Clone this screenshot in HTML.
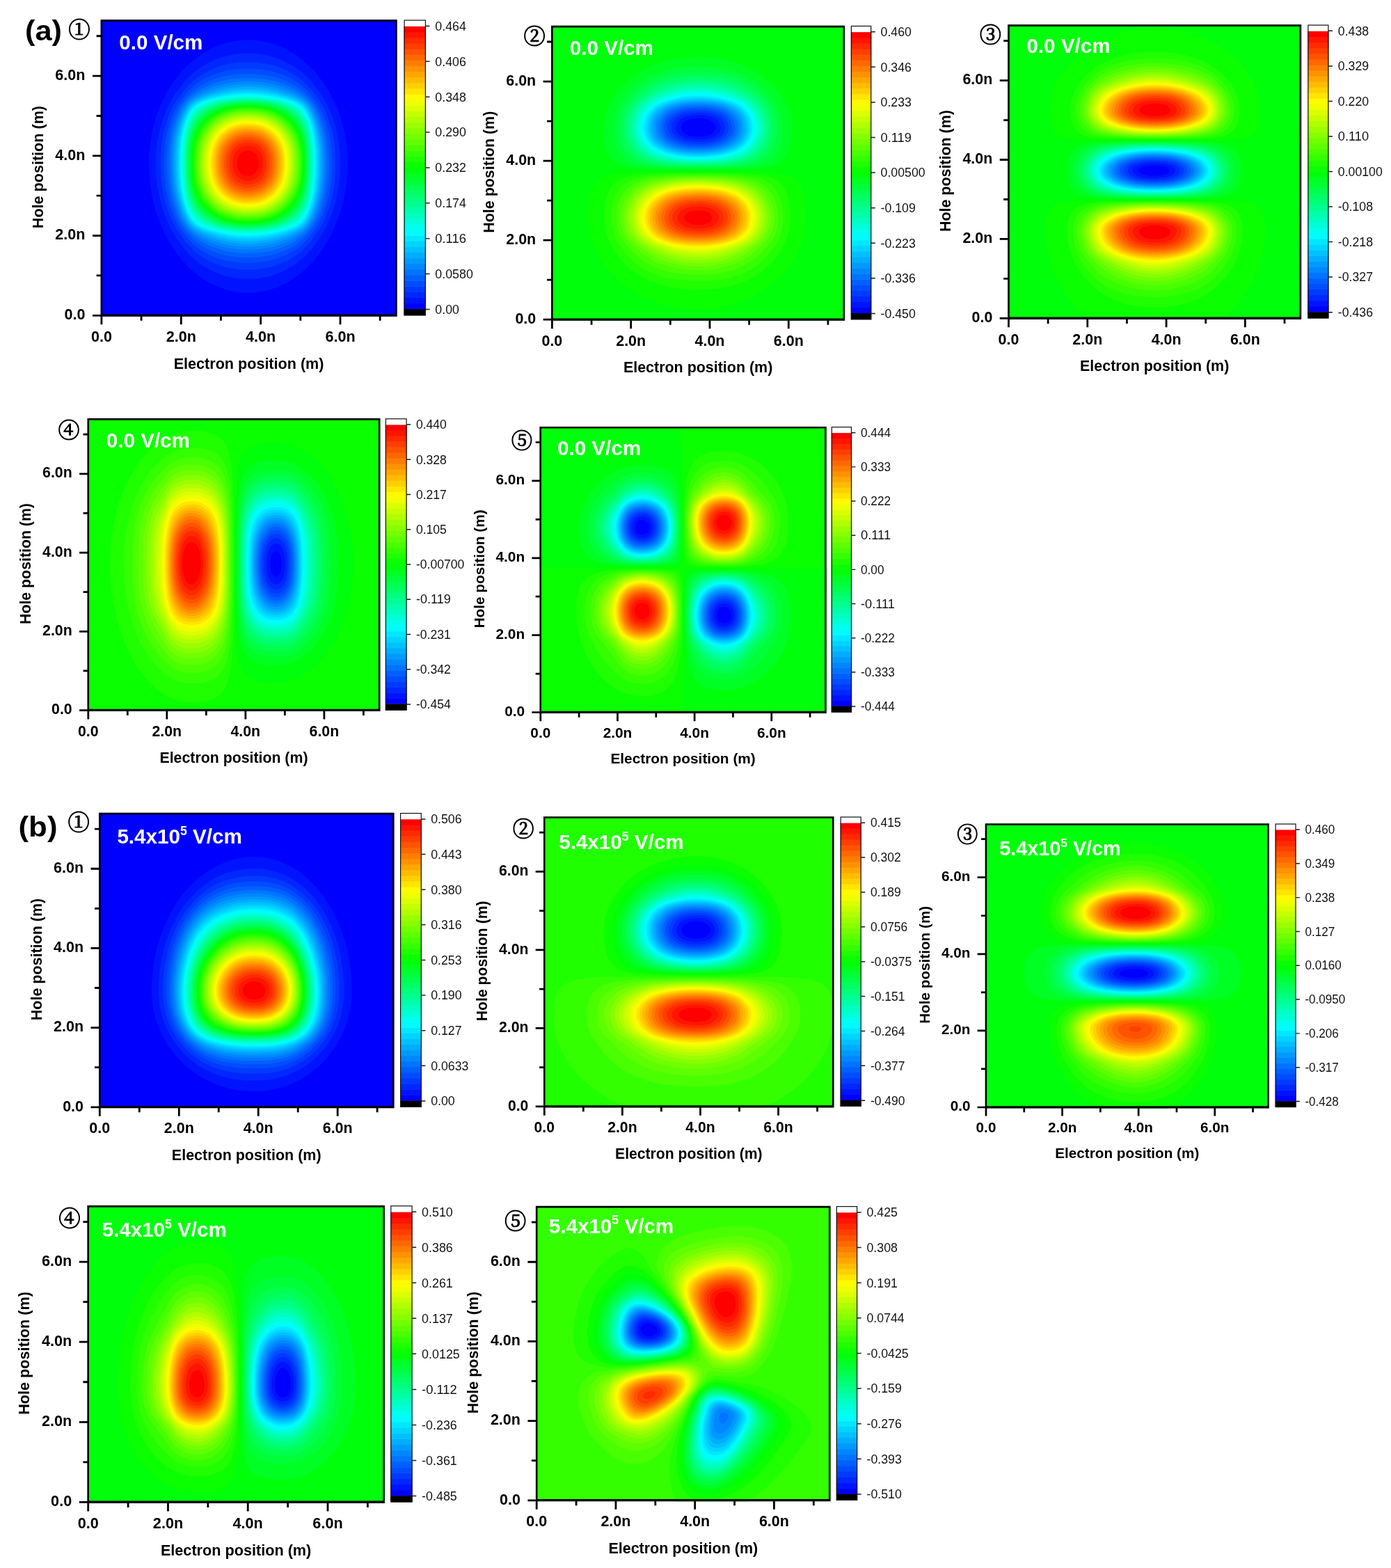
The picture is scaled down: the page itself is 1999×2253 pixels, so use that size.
<!DOCTYPE html>
<html lang="en">
<head>
<meta charset="utf-8">
<title>Electron-hole wavefunction maps</title>
<style>
html,body{margin:0;padding:0;background:#fff;}
body{width:1999px;height:2253px;overflow:hidden;}
svg{display:block;font-family:"Liberation Sans", "DejaVu Sans", sans-serif;}
text{white-space:pre;}
</style>
</head>
<body>
<svg width="1999" height="2253" viewBox="0 0 1999 2253">
<rect width="1999" height="2253" fill="#fff"/>
<!-- panel a1 -->
<g><clipPath id="ca1"><rect x="144.6" y="28.3" width="426.0" height="426.5"/></clipPath><g clip-path="url(#ca1)" fill-rule="evenodd" shape-rendering="geometricPrecision"><rect x="144.6" y="28.3" width="426.0" height="426.5" fill="#0000ff"/><path fill="#0013ff" d="M342.5 58.3l7.1 -.6 7 -.2 8 .3 7 .7 7 1.1 7 1.6 7 2.1 7 2.5 7 3 6 3 7 3.9 6 3.9 6 4.4 6 4.8 6 5.4 5 5 5.5 6.1 5 6 5.2 7 4 6 4.9 8 3.8 7 3.9 8 3 7 3.1 8 3 9 2.3 8 2 8 1.8 9 1.3 8 1 9 .7 9 .3 9 0 9 -.4 9 -.8 10 -1.1 9 -1.3 8 -1.7 9 -2.2 9 -2.5 9 -2.6 8 -3.4 9 -3.4 8 -3.8 8 -4.2 8 -4.2 7 -4.5 7 -5.1 7 -4.8 6 -5.2 6 -5.8 6 -5.8 5.4 -6 5 -7 5.2 -6 3.9 -7 4 -6 3 -7 3 -6 2.2 -7 2 -7 1.6 -7 1.2 -8 .7 -7 .2 -6 -.2 -7 -.6 -7 -1.1 -7 -1.6 -7 -2.1 -7 -2.5 -6 -2.6 -6 -3 -7 -4 -6 -3.9 -6 -4.4 -6 -4.9 -5 -4.6 -5.9 -5.9 -5.1 -5.7 -5 -6.1 -4.6 -6.2 -4.8 -7 -4.2 -7 -3.9 -7 -4 -8 -3.2 -7 -3.6 -9 -3.1 -9 -2.1 -7 -2.2 -8 -2 -9 -1.7 -9 -1.2 -8 -1 -9 -.7 -9 -.3 -9 0 -9 .3 -8 .6 -9 1 -8 1.2 -8 1.8 -9 1.9 -8 2.2 -8 2.2 -7 2.9 -8 2.9 -7 3.2 -7 4.2 -8 4 -7 4.4 -7 4.2 -6 5.4 -7 5.2 -6 5 -5.3 5 -4.8 6 -5.3 6 -4.7 6 -4.1 7 -4.4 6 -3.2 6 -2.8 7 -2.9 6 -2 7 -2 7 -1.5z"/><path fill="#0027ff" d="M341.7 77.3l6.9 -.6 7 -.2 7 .2 7 .5 6 .7 7 1.3 7 1.7 6 1.8 6 2.2 6 2.6 6 2.9 6 3.4 5 3.2 5 3.6 5 4 5.2 4.7 4.8 4.8 4.6 5.2 4.8 6 4.5 6 4.7 7 3.7 6 3.3 6 2.9 6 2.9 7 3 8 2.2 7 2.1 8 1.8 8 1.3 7 1.1 8 .9 9 .5 9 .1 8 -.2 9 -.5 9 -.9 9 -1.1 8 -1.5 8 -1.7 8 -2.1 8 -2.8 9 -2.9 8 -2.5 6 -2.7 6 -3.1 6 -4.1 7 -4.5 7 -4.2 6 -5.4 7 -4.2 5 -5 5.3 -5 4.7 -5 4.2 -6 4.5 -6 3.9 -7 3.9 -6 2.9 -6 2.5 -6 2.1 -6 1.8 -7 1.5 -7 1.2 -7 .7 -6 .3 -7 0 -6 -.3 -7 -.7 -7 -1.2 -6 -1.4 -6 -1.7 -6 -2 -6 -2.5 -6 -2.9 -6 -3.3 -5 -3.1 -6 -4.3 -5 -4 -5 -4.5 -4 -3.9 -4.2 -4.7 -5 -6 -4.4 -6 -4.8 -7 -4.3 -7 -4 -7 -2.9 -6 -2.7 -6 -2.3 -6 -2.8 -8 -2.4 -8 -2 -8 -1.7 -8 -1.4 -8 -1.2 -9 -.7 -8 -.5 -9 -.2 -8 .1 -8 .5 -8 .6 -7 1 -8 1.5 -9 1.5 -7 2.1 -8 2.4 -8 2.4 -7 2.9 -7 2.7 -6 3.1 -6 3.6 -6 3.9 -6 4.2 -6 4.6 -6 4.4 -5.3 5 -5.4 5 -4.8 5 -4.2 5 -3.8 6 -4.1 6 -3.5 6 -3.1 6 -2.7 6 -2.2 7 -2.2 6 -1.5 7 -1.4z"/><path fill="#003aff" d="M338.6 90.3l7 -.6 7 -.3 7 0 7 .2 6 .6 7 .9 6 1.1 6 1.5 6 1.7 6 2.2 5 2 6 2.9 6 3.3 5 3.2 5 3.6 4 3.2 4 3.6 4 4 4 4.6 4.3 5.3 5.3 7 3.5 5 3.1 5 3.2 6 2.3 5 2.8 7 2.1 6 2.1 7 1.9 7 1.7 8 1.2 7 .9 7 .8 8 .4 8 .2 8 -.2 8 -.4 8 -.6 8 -1 8 -1.1 7 -1.3 7 -1.9 8 -1.9 7 -2.6 8 -2.3 6 -3 7 -2.9 6 -2.9 5 -3.9 6 -6.4 9 -4.4 5.6 -4 4.7 -4 4.2 -4 3.7 -5 4.1 -5 3.6 -6 3.7 -6 3.3 -6 2.8 -6 2.4 -7 2.3 -6 1.6 -7 1.4 -7 1 -6 .5 -7 .3 -7 0 -7 -.3 -6 -.6 -7 -1 -6 -1.2 -6 -1.5 -6 -1.9 -5 -1.9 -5 -2.1 -6 -3 -5 -2.9 -5 -3.2 -5 -3.7 -5 -4.1 -4 -3.8 -4 -4.2 -4 -4.8 -4.6 -6 -5 -7 -3.9 -6 -2.9 -5 -3 -6 -2.2 -5 -2.8 -7 -2.3 -7 -2.1 -7 -1.7 -7 -1.7 -8 -1.2 -7 -1.1 -8 -.8 -8 -.4 -7 -.3 -8 .1 -8 .2 -8 .6 -7 .7 -7 1.2 -8 1.5 -8 1.4 -6 1.9 -7 2.5 -8 2.6 -7 2.6 -6 3 -6 2.9 -5 3.8 -5.7 5.4 -7.3 4.8 -6 4.8 -5.4 4 -4 5 -4.4 5 -3.8 4 -2.8 5 -3 6 -3.2 6 -2.8 7 -2.7 7 -2.2 6 -1.5 7 -1.4z"/><path fill="#004dff" d="M342.2 99.3l6.4 -.4 7 -.2 7 .2 7 .4 6 .5 6 .9 6 1.1 6 1.5 5 1.4 6 2.1 5 2 6 2.8 5 2.7 5 3 5 3.5 4 3.1 4 3.6 4 4.2 5.8 6.6 4 5 3 4 2.6 4 4.2 8 2.7 6 2.3 6 2 6 1.7 6 1.6 6 1.4 7 1.2 7 .9 7 .8 8 .4 8 .1 8 -.1 8 -.4 8 -.6 8 -1 8 -1 7 -1.4 7 -1.6 7 -1.9 7 -2.3 7 -2.2 6 -2.6 6 -2.9 6 -2.8 5 -3.3 5 -3.8 5 -5.8 7.3 -4 4.5 -4 4 -4 3.5 -4 3.1 -5 3.4 -5 2.9 -6 3.1 -6 2.7 -6 2.3 -6 1.8 -7 1.8 -6 1.1 -7 1 -7 .6 -6 .3 -7 0 -7 -.2 -7 -.6 -6 -.8 -6 -1 -6 -1.4 -6 -1.7 -6 -2.1 -5 -2.1 -6 -2.8 -5 -2.7 -5 -3.1 -5 -3.5 -4 -3.3 -4 -3.6 -4 -4.2 -4 -4.7 -4.4 -5.6 -3.7 -5 -3.3 -5 -2.3 -4 -2.5 -5 -2.6 -6 -2.7 -7 -2 -6 -2 -7 -1.7 -7 -1.4 -7 -1.1 -7 -.9 -7 -.8 -8 -.5 -8 -.2 -8 .1 -8 .3 -8 .5 -7 .8 -7 1.2 -8 1.5 -8 1.4 -6 1.7 -6 2.3 -7 2.2 -6 2.6 -6 3 -6 2.9 -5 3.5 -5 4.1 -5.2 6 -7 4 -4.2 4 -3.6 4 -3.3 4 -2.8 5 -3.2 6 -3.3 6 -2.8 6 -2.4 6 -2 7 -1.9 7 -1.5 7 -1.1z"/><path fill="#0060ff" d="M346.4 106.3l13.2 -.2 7 .2 6 .5 6 .7 6 .9 6 1.3 5 1.2 6 1.8 6 2.2 5 2.1 6 2.8 5 2.8 4 2.4 4 2.9 4 3.2 4 3.6 4 4 3.3 3.6 3.2 4 2.9 4 2.4 4 2.7 5 1.8 4 2.1 5 2.2 6 1.9 6 1.9 7 2.5 12 1.7 13 .6 8 .3 7 .1 8 -.1 9 -1 15 -1 8 -1.1 7 -1.6 8 -1.5 6 -2 7 -2 6 -2.7 7 -2.2 5 -3 6 -3 5 -2.8 4 -4 5 -4.6 5.2 -4 4 -4 3.5 -4 3.1 -4 2.8 -5 3 -6 3.1 -6 2.7 -5 1.9 -6 2 -6 1.6 -6 1.3 -7 1.2 -6 .7 -6 .4 -7 .3 -7 -.1 -7 -.3 -6 -.6 -6 -.7 -6 -1.1 -6 -1.4 -5 -1.4 -6 -2 -5 -1.9 -6 -2.7 -5 -2.6 -5 -3 -5 -3.4 -4 -3.2 -4 -3.6 -4 -4 -4 -4.5 -3.5 -4.3 -2.8 -4 -2.5 -4 -2.7 -5 -2.4 -5 -2.5 -6 -2.1 -6 -2.2 -7 -1.8 -7 -1.6 -7 -1.2 -7 -1.1 -7 -.7 -7 -.6 -8 -.3 -8 -.1 -8 .2 -8 .4 -8 .6 -7 1.1 -8 1 -6 1.5 -7 1.7 -7 2.2 -7 2.1 -6 2.5 -6 2.3 -5 2.7 -5 3.2 -5 3.6 -4.7 4 -4.5 5 -5 4 -3.6 4 -3.1 4 -2.8 5 -3 5 -2.7 6 -2.7 6 -2.4 6 -2 6 -1.6 6 -1.3 7 -1.2 7 -.9z"/><path fill="#0074ff" d="M344.4 112.3l6.2 -.3 7 -.1 13 .6 12 1.4 11 2.3 6 1.6 5 1.6 6 2.3 5 2.1 5 2.4 5 2.8 4 2.6 4 2.8 4 3.2 3 2.7 3 2.9 2.7 3.1 2.3 3 2.1 3 4.4 8 2.3 5 2 5 3.6 11 3 12 1.1 6 1 7 .9 8 .4 7 .3 8 .1 9 -.3 8 -.4 8 -.8 8 -1.1 8 -1.2 7 -1.5 7 -1.6 6 -2.1 7 -2.1 6 -2.4 6 -2.8 6 -2.7 5 -2.5 4 -3 4 -3.6 4 -3.1 3.1 -4 3.6 -4 3.1 -4 2.9 -5 3 -5 2.7 -6 2.8 -6 2.4 -5 1.7 -5 1.5 -6 1.4 -6 1.2 -6 .9 -6 .7 -7 .4 -7 .2 -7 -.2 -6 -.3 -7 -.7 -6 -.9 -6 -1.1 -5 -1.2 -6 -1.7 -6 -2 -5 -2 -6 -2.7 -5 -2.7 -5 -3 -4 -2.8 -4 -3.1 -4 -3.4 -3 -3 -3 -3.2 -2.9 -3.6 -2.1 -3 -2.4 -4 -2.1 -4 -2.8 -6 -2.1 -5 -2.1 -6 -1.8 -6 -1.9 -7 -1.3 -6 -1.3 -7 -1.1 -7 -.9 -8 -.5 -8 -.3 -8 -.1 -9 .2 -8 .4 -8 .7 -7 1.1 -8 1.2 -7 1.5 -7 1.9 -7 2.3 -7 2.2 -6 2.7 -6 3.1 -6 2.4 -4 2.8 -4 3.2 -3.7 3 -3 4 -3.5 4 -3.2 5 -3.4 5 -3 5 -2.6 6 -2.7 6 -2.3 6 -2 5 -1.4 7 -1.6 6 -1.1 7 -.9z"/><path fill="#0087ff" d="M342.8 117.3l12.8 -.5 12 .4 7 .6 6 .7 11 2.1 11 2.9 6 2.1 5 2 9 4.1 5 2.8 5 3.1 6 4.5 3 2.8 2.2 2.4 2.4 3 2 3 3.9 7 3.9 9 3.2 9 2.9 11 2.2 11 1 7 .7 8 .5 8 .2 8 0 9 -.3 8 -.5 8 -.8 8 -1 7 -1.3 7 -1.5 7 -1.9 7 -2.2 7 -2.2 6 -2.6 6 -2.4 5 -2.3 4 -2.7 4 -2.4 3 -2.8 3 -3.2 2.9 -3 2.4 -5 3.4 -4 2.5 -4 2.3 -6 2.9 -5 2.2 -6 2.2 -5 1.7 -6 1.6 -6 1.4 -6 1 -7 1 -6 .5 -7 .3 -7 .1 -6 -.2 -7 -.5 -7 -.9 -6 -1 -6 -1.2 -5 -1.3 -6 -1.9 -6 -2.1 -6 -2.5 -5 -2.4 -5 -2.7 -5 -3.1 -7 -5.2 -3 -2.6 -2.8 -2.8 -2.5 -3 -2.2 -3 -4 -7 -4.1 -9 -2.3 -6 -1.9 -6 -3 -11 -1.4 -7 -1 -6 -1.1 -8 -.8 -8 -.4 -8 -.2 -9 0 -9 .3 -8 .6 -8 .9 -8 1.1 -7 1.4 -7 1.8 -7 2 -7 2.2 -6 2.9 -7 2.9 -6 2.3 -4 2.8 -4 2.5 -3 3 -3 3 -2.5 4 -3 5 -3.1 5 -2.8 5 -2.5 6 -2.6 5 -1.9 6 -1.9 6 -1.7 6 -1.3 6 -1.1 7 -1z"/><path fill="#009aff" d="M345.2 121.3l12.4 -.3 12 .5 12 1.3 11 2.1 6 1.5 6 1.8 5 1.8 7 2.7 5 2.2 6 3 7 4.2 5 4.1 4 4.4 3.7 5.7 3.6 7 3.7 9 3.1 10 2.5 10 1.7 10 1 8 .6 7 .4 8 .1 8 -.1 9 -.3 8 -.6 8 -.9 8 -2.1 13 -1.6 7 -1.9 7 -2.3 7 -1.9 5 -2.5 6 -2.5 5 -3.8 6 -2.3 3 -2.6 2.7 -3 2.6 -3 2.2 -4 2.6 -4 2.3 -6 3 -5 2.2 -5 2.1 -6 2.1 -6 1.8 -6 1.6 -6 1.2 -6 1 -7 .8 -6 .5 -6 .2 -7 0 -7 -.3 -6 -.5 -6 -.7 -7 -1.2 -6 -1.3 -6 -1.6 -6 -1.9 -5 -1.8 -7 -2.9 -5 -2.4 -5 -2.6 -5 -3 -3 -2.1 -3 -2.4 -4.2 -4.2 -2.4 -3 -2 -3 -3.8 -7 -2.2 -5 -2 -5 -3.2 -10 -2.8 -11 -2.2 -12 -.9 -7 -.7 -8 -.5 -8 -.2 -9 .1 -9 .3 -8 .5 -8 .9 -8 1.1 -7 1.4 -7 1.5 -6 2 -7 2.4 -7 2.5 -6 2.9 -6 2.3 -4 2 -3 2.5 -3 2.7 -2.7 3 -2.5 3 -2.1 5 -3 5 -2.5 6 -2.7 6 -2.4 6 -2.1 6 -1.8 6 -1.5 6 -1.3 6 -1 7 -.9z"/><path fill="#00adff" d="M340.3 125.3l11.3 -.7 12 .1 11 .8 11 1.6 11 2.4 11 3.2 13 4.8 5 2.1 4 2.1 5 3.1 4.1 3.5 3.5 4 3.3 5 3.5 7 2.9 7 2.9 9 2.3 9 1.5 7 1.1 7 .8 7 .6 8 .4 9 .1 9 -.2 9 -.5 9 -.7 8 -.9 7 -1.2 7 -1.2 6 -1.7 7 -2 7 -2.1 6 -2.3 6 -3.4 7 -1.8 3 -2 3 -2 2.4 -2.5 2.6 -2.5 2.1 -3 2.1 -4 2.5 -4 2 -11 4.7 -12 4.2 -11 2.9 -6 1.2 -6 1 -7 .7 -6 .5 -7 .2 -6 -.1 -7 -.3 -6 -.6 -6 -.8 -6 -1 -6 -1.3 -6 -1.6 -6 -1.8 -6 -2.1 -7 -2.8 -6 -2.6 -7 -3.8 -5 -3.5 -4.1 -3.8 -1.9 -2.2 -2 -2.8 -1.9 -3 -2.1 -4 -3.5 -8 -3.4 -10 -2.9 -11 -1.6 -8 -1.3 -8 -.9 -8 -.7 -9 -.3 -9 -.1 -10 .3 -9 .5 -9 .9 -8 1.2 -8 1.3 -7 1.8 -7 2 -7 2.1 -6 2.5 -6 2.4 -5 2.3 -4 2.1 -3 2.3 -2.8 2 -2 3 -2.4 3 -2.1 4 -2.2 4 -2 5 -2.1 8 -2.9 6 -2 7 -2 7 -1.7 6 -1.1 6 -1z"/><path fill="#00c1ff" d="M342.5 128.3l11.1 -.5 11 .2 11 .8 11 1.7 11 2.4 14 4 11 3.8 7 3.4 4.9 3.2 3.4 3 3.4 4 3.1 5 3 6 2.7 7 2.9 9 2.2 9 1.3 7 1.1 7 .8 7 .5 8 .3 8 .1 9 -.1 9 -.5 8 -.6 8 -.9 7 -2.2 13 -1.7 7 -2 7 -1.9 6 -2.4 6 -3.4 7 -2 3.4 -2 2.8 -2 2.3 -2.6 2.5 -2.4 1.9 -3 1.9 -3 1.8 -4 1.9 -10 3.9 -13 4.2 -11 2.7 -6 1.2 -6 .9 -7 .7 -6 .4 -6 .1 -7 -.1 -6 -.3 -7 -.6 -6 -.8 -6 -1.1 -12 -2.9 -7 -2.1 -7 -2.4 -6 -2.2 -5 -2.2 -6 -3.2 -5 -3.7 -4 -4 -3.6 -5 -3.6 -7 -3.3 -8 -3.1 -10 -2.5 -10 -1.3 -7 -1.2 -8 -.9 -8 -.6 -9 -.3 -9 0 -10 .2 -9 .6 -9 .9 -8 1 -7 1.4 -7 1.7 -7 2 -7 2.1 -6 2.5 -6 2.5 -5 1.8 -3 2.1 -3 2.6 -3 2 -1.9 3 -2.3 3 -1.8 3 -1.6 4 -1.8 5 -2 7 -2.3 7 -2.1 8 -2.1 7 -1.5 6 -1.1 7 -.9z"/><path fill="#00d4ff" d="M340.6 131.3l9 -.6 10 -.1 9 .4 10 1 10 1.6 10 2.1 11 2.9 10 3.2 5 2 5 2.5 4 2.7 3 2.7 3 3.5 2.7 4.1 2.6 5 2.2 5 3.3 10 1.6 6 1.4 6 2 12 1.3 13 .5 15 -.2 16 -1 14 -1.7 13 -2.5 12 -3 11 -3.4 9 -1.8 4 -2.2 4 -1.8 2.8 -2 2.6 -2.4 2.6 -2.6 2.2 -3 2.2 -3 1.7 -7 3.2 -12 4.1 -11 3.1 -12 2.6 -11 1.5 -11 .8 -12 .1 -11 -.8 -11 -1.5 -7 -1.4 -6 -1.4 -13 -3.7 -6 -2 -5 -1.9 -4 -1.8 -3.7 -2 -3 -2 -2.5 -2 -2.1 -2 -2.5 -3 -2.1 -3 -1.8 -3 -2 -4 -1.7 -4 -2.5 -7 -2.3 -8 -2.1 -9 -1.5 -8 -1 -8 -1 -10 -.5 -10 -.1 -10 .2 -10 .5 -10 .9 -9 1.1 -8 1.6 -8 2 -8 2.4 -8 2.3 -6 1.9 -4 2.1 -4 2 -3 2.4 -3.2 2 -2 3 -2.6 3 -2 4 -2.1 4 -1.8 6 -2.1 9 -2.7 8 -2 8 -1.8 6 -1.1 7 -1z"/><path fill="#00e7ff" d="M348.5 133.3l9.1 -.2 10 .4 10 .9 9 1.2 11 2.1 10 2.5 10 2.9 7 2.8 4 2 4 2.8 3 2.7 3.2 3.9 2.6 4 2.5 5 2.4 6 2.3 7 1.6 6 1.3 6 1.3 7 .8 6 1.3 14 .4 15 -.3 16 -1.1 14 -.9 7 -1.1 7 -1.5 7 -1.4 6 -3.1 10 -3.4 8 -1.9 3.7 -2 3.2 -2 2.6 -2 2.2 -2.5 2.3 -2.5 1.9 -3 1.9 -3 1.5 -7 2.9 -10 3.2 -12 3.1 -13 2.4 -6 .8 -7 .7 -12 .4 -12 -.4 -12 -1.2 -6 -1 -7 -1.3 -13 -3.3 -10 -3.1 -7 -2.8 -3 -1.5 -3 -1.8 -3 -2.2 -2 -1.8 -2 -2.1 -2 -2.4 -2 -3 -2 -3.6 -3.3 -7.3 -3 -9 -2.1 -8 -1.6 -8 -1.3 -8 -1.1 -9 -.7 -9 -.3 -10 -.1 -10 .3 -10 .5 -9 .9 -8 1.1 -8 1.4 -7 1.7 -7 2.1 -7 2.2 -6 2.7 -6 1.7 -3 2 -3 2.4 -3 2.5 -2.5 3 -2.4 3 -1.9 3 -1.5 4 -1.7 6 -2.1 8 -2.3 14 -3.2 7 -1.2 7 -1 7 -.7z"/><path fill="#00fbff" d="M336.7 136.3l8.9 -.7 10 -.3 10 .3 9 .6 10 1.2 9 1.5 10 2.1 9 2.5 6 1.9 5 2 4 2.1 3.9 2.8 3.1 2.8 3 3.7 2.9 4.5 2.1 4.2 1.6 3.8 1.7 5 1.5 5 1.6 6 2.1 11 1.4 12 .9 14 .1 16 -.6 14 -1.4 14 -2 12 -2.6 11 -2.8 9 -1.7 4 -1.8 3.9 -1.8 3.1 -2 3 -2.2 2.8 -2 2.1 -2.5 2.1 -2.5 1.8 -3 1.8 -3 1.4 -4 1.7 -5 1.7 -12 3.5 -12 2.6 -12 1.8 -12 .9 -11 .2 -12 -.6 -11 -1.2 -12 -2.1 -11 -2.7 -11 -3.5 -4 -1.5 -4 -1.9 -3 -1.6 -3 -2.1 -2.6 -2.2 -1.9 -2 -1.7 -2 -2.1 -3 -1.8 -3 -2 -4 -2.5 -6 -2.2 -7 -2.1 -8 -1.6 -8 -1.2 -8 -1 -9 -.6 -9 -.4 -10 0 -11 .3 -10 .7 -9 1 -9 1.3 -8 1.7 -8 2 -7 2.4 -7 1.7 -4 2 -4 1.8 -3 2.2 -3 2.6 -2.9 2.3 -2.1 2.8 -2 3.4 -2 3.5 -1.6 5 -1.9 7 -2.1 7 -1.9 6 -1.3 8 -1.5z"/><path fill="#00ffee" d="M352.2 137.3l9.4 0 10 .5 10 1 9 1.3 10 2 9 2.3 8 2.6 6 2.5 4 2.3 4 3.1 3.2 3.4 3 4 2.8 5 2.2 5 2.4 7 1.9 7 1.3 6 1 6 1 7 .6 7 .8 15 -.1 17 -.8 14 -.7 7 -.9 7 -1.2 7 -1.3 6 -1.6 6 -1.5 5 -3.1 7.8 -3.4 6.2 -1.6 2.4 -2.1 2.6 -1.9 2 -3 2.6 -5 3.2 -6 2.8 -9 3.1 -10 2.7 -12 2.4 -13 1.7 -13 .8 -12 -.1 -12 -.9 -13 -1.8 -6 -1.2 -7 -1.6 -11 -3.4 -7 -2.7 -3 -1.4 -3 -1.7 -2.2 -1.5 -2.8 -2.3 -4 -4.4 -3.6 -5.3 -3 -6 -2.9 -8 -2.5 -9 -1.5 -7 -1.3 -8 -1 -8 -.7 -9 -.4 -9 -.2 -10 .2 -10 .4 -9 .7 -8 .9 -7 1.2 -7 1.4 -7 1.9 -7 2.1 -6 2.1 -5 2.2 -4.2 2 -3.2 2 -2.6 2.9 -3 2.3 -2 2.8 -2 3 -1.7 4 -1.8 4.1 -1.5 5.9 -1.9 7 -1.8 7 -1.5 7 -1.3 7 -1 8 -.8z"/><path fill="#00ffd7" d="M344 139.3l9.6 -.3 10 .1 10 .6 9 .9 9 1.3 9 1.8 8 2.1 7 2.3 5 2.1 4.1 2.1 3.9 2.7 3 2.7 3.2 3.6 2.8 4.1 2.5 4.9 2.1 5 1.6 5 1.4 5 2.3 11 1.6 12 .9 13 .3 16 -.5 15 -1.3 14 -.9 7 -1.1 6 -2.4 10 -2.5 8 -3.1 7 -1.9 3.4 -2 3 -4 4.6 -2.2 2 -2.8 2.1 -3 1.9 -3 1.5 -7 2.9 -10 3.2 -6 1.5 -6 1.2 -12 1.8 -12 1.1 -12 .2 -13 -.5 -12 -1.3 -11 -1.9 -10 -2.4 -9 -2.9 -4 -1.6 -3.9 -1.8 -5.1 -3 -2.5 -2 -2.5 -2.3 -4 -4.7 -2 -3 -2 -3.6 -3 -7.1 -2 -6.3 -1.8 -7 -1.6 -8 -1.2 -8 -1 -9 -.6 -9 -.3 -10 0 -10 .3 -9 .6 -9 .8 -8 1.3 -8 1.4 -7 1.8 -7 2 -6 2.3 -5.6 2 -3.8 2 -3.1 2 -2.6 2.6 -2.9 2.4 -2.1 3 -2.2 3 -1.8 4 -1.8 5 -1.9 6 -1.9 6 -1.6 6 -1.3 13 -2.1 7 -.8z"/><path fill="#00ffc0" d="M337.5 141.3l9.1 -.6 10 -.2 10 .2 9 .7 9 1 9 1.4 8 1.8 7 1.9 7 2.5 5 2.3 4 2.3 3.5 2.7 3.5 3.3 3 3.7 2.5 4 2.5 5.1 1.5 3.9 1.7 5 2.4 10 1.8 11 1.3 13 .5 15 -.3 16 -.9 14 -1.8 13 -2 10 -2.6 9 -1.6 4.3 -1.7 3.7 -3.3 5.8 -2 2.8 -2 2.3 -2.1 2.1 -2.9 2.4 -2.3 1.6 -3.3 2 -6.3 3 -9.1 3.2 -10 2.6 -11 2 -12 1.3 -12 .6 -12 -.2 -12 -.9 -12 -1.6 -10 -2.2 -9 -2.6 -8.2 -3.2 -3.8 -1.9 -3 -1.8 -5 -3.7 -2 -1.9 -2.4 -2.7 -3.6 -5.1 -2 -3.7 -1.5 -3.2 -2.2 -6 -1.8 -6 -1.6 -7 -1.4 -8 -1.1 -8 -.8 -9 -.4 -9 -.2 -9 .1 -10 .4 -9 .6 -8 .9 -8 1.4 -8 1.5 -7 1.8 -6 2.1 -6 1.9 -4 1.6 -3 2 -3 2.3 -3 2.4 -2.5 3 -2.6 3 -2.1 3.2 -1.8 4.3 -2 4.5 -1.7 5 -1.6 6 -1.6 6 -1.3 7 -1.3z"/><path fill="#00ffaa" d="M343.6 142.3l9 -.3 10 0 10 .6 9 .8 8 1.2 8 1.6 8 2.1 6 2.1 5 2.1 5.1 2.8 4.3 3 3.6 3.3 3.2 3.7 2.8 4.2 2.5 4.8 2.3 6 1.6 5 1.2 5 2.1 11 1.3 12 .7 14 0 16 -.8 14 -1.5 13 -1 6 -1.3 6 -2.3 8 -2.8 7.3 -3 5.8 -2 2.9 -2.4 3 -1.8 2 -2.8 2.5 -3 2.3 -3 2 -6.2 3.2 -7.6 3 -9.2 2.7 -11 2.2 -12 1.5 -12 .6 -12 0 -12 -.8 -12 -1.5 -10 -2.1 -9 -2.6 -7.6 -3 -6.4 -3.4 -5.2 -3.6 -2.3 -2 -2.5 -2.5 -2 -2.4 -2 -2.8 -2 -3.3 -1.5 -3 -2.8 -7 -1.8 -6 -1.7 -7 -1.2 -7 -1.1 -8 -.8 -8 -.5 -9 -.2 -9 .1 -10 .3 -9 .6 -8 .8 -7 1.1 -7 1.3 -6 1.5 -6 1.9 -5.7 2.2 -5.3 1.8 -3.4 2 -3.2 2.6 -3.4 2.4 -2.5 2.8 -2.5 3.2 -2.3 3 -1.8 4 -2.1 4.4 -1.8 5.6 -1.9 5 -1.4 6 -1.4 12 -2 7 -.8z"/><path fill="#00ff93" d="M335.6 144.3l9 -.7 9 -.3 10 .1 9 .5 9 .9 8 1.2 8 1.7 7 2 6 2.2 5.2 2.4 5.2 3 4.6 3.5 3.6 3.5 3.2 4 3.1 5 2.1 4.4 1.7 4.6 1.3 4 2.3 10 1.7 11 1 13 .4 16 -.5 15 -1.2 13 -1.9 12 -2.2 9 -2.6 7.6 -3 6.4 -2 3.3 -1.9 2.7 -4.1 4.6 -2.7 2.4 -2.6 2 -3 2 -3.4 2 -6.3 3 -4 1.5 -4.5 1.5 -9.5 2.4 -11 1.8 -12 1.1 -12 .3 -12 -.4 -11 -1.1 -11 -1.8 -9 -2.2 -8 -2.8 -7.1 -3.3 -3.4 -2 -3 -2 -4.8 -4 -2.7 -2.8 -2 -2.4 -2 -2.8 -1.8 -3 -2.8 -6 -1.9 -5 -1.7 -6 -1.6 -7 -1.2 -7 -.9 -7 -.7 -8 -.4 -9 -.2 -9 .1 -9 .4 -9 .7 -8 .8 -7 1.2 -7 1.4 -6 1.6 -5.6 2 -5.4 1.8 -4 1.6 -3 2 -3 2.6 -3.3 2.5 -2.7 2.5 -2.2 3.8 -2.8 3.3 -2 3.9 -2 4.7 -2 4.3 -1.5 4.9 -1.5 5.1 -1.2 6 -1.2z"/><path fill="#00ff7c" d="M339.5 145.3l9.1 -.5 10 -.2 9 .3 9 .7 9 1.2 7.9 1.5 7.1 1.8 6 2.1 6 2.7 5 2.8 5 3.4 4 3.6 3.2 3.6 3.4 5 2.4 4.5 2.3 5.5 1.6 5 1.1 4.3 2 10.7 1.4 12 .6 13 -.1 15 -.8 14 -1.5 12 -1.1 6 -1.2 5 -2.3 7.5 -3 7.1 -1.8 3.4 -1.9 3 -4 5 -4.3 4.1 -3 2.4 -3 2 -7 3.9 -7 3 -4 1.3 -5 1.4 -10 2 -11 1.3 -12 .7 -12 -.1 -11 -.8 -11 -1.5 -10 -2.2 -7.8 -2.5 -6.9 -3 -6.9 -4 -5.4 -4.1 -3 -2.7 -2 -2.2 -3.7 -5 -3.3 -5.8 -3 -7.2 -1.6 -5 -1.5 -6 -1.3 -7 -1 -7 -.7 -8 -.5 -8 -.2 -8 0 -9 .7 -15 .7 -7 1 -7 1.2 -6 1.5 -6 1.7 -5.2 2 -4.8 2 -4 2 -3.2 2 -2.8 3 -3.4 2.8 -2.6 3.2 -2.5 3.8 -2.5 3.5 -2 4.2 -2 4.5 -1.8 4 -1.3 5 -1.4 5 -1.1 6 -1z"/><path fill="#00ff66" d="M344 146.3l9.6 -.3 9 0 9 .5 9 1 8 1.3 7 1.6 6.4 1.9 6.6 2.7 6 3.2 5 3.4 4.5 3.7 3.5 3.8 3.2 4.2 2.9 5 2.6 6 2 6 1.3 4.8 1.1 5.2 1.5 11 .9 13 .1 14 -.4 13 -1.2 12 -1.9 11 -2.4 9 -2.7 7 -3.1 6 -3.9 5.7 -2 2.4 -2.9 2.9 -3.1 2.7 -3 2.2 -6.7 4.1 -6.3 3 -8 2.8 -9 2.2 -10 1.5 -11 .9 -12 .3 -11 -.5 -11 -1.2 -10 -1.9 -8 -2.3 -7.1 -2.8 -3.9 -1.9 -3.6 -2.1 -3.4 -2.3 -3 -2.2 -4.9 -4.5 -4.2 -5 -3.7 -6 -2.9 -6 -2.4 -7 -1.6 -6 -1.2 -6 -.9 -6 -.8 -7 -.5 -8 -.3 -8 -.1 -9 .2 -8 .4 -7 .7 -7 .8 -6 1.1 -6 1.3 -5.4 1.4 -4.6 1.6 -4.4 2.1 -4.6 1.9 -3.3 2.4 -3.7 2.6 -3.2 2.7 -2.8 3.3 -2.8 3 -2.2 4 -2.5 4.6 -2.5 4.4 -1.9 4 -1.5 5 -1.5 4.6 -1.1 5.4 -1.1 6 -.8z"/><path fill="#00ff4f" d="M351.2 147.3l9.4 0 10 .5 9 .9 8 1.3 7 1.7 7 2.3 6 2.6 6 3.4 5 3.5 5 4.4 3.8 4.4 3.2 4.7 3 5.6 2.3 5.7 1.8 6 1.8 8 1.4 10 .8 12 .2 14 -.5 13 -1.1 11 -1.7 9.6 -2.2 8.4 -1.4 4 -1.6 4 -1.8 3.6 -2 3.4 -4 5.6 -2.1 2.4 -2.9 2.9 -3 2.5 -3 2.2 -7 4.3 -7 3.3 -8 2.7 -9 2.1 -10 1.4 -11 .7 -11 .1 -11 -.7 -10 -1.2 -9 -1.9 -7.7 -2.4 -7.1 -3 -6.2 -3.5 -6.3 -4.5 -2.7 -2.3 -2.7 -2.7 -4.3 -5.2 -2 -3 -2 -3.6 -3 -6.6 -2.5 -7.6 -2 -9 -1 -6 -.7 -6 -.8 -14 0 -16 .3 -7 .6 -7 1.6 -11 1.1 -5 1.3 -5 1.4 -4 1.7 -4.3 2 -4 2 -3.3 2.4 -3.4 2.6 -3.1 2.9 -2.9 3.1 -2.6 4 -2.9 4 -2.5 3.9 -2 4.1 -1.8 4 -1.5 5 -1.5 5 -1.2 5 -1 11 -1.3z"/><path fill="#00ff39" d="M339.7 149.3l8.9 -.6 9 -.1 9 .2 9 .8 8 1.2 7.1 1.5 6.7 2 6.2 2.5 6 3.1 5.2 3.4 4.8 3.8 4.2 4.2 3.8 4.9 3 4.8 3 6.3 2 5.7 1.2 4.3 1.1 5 1.5 10 .9 12 .2 13 -.5 13 -1.1 11 -1.8 10 -1.3 5 -1.2 3.8 -2.9 7.2 -3.3 6 -3.8 5.4 -2.3 2.6 -2.7 2.7 -3 2.7 -3 2.3 -6.6 4.3 -6.4 3.2 -7.7 2.8 -8.3 2.1 -10 1.7 -10 .8 -11 .2 -10 -.5 -10 -1.1 -9 -1.8 -8.2 -2.4 -7.1 -3 -6.7 -3.7 -6 -4.3 -5.6 -5 -4.4 -5.2 -3.8 -5.8 -3.2 -6.5 -2.4 -6.5 -1.4 -5 -1.2 -5.3 -1 -6 -.8 -6.7 -.5 -7 -.3 -7 -.1 -8 .1 -8 1 -13 .6 -5 1.1 -6 1.1 -5 1.5 -5 1.5 -4 1.8 -4 2 -3.7 2.1 -3.3 2.2 -3 2.7 -3.1 3 -2.9 3.6 -3 3.4 -2.4 4 -2.4 4 -2.1 4 -1.8 8 -2.7 5 -1.3 5 -1z"/><path fill="#00ff22" d="M344.4 150.3l9.2 -.4 9 .1 9 .6 8 1 7 1.3 7 1.9 6 2.2 6 2.9 5.6 3.4 5.4 4 4.2 4 3.8 4.4 3.2 4.6 3.3 6 2.5 6.3 2 6.7 1.1 5 .8 5 1.1 10 .5 13 -.3 13 -.8 11 -1.4 9.4 -2 8.6 -2.8 8 -3.2 6.6 -4 6.2 -4.4 5.2 -2.6 2.6 -3 2.6 -3 2.3 -3.6 2.5 -6.4 3.6 -7 2.9 -8 2.5 -9 1.8 -9 1 -10 .5 -11 -.2 -9 -.8 -9 -1.5 -8 -2 -4 -1.3 -4 -1.6 -7 -3.6 -6 -3.9 -6 -5 -5 -5.3 -4 -5.5 -3.6 -6.6 -2.9 -7 -2.1 -7 -1.1 -5 -1 -6 -1.2 -12 -.3 -7 -.1 -8 .5 -14 1.2 -11 .9 -5 1.2 -5 2.5 -8 1.7 -4 2.1 -4 2.2 -3.6 2.5 -3.4 2.5 -3 3 -3 3 -2.6 3.1 -2.4 3.9 -2.6 4 -2.2 4 -1.9 4 -1.7 4 -1.3 4.7 -1.3 9.3 -1.8z"/><path fill="#00ff0b" d="M354.5 151.3l10.1 .2 9 .8 8 1.2 8 1.9 7 2.4 6 2.6 6 3.5 6 4.5 5 4.7 4.3 5.2 3.7 5.6 3 6.1 2.6 7.3 1.8 7 1.3 8 .9 9 .4 11 -.2 12 -.8 10.5 -1.4 9.5 -1.9 8 -2.7 7.8 -3 6.3 -4 6.4 -2.7 3.5 -2.3 2.5 -3 3 -2.9 2.5 -6.1 4.5 -3 1.8 -4 2.1 -4 1.8 -4 1.5 -8 2.2 -9 1.7 -9 .9 -10 .3 -10 -.4 -9 -1 -9 -1.8 -8 -2.4 -7 -2.9 -6 -3.3 -6 -4.2 -3.3 -2.8 -2.7 -2.6 -4.7 -5.4 -4 -6 -3.3 -6.3 -2.9 -7.7 -2.1 -8 -1.5 -9 -.9 -9 -.4 -12 .2 -12 .8 -10 1.6 -10 2.1 -8 2.6 -7 1.5 -3.1 2 -3.6 2.1 -3.3 2.3 -3 2.6 -3 3 -3 3 -2.6 3.2 -2.4 3 -2 3.8 -2.2 4 -2 4 -1.7 8 -2.5 9 -1.9 10 -1.2z"/><path fill="#0aff00" d="M343.5 153.3l8.1 -.5 9 0 8 .5 8 .9 7 1.4 7 1.9 6 2.2 6 2.9 6 3.7 5 4 4.2 4 4.3 5 3.5 5.3 3 5.7 2.4 6 1.7 6 1.8 9 1.1 10 .5 11 -.3 12 -.8 10 -1.4 9.2 -2 8.1 -2.8 7.7 -1.9 4 -1.6 3 -4 6 -2.4 3 -2.8 3 -5.5 5 -6 4.4 -6.6 3.6 -7.3 3 -7.1 2.1 -9 1.8 -9 1 -10 .3 -9 -.4 -9 -.9 -8 -1.6 -7.9 -2.3 -7.1 -2.9 -6 -3.2 -6 -4.2 -3.2 -2.7 -2.8 -2.7 -4.7 -5.3 -4.2 -6 -3.1 -5.7 -2.9 -7.3 -2.1 -7 -1 -5 -.8 -5 -1.1 -11 -.4 -13 .6 -13 1.1 -10 1.9 -9 1.2 -4 1.4 -4 3.3 -7 2.4 -4 2.1 -3 2.5 -3 2.8 -3 3 -2.9 3 -2.4 3.7 -2.7 3.3 -2 4 -2.2 4 -1.7 8 -2.8 9 -2z"/><path fill="#1fff00" d="M353.7 154.3l8.9 .1 9 .8 8 1.2 7 1.7 6.7 2.2 6.3 2.8 5.4 3.2 5.6 4.1 5.2 4.9 4.8 5.6 3.6 5.4 3.1 6 2.4 6 1.9 7 1.5 8 .9 9 .4 11 -.2 11 -.8 9 -1.4 9 -2 8 -2.5 7 -2.9 6 -4 6.3 -5 6.1 -5.8 5.6 -3.2 2.5 -3 2.1 -6 3.4 -7 3.1 -8 2.4 -9 1.8 -9 .9 -9 .3 -9 -.3 -9 -1.1 -8 -1.6 -7 -2.2 -7 -2.9 -6.2 -3.4 -5.8 -4.2 -5.3 -4.8 -2.8 -3 -2.4 -3 -4.2 -6 -3.3 -6.4 -2.6 -6.6 -2.2 -8 -1.5 -8 -1 -10 -.3 -11 .2 -11 .8 -9 1.6 -9 2.1 -8 2.8 -7 3.3 -6 4.2 -6 2.6 -3 3 -3 5.9 -5 6.1 -4 7 -3.4 7.4 -2.6 8.6 -2.1 10 -1.3z"/><path fill="#34ff00" d="M345.6 156.3l8 -.4 9 .1 8 .7 7 1 7 1.6 6.2 2 5.8 2.5 6 3.3 5 3.5 5.3 4.7 4.6 5 3.6 5 3 5 2.8 6 2 6 1.7 7 1.3 9 .7 9.4 .1 11.6 -.6 10 -1.2 9 -1.7 8 -2.3 7 -3.1 7 -3.5 6 -4.7 6.2 -5.6 5.8 -5.4 4.4 -5.6 3.6 -6.4 3.2 -7 2.5 -8 2.1 -8 1.2 -9 .7 -9 0 -9 -.7 -8 -1.3 -8 -2 -7 -2.6 -6 -3 -6 -3.8 -5.2 -4.3 -4.9 -5 -4.7 -6 -3.7 -6 -2.9 -6 -2.4 -7 -1.8 -7 -1.4 -9.1 -.8 -10.9 -.1 -12 .8 -11 1.3 -9 2 -8 1.4 -4 1.4 -3.5 3.4 -6.5 1.9 -3 2.7 -3.6 3 -3.4 2.9 -3 3.1 -2.7 2.9 -2.3 6.1 -3.9 7 -3.3 4 -1.5 4 -1.2 9 -2z"/><path fill="#49ff00" d="M342.4 158.3l8.2 -.7 8 -.1 8 .5 7 .8 7 1.3 6 1.7 6 2.2 6 3 5.2 3.3 5 4 4.8 4.8 4 4.8 3.6 5.4 2.6 5 2.4 6 1.8 6 1.6 8 1 9 .3 10 -.2 11 -.9 9 -1.4 8 -2.2 8 -2.6 6.7 -3.3 6.3 -4.1 6 -5.2 6 -5.4 5 -5.5 4 -5.5 3.1 -6.8 2.9 -7.2 2.2 -8 1.6 -8 .9 -9 .3 -9 -.4 -8 -1 -7.5 -1.6 -6.5 -2 -7 -3 -6 -3.5 -5 -3.7 -5.2 -4.8 -4.8 -5.5 -3.9 -5.5 -3.3 -6 -2.8 -6.7 -2 -6.7 -1.7 -8.6 -1.1 -10 -.3 -12 .4 -11 1.1 -9 1.7 -8 1.2 -4 1.4 -4 3.3 -6.9 3.9 -6.1 5.1 -6.1 2.9 -2.9 3.1 -2.7 3 -2.3 3 -2 3.5 -2 3.5 -1.7 7 -2.7 8 -2.2z"/><path fill="#5eff00" d="M352 159.3l7.6 0 8 .5 7 .9 7.2 1.6 6.8 2.2 6 2.6 5 2.8 5 3.6 5 4.4 4.8 5.4 3.6 5 3.4 6 2.6 6 1.9 6 1.6 7 1 8 .5 9 0 10 -.6 9 -1.2 8 -1.6 7.1 -2.3 6.9 -2.7 6 -2 3.6 -2 3.1 -4.8 6.3 -4.9 5 -5.3 4.4 -6 3.8 -6 3 -7 2.4 -8 2 -8 1.1 -8 .4 -9 -.1 -8 -.8 -7 -1.3 -7 -1.9 -7 -2.8 -5.9 -3.2 -5.1 -3.5 -5.2 -4.5 -4.8 -5.2 -4.3 -5.8 -3.5 -6 -2.7 -6 -2.3 -7 -1.8 -8 -1.1 -8 -.5 -10 0 -10 .7 -9 1.4 -9 1.8 -7 2.7 -7 3.1 -6 4.1 -6 5.2 -6 5.2 -4.7 3 -2.2 3 -2 6 -3.2 7 -2.7 8 -2.2 8 -1.3z"/><path fill="#72ff00" d="M347.7 161.3l7.9 -.3 7 .2 7 .6 7 1.2 6 1.5 6 2 5.9 2.8 5.1 3.1 5 3.8 4.3 4.1 4.3 5 3.5 5 2.9 5.1 2.6 5.9 1.9 6 1.5 7 1 8 .5 9 -.1 10 -.7 9 -1.3 8 -1.8 7 -2.6 7 -3 6 -3.8 6 -4.9 6 -5.2 5 -5.1 3.9 -6 3.6 -6 2.7 -7 2.2 -7 1.6 -8 1 -8 .3 -8 -.3 -8 -.9 -7 -1.5 -6 -1.8 -6 -2.4 -6.2 -3.4 -5.5 -4 -5.3 -4.9 -4.4 -5.1 -4.2 -6 -3.3 -6 -2.5 -6 -2.1 -7 -1.4 -7 -1.1 -9 -.3 -10 .2 -10 1 -9 1.6 -8 2.1 -7 2.7 -6 3.4 -6 4.5 -6 4.8 -5.1 3 -2.7 2.9 -2.2 6.1 -3.8 6.8 -3.2 7.2 -2.3 8 -1.7z"/><path fill="#87ff00" d="M345.8 163.3l7.8 -.5 7 .1 7 .5 7 1.1 6 1.4 6 2 5.4 2.4 5.2 3 5.4 4 4 3.7 3.9 4.3 3.6 5 3 5 2.7 6 2.1 6 1.4 6 1.2 8 .6 8 0 10 -.6 9 -1.2 8 -1.7 6.8 -2.1 6.2 -2.9 6.2 -3.4 5.8 -4.6 6 -4.8 5 -5.2 4.3 -5.9 3.7 -6.1 2.9 -6 2.2 -7 1.7 -7 1 -8 .5 -8 -.1 -8 -.8 -7 -1.3 -6 -1.7 -6 -2.4 -5.7 -3 -5.3 -3.6 -5 -4.3 -4.6 -5.1 -3.8 -5 -3.5 -6 -2.8 -6 -2 -6 -1.8 -7 -1.3 -9 -.5 -9 .1 -10 .7 -9 1.4 -8 2 -7 2.3 -6 3.2 -6 4.1 -6 4.5 -5.1 5.4 -4.9 5.8 -4 3.6 -2 3.2 -1.5 6.8 -2.5 7.2 -1.8z"/><path fill="#9cff00" d="M344.9 165.3l6.7 -.5 7 -.1 7 .4 7 1 6 1.3 6 1.9 5 2.1 5.2 2.9 4.8 3.3 4.3 3.7 3.8 4 3.9 5.2 3 4.8 2.9 6 2.1 6 1.5 6 1.3 8 .6 8 0 9 -.6 9 -1.1 8 -1.7 6.9 -2.1 6.1 -2.8 6 -3.5 6 -3.8 5 -4.7 5 -5.1 4.3 -5 3.3 -6 3 -6 2.3 -7 1.8 -7 1.1 -7 .5 -8 0 -7 -.7 -7 -1.2 -6 -1.6 -6 -2.3 -6 -3 -5.2 -3.5 -4.8 -4.1 -4.6 -4.9 -3.8 -5 -3 -5 -2.9 -6 -2.2 -6 -1.8 -7 -1.2 -8 -.7 -9 0 -9 .6 -9 1.3 -8 1.8 -7 2.5 -6.5 3 -5.9 3.7 -5.6 4.3 -5.1 5.3 -4.9 5.7 -4 6 -3.3 7 -2.7 7 -1.8z"/><path fill="#b1ff00" d="M344.6 167.3l7 -.6 7 -.1 7 .5 6 .8 6 1.3 6 1.9 5 2.2 5 2.8 5 3.5 4.2 3.7 3.8 4.2 3.6 4.8 2.9 5 2.5 5.4 2 5.6 1.5 6 1.2 8 .6 8 -.1 9 -.5 8 -1.1 7 -1.7 7 -2 6 -2.8 6 -3.1 5.3 -4 5.4 -4 4.3 -5 4.2 -5 3.4 -6 3.1 -6 2.2 -7 1.8 -7 1.1 -7 .5 -7 -.1 -7 -.6 -7 -1.3 -6 -1.8 -6 -2.4 -5 -2.6 -5 -3.4 -4.8 -4.1 -3.7 -4 -3.8 -5 -3.1 -5 -2.9 -6 -2.1 -6 -1.8 -7 -1.3 -8 -.5 -8 -.1 -9 .7 -9 1.1 -7 1.8 -7 2.3 -6 3 -6 3.9 -6 4.3 -5 5 -4.5 5 -3.6 6 -3.3 6 -2.4 7 -2z"/><path fill="#c6ff00" d="M345 169.3l6.6 -.6 7 -.1 7 .5 6 .9 5.7 1.3 5.3 1.7 5 2.2 5 2.8 4.6 3.3 4.4 4 3.6 4 2.9 4 3 5 2.3 5 2.1 6 1.5 6 1.1 7 .6 8 -.1 9 -.6 8 -1.1 7 -1.4 6 -2.1 6 -2.7 6 -3.1 5.2 -4 5.3 -4.3 4.5 -4.7 3.9 -5 3.2 -5.8 2.9 -6.2 2.3 -6 1.5 -6 .9 -7 .5 -7 -.1 -7 -.7 -6 -1.1 -6 -1.7 -6 -2.5 -5 -2.7 -5 -3.4 -4.5 -4 -3.7 -4 -3.7 -5 -3 -5 -2.7 -6 -2.1 -6 -1.4 -6 -1.2 -8 -.6 -8 .1 -9 .6 -8 1.2 -7 1.6 -6 2.2 -6 3 -6 3.2 -5 4.2 -5 4.8 -4.5 5 -3.6 6 -3.4 6 -2.4 7 -2z"/><path fill="#dbff00" d="M345.8 171.3l5.8 -.5 7 -.1 6 .4 6 .8 5.9 1.4 5.1 1.7 5 2.2 5 2.9 4 2.8 4 3.6 4 4.4 3.1 4.4 2.9 5 2.2 5 1.6 5 1.5 6 1 7 .5 7 0 8 -.5 8 -1.1 7 -1.4 6 -2.1 6 -2.7 6 -3 5.1 -3.7 4.9 -4.3 4.4 -4.4 3.6 -4.6 3 -6 3.1 -6 2.1 -6 1.5 -6 .9 -7 .4 -7 -.2 -6 -.6 -6 -1.2 -6 -1.8 -5 -2.1 -5 -2.8 -4.8 -3.3 -4.2 -3.7 -3.9 -4.3 -3.1 -4.3 -3 -5.1 -2.5 -5.6 -2.1 -6 -1.4 -6 -1.1 -7 -.5 -8 0 -9 .7 -8 1.2 -7 1.7 -6 2.3 -6 2.7 -5.3 3.1 -4.7 4.3 -5 4.6 -4.2 5 -3.5 5 -2.8 6 -2.5 6 -1.7z"/><path fill="#efff00" d="M347.2 173.3l6.4 -.5 6 .1 6 .4 6 1 6 1.6 5 1.9 5 2.5 4 2.5 4 3.1 4 3.9 3 3.6 3 4.5 2.4 4.4 2 5 1.6 5 1.3 6 .9 7 .4 7 -.1 8 -.6 7 -1.2 7 -1.6 6 -2.3 6 -2.4 5 -3.2 5 -3.2 4 -4 4 -5 4 -5 3 -5 2.4 -6 2 -6 1.3 -6 .8 -7 .3 -6 -.3 -6 -.8 -6 -1.4 -5 -1.6 -5 -2.3 -5 -2.9 -4 -2.9 -4 -3.7 -3.5 -3.9 -3.5 -5 -2.7 -5 -2.1 -5 -1.9 -6 -1.3 -6 -1 -7 -.4 -8 .2 -8 .6 -7 1.3 -7 1.7 -6 2.4 -6 2.7 -5 3.5 -4.9 3.6 -4.1 4.4 -3.8 5 -3.5 5.1 -2.7 5.9 -2.3 6 -1.6z"/><path fill="#fffa00" d="M349.4 175.3l6.2 -.3 6 .2 6 .7 5 1 5 1.5 5 2 5 2.6 4 2.7 4 3.4 3.1 3.2 3.1 4 2.8 4.6 2.1 4.4 1.9 5 1.3 5 1.1 6 .7 7 .2 8 -.4 7 -.8 7 -1.3 6 -1.9 6 -2.1 5 -2.8 5 -3 4.2 -4 4.5 -4 3.6 -4 2.8 -5 2.8 -5 2.1 -6 1.7 -6 1.1 -6 .6 -6 0 -6 -.4 -6 -1.1 -6 -1.7 -5 -2 -4.3 -2.2 -4.5 -3 -4.2 -3.5 -3.4 -3.5 -3.1 -4 -3 -5 -2.4 -5 -1.8 -5 -1.6 -6 -1 -6 -.6 -7 -.2 -7 .3 -7 .9 -7 1.2 -6 2 -6 2.2 -5 2.8 -5 3.7 -4.8 4 -4.1 4 -3.3 5 -3.1 5 -2.4 6 -2.1 6 -1.4z"/><path fill="#ffe500" d="M354.3 177.3l5.3 .1 6 .5 6 1.1 5 1.5 5 2 5 2.7 4 2.8 3.8 3.3 3.6 4 2.9 4 2.3 4 2.2 5 1.6 5 1.2 5 .8 6 .5 6 0 7 -.4 7 -.8 6 -1.4 6 -1.6 5 -2.1 5 -2.6 4.6 -3.2 4.4 -3.6 4 -4.2 3.7 -4 2.7 -5 2.7 -5 2 -5 1.4 -6 1.1 -6 .4 -6 0 -5 -.5 -6 -1.1 -5 -1.4 -5 -2 -5 -2.7 -4 -2.8 -4 -3.5 -3.6 -4 -2.9 -4 -2.9 -5 -2.1 -5 -1.6 -5 -1.4 -6 -.8 -6 -.4 -6 0 -7 .4 -6 .8 -6 1.3 -6 1.6 -5 2.2 -5 3 -5 3 -4 3.4 -3.6 4 -3.3 4 -2.7 5 -2.6 5 -1.9 6 -1.6 6 -.9z"/><path fill="#ffd000" d="M346.8 180.3l5.8 -.6 5 -.1 6 .4 5 .8 5 1.3 5 1.7 4 1.9 4 2.4 4 3.1 3 2.8 3 3.5 2.6 3.8 2.2 4 1.7 4 1.6 5 1.2 5 .8 6 .4 7 0 7 -.5 6 -1 6 -1.2 5 -1.7 5 -2.3 5 -2.8 4.6 -3.5 4.4 -3.5 3.5 -4 3.2 -4 2.5 -5 2.4 -5 1.8 -5 1.2 -5 .7 -6 .3 -6 -.2 -5 -.7 -5 -1.1 -4.9 -1.6 -4.1 -1.8 -4 -2.3 -4 -2.8 -3.4 -3.1 -3.6 -4 -2.8 -4 -2.3 -4 -2.1 -5 -1.7 -5 -1.1 -5 -.9 -6 -.4 -7 0 -7 .6 -7 1 -6 1.3 -5 1.9 -5 2.5 -5 2.6 -4 3.4 -4 4 -3.8 4 -2.9 4 -2.3 5 -2.2 6 -1.8z"/><path fill="#ffbb00" d="M350.9 182.3l5.7 -.2 5 .2 5 .7 5 1.1 5 1.6 4 1.9 4 2.3 3.3 2.4 3.3 3 2.7 3 2.9 4 2.2 4 1.8 4 1.6 5 1.1 5 .7 5 .5 6 -.1 7 -.4 6 -.9 6 -1.3 5 -1.7 5 -2.3 5 -2.4 3.9 -3 3.9 -3.1 3.2 -3.9 3.2 -4 2.6 -4.4 2.2 -4.6 1.7 -5 1.3 -5 .7 -5 .3 -6 -.1 -5 -.6 -5 -1.1 -5 -1.6 -4 -1.8 -4 -2.3 -3.4 -2.5 -3.6 -3.3 -3 -3.4 -3 -4.3 -2 -3.6 -1.9 -4.4 -1.6 -5 -1.2 -5 -.7 -5 -.4 -6 -.1 -7 .5 -6 .9 -6 1.2 -5 1.7 -5 1.9 -4 2.7 -4.5 2.7 -3.5 3.3 -3.4 4 -3.2 4 -2.5 4 -2 5.4 -1.9 5.6 -1.3z"/><path fill="#ffa700" d="M347.3 185.3l4.3 -.5 5 -.2 5 .3 5 .7 5 1.2 4 1.4 4 1.8 3 1.8 3.5 2.5 3.3 3 2.7 3 2.5 3.5 2 3.5 1.7 4 1.4 4 1.2 5 .9 6 .3 6 0 6 -.5 6 -.8 5 -1.2 5 -1.7 5 -1.9 4 -2.4 4 -3 3.9 -3 3.1 -3.6 3 -4.4 2.8 -4 1.9 -4 1.5 -5 1.2 -4 .6 -5 .4 -5 -.1 -5 -.6 -5 -1 -4 -1.3 -4 -1.7 -4 -2.2 -3.5 -2.5 -3.4 -3 -3.1 -3.5 -2.4 -3.5 -2.3 -4 -1.8 -4 -1.3 -4 -1.2 -5 -.9 -6 -.4 -6 0 -6 .4 -6 .8 -5 1.2 -5 1.8 -5 2.1 -4.4 2.2 -3.6 3.2 -4 3.1 -3 3.9 -3 3.6 -2.2 5 -2.3 5 -1.5z"/><path fill="#ff9200" d="M355.4 187.3l4.2 .1 5 .5 5 1.1 4 1.3 4 1.8 3.8 2.2 3.2 2.4 2.9 2.6 2.6 3 2.5 3.6 1.9 3.4 1.7 4 1.2 4 1.1 5 .7 5 .3 5 -.1 6 -.4 5 -.7 5 -1 4 -1.6 5 -1.8 4 -2.3 3.9 -2.3 3.1 -2.7 3 -3.4 3 -3.6 2.5 -4 2.1 -4 1.6 -5 1.4 -4 .6 -5 .4 -5 -.1 -4 -.4 -5 -1.1 -4 -1.2 -4 -1.8 -4 -2.3 -3.6 -2.7 -3.2 -3 -2.5 -3 -2.7 -4 -2 -4 -1.6 -4 -1.2 -4 -1 -5 -.6 -5 -.3 -5 .1 -6 .4 -5 .9 -5 1 -4 1.3 -4 2 -4.3 2.2 -3.7 2.8 -3.6 3 -3 3 -2.4 4 -2.6 4 -1.9 4 -1.4 4.2 -1.1 4.8 -.7z"/><path fill="#ff7d00" d="M352 190.3l4.6 -.2 4 .2 4 .5 4 .9 4 1.3 3 1.4 3.5 1.9 3.5 2.6 2.7 2.4 2.6 3 2.1 3 2.2 4 1.4 3.4 1.1 3.6 .9 4 .7 5 .4 5 0 5 -.4 5 -.7 5 -1.3 5 -1.4 4 -1.8 4 -1.8 3 -2.2 3 -2.8 3 -3.5 3 -3.2 2.2 -4 2 -4 1.5 -4 1 -4 .7 -4 .3 -5 -.2 -4 -.4 -4 -.9 -4 -1.3 -4 -1.7 -3 -1.8 -3.3 -2.4 -3.2 -3 -2.5 -2.9 -2.1 -3.1 -1.9 -3.5 -1.5 -3.5 -1.3 -4 -1 -4 -.7 -5 -.4 -5 0 -5 .4 -5 .7 -5 1.2 -5 1.4 -4 1.8 -4 1.9 -3 2.2 -3 2.9 -3 3.4 -2.8 3.4 -2.2 3.6 -1.8 4 -1.4 5 -1.2z"/><path fill="#ff6800" d="M352.5 193.3l4.1 -.1 4 .2 4 .5 3 .7 4 1.4 3 1.3 3 1.8 3 2.2 3 2.8 2 2.4 2 2.9 2 3.8 1.3 3.1 1.2 4 .8 4 .5 4 .3 4 0 5 -.4 5 -.7 4.3 -.9 3.7 -1.3 4 -1.8 3.9 -2 3.4 -2 2.7 -3 3.2 -3 2.4 -3 2 -3 1.5 -4 1.6 -4 1 -4 .6 -4 .2 -4 -.1 -4 -.5 -4 -1 -4 -1.4 -3 -1.4 -3 -1.9 -2.9 -2.2 -3 -3 -2.1 -2.6 -2 -3.1 -1.7 -3.3 -1.3 -3.1 -1.2 -3.9 -.8 -4 -.6 -4 -.3 -5 .1 -5 .4 -5 .7 -4 1 -4 1.4 -4 1.4 -3 1.9 -3.1 2.2 -2.9 2.8 -2.9 3 -2.5 3 -1.9 3.4 -1.7 3.6 -1.3 4 -1z"/><path fill="#ff5300" d="M347.9 197.3l3.7 -.6 3 -.2 4 0 3 .3 3 .5 4 1.1 3 1.3 3 1.5 3 2.1 2 1.7 2.2 2.3 1.8 2.2 1.8 2.8 1.5 3 1.1 3 1.2 4 .7 4 .5 5 .1 5 -.3 4 -.5 4 -.9 4 -1.2 3.9 -1.3 3.1 -1.7 3 -2.1 3 -2.6 3 -2.3 2 -3 2.1 -3 1.7 -3 1.2 -4 1.2 -3 .5 -4 .4 -4 -.1 -3 -.3 -3.5 -.7 -3.5 -1.1 -3 -1.2 -3 -1.7 -2.8 -2 -2.2 -1.9 -2 -2.2 -2.2 -2.9 -1.8 -3 -1.3 -3 -1.1 -3 -1.1 -4 -.7 -4 -.4 -5 0 -5 .2 -4 .6 -4 .9 -4 1.4 -4 1.4 -3 1.8 -3 2.3 -3 2 -2.1 3 -2.5 3 -1.9 3 -1.5 3 -1.1z"/><path fill="#ff3e00" d="M352.4 200.3l3.2 -.2 4 .2 3 .4 3 .7 3 1 3 1.5 2.3 1.4 2.6 2 2.1 2.1 2 2.4 1.6 2.5 1.4 2.8 1 2.5 1 3.3 1.1 6.4 .2 4 0 4 -.4 4 -.7 4 -1.1 4 -1.1 2.9 -1 2.1 -1.9 3 -2.1 2.7 -2 2.1 -2.8 2.2 -2.2 1.4 -3 1.5 -3 1.1 -3 .7 -3 .4 -4 .2 -3 -.2 -3 -.4 -2.7 -.7 -2.8 -1 -2.5 -1.1 -3 -1.9 -2 -1.5 -2 -1.9 -2 -2.3 -1.6 -2.3 -1.7 -3 -1.3 -3 -.9 -3 -.7 -3 -.6 -4 -.3 -4 0 -4 .3 -4 .7 -4 1 -4 1.1 -2.8 1.1 -2.2 1.8 -3 2.1 -2.7 2 -2 2.9 -2.3 2.1 -1.3 3 -1.5 3 -1.1 3 -.7z"/><path fill="#ff2a00" d="M355.3 204.3l3.3 .1 3 .4 2.3 .5 2.7 .9 2.3 1.1 2.7 1.6 2 1.6 1.9 1.8 1.6 2 1.3 2 1.2 2.1 1.2 2.9 .9 3 .6 3 .6 6 -.1 4 -.2 3 -.5 3 -.8 3 -2 5 -1.7 3 -1.5 2 -1.9 2 -2.3 2 -2.3 1.5 -2 1 -2 .9 -3 .8 -3 .6 -3 .2 -3 -.1 -3 -.5 -2 -.5 -3 -1 -3 -1.5 -2 -1.3 -3.4 -3.1 -1.6 -1.9 -1.4 -2.1 -1.6 -3 -1 -2.4 -1.5 -5.6 -.4 -3 -.2 -4 .3 -6 .4 -3 .8 -3 1.9 -5 1.7 -3 1.5 -2 1.8 -2 2.4 -2 2.3 -1.5 2 -1.1 2 -.8 3 -.9 3 -.5z"/><path fill="#ff1500" d="M349.6 210.3l4 -.8 2 -.2 3 .2 4.2 .8 2.6 1 1.9 1 3.3 2.4 1.5 1.6 1.5 1.9 2 3.5 1.6 4.6 .8 5 0 6 -.7 5 -.7 2.6 -1 2.6 -1.5 2.8 -1.4 2 -3 3 -2.1 1.6 -2 1.1 -4 1.4 -4 .6 -3 0 -2 -.2 -4 -1.1 -2 -.8 -2 -1.2 -3.1 -2.4 -1.8 -2 -1.1 -1.6 -2 -3.7 -1.5 -4.7 -.7 -5 0 -6 .8 -5 1.4 -4.2 2.1 -3.8 2.9 -3.4 1.9 -1.6 1.6 -1 1.9 -1z"/><path fill="#ff0000" d="M354.2 216.3l3.4 -.1 3 .6 3 1.3 3 2.2 2 2.5 1.4 2.5 1.1 3 .7 4 0 4 -.6 4 -1 3 -1.6 3.1 -2 2.4 -3 2.3 -3 1.3 -3 .6 -3 0 -3 -.6 -3 -1.4 -2.3 -1.7 -1.8 -2 -1.9 -3 -1.1 -3 -.8 -4 -.1 -4 .5 -4 .9 -3 1.6 -3.2 2.3 -2.8 2.5 -2 3.2 -1.4z"/></g>
<path fill="#000" fill-rule="evenodd" d="M144.60 28.30h426.00v426.50h-426.00zM147.21 31.01h420.68v420.48h-420.68z"/>
<path d="M145.90 454.30v12.04M145.10 453.30h-12.04M203.08 454.30v6.52M145.10 395.94h-6.52M260.26 454.30v12.04M145.10 338.57h-12.04M317.44 454.30v6.52M145.10 281.21h-6.52M374.62 454.30v12.04M145.10 223.84h-12.04M431.81 454.30v6.52M145.10 166.48h-6.52M488.99 454.30v12.04M145.10 109.12h-12.04M546.17 454.30v6.52M145.10 51.75h-6.52" stroke="#000" stroke-width="2.81" fill="none"/>
<text x="145.9" y="490.9" font-size="21.58" font-weight="bold" text-anchor="middle" fill="#000">0.0</text>
<text x="122.5" y="459.0" font-size="21.58" font-weight="bold" text-anchor="end" fill="#000">0.0</text>
<text x="260.3" y="490.9" font-size="21.58" font-weight="bold" text-anchor="middle" fill="#000">2.0n</text>
<text x="122.5" y="344.3" font-size="21.58" font-weight="bold" text-anchor="end" fill="#000">2.0n</text>
<text x="374.6" y="490.9" font-size="21.58" font-weight="bold" text-anchor="middle" fill="#000">4.0n</text>
<text x="122.5" y="229.6" font-size="21.58" font-weight="bold" text-anchor="end" fill="#000">4.0n</text>
<text x="489.0" y="490.9" font-size="21.58" font-weight="bold" text-anchor="middle" fill="#000">6.0n</text>
<text x="122.5" y="114.8" font-size="21.58" font-weight="bold" text-anchor="end" fill="#000">6.0n</text>
<text x="357.6" y="529.6" font-size="21.58" font-weight="bold" text-anchor="middle" fill="#000">Electron position (m)</text>
<text x="61.8" y="240.1" font-size="21.58" font-weight="bold" text-anchor="middle" fill="#000" transform="rotate(-90 61.8 240.1)">Hole position (m)</text>
<text x="171.3" y="71.0" font-size="29.60" font-weight="bold" text-anchor="start" fill="#fff">0.0 V/cm</text>
<text x="113.9" y="53.7" font-size="31.41" stroke="#000" stroke-width="1.05" text-anchor="middle" font-family="'Noto Serif CJK SC', 'Noto Sans CJK SC', 'DejaVu Sans', serif" fill="#000">①</text>
<text x="36.0" y="58.0" font-size="41.00" font-weight="bold" text-anchor="start" fill="#000" textLength="53.0" lengthAdjust="spacingAndGlyphs">(a)</text>
<rect x="580.50" y="435.64" width="31.50" height="8.72" fill="#0000ff"/><rect x="580.50" y="427.52" width="31.50" height="8.72" fill="#0013ff"/><rect x="580.50" y="419.39" width="31.50" height="8.72" fill="#0027ff"/><rect x="580.50" y="411.27" width="31.50" height="8.72" fill="#003aff"/><rect x="580.50" y="403.14" width="31.50" height="8.72" fill="#004dff"/><rect x="580.50" y="395.02" width="31.50" height="8.72" fill="#0060ff"/><rect x="580.50" y="386.89" width="31.50" height="8.72" fill="#0074ff"/><rect x="580.50" y="378.77" width="31.50" height="8.72" fill="#0087ff"/><rect x="580.50" y="370.64" width="31.50" height="8.72" fill="#009aff"/><rect x="580.50" y="362.52" width="31.50" height="8.72" fill="#00adff"/><rect x="580.50" y="354.40" width="31.50" height="8.72" fill="#00c1ff"/><rect x="580.50" y="346.27" width="31.50" height="8.72" fill="#00d4ff"/><rect x="580.50" y="338.15" width="31.50" height="8.72" fill="#00e7ff"/><rect x="580.50" y="330.02" width="31.50" height="8.72" fill="#00fbff"/><rect x="580.50" y="321.90" width="31.50" height="8.72" fill="#00ffee"/><rect x="580.50" y="313.77" width="31.50" height="8.72" fill="#00ffd7"/><rect x="580.50" y="305.65" width="31.50" height="8.72" fill="#00ffc0"/><rect x="580.50" y="297.52" width="31.50" height="8.72" fill="#00ffaa"/><rect x="580.50" y="289.40" width="31.50" height="8.72" fill="#00ff93"/><rect x="580.50" y="281.27" width="31.50" height="8.72" fill="#00ff7c"/><rect x="580.50" y="273.15" width="31.50" height="8.72" fill="#00ff66"/><rect x="580.50" y="265.02" width="31.50" height="8.72" fill="#00ff4f"/><rect x="580.50" y="256.90" width="31.50" height="8.72" fill="#00ff39"/><rect x="580.50" y="248.77" width="31.50" height="8.72" fill="#00ff22"/><rect x="580.50" y="240.65" width="31.50" height="8.72" fill="#00ff0b"/><rect x="580.50" y="232.53" width="31.50" height="8.72" fill="#0aff00"/><rect x="580.50" y="224.40" width="31.50" height="8.72" fill="#1fff00"/><rect x="580.50" y="216.28" width="31.50" height="8.72" fill="#34ff00"/><rect x="580.50" y="208.15" width="31.50" height="8.72" fill="#49ff00"/><rect x="580.50" y="200.03" width="31.50" height="8.72" fill="#5eff00"/><rect x="580.50" y="191.90" width="31.50" height="8.72" fill="#72ff00"/><rect x="580.50" y="183.78" width="31.50" height="8.72" fill="#87ff00"/><rect x="580.50" y="175.65" width="31.50" height="8.72" fill="#9cff00"/><rect x="580.50" y="167.53" width="31.50" height="8.72" fill="#b1ff00"/><rect x="580.50" y="159.40" width="31.50" height="8.72" fill="#c6ff00"/><rect x="580.50" y="151.28" width="31.50" height="8.72" fill="#dbff00"/><rect x="580.50" y="143.15" width="31.50" height="8.72" fill="#efff00"/><rect x="580.50" y="135.03" width="31.50" height="8.72" fill="#fffa00"/><rect x="580.50" y="126.90" width="31.50" height="8.72" fill="#ffe500"/><rect x="580.50" y="118.78" width="31.50" height="8.72" fill="#ffd000"/><rect x="580.50" y="110.66" width="31.50" height="8.72" fill="#ffbb00"/><rect x="580.50" y="102.53" width="31.50" height="8.72" fill="#ffa700"/><rect x="580.50" y="94.41" width="31.50" height="8.72" fill="#ff9200"/><rect x="580.50" y="86.28" width="31.50" height="8.72" fill="#ff7d00"/><rect x="580.50" y="78.16" width="31.50" height="8.72" fill="#ff6800"/><rect x="580.50" y="70.03" width="31.50" height="8.72" fill="#ff5300"/><rect x="580.50" y="61.91" width="31.50" height="8.72" fill="#ff3e00"/><rect x="580.50" y="53.78" width="31.50" height="8.72" fill="#ff2a00"/><rect x="580.50" y="45.66" width="31.50" height="8.72" fill="#ff1500"/><rect x="580.50" y="37.53" width="31.50" height="8.72" fill="#ff0000"/><rect x="580.50" y="444.07" width="31.50" height="9.33" fill="#000"/><rect x="580.50" y="28.50" width="31.50" height="9.33" fill="#fff"/>
<rect x="581.10" y="29.10" width="30.30" height="423.70" fill="none" stroke="#111" stroke-width="1.20"/>
<text x="625.3" y="43.8" font-size="18.57" font-weight="normal" text-anchor="start" fill="#111" textLength="44.6" lengthAdjust="spacingAndGlyphs">0.464</text>
<text x="625.3" y="94.7" font-size="18.57" font-weight="normal" text-anchor="start" fill="#111" textLength="44.6" lengthAdjust="spacingAndGlyphs">0.406</text>
<text x="625.3" y="145.5" font-size="18.57" font-weight="normal" text-anchor="start" fill="#111" textLength="44.6" lengthAdjust="spacingAndGlyphs">0.348</text>
<text x="625.3" y="196.4" font-size="18.57" font-weight="normal" text-anchor="start" fill="#111" textLength="44.6" lengthAdjust="spacingAndGlyphs">0.290</text>
<text x="625.3" y="247.3" font-size="18.57" font-weight="normal" text-anchor="start" fill="#111" textLength="44.6" lengthAdjust="spacingAndGlyphs">0.232</text>
<text x="625.3" y="298.2" font-size="18.57" font-weight="normal" text-anchor="start" fill="#111" textLength="44.6" lengthAdjust="spacingAndGlyphs">0.174</text>
<text x="625.3" y="349.1" font-size="18.57" font-weight="normal" text-anchor="start" fill="#111" textLength="44.6" lengthAdjust="spacingAndGlyphs">0.116</text>
<text x="625.3" y="399.9" font-size="18.57" font-weight="normal" text-anchor="start" fill="#111" textLength="54.5" lengthAdjust="spacingAndGlyphs">0.0580</text>
<text x="625.3" y="450.8" font-size="18.57" font-weight="normal" text-anchor="start" fill="#111" textLength="34.7" lengthAdjust="spacingAndGlyphs">0.00</text>
<path d="M611.50 37.43h6.02M611.50 88.31h6.02M611.50 139.19h6.02M611.50 190.07h6.02M611.50 240.95h6.02M611.50 291.83h6.02M611.50 342.71h6.02M611.50 393.59h6.02M611.50 444.47h6.02" stroke="#1a1a1a" stroke-width="1.51" fill="none"/></g>
<!-- panel a2 -->
<g><clipPath id="ca2"><rect x="792.1" y="36.7" width="422.0" height="424.0"/></clipPath><g clip-path="url(#ca2)" fill-rule="evenodd" shape-rendering="geometricPrecision"><rect x="792.1" y="36.7" width="422.0" height="424.0" fill="#00ff0b"/><path fill="#0aff00" d="M917.3 246.7l37.8 -.4 63 -.1 48 .2 28 .5 16 1 11 1.4 5 1 5 1.3 4 1.5 3 1.5 2 1.2 2.6 1.9 3.2 3 1.6 2 2.1 3 2.5 5 2.2 6 1.7 7 1.3 8 .8 9 .3 10 -.2 8 -.7 8 -1.6 9 -2 8 -2.3 7 -3.2 8 -3.9 8 -4 7 -3.9 6 -3.7 5 -4.9 6 -5.5 6 -5.4 5.2 -6 5.3 -6 4.7 -6 4.3 -7 4.4 -6 3.5 -8 4 -7 3.2 -8 3.1 -8 2.7 -8 2.2 -8 1.8 -7 1.3 -8 1.1 -9 .9 -8 .3 -9 -.1 -8 -.4 -9 -.8 -8 -1.2 -9 -1.7 -8 -2 -8 -2.3 -7 -2.4 -7 -2.7 -7 -3 -8 -4 -8 -4.5 -8 -5.2 -8 -5.9 -7 -5.8 -7 -6.6 -5.9 -6.4 -5.7 -7 -5 -7 -4.9 -8 -3.6 -7 -3.5 -8 -2.8 -8 -2.1 -8 -1.5 -8 -1 -8 -.3 -8 .2 -10 .7 -9 1.1 -8 1.6 -7 2 -6 1.3 -3 1.6 -3 2.6 -4 1.7 -2 2.1 -2 4 -3 3.7 -2 5.2 -2 6.5 -1.7 7 -1.2 8 -.9 10 -.7z"/><path fill="#1fff00" d="M958.3 248.7l31.8 -.5 37 .1 29 .6 21 1.1 7.9 .7 7.1 .9 6 1 4.9 1.1 4.1 1.2 4.6 1.8 3.8 2 2.9 2 2.4 2 2 2 3.1 4 2.8 5 1.3 3 1.5 4 2 8 1.3 8 .7 9 0 10 -.6 8 -1.1 7 -2 8 -2.1 6 -2.7 6 -3.7 7 -4.4 7 -4.3 6 -4.2 5 -3.7 4 -4.6 4.4 -5 4.3 -5 3.8 -5 3.4 -6 3.6 -5 2.6 -6 2.8 -6 2.4 -6 2 -7 2 -6 1.5 -7 1.3 -7 1 -7 .8 -8 .5 -9 .3 -9 0 -9 -.4 -8 -.6 -8 -.9 -8 -1.3 -7 -1.4 -7 -1.8 -7 -2.2 -7 -2.6 -6 -2.5 -6 -3 -6 -3.4 -6 -3.9 -5 -3.7 -6 -5 -5.3 -5 -5.4 -6 -4.7 -6 -4.7 -7 -4 -7 -3.4 -7 -2.2 -6 -1.9 -7 -1.4 -7 -.7 -7 -.2 -8 .3 -9 .9 -8 1.3 -7 2 -7 1.6 -4 1.9 -4 2.6 -4 2.5 -3 2.8 -2.7 3 -2.3 3.5 -2 4.5 -2 5 -1.6 5 -1.2 6.7 -1.2 6.3 -.8 17 -1.3z"/><path fill="#34ff00" d="M965.9 250.7l28.2 -.6 30 .2 25 .8 10.5 .6 8.5 .7 8 1 6 1 5 1 5 1.4 5 1.9 4 1.9 3.6 2.1 3.4 2.5 4 3.9 3.6 4.6 1.8 3 1.5 3 2.4 6 2 7 1.3 7 .7 8 .1 8 -.6 7 -1.2 7 -1.5 6 -2.2 6 -2.5 5 -3.1 5 -5.3 7.5 -5 6.3 -4 4.6 -4 4.1 -3.9 3.5 -4.1 3.3 -4 2.9 -5 3.2 -5 2.7 -5 2.4 -5 2.1 -5 1.8 -6 1.8 -6 1.6 -7 1.4 -6 1 -7 .8 -7 .6 -8 .4 -9 .1 -9 -.2 -8 -.4 -8 -.6 -7 -.9 -7 -1.2 -7 -1.5 -7 -1.8 -6 -1.9 -6 -2.3 -5 -2.3 -6 -3.1 -5 -3 -5 -3.4 -4.5 -3.5 -5.5 -5 -5 -5.3 -5 -5.9 -6 -8 -3.2 -4.8 -2.3 -4 -2.3 -5 -1.7 -5 -1.7 -7 -.9 -6 -.5 -6 0 -7 .6 -7 1.1 -7 1.5 -6 2.1 -6 1.8 -4 2.3 -4 2.9 -4 2.8 -3 3.4 -3 2.8 -2 3.4 -2 4.9 -2.2 5 -1.8 5 -1.3 6 -1.2 6 -.9 15 -1.5z"/><path fill="#49ff00" d="M967.5 252.7l21.6 -.7 25 -.1 22 .7 18 1.2 13 1.6 6 1.1 5.3 1.2 4.7 1.4 4.3 1.6 4.3 2 3.5 2 4.2 3 3.4 3 3.6 4 2.9 4 2.8 5 2.1 5 1.7 5 1.4 6 .8 6 .4 6 -.2 6 -.7 6 -1.3 6 -1.6 5 -2.1 5 -2.7 5 -2.2 3 -3.4 4 -13.2 13.8 -7 6.3 -4 3.1 -4 2.7 -4 2.4 -5 2.6 -4 1.8 -5 2 -6 2 -6 1.7 -6 1.4 -6 1.2 -7 1 -7 .7 -7 .5 -8 .2 -8 -.1 -8 -.4 -7 -.6 -7 -.9 -7 -1.2 -7 -1.5 -7 -2 -6 -1.9 -6 -2.3 -5 -2.3 -5 -2.6 -5 -3 -6 -4.3 -5 -4.3 -6 -5.7 -9 -9.3 -3.6 -4 -2.4 -3.2 -2.4 -3.8 -2 -4 -1.9 -5 -1.6 -6 -1 -6 -.5 -6 .1 -6 .6 -6 1.1 -6 1.5 -5 1.8 -5 2.5 -5 2.5 -4 3.1 -4 3.2 -3.3 4 -3.3 4 -2.7 4 -2.2 4 -1.7 5.1 -1.8 5.9 -1.6 6 -1.2 7 -1.1 7 -.8z"/><path fill="#5eff00" d="M992.4 253.7l19.7 0 18 .5 16 1.1 14 1.8 6 1.1 5 1.2 5 1.5 4 1.5 4 1.7 4 2.2 3 1.9 3.2 2.5 3.3 3 3.5 4 2.8 4 2.9 5 2.1 5 1.7 5 1.1 5 .8 5 .3 5 -.2 5 -.7 6 -1.1 5 -1.7 5 -2.2 5 -2.3 4 -2.9 4 -2.7 3 -3.9 3.7 -9 8.1 -5 4.1 -5 3.8 -4 2.7 -4 2.4 -4 2.1 -5 2.3 -5 2 -6 2 -6 1.7 -6 1.5 -6 1.1 -6 .9 -7 .7 -7 .4 -7 .2 -8 -.3 -7 -.4 -7 -.8 -7 -1.1 -7 -1.4 -6 -1.6 -6 -1.8 -6 -2.1 -5 -2.1 -5 -2.4 -5 -2.8 -5 -3.2 -5 -3.7 -5 -4 -12 -10.6 -3.4 -3.4 -2.4 -3 -2.7 -4 -2.5 -5 -1.9 -5 -1.4 -5 -.9 -6 -.4 -6 .2 -5 .9 -6 1.2 -5 2.1 -6 2.3 -5 3.1 -5 3 -4 2.8 -3 3.3 -3 3.7 -2.7 3.7 -2.3 4 -2 4.3 -1.7 5 -1.7 5 -1.3 6.1 -1.3 6.2 -1 7.7 -1 17 -1.3z"/><path fill="#72ff00" d="M984.4 255.7l18.7 -.4 18 .3 16.9 1.1 14.1 1.7 11 2.1 5 1.3 5 1.6 4 1.6 4 1.9 4 2.3 3 2.2 3.9 3.3 2.9 3 3.1 4 2.6 4 2.5 5 1.9 5 1.5 5 .9 5 .5 5 0 4 -.5 5 -1 5 -1.5 5 -1.6 4 -2.6 5 -2.7 4 -2.5 3 -3.4 3.3 -5 4.2 -7 5.3 -5 3.6 -6 3.9 -5 2.9 -5 2.5 -5 2.1 -5 1.9 -6 1.9 -6 1.6 -6 1.3 -6 1 -7 .8 -6 .5 -7 .2 -6 0 -7 -.4 -7 -.7 -6 -.8 -7 -1.3 -6 -1.4 -6 -1.7 -6 -2 -5 -2 -5 -2.2 -4 -2.1 -5 -2.8 -5 -3.2 -12 -8.7 -4.6 -3.7 -3.4 -3.1 -2.7 -2.9 -2.9 -4 -2.3 -4 -2.3 -5 -1.6 -5 -1.1 -5 -.6 -5 0 -5 .3 -4 .9 -5 1.3 -5 1.9 -5 2.5 -5 2.4 -4 2.3 -3 2.9 -3.3 3 -2.9 3.6 -2.8 3.4 -2.2 4 -2.1 4 -1.8 4 -1.5 5 -1.5 5 -1.3 12 -2.1 14 -1.6z"/><path fill="#87ff00" d="M981 257.7l17.1 -.6 17 .1 16 .9 8 .7 7 .9 12 2.3 5 1.2 4.7 1.5 4.3 1.6 4 1.9 4 2.2 3.5 2.3 3.7 3 3 3 3.3 4 2.6 4 2.1 4 2.1 5 1.6 5 1 5 .5 5 0 4 -.5 5 -.8 4 -1.5 5 -1.6 4 -2.1 4 -2.6 4 -2.4 3 -2.9 2.9 -3 2.6 -4 2.9 -8 5.3 -6 3.7 -6 3.2 -6 2.9 -5 2 -6 2.2 -6 1.8 -5 1.3 -5 1 -6 1 -6 .7 -6 .5 -6 .2 -6 -.1 -7 -.4 -6 -.6 -6 -.8 -6 -1.1 -6 -1.4 -5 -1.5 -6 -1.9 -5 -1.9 -5 -2.2 -5 -2.4 -5 -2.7 -6 -3.6 -11 -7.2 -4 -3.2 -3 -2.9 -2.7 -3.3 -2.3 -3.4 -2.5 -4.6 -1.7 -4 -1.2 -4 -1.1 -5 -.5 -5 -.1 -4 .4 -4 1 -5 1.4 -5 1.6 -4 2 -4 2.4 -4 2.2 -3 2.6 -3 2.5 -2.5 3 -2.5 3 -2.1 4 -2.4 4 -2 3.8 -1.5 4.2 -1.5 5 -1.4 10 -2.1 13 -1.8z"/><path fill="#9cff00" d="M979 259.7l16.1 -.8 16 0 16 .8 14 1.5 12 2.1 5 1.2 5 1.5 4.7 1.7 4.3 1.9 3.8 2.1 3.2 2 3.9 3 3.2 3 2.9 3.4 2.6 3.6 2.3 4 2.2 5 1.4 4 1.2 5 .6 5 .1 4 -.3 4 -.9 5 -1.1 4 -1.5 4 -2 4 -2.5 4 -2.3 3 -2.8 2.9 -3 2.6 -3 2.2 -6 3.8 -6 3.4 -6 3.1 -6 2.7 -6 2.5 -5 1.8 -5 1.6 -6 1.6 -6 1.2 -5 .9 -6 .7 -6 .5 -11 .2 -6 -.3 -6 -.6 -11 -1.6 -6 -1.3 -5 -1.4 -11 -3.6 -11 -4.7 -11 -5.7 -5 -2.9 -5 -3.3 -3 -2.3 -3.2 -3 -2.5 -3 -2.7 -4 -2.2 -4 -1.7 -4 -1.2 -4 -.9 -4 -.5 -4 -.1 -4 .3 -4 .7 -4 1 -4 1.4 -4 1.8 -4 2.2 -4 2 -3 2.4 -3 2.9 -3 2.3 -2 3 -2.3 3 -2 4 -2.2 4 -1.8 4.3 -1.7 4.7 -1.5 10 -2.4 11 -1.8z"/><path fill="#b1ff00" d="M994.3 260.7l14.8 -.1 14 .6 13 1.3 12 2.1 10 2.5 4 1.4 4 1.5 3.5 1.7 3.6 2 3.9 2.6 3 2.4 3.1 3 2.9 3.3 2.5 3.7 2.3 4 1.7 4 1.4 4 1.2 5 .5 4 0 4 -.3 4 -.9 5 -1.2 4 -1.6 4 -1.6 3 -2.6 4 -2.4 3 -2.9 3 -2.4 2 -3.7 2.6 -4 2.4 -5 2.7 -6 2.8 -12 4.9 -10 3.3 -6 1.5 -5 1.1 -11 1.6 -11 .7 -11 -.3 -11 -1.1 -10 -1.8 -11 -2.9 -6 -2 -7 -2.7 -6 -2.5 -6 -2.8 -5 -2.6 -4 -2.3 -3.8 -2.6 -2.4 -2 -3.1 -3 -2.4 -3 -2.3 -3.4 -1.9 -3.6 -1.7 -4 -1.2 -4 -.8 -4 -.5 -4 0 -4 .4 -4 .8 -4 1.2 -4 1.6 -4 2 -4 2.6 -4 2.4 -3 2.1 -2.3 2.9 -2.7 3.1 -2.4 3 -2 3 -1.7 4 -2 4 -1.6 5 -1.7 10 -2.5 11 -2 12 -1.3z"/><path fill="#c6ff00" d="M990 262.7l14.1 -.4 13 .4 13 1.1 12 1.8 10 2.3 5 1.5 4 1.5 4.2 1.8 3.8 2 3.2 2 2.8 2 3.4 3 2.9 3 2.7 3.4 2.3 3.6 2 4 1.6 4 1.1 4 .8 4 .3 4 -.1 4 -.6 4 -.9 4 -1.4 4 -1.4 3 -2.3 4 -2.2 3 -2.2 2.5 -2.5 2.5 -3.5 2.7 -3 2 -4 2.2 -4 2 -11 4.5 -12 4 -11 2.7 -11 1.8 -11 .9 -10 0 -11 -1 -10 -1.5 -11 -2.6 -11 -3.5 -12 -4.6 -5 -2.3 -4 -2.1 -3.5 -2.2 -2.8 -2 -3.3 -3 -2.4 -2.6 -2.6 -3.4 -1.8 -3 -1.6 -3.1 -1.5 -3.9 -1.1 -4 -.6 -4 -.3 -4 .1 -3 .6 -4 1 -4 1.3 -4 1.4 -3 2.1 -3.9 2.1 -3.1 2.5 -3 2.4 -2.5 2.8 -2.5 2.7 -2 3 -2 3.6 -2 3.9 -1.8 4 -1.6 9 -2.7 11 -2.4 11.1 -1.5z"/><path fill="#dbff00" d="M987.6 264.7l13.5 -.5 13 .2 13 1 11 1.6 10 2.2 9 2.8 4.1 1.7 3.9 1.9 3.5 2.1 2.9 2 3.5 3 3 3 2.5 3 2 3 1.7 3 1.8 4 1.3 4 .9 4 .5 4 0 3 -.4 4 -.8 4 -1.2 4 -1.3 3 -2.2 4 -2 3 -2.6 3 -2 2 -2.2 2 -2.9 2.1 -3.1 1.9 -3.8 2 -8.1 3.4 -12 4 -12 3 -6 1.2 -6 .9 -11 .9 -10 0 -11 -.8 -10 -1.5 -11 -2.4 -11 -3.1 -11 -4 -4 -1.7 -3.6 -1.9 -3.4 -2 -2.7 -2 -2.4 -2 -3 -3 -2.4 -3 -2 -3 -1.6 -3 -1.7 -4 -.9 -3 -.8 -4 -.4 -4 0 -3 .3 -3 .8 -4 1.3 -4 1.2 -3 2.2 -4 1.9 -3 2.2 -2.8 2 -2.2 3 -2.8 2.8 -2.2 3 -2 3.2 -1.9 7 -3.2 8 -2.7 10 -2.4 11 -1.7z"/><path fill="#efff00" d="M986.2 266.7l12.9 -.6 12 .1 13 .8 11 1.5 10 2.1 9 2.8 4 1.6 3.5 1.7 3.5 2 3 2 3 2.4 3 2.8 2.4 2.8 2.6 3.6 2 3.4 1.7 4 1.1 3 .9 4 .5 4 0 3 -.2 3 -.8 4 -1.2 4 -1.2 3 -1.6 3 -1.9 3 -2.3 2.9 -1.9 2.1 -2.2 2 -2.9 2.3 -2.6 1.7 -3.4 1.9 -7 3 -5 1.8 -6 1.8 -11 2.7 -11 1.9 -11 1.1 -10 .3 -11 -.6 -11 -1.3 -10 -1.9 -12 -3 -9 -3 -7 -3 -3.1 -1.7 -3 -2 -2.9 -2.2 -2.9 -2.8 -2.7 -3 -2.1 -3 -1.7 -3 -1.4 -3 -1.1 -3 -.9 -4 -.6 -4 0 -3 .2 -3 .5 -3 1.1 -4 1.1 -3 1.5 -3 2 -3.5 1.8 -2.5 2.5 -3 4.7 -4.3 3 -2.2 3 -1.9 3 -1.6 4 -1.9 8 -2.8 9 -2.3 10 -1.8z"/><path fill="#fffa00" d="M985.3 268.7l12.8 -.7 12 0 12 .8 11 1.4 9 1.8 9 2.7 4 1.6 4 1.9 3 1.6 3 2 3 2.3 2.8 2.6 2.7 3 2.1 3 1.8 3 1.5 3 1.1 3 1.1 4 .6 4 .1 3 -.1 3 -.7 4 -1.1 4 -1.1 3 -1.5 3 -1.9 3 -2.4 3 -1.9 2 -2.2 2 -2.5 2 -4.9 3 -6.7 3 -4.8 1.7 -5 1.5 -10 2.4 -11 1.8 -10 1 -10 .4 -11 -.4 -11 -1 -10 -1.7 -10 -2.2 -10 -3.1 -7 -2.9 -3 -1.6 -3.1 -1.9 -2.9 -2.3 -2.9 -2.7 -2.1 -2.3 -2 -2.7 -1.8 -3 -1.4 -3 -1.1 -3 -.8 -3 -.7 -4 -.1 -3 .1 -3 .4 -3 1 -4 1.1 -3 1.4 -3 1.7 -3 2.1 -3 1.6 -2 4.5 -4.4 5 -3.6 3.5 -2 3.5 -1.7 8 -3 8 -2.2 10 -1.9z"/><path fill="#ffe500" d="M985 270.7l11.1 -.7 12 -.1 12 .6 10 1.2 10 2 8 2.3 4.3 1.7 3.7 1.7 3 1.6 3 1.8 3 2.3 2.9 2.6 2.1 2.3 2 2.7 1.9 3 1.5 3 1.2 3 1.1 4 .5 3 .2 4 -.3 4 -.5 3 -.8 3 -1 3 -1.5 3 -1.9 3 -2.3 3 -1.9 2 -4.2 3.6 -5 3.1 -6 2.7 -8 2.7 -9 2.1 -10 1.7 -10 1 -11 .5 -11 -.3 -11 -.9 -10 -1.4 -10 -2.2 -8 -2.4 -7 -2.8 -3 -1.6 -3 -1.8 -2.7 -2 -2.2 -2 -2.1 -2.1 -2.3 -2.9 -1.9 -3 -1.5 -3 -1.1 -3 -.8 -3 -.6 -3 -.2 -4 .1 -3 .4 -3 .7 -3 1 -3 1.3 -3 1.7 -3 2.1 -3 1.6 -2 4.1 -4 2.6 -2 2.8 -1.8 6.1 -3.2 6.9 -2.7 8.1 -2.3 8.9 -1.8z"/><path fill="#ffd000" d="M985.3 272.7l10.8 -.7 12 -.1 11 .6 10.4 1.2 8.6 1.7 8 2.4 7.1 2.9 3.8 2 3.1 2 2.6 2 2.2 2 2.2 2.4 2 2.6 1.9 3 1.4 3 1.1 3 .8 3 .5 3 .2 3 0 3 -.5 4 -.7 3 -1 3 -1.4 3 -1.8 3 -3.3 4 -2.1 2 -2.4 2 -4.7 3 -6.4 3 -7.6 2.5 -8 1.9 -9 1.4 -9 .9 -11 .5 -11 -.2 -10 -.7 -10 -1.3 -9 -1.8 -8 -2.2 -4 -1.5 -3.4 -1.5 -5.6 -3.2 -2.5 -1.8 -2.5 -2.1 -2 -2.1 -2.2 -2.8 -1.3 -2 -1.6 -3 -1.2 -3 -.8 -3 -.5 -3 -.2 -3 0 -3 .3 -3 .6 -3 .9 -3 1.3 -3 1.6 -3 3.1 -4.3 4 -4 5.1 -3.7 5.9 -3.2 7 -2.8 7 -2 9 -1.8z"/><path fill="#ffbb00" d="M986.4 274.7l10.7 -.6 11 -.1 11 .6 9.3 1.1 8.7 1.8 7.4 2.2 7 3 5.6 3.3 2.2 1.7 2.8 2.4 2 2.2 1.8 2.4 1.3 2 1.6 3 1.1 3 .9 3 .5 3 .2 3 -.2 4 -.4 3 -.7 3 -1.1 3 -1.4 3 -1.3 2 -3.3 4 -2.1 2 -2.5 2 -4.9 3 -5.5 2.5 -7 2.4 -7 1.6 -8 1.3 -9 .9 -11 .4 -11 -.1 -10 -.7 -10 -1.3 -9 -1.9 -6.9 -2.1 -6.9 -3 -5 -3 -2.6 -2 -2.2 -2 -3.4 -4 -1.3 -2 -1.5 -3 -1.6 -5 -.6 -3 -.2 -3 0 -3 .4 -3 .6 -3 .9 -3 1.3 -2.9 1.2 -2.1 2.9 -4 4 -4 4.9 -3.6 6 -3.2 6 -2.3 8 -2.3 8 -1.6z"/><path fill="#ffa700" d="M988.7 276.7l10.4 -.5 11 0 9 .6 9 1.1 8 1.8 6.5 2 6.5 2.9 5.2 3.1 2.6 2 2.2 2 2 2.1 2 2.7 1.3 2.2 1.4 3 1.5 5 .4 3 .1 3 -.1 3 -.5 3 -1.5 5 -1.4 3 -1.3 2 -1.5 2 -1.8 2 -3.6 3.1 -5 3.2 -5.8 2.7 -6.2 2.1 -7 1.6 -8 1.3 -8 .7 -10 .4 -11 -.2 -10 -.7 -9 -1.2 -8 -1.7 -7 -2.2 -6 -2.7 -5 -3.1 -4 -3.3 -1.9 -2 -1.6 -2 -1.5 -2.4 -1.3 -2.6 -.7 -2 -.8 -3 -.5 -3 -.2 -3 .2 -3 .4 -3 1.5 -5 1.4 -2.8 1.3 -2.2 3.2 -4 2.1 -2 2.4 -1.9 4.7 -3.1 5.3 -2.6 6.6 -2.4 6.4 -1.7 7 -1.3z"/><path fill="#ff9200" d="M992.8 278.7l9.3 -.3 10 .2 8 .6 8 1.2 7 1.6 6 2 5.8 2.7 5.2 3.3 4.2 3.7 3.2 4 1.6 2.6 1.1 2.4 .9 2.8 .5 2.2 .4 5 -.2 3 -.5 3 -.8 3 -.8 2 -1 2 -1.6 2.4 -3.2 3.6 -3.8 3.1 -5 3.1 -6 2.6 -6 1.9 -6 1.3 -7 1.1 -9 .7 -10 .3 -10 -.3 -9 -.8 -8 -1.2 -7 -1.7 -6 -2.1 -6 -2.9 -4.8 -3.1 -2.4 -2 -1.9 -2 -2.9 -3.9 -1.9 -4.1 -.7 -2 -.6 -3 -.3 -3 0 -3 .4 -3 .5 -2 .6 -2 1.3 -3 2.5 -4 3.7 -4 3.7 -3 4.8 -2.9 5 -2.3 6 -2.1 7 -1.7 7 -1.2z"/><path fill="#ff7d00" d="M986.7 281.7l8.4 -.7 9 -.2 9 .2 8 .8 7 1.2 7 1.9 6 2.3 5 2.7 4 2.9 2.1 1.9 1.9 2 2.8 4 1.2 2.5 .9 2.5 .5 2 .4 3 -.1 5 -.6 3 -.6 2 -1.3 3 -1.2 2 -2.3 3 -3.7 3.5 -4 2.7 -5 2.6 -5 1.9 -6 1.6 -7 1.3 -7 .8 -9 .4 -9 0 -9 -.5 -8 -1.1 -6.1 -1.2 -6.7 -2 -5.2 -2.2 -5 -2.7 -4 -3.1 -3 -3.1 -2.6 -3.9 -1.7 -4 -.8 -4 -.2 -3 0 -2 .5 -3 .5 -2 1.6 -4 2.6 -4 2.7 -3 3.6 -3 4.9 -3 4.9 -2.3 6 -2 7 -1.7z"/><path fill="#ff6800" d="M992.9 283.7l8.2 -.4 8 .1 8 .6 7 1 7 1.7 5 1.8 4.8 2.2 4.2 2.7 3.8 3.3 1.7 2 1.5 2 2 4 1.2 4 .3 4 -.2 3 -.4 2 -1.4 4 -1 2 -1.3 2 -2.7 3 -3.6 3 -3.9 2.4 -5 2.2 -5 1.7 -6 1.4 -6 .9 -7 .7 -8 .2 -9 -.2 -7 -.6 -7 -1.1 -6.6 -1.6 -5.4 -1.9 -4.6 -2.1 -4.4 -2.8 -3.7 -3.2 -2.4 -3 -1.2 -2 -1 -2 -1.1 -4 -.3 -2 -.1 -3 .5 -4 1.4 -4 1.9 -3.3 3.1 -3.7 3.5 -3 4.4 -2.8 4 -1.9 5 -1.9 6 -1.6 6 -1z"/><path fill="#ff5300" d="M990.9 286.7l7.2 -.5 8 -.1 7 .3 7 .9 6 1.2 5 1.5 5 2.1 4 2.3 4 3.2 2.8 3.1 1.9 3 1.5 4 .6 4 -.3 4 -1 4 -.9 2 -1.2 2 -2.5 3 -2.9 2.5 -3.8 2.5 -4.1 2 -5.1 1.8 -4.8 1.2 -5.2 .9 -6 .7 -7 .3 -8 -.1 -7 -.5 -6 -.8 -6 -1.3 -5 -1.5 -5 -2.2 -4 -2.3 -3 -2.3 -2.7 -2.9 -2 -3 -.9 -2 -.7 -2 -.7 -4 .2 -4 1.1 -4 1.5 -3 2.2 -3 3 -3 3 -2.2 4 -2.3 5 -2.1 4.7 -1.4 5.3 -1.2z"/><path fill="#ff3e00" d="M992 289.7l6.1 -.5 7 -.1 6 .2 6 .7 5 .9 5 1.4 4 1.5 4 2.1 3.8 2.8 2.9 3 2 3 1.3 3 .6 3 -.1 4 -.3 2 -.7 2 -1.5 3 -2 2.7 -2.4 2.3 -2.8 2 -3.8 2.1 -4 1.5 -4.7 1.4 -5.1 1 -5.2 .6 -6 .4 -6.7 0 -6.3 -.4 -5.4 -.6 -5.3 -1 -4.3 -1.2 -4.8 -1.8 -3.8 -2 -3.4 -2.5 -2.6 -2.5 -2 -3 -1.3 -3 -.7 -3 -.1 -2 .1 -2 .6 -3 1.3 -3 2 -3 2.7 -2.7 3 -2.3 3.5 -2 4.5 -1.9 4 -1.2 5 -1.2z"/><path fill="#ff2a00" d="M997.4 292.7l5.7 -.2 5 .1 5 .4 5 .8 4 1 4 1.3 3.4 1.6 3.2 2 2.4 2 2.5 3 1.1 2 1 3 .3 3 -.4 3 -1 3 -1.2 2 -1.5 2 -2.8 2.5 -3 1.9 -3.3 1.6 -3.7 1.3 -4 1 -5 .9 -5 .4 -6 .2 -6 -.2 -5 -.5 -5 -.9 -4.4 -1.2 -3.6 -1.3 -3.4 -1.7 -3 -2 -2.1 -2 -2.3 -3 -1 -2 -.8 -3 -.1 -3 .5 -3 1.2 -2.8 1.5 -2.2 1.8 -2 2.5 -2 3.2 -2 3 -1.4 4 -1.3 4 -1 4 -.7z"/><path fill="#ff1500" d="M999.6 296.7l4.5 -.1 4 .1 4 .4 3.3 .6 3.7 .9 3 1.1 3 1.5 2.4 1.5 2.2 2 1.6 2 1 2 .5 2 .2 2 -.5 3 -.8 2 -1.3 2 -1.9 2 -2.4 1.8 -2.1 1.2 -2.9 1.2 -3 1 -4 .8 -4 .6 -4 .2 -5 0 -4 -.2 -4 -.5 -4 -.9 -3.9 -1.2 -2.4 -1 -2.7 -1.5 -2 -1.5 -1.9 -2 -1.3 -2 -.9 -2 -.4 -2 0 -2 .3 -2 .8 -2 1.4 -2.1 1.8 -1.9 2.2 -1.6 2.4 -1.4 2.6 -1.1 3 -1.1 3.5 -.8 3.5 -.6z"/><path fill="#ff0000" d="M996.8 302.7l5.3 -.5 6 .2 5 .9 4 1.4 3.1 2 1 1 1.4 2 .5 1.7 .1 1.3 -.1 1 -.7 2 -1.4 2 -1.1 1 -1.8 1.2 -4 1.7 -4.7 1.1 -5.3 .4 -5 -.2 -5 -.9 -4 -1.4 -3.1 -1.9 -1.9 -2 -1 -1.7 -.4 -1.3 -.1 -2 .3 -1 .9 -2 .8 -1 2.5 -2 1.9 -1 2.1 -.8z"/><path fill="#00ff22" d="M992 81.7l9.1 -.4 9 .1 9 .6 9 1 8 1.4 9 2 7 1.9 9 3 8 3.2 8 3.7 7 3.8 7 4.4 7 5 6 4.9 5.8 5.4 4.7 5 4.8 6 4.2 6 4.1 7 2.9 6 2.3 6 2.1 7 1.5 7 .7 6 .3 8 -.4 10 -.9 8 -1.6 8 -1.9 6 -1.3 3 -1.5 3 -2.7 4 -1.6 2 -2.1 2 -2.5 2 -3.3 2 -3.6 1.6 -3.9 1.4 -5.1 1.3 -5 .9 -6 .8 -7 .6 -18 1 -28 .5 -37 .3 -37 -.2 -23 -.4 -17 -.7 -13 -.9 -10 -1.3 -4.6 -.9 -3.9 -1 -3 -1 -3.5 -1.5 -2.9 -1.5 -2.9 -2 -2.3 -2 -1.9 -2 -2.9 -4 -2.6 -5 -1.9 -5 -1.5 -6 -1.3 -7 -.6 -7 -.4 -9 .3 -7 .6 -6 1.1 -6 1.7 -6 2.1 -6 2.6 -6 2.7 -5 3.7 -6 3.5 -5 4.1 -5 4.8 -5.1 5.1 -4.9 5.9 -4.9 6 -4.5 6 -3.9 6 -3.5 7 -3.6 7 -3.1 8 -3.1 8 -2.6 7 -2 7 -1.6 9 -1.6 8 -1z"/><path fill="#00ff39" d="M987.8 95.7l9.3 -.5 9 -.1 9 .3 8 .6 8 1 8 1.4 8 1.9 7 2 8 2.8 6 2.5 7 3.4 6 3.4 6 4 5 3.7 5.3 4.6 5.1 5 4.6 5.3 4.3 5.7 3.1 5 3.2 6 2.4 6 1.9 6 1.3 6 .8 6 .3 8 -.4 8 -.9 7 -1.5 7 -2 6 -2.5 5.4 -2.9 4.6 -3.6 4 -2.3 2 -3.2 2.2 -3.4 1.8 -3.6 1.5 -4.8 1.5 -4.2 1 -10 1.6 -14 1.3 -19 .9 -24 .6 -27 0 -24 -.3 -21 -.7 -16 -1.1 -11.6 -1.3 -5.5 -1 -4.3 -1 -3.6 -1.1 -4 -1.5 -2.9 -1.4 -3.3 -2 -2.6 -2 -2.2 -2.1 -3.2 -3.9 -2.5 -4 -2.3 -5 -1.7 -5 -1.5 -6 -1 -6 -.5 -6 -.2 -7 .3 -6 .6 -5 1.3 -6 1.4 -5 1.9 -5 2.8 -6 2.9 -5 2.7 -4 3.9 -5 4.1 -4.6 4.4 -4.4 4.5 -4 5.1 -3.9 5 -3.5 5 -3 6 -3.2 6 -2.8 7 -2.8 7 -2.4 6 -1.7 6 -1.4 8 -1.5 8 -1.2z"/><path fill="#00ff4f" d="M989.5 103.7l8.6 -.4 9 0 9 .3 8 .6 8 1 7 1.2 7 1.5 7 2 7 2.3 6 2.5 6 2.9 6 3.4 5 3.3 5 3.9 5 4.4 4 4.1 4.4 5 3.8 5 3.1 5 2.5 5 2 5 1.8 6 1.2 6 .7 7 0 7 -.7 7 -1.2 6 -1.7 6 -2.1 5 -2.7 5 -2.9 4 -3.8 4 -3.4 2.8 -3 2 -3 1.6 -3.6 1.6 -4.4 1.5 -4 1.1 -10 1.9 -14 1.5 -19 1.1 -21 .6 -24 0 -20 -.5 -18 -.9 -14 -1.3 -11 -1.7 -5 -1.2 -3.8 -1.1 -3.2 -1.2 -3.9 -1.8 -3.5 -2 -2.6 -1.8 -2.7 -2.2 -2.3 -2.2 -2.4 -2.8 -2.7 -4 -2.2 -4 -2 -5 -1.6 -5 -1.2 -6 -.7 -5 -.3 -6 .2 -6 .6 -5 1 -5 1.4 -5 1.4 -4 2.2 -5 2.8 -5 2.7 -4 3.8 -4.8 4 -4.4 4 -4 5 -4.4 4.5 -3.4 4.5 -3 5 -3 5 -2.5 6 -2.7 6 -2.2 6 -1.9 6 -1.6 7 -1.5 7 -1.1 7 -.9z"/><path fill="#00ff66" d="M991.6 109.7l8.5 -.3 8 0 8 .3 8 .7 8 1 7 1.3 7 1.6 7 1.9 6 2.1 6 2.5 6 3 5 3 5 3.4 4.4 3.5 4.6 4.2 4.7 4.8 4.3 5 2.8 4 2.3 4 2.2 5 2.1 6 1.2 5 .7 5 .4 6 -.2 6 -.6 5 -1.4 6 -1.6 5 -2.2 5 -2.4 4 -2.9 4 -3.7 4 -2.7 2.3 -3 2.2 -3 1.8 -4 2 -4 1.6 -4 1.2 -5 1.3 -5 1 -13 1.7 -16 1.2 -19 .7 -21 .1 -19 -.5 -16 -.9 -14 -1.5 -11 -1.9 -5 -1.2 -4 -1.2 -4 -1.6 -3 -1.4 -3.3 -1.9 -3 -2 -2.7 -2.2 -2.9 -2.8 -2.6 -3 -2.8 -4 -2.2 -4 -1.8 -4 -1.3 -4 -1.3 -5 -.8 -5 -.4 -5 0 -5 .5 -5 .8 -5 1.3 -5 1.8 -5 1.8 -4 2.2 -4 2.7 -4 3.3 -4 3.7 -4 5 -4.8 4 -3.4 4 -3 5 -3.3 5 -2.8 5 -2.5 6 -2.5 6 -2 6 -1.7 6 -1.5 6 -1.2 7 -1 7 -.8z"/><path fill="#00ff7c" d="M991.9 114.7l8.2 -.3 7 0 8 .3 8 .7 7 .9 7 1.2 7 1.6 7 2 6 2.1 5 2 6 2.9 5 2.9 5 3.3 4 3.1 5 4.2 4.2 4.1 3.5 4 2.7 4 2.3 4 2.2 5 1.7 5 1.2 5 .9 6 .2 5 -.3 5 -.7 5 -1.3 5 -1.8 5 -2.4 5 -2.5 4 -3.1 4 -2.9 3 -2.9 2.5 -3 2.2 -3 1.8 -4 1.9 -4 1.6 -4 1.3 -5 1.3 -5 1 -12 1.8 -15 1.3 -17 .7 -19 .1 -17 -.5 -15 -1 -13 -1.5 -11 -2 -5 -1.3 -3.8 -1.2 -4.2 -1.6 -3 -1.4 -3.5 -2 -2.9 -2 -2.6 -2.1 -3.1 -2.9 -2.5 -3 -2.9 -4 -2.2 -4 -1.8 -4 -1.7 -5 -1 -4 -.7 -4 -.3 -4 0 -5 .5 -5 1 -5 1.1 -4 1.4 -4 1.7 -4 2.2 -4 2.7 -4 3.3 -4 3.3 -3.3 4 -3.6 5 -4 4 -2.8 5 -3.1 5 -2.7 4 -1.9 5 -2 6 -2 11 -3 6 -1.2 6 -1 7 -.9z"/><path fill="#00ff93" d="M997.9 118.7l7.2 -.1 7 .2 7 .5 7 .8 7 1.1 6 1.3 6 1.5 6 1.9 6 2.2 5 2.2 5 2.5 5 2.8 5 3.3 5 3.7 4 3.5 3 3 2.9 3.6 2.5 4 2.1 4 2 5 1.5 5 1 5 .5 5 .1 5 -.4 4 -1 5 -1.5 5 -1.6 4 -2 4 -2.6 4 -3.2 4 -3.1 3 -3.2 2.6 -3 2 -3 1.6 -4 1.9 -4 1.5 -4.6 1.4 -5.4 1.3 -5 1 -13 1.8 -14 1.2 -17 .6 -17 -.1 -15 -.6 -14 -1.2 -12 -1.8 -10 -2.2 -8 -2.6 -4 -1.7 -3.2 -1.7 -3.2 -2 -2.7 -2 -2.9 -2.6 -2.3 -2.4 -2.4 -3 -2.6 -4 -1.6 -3 -1.7 -4 -1.7 -5 -.9 -4 -.5 -4 -.2 -4 .2 -4 .6 -5 .8 -4 1.5 -5 1.6 -4 2 -4 2.5 -4 2.7 -3.6 3 -3.2 3 -2.7 4 -3.1 5 -3.5 4 -2.5 5 -2.7 5 -2.5 5 -2 5 -1.8 6 -1.9 6 -1.5 6 -1.3 12 -1.8z"/><path fill="#00ffaa" d="M994.4 122.7l6.7 -.3 6 .1 7 .3 6 .5 7 .9 6 1.1 6 1.3 6 1.6 6 2 6 2.3 5 2.2 5 2.5 5 2.9 5 3.2 4 3 3.7 3.4 2.6 3 2.8 4 2.2 4 1.8 4 1.4 4 1.2 5 .8 5 .3 5 -.2 4 -.6 4 -1.3 5 -1.4 4 -1.9 4 -2.3 4 -3 4 -2.8 3 -2.3 2.1 -3 2.2 -3 1.9 -4 2.1 -4 1.7 -4 1.4 -9 2.4 -11 2 -13 1.5 -14 .8 -16 .2 -15 -.4 -14 -1 -12 -1.5 -11 -2.1 -4.8 -1.3 -4.2 -1.3 -4.3 -1.7 -3.7 -1.7 -3 -1.7 -3 -2 -3 -2.4 -2.4 -2.2 -2.6 -3 -2.2 -3 -2.4 -4 -1.9 -4 -1.4 -4 -1.1 -4 -.7 -4 -.3 -4 .1 -4 .6 -5 .8 -4 1.1 -4 1.5 -4 1.9 -4 2.4 -4 2.2 -3 2.6 -3 2.8 -2.5 3 -2.4 4 -2.8 5 -3 5 -2.7 9 -4.1 5 -1.9 6 -1.9 10 -2.6 11 -1.9 6 -.7z"/><path fill="#00ffc0" d="M988.6 126.7l6.5 -.5 6 -.2 6 0 7 .3 6 .6 6 .8 6 1 6 1.4 7 1.9 6 2 6 2.3 5 2.3 5 2.5 5 2.8 4.2 2.8 3.7 3 3 3 2.4 3 2.5 4 2.1 4 1.6 4 1.1 4 .9 4 .6 5 .1 4 -.4 4 -.7 4 -1.1 4 -1.5 4 -2 4 -2.5 3.9 -2.5 3.1 -2.5 2.6 -2.8 2.4 -2.8 2 -3.2 2 -3.2 1.6 -4 1.7 -8 2.7 -10 2.3 -11.5 1.7 -12.5 1.1 -14 .6 -15 -.1 -14 -.7 -13 -1.4 -11 -1.9 -10 -2.6 -4 -1.4 -4 -1.6 -4 -2 -3 -1.8 -3 -2.1 -2.6 -2.1 -3 -3 -2.4 -3 -2 -3 -2 -3.7 -1.4 -3.3 -1.4 -4 -.9 -4 -.5 -4 -.1 -4 .2 -4 .6 -4 1 -4 1.3 -4 1.7 -4 2.1 -4 2 -3 2.4 -2.9 2 -2.1 3 -2.6 3 -2.2 4 -2.5 4 -2.2 9 -4.3 10 -3.8 10 -2.9 10 -2.1z"/><path fill="#00ffd7" d="M992 129.7l11.1 -.5 6 .1 6 .4 6 .6 6 .9 11 2.3 6 1.6 6 2 6 2.3 6 2.6 5 2.5 3.8 2.2 3.2 2.2 3.4 2.8 2.9 3 2.3 3 2 3 2.1 4 1.5 4 1.2 4 1 5 .4 4 -.1 4 -.2 3 -.8 4 -1.2 4 -1.7 4 -1.8 3.4 -2.4 3.6 -2.5 3 -2.1 2.1 -3 2.5 -3 2.1 -3 1.8 -3 1.6 -4 1.7 -8 2.6 -10 2.4 -11 1.7 -12 1.1 -14 .5 -14 -.2 -13 -.8 -12 -1.4 -11 -2.1 -9.3 -2.6 -7.6 -3 -3.9 -2 -3.2 -2 -2.7 -2 -2.4 -2 -2.9 -3 -2 -2.5 -2.3 -3.5 -1.6 -3 -1.3 -3 -1.3 -4 -.9 -4 -.5 -4 0 -3 .3 -4 .6 -4 1 -4 1.4 -4 1.3 -3 2.3 -4 2.1 -3 2.5 -3 2.1 -2 2.3 -2 3 -2.1 7 -4 9 -4.1 10 -3.6 10 -2.8 11 -2.1z"/><path fill="#00ffee" d="M992.6 132.7l11.5 -.4 11 .4 11 1.4 11 2.2 6 1.6 6 1.9 6 2.2 5 2.1 4 1.9 4 2.3 3 2 3 2.4 3 3 2 2.5 2.4 3.5 1.7 3 1.7 4 1.3 4 .8 4 .5 4 .1 4 -.2 3 -.7 4 -1.2 4 -1.6 4 -1.6 3 -2 3 -2.5 3 -1.9 2 -2.8 2.5 -3 2.2 -3 1.9 -3 1.6 -4 1.8 -8 2.7 -9.3 2.3 -10.7 1.7 -12 1.2 -12 .5 -13 -.1 -12 -.7 -12 -1.4 -10 -1.8 -9 -2.4 -4 -1.4 -4 -1.6 -4 -2 -3 -1.8 -3 -2 -2.6 -2.2 -2.4 -2.3 -2.4 -2.7 -2.1 -3 -1.8 -3 -1.4 -3 -1.4 -4 -1 -4 -.4 -3 -.2 -3 .3 -4 .6 -4 .9 -4 1.4 -4 1.4 -3 1.7 -3 2.4 -3.5 2.1 -2.5 2.9 -2.9 5 -3.8 6 -3.4 8 -3.5 9 -3.1 11 -3 10 -2z"/><path fill="#00fbff" d="M990.3 135.7l10.8 -.6 11 .2 11 1.1 11 1.9 11 2.9 6 2 5 1.9 4 1.7 3.6 1.9 3.2 2 2.7 2 2.5 2.2 3 3.1 2.8 3.7 1.8 3 1.4 3 1.5 4 .8 3 .7 4 .4 4 -.1 3 -.3 3 -.9 4 -1.4 4 -1.4 3 -1.8 3 -2.1 3 -2.4 2.7 -2.4 2.3 -2.5 2 -2.9 2 -6.2 3.4 -7 2.7 -9 2.6 -9 1.8 -11 1.3 -11 .8 -12 .2 -13 -.5 -12 -1.2 -10 -1.7 -9.8 -2.4 -8.2 -2.9 -6.3 -3.1 -3.2 -2 -2.7 -2 -2.8 -2.4 -2.5 -2.6 -2.3 -3 -1.9 -3 -1.6 -3 -1.2 -3 -1.1 -4 -.6 -3 -.2 -3 .1 -4 .5 -4 .7 -3 1.3 -4 1.2 -3 1.6 -3 2 -3 2 -2.6 2.3 -2.4 4.7 -4 5 -3.2 7 -3.3 9 -3.2 10 -2.8 10 -2.1z"/><path fill="#00e7ff" d="M1001.3 137.7l10.8 .2 11 1 10 1.7 10 2.4 9 3 7 3 3.1 1.7 2.9 1.9 2.7 2.1 2.2 2 2.7 3 2.2 3 1.9 3 1.4 3 1.1 3 1.1 4 .7 4 .2 3 -.1 3 -.3 3 -.8 3.5 -1.2 3.5 -1.4 3 -1.7 3 -2.2 3 -2.7 3 -2.1 2 -2.7 2.1 -2.8 1.9 -3.2 1.8 -7 3.1 -8 2.5 -9 2 -10 1.5 -11 .9 -11 .3 -12 -.3 -11 -.9 -10 -1.4 -9 -2 -8.2 -2.5 -7 -3 -3.7 -2 -3 -2 -4.8 -4 -2.3 -2.5 -1.9 -2.5 -1.9 -3 -1.5 -3 -1.2 -3 -.9 -3 -.6 -3.6 -.2 -3.4 .1 -3 .6 -4 1 -4 1 -3 1.4 -3 1.7 -3 2.1 -3 2.6 -3 2 -2 2.7 -2.2 2.5 -1.8 3.5 -2 7 -3.2 8 -2.7 10 -2.6 10 -1.9 10 -1.1z"/><path fill="#00d4ff" d="M989.4 140.7l10.7 -.6 11 .2 11 .8 10 1.6 10 2.3 8.4 2.7 6.8 3 3.5 2 2.9 2 2.4 2 3 3 2 2.5 1.7 2.5 1.6 3 1.3 3 1 3 .9 4 .4 4 .1 3 -.3 3 -.6 3 -.8 3 -1.2 3 -1.6 3 -2 3 -3.5 4 -2.2 2 -2.8 2.2 -5 3 -7 3.1 -8 2.6 -8 1.8 -9 1.3 -11 1 -11 .3 -12 -.3 -11 -.9 -10 -1.5 -9 -2.1 -8 -2.7 -4 -1.8 -3 -1.5 -5.4 -3.5 -2.4 -2 -2.2 -2.2 -2.4 -2.8 -1.6 -2.4 -1.5 -2.6 -1.3 -3 -1 -3 -.7 -3 -.4 -3 0 -3 .2 -3 .7 -4 .8 -3 1.1 -3 1.4 -3 1.8 -3 1.9 -2.5 2.2 -2.5 4.5 -4 4.6 -3 6.2 -3 7.5 -2.7 9 -2.4 9 -1.7z"/><path fill="#00c1ff" d="M992 142.7l10.1 -.4 11 .3 10 .8 10 1.6 9 2.1 7.6 2.6 6.4 3 3.2 2 2.7 2 2.2 2 2.8 3 2.1 2.8 1.4 2.2 1.5 3 1.1 3 .8 3 .5 3 .4 4 -.1 3 -.3 3 -.7 3 -1 3 -1.4 3 -1.8 3 -1.5 2 -1.7 2 -2.2 2.1 -2.3 1.9 -2.7 1.9 -5.7 3.1 -6.3 2.5 -8 2.4 -8 1.6 -9 1.1 -10 .7 -11 .2 -11 -.5 -10 -.9 -9 -1.5 -8 -2 -7.5 -2.6 -6.5 -3.1 -3 -1.9 -2.7 -2 -2.3 -2 -2.7 -3 -1.5 -2 -1.8 -2.9 -1 -2.1 -1.2 -3 -.8 -3 -.4 -3 -.2 -3 .1 -3 .6 -4 .7 -3 1.1 -3 1.1 -2.5 1.4 -2.5 1.6 -2.4 2 -2.4 2 -2.1 4 -3.3 5 -3.1 6 -2.7 8 -2.7 8 -1.9 9 -1.4z"/><path fill="#00adff" d="M993.8 144.7l10.3 -.3 11 .4 9 .8 9 1.5 8 2 7 2.4 6 3 5 3.4 4.1 3.8 1.9 2.3 2 3 1.4 2.7 1.2 3 .8 3 .6 3 .3 3 0 3 -.2 3 -.6 3 -1 3 -1.3 3 -1.7 3 -1.5 2 -3.8 4 -4.2 3.2 -5 2.8 -7.2 3 -6.8 2 -8 1.7 -9 1.1 -9 .6 -11 .2 -10 -.4 -9 -.8 -9 -1.4 -8 -2 -7 -2.4 -6 -2.9 -2.9 -1.7 -2.7 -2 -2.3 -2 -2 -2 -2.1 -2.7 -1.5 -2.3 -1 -2 -1.2 -3 -.8 -3 -.5 -3 -.2 -3 .2 -3 .3 -3 .7 -3 1 -3 1.3 -3 1.7 -2.9 1.5 -2.1 3.7 -4 2.4 -2 2.4 -1.7 5 -2.9 6 -2.5 7 -2.2 8 -1.7 9 -1.3z"/><path fill="#009aff" d="M995.2 146.7l9.9 -.2 10 .4 9 .8 8 1.4 7 1.7 7 2.5 6 3.1 4.6 3.3 2.3 2 1.8 2 1.6 2 1.9 3 1 2 1.1 3 .8 3 .5 3 .2 3 0 3 -.8 5 -1 2.9 -.9 2.1 -1.8 3 -1.5 2 -1.7 2 -2.1 1.9 -4.1 3.1 -5.5 3 -6.4 2.6 -7 2 -7 1.3 -8 1.1 -9 .5 -10 .2 -10 -.4 -9 -.9 -8.3 -1.4 -7.7 -2 -6 -2.2 -5.8 -2.8 -3.1 -2 -2.1 -1.5 -2 -1.8 -2 -2.1 -2 -2.5 -1.3 -2.1 -1 -2 -1.1 -3 -.6 -2.1 -.5 -2.9 -.1 -3 .1 -3 .4 -3 .7 -3 1 -3 .9 -2 1.5 -2.6 1.7 -2.4 1.8 -2 2.1 -2 3.9 -3 5.1 -3 6.4 -2.7 7 -2.1 7 -1.5 8 -1z"/><path fill="#0087ff" d="M997.7 148.7l9.4 -.1 9 .4 8 .9 8 1.5 7 1.9 5.8 2.4 5.2 2.9 4 2.9 2.3 2.2 1.7 1.9 2.8 4.1 1.2 2.5 .9 2.5 1.1 5 .2 3 -.1 3 -.4 3 -.5 2 -1 3 -1 2 -2.8 4 -1.8 2 -2.2 2 -4.2 3 -5.2 2.7 -5.8 2.3 -6.2 1.7 -7 1.4 -8 1 -8 .4 -10 .1 -9 -.4 -8 -.8 -8 -1.4 -7 -1.8 -5.8 -2.2 -5.9 -3 -4.3 -3 -2.2 -2 -1.9 -2 -2.8 -4 -1.8 -4 -.5 -2 -.6 -3 -.1 -5 .4 -3 .6 -3 .9 -2.7 1 -2.3 1.8 -3 1.5 -2 3.7 -3.8 4.3 -3.2 5.4 -3 5.3 -2.1 6.3 -1.9 7.7 -1.5 8 -1z"/><path fill="#0074ff" d="M986.8 151.7l8.3 -.7 10 -.2 9 .3 8 .8 7 1.3 6 1.6 6 2.2 5.1 2.7 4.2 3 2.2 2 1.9 2 2.7 4 1 2 1.1 3 .7 3 .4 3 -.1 5 -.6 3 -.6 2 -2 4 -3 3.9 -3 2.8 -4 2.8 -4.7 2.5 -5.3 2.1 -6 1.7 -6.1 1.2 -7.9 1 -9 .5 -9 0 -9 -.5 -8 -1 -7 -1.4 -6 -1.8 -5 -2 -5.3 -2.8 -4 -3 -3.1 -3 -1.5 -2 -1.3 -2 -1.8 -4.1 -.7 -2.9 -.3 -2 .1 -5 1 -5 1.6 -4 2.3 -3.7 2.9 -3.3 3.6 -3 4.7 -3 4.8 -2.2 6 -2.1 7 -1.7z"/><path fill="#0060ff" d="M990.7 153.7l8.4 -.5 8 0 8 .4 7 .8 6.4 1.3 5.6 1.7 5.6 2.3 4.4 2.5 4 3.1 3.2 3.4 2.5 4 1.6 4 .5 2 .4 3 .1 3 -.2 2 -1 4 -.9 2 -1.2 2.2 -3 3.7 -3 2.7 -3.5 2.4 -4.5 2.3 -5 2 -6 1.6 -6 1.1 -7 .8 -8 .4 -8 0 -8 -.4 -7 -.9 -6 -1.2 -6.1 -1.7 -5 -2 -5.4 -3 -3.9 -3 -2.8 -3 -1.5 -2 -1.1 -2 -1.5 -4 -.6 -4 0 -2 .3 -3 1 -4 1.8 -4 2.8 -3.9 3 -2.9 4 -3 4 -2.2 5 -2.1 6 -1.8 6 -1.2z"/><path fill="#004dff" d="M1000.1 155.7l7 0 7 .4 6 .7 6 1.2 5.7 1.7 4.7 2 3.7 2 3.9 2.9 3 3.1 2 3 1.8 4 .9 4 .2 4 -.7 4 -.7 2 -.9 2 -2.1 3 -2.9 3 -3.6 2.7 -4.2 2.3 -4.8 1.9 -5 1.5 -6 1.2 -6 .8 -7 .4 -8 0 -7 -.3 -7 -.9 -6 -1.2 -5.1 -1.4 -5 -2 -3.9 -2.1 -4 -2.9 -3 -3 -1.5 -2 -1.1 -2 -1.2 -3 -.6 -4 0 -2 .3 -3 1.1 -4 2.1 -4 2.3 -3 3.3 -3 3.3 -2.3 4 -2.1 5 -1.9 5 -1.4 6 -1.2 6 -.7z"/><path fill="#003aff" d="M995.9 158.7l6.2 -.3 7 .2 6 .5 5 .7 5 1.1 5 1.6 4.7 2.2 3.3 2.1 3.4 2.9 2.4 3 1.7 3 1.3 4 .4 4 -.3 3 -.5 2 -.8 2 -1.8 3 -2.8 3 -2.5 2 -3.2 2 -4.3 2 -4 1.4 -5 1.2 -5 .8 -6 .6 -6 .2 -7 -.1 -6 -.4 -6 -.9 -5 -1.1 -5.2 -1.7 -4.4 -2 -3.4 -2.1 -3.5 -2.9 -2.4 -3 -1.6 -3 -.9 -3 -.3 -3 .5 -4 1.3 -4 1.6 -3 2.3 -2.8 2.5 -2.2 3.5 -2.4 4 -2 4.2 -1.6 4.8 -1.3 6 -1.1z"/><path fill="#0027ff" d="M998 161.7l5.1 -.2 6 .2 5 .4 5 .8 5 1.3 4 1.5 3 1.5 3 1.9 3 2.6 2.4 3 1.4 3 .9 3 .3 3 -.4 3 -1 3 -1.6 2.6 -2.1 2.4 -2.5 2 -3.3 2 -4.1 1.8 -3.7 1.2 -4.3 1 -5 .7 -5 .5 -6 .1 -6 -.2 -5 -.5 -5 -.8 -5 -1.3 -4.2 -1.5 -3.8 -1.9 -3 -2.1 -2.2 -2 -2.2 -3 -1.4 -3 -.5 -3 .1 -3 .6 -3 1.3 -3 2.1 -3 1.9 -2 2.5 -2 3.4 -2 3.4 -1.5 4 -1.3 4 -1 5 -.8z"/><path fill="#0013ff" d="M994.4 165.7l4.7 -.4 5 -.2 5 .2 4 .4 5 1 3.6 1 3.4 1.4 3 1.6 2.6 2 2 2 1.4 2.1 1.3 2.9 .6 3 -.1 2 -.6 3 -1 2 -1.5 2 -2.2 2 -2.5 1.7 -2.4 1.3 -2.6 1 -4 1.2 -4 .9 -4 .5 -5 .3 -5 0 -5 -.3 -4 -.5 -4 -.8 -4 -1.2 -3 -1.2 -3 -1.7 -2.9 -2.2 -1.9 -2 -1.2 -2 -.8 -2 -.4 -2 .2 -3 .8 -3 1 -2 1.4 -2 2 -2 1.8 -1.4 2.6 -1.6 3.4 -1.5 3 -1 3 -.8z"/><path fill="#0000ff" d="M1001.5 169.7l6.6 .1 6 1 5 1.6 2.7 1.3 1.5 1 1.8 1.6 1.2 1.4 1.1 2 .7 2 .2 2 -.2 2 -.8 2 -.7 1 -1.5 1.7 -1.6 1.3 -2.4 1.4 -3 1.2 -3 .9 -3 .6 -7 .6 -4 0 -4 -.4 -3 -.4 -3.8 -.9 -2.9 -1 -2.1 -1 -2.2 -1.4 -1.9 -1.6 -1.1 -1.5 -.8 -1.5 -.5 -2 -.1 -2 .9 -3 1.2 -2 1.3 -1.5 1.7 -1.5 1.6 -1 1.9 -1 2.5 -1 5.3 -1.3z"/></g>
<path fill="#000" fill-rule="evenodd" d="M792.10 36.70h422.00v424.00h-422.00zM794.69 39.39h416.71v418.01h-416.71z"/>
<path d="M793.40 460.20v11.97M792.60 459.20h-11.97M850.04 460.20v6.49M792.60 402.17h-6.49M906.69 460.20v11.97M792.60 345.14h-11.97M963.33 460.20v6.49M792.60 288.12h-6.49M1019.98 460.20v11.97M792.60 231.09h-11.97M1076.62 460.20v6.49M792.60 174.06h-6.49M1133.27 460.20v11.97M792.60 117.03h-11.97M1189.91 460.20v6.49M792.60 60.01h-6.49" stroke="#000" stroke-width="2.79" fill="none"/>
<text x="793.4" y="496.6" font-size="21.45" font-weight="bold" text-anchor="middle" fill="#000">0.0</text>
<text x="770.2" y="464.9" font-size="21.45" font-weight="bold" text-anchor="end" fill="#000">0.0</text>
<text x="906.7" y="496.6" font-size="21.45" font-weight="bold" text-anchor="middle" fill="#000">2.0n</text>
<text x="770.2" y="350.8" font-size="21.45" font-weight="bold" text-anchor="end" fill="#000">2.0n</text>
<text x="1020.0" y="496.6" font-size="21.45" font-weight="bold" text-anchor="middle" fill="#000">4.0n</text>
<text x="770.2" y="236.8" font-size="21.45" font-weight="bold" text-anchor="end" fill="#000">4.0n</text>
<text x="1133.3" y="496.6" font-size="21.45" font-weight="bold" text-anchor="middle" fill="#000">6.0n</text>
<text x="770.2" y="122.7" font-size="21.45" font-weight="bold" text-anchor="end" fill="#000">6.0n</text>
<text x="1003.1" y="535.0" font-size="21.45" font-weight="bold" text-anchor="middle" fill="#000">Electron position (m)</text>
<text x="709.8" y="247.2" font-size="21.45" font-weight="bold" text-anchor="middle" fill="#000" transform="rotate(-90 709.8 247.2)">Hole position (m)</text>
<text x="818.8" y="79.0" font-size="29.60" font-weight="bold" text-anchor="start" fill="#fff">0.0 V/cm</text>
<text x="768.2" y="63.3" font-size="31.23" stroke="#000" stroke-width="1.05" text-anchor="middle" font-family="'Noto Serif CJK SC', 'Noto Sans CJK SC', 'DejaVu Sans', serif" fill="#000">②</text>
<rect x="1222.80" y="441.65" width="29.50" height="8.68" fill="#0000ff"/><rect x="1222.80" y="433.57" width="29.50" height="8.68" fill="#0013ff"/><rect x="1222.80" y="425.49" width="29.50" height="8.68" fill="#0027ff"/><rect x="1222.80" y="417.41" width="29.50" height="8.68" fill="#003aff"/><rect x="1222.80" y="409.34" width="29.50" height="8.68" fill="#004dff"/><rect x="1222.80" y="401.26" width="29.50" height="8.68" fill="#0060ff"/><rect x="1222.80" y="393.18" width="29.50" height="8.68" fill="#0074ff"/><rect x="1222.80" y="385.11" width="29.50" height="8.68" fill="#0087ff"/><rect x="1222.80" y="377.03" width="29.50" height="8.68" fill="#009aff"/><rect x="1222.80" y="368.95" width="29.50" height="8.68" fill="#00adff"/><rect x="1222.80" y="360.88" width="29.50" height="8.68" fill="#00c1ff"/><rect x="1222.80" y="352.80" width="29.50" height="8.68" fill="#00d4ff"/><rect x="1222.80" y="344.72" width="29.50" height="8.68" fill="#00e7ff"/><rect x="1222.80" y="336.65" width="29.50" height="8.68" fill="#00fbff"/><rect x="1222.80" y="328.57" width="29.50" height="8.68" fill="#00ffee"/><rect x="1222.80" y="320.49" width="29.50" height="8.68" fill="#00ffd7"/><rect x="1222.80" y="312.42" width="29.50" height="8.68" fill="#00ffc0"/><rect x="1222.80" y="304.34" width="29.50" height="8.68" fill="#00ffaa"/><rect x="1222.80" y="296.26" width="29.50" height="8.68" fill="#00ff93"/><rect x="1222.80" y="288.18" width="29.50" height="8.68" fill="#00ff7c"/><rect x="1222.80" y="280.11" width="29.50" height="8.68" fill="#00ff66"/><rect x="1222.80" y="272.03" width="29.50" height="8.68" fill="#00ff4f"/><rect x="1222.80" y="263.95" width="29.50" height="8.68" fill="#00ff39"/><rect x="1222.80" y="255.88" width="29.50" height="8.68" fill="#00ff22"/><rect x="1222.80" y="247.80" width="29.50" height="8.68" fill="#00ff0b"/><rect x="1222.80" y="239.72" width="29.50" height="8.68" fill="#0aff00"/><rect x="1222.80" y="231.65" width="29.50" height="8.68" fill="#1fff00"/><rect x="1222.80" y="223.57" width="29.50" height="8.68" fill="#34ff00"/><rect x="1222.80" y="215.49" width="29.50" height="8.68" fill="#49ff00"/><rect x="1222.80" y="207.42" width="29.50" height="8.68" fill="#5eff00"/><rect x="1222.80" y="199.34" width="29.50" height="8.68" fill="#72ff00"/><rect x="1222.80" y="191.26" width="29.50" height="8.68" fill="#87ff00"/><rect x="1222.80" y="183.18" width="29.50" height="8.68" fill="#9cff00"/><rect x="1222.80" y="175.11" width="29.50" height="8.68" fill="#b1ff00"/><rect x="1222.80" y="167.03" width="29.50" height="8.68" fill="#c6ff00"/><rect x="1222.80" y="158.95" width="29.50" height="8.68" fill="#dbff00"/><rect x="1222.80" y="150.88" width="29.50" height="8.68" fill="#efff00"/><rect x="1222.80" y="142.80" width="29.50" height="8.68" fill="#fffa00"/><rect x="1222.80" y="134.72" width="29.50" height="8.68" fill="#ffe500"/><rect x="1222.80" y="126.65" width="29.50" height="8.68" fill="#ffd000"/><rect x="1222.80" y="118.57" width="29.50" height="8.68" fill="#ffbb00"/><rect x="1222.80" y="110.49" width="29.50" height="8.68" fill="#ffa700"/><rect x="1222.80" y="102.42" width="29.50" height="8.68" fill="#ff9200"/><rect x="1222.80" y="94.34" width="29.50" height="8.68" fill="#ff7d00"/><rect x="1222.80" y="86.26" width="29.50" height="8.68" fill="#ff6800"/><rect x="1222.80" y="78.19" width="29.50" height="8.68" fill="#ff5300"/><rect x="1222.80" y="70.11" width="29.50" height="8.68" fill="#ff3e00"/><rect x="1222.80" y="62.03" width="29.50" height="8.68" fill="#ff2a00"/><rect x="1222.80" y="53.95" width="29.50" height="8.68" fill="#ff1500"/><rect x="1222.80" y="45.88" width="29.50" height="8.68" fill="#ff0000"/><rect x="1222.80" y="450.02" width="29.50" height="9.28" fill="#000"/><rect x="1222.80" y="36.90" width="29.50" height="9.28" fill="#fff"/>
<rect x="1223.40" y="37.50" width="28.30" height="421.20" fill="none" stroke="#111" stroke-width="1.20"/>
<text x="1265.6" y="52.1" font-size="18.46" font-weight="normal" text-anchor="start" fill="#111" textLength="44.3" lengthAdjust="spacingAndGlyphs">0.460</text>
<text x="1265.6" y="102.7" font-size="18.46" font-weight="normal" text-anchor="start" fill="#111" textLength="44.3" lengthAdjust="spacingAndGlyphs">0.346</text>
<text x="1265.6" y="153.2" font-size="18.46" font-weight="normal" text-anchor="start" fill="#111" textLength="44.3" lengthAdjust="spacingAndGlyphs">0.233</text>
<text x="1265.6" y="203.8" font-size="18.46" font-weight="normal" text-anchor="start" fill="#111" textLength="44.3" lengthAdjust="spacingAndGlyphs">0.119</text>
<text x="1265.6" y="254.4" font-size="18.46" font-weight="normal" text-anchor="start" fill="#111" textLength="64.0" lengthAdjust="spacingAndGlyphs">0.00500</text>
<text x="1265.6" y="305.0" font-size="18.46" font-weight="normal" text-anchor="start" fill="#111" textLength="50.2" lengthAdjust="spacingAndGlyphs">-0.109</text>
<text x="1265.6" y="355.6" font-size="18.46" font-weight="normal" text-anchor="start" fill="#111" textLength="50.2" lengthAdjust="spacingAndGlyphs">-0.223</text>
<text x="1265.6" y="406.1" font-size="18.46" font-weight="normal" text-anchor="start" fill="#111" textLength="50.2" lengthAdjust="spacingAndGlyphs">-0.336</text>
<text x="1265.6" y="456.7" font-size="18.46" font-weight="normal" text-anchor="start" fill="#111" textLength="50.2" lengthAdjust="spacingAndGlyphs">-0.450</text>
<path d="M1251.80 45.78h5.99M1251.80 96.36h5.99M1251.80 146.94h5.99M1251.80 197.52h5.99M1251.80 248.10h5.99M1251.80 298.68h5.99M1251.80 349.26h5.99M1251.80 399.84h5.99M1251.80 450.42h5.99" stroke="#1a1a1a" stroke-width="1.50" fill="none"/></g>
<!-- panel a3 -->
<g><clipPath id="ca3"><rect x="1448.2" y="35.3" width="422.0" height="423.6"/></clipPath><g clip-path="url(#ca3)" fill-rule="evenodd" shape-rendering="geometricPrecision"><rect x="1448.2" y="35.3" width="422.0" height="423.6" fill="#00ff0b"/><path fill="#0aff00" d="M1648.1 40.3l9.1 -.4 9 .1 9 .6 9 1 8 1.3 9 1.9 8 2.1 9 2.9 8 3 9 3.9 8 4.1 7 4 8 5.2 7 5.1 6 4.9 6 5.5 6 6.3 5.5 6.5 5.1 7 3.7 6 3.3 6 3.6 8 2.5 7 1.9 7 1.3 7 .8 8 .2 8 -.6 7 -1.3 7 -1.8 6 -2.5 5 -1.3 2 -1.7 2 -3.5 3 -3.4 2 -4.8 1.8 -6 1.4 -7 1 -8 .5 -11 .4 -15 .1 -159 0 -19 -.2 -13 -.3 -7 -.4 -6 -.6 -4.9 -.7 -4.1 -.9 -3.4 -1.1 -3.6 -1.6 -2.2 -1.4 -2.5 -2 -2.7 -3 -1.3 -2 -1.6 -3 -1.9 -5 -1.5 -6 -.9 -7 -.3 -7 .3 -7 .9 -7 1.1 -6 1.9 -7 2.1 -6 3.1 -7 3 -6 4.3 -7 5 -7 4 -5 4.5 -5 5.7 -5.7 6 -5.3 6 -4.7 7 -5 6 -3.8 7 -4 8 -4.1 7 -3.1 8 -3.1 8 -2.7 8 -2.2 8 -1.9 9 -1.6 8 -1.1zM1757.2 287.4l15 .3 11 .8 5.8 .8 4.6 1 4.6 1.4 3.6 1.6 3.2 2 3.2 2.8 2.6 3.2 1.8 3 1.4 3 1.5 4 1.1 4 .9 5 .4 4 .3 5 -.2 11 -1.2 12 -2.1 12 -3.1 12 -3.8 11 -4.3 10 -5.6 11 -6.1 10 -6.4 9 -6.4 8 -6.8 7.5 -7 6.9 -9.8 8.6 -2.8 3 -185.3 0 -2.8 -3 -7.3 -6.4 -6 -5.6 -5 -5.1 -5.2 -5.9 -4.9 -6 -5.2 -7 -5.3 -8 -4.1 -7 -4.1 -8 -3.6 -8 -3.1 -8 -2.3 -7 -2 -7 -2 -9 -1.4 -9 -.9 -9 -.4 -8 .1 -7 .7 -7 1.1 -6 1.8 -6 2.3 -5 2.7 -4 3 -3 1.8 -1.4 2.6 -1.6 3.4 -1.5 3 -1.1 4 -1 4 -.7 10 -1 11 -.4 15 -.2z"/><path fill="#1fff00" d="M1639 75.3l8.2 -.6 8 -.3 9 0 8 .3 7 .5 8 .9 9 1.4 7 1.5 7 1.9 7 2.2 7 2.7 6 2.6 6 3.1 6 3.5 5 3.4 5 3.9 5 4.4 4.5 4.6 4.3 5 3.6 5 3.2 5 3 6 2.1 5 1.8 6 1.3 6 .6 6 .2 6 -.5 6 -1.2 6 -1.7 5 -2 4 -2.7 4 -1.8 2 -2.3 2 -4.4 2.7 -3 1.3 -2.9 1 -7.1 1.7 -8 1.1 -10 .8 -15 .6 -21 .5 -33 .3 -33 -.2 -30 -.5 -20 -.9 -6 -.5 -6 -.7 -5 -.9 -4 -1 -3 -.9 -3.4 -1.4 -2.6 -1.4 -3 -2.1 -2.6 -2.5 -2.4 -3 -2.3 -4 -1.6 -4 -1.4 -5 -.9 -5 -.4 -5 .1 -5 .5 -5 .8 -5 1.5 -6 1.8 -5 2.2 -5 2.1 -4 3.2 -5 3.6 -5 3.4 -4 3.8 -4 4.2 -4 4.4 -3.6 4 -3 5 -3.3 5 -2.9 5 -2.6 6 -2.7 6 -2.4 6 -2 6 -1.7 6 -1.5 8 -1.6zM1601.4 289.3l30.8 -.6 35 -.1 34 .3 27 .8 14 .8 10 1.3 5 .9 4 1.1 4 1.3 3 1.4 3.2 1.8 3.7 3 2.7 3 2.7 4 1.9 4 1.7 5 1 5 .7 6 .1 6 -.5 7 -.9 7 -1.4 7 -1.6 6 -2.1 6 -2.5 6 -3.5 7 -2.8 5 -3.1 5 -3.5 5 -3.8 4.7 -3.8 4.3 -4.2 4.3 -5 4.5 -4 3.3 -5 3.6 -4 2.7 -5 2.9 -6 3.1 -6 2.6 -6 2.3 -6 2 -5 1.4 -7 1.6 -7 1.3 -7 .9 -7 .6 -7 .3 -8 .1 -8 -.3 -7 -.5 -7 -.8 -7 -1.1 -6 -1.3 -7 -1.8 -6 -1.9 -6 -2.2 -5 -2.1 -6 -3 -7 -3.9 -6 -4 -6 -4.6 -5.6 -5 -5.4 -5.5 -5 -5.8 -4.2 -5.7 -4.5 -7 -3.9 -7 -3.7 -8 -2.3 -6 -2.1 -7 -1.7 -8 -1 -7 -.5 -8 .1 -7 .6 -5 1.1 -5 1.6 -5 1.9 -4 1.8 -3 2.8 -3.4 2.9 -2.6 3.1 -2.1 3.8 -1.9 4.2 -1.5 5 -1.3 6 -1 6 -.8 7 -.6z"/><path fill="#34ff00" d="M1651 84.3l15.2 -.1 8 .4 7 .5 7 .7 7 1 6 1.2 7 1.6 6 1.6 6 2 6 2.4 5 2.3 5 2.7 4 2.5 4 2.8 4 3.3 4.5 4.1 4.5 4.9 4 4.9 3 4.2 2.4 4 2.3 5 1.9 5 1.1 4 1 5 .6 6 0 5 -.5 5 -1.2 5 -1.5 4 -2.1 4 -2.9 4 -1.9 2 -2.2 2 -2.9 2 -3.1 1.7 -3 1.3 -4 1.4 -4 1.1 -4 .8 -10 1.2 -15 1 -19 .7 -22 .4 -26 .1 -25 -.5 -22 -.9 -16 -1.2 -9 -1.4 -4 -1 -4 -1.3 -3.4 -1.4 -3.6 -1.9 -3 -2.1 -2 -1.8 -2.9 -3.2 -2.1 -3 -2.1 -4 -1.5 -4 -1 -4 -.7 -5 0 -5 .4 -5 .8 -5 1.2 -5 1.4 -4 2.1 -5 2.8 -5 2.6 -3.9 3.2 -4.1 4.4 -5 3.4 -3.4 4 -3.6 4 -3.2 4 -2.7 4 -2.4 5 -2.6 5 -2.2 5 -2 5 -1.6 6 -1.8 7 -1.6 6 -1.2 7 -1.1 7 -.7zM1625 290.3l26.2 -.4 26 .1 25 .6 20 .9 13 1.2 9 1.5 4 1 3.6 1.1 3.4 1.3 3.4 1.7 3.6 2.2 3.4 2.8 2.8 3 2.2 3 2.3 4 1.6 4 1.2 4 .7 4 .4 5 -.2 6 -.6 6 -1 6 -1.5 6 -1.6 5 -2.1 5 -2.1 4 -6.8 11 -3.7 5.3 -3.6 4.7 -3.4 4 -3.8 4 -3.2 3 -4 3.3 -4 2.9 -4 2.5 -5 2.8 -5 2.4 -5 2.1 -6 2.1 -5 1.6 -6 1.6 -6 1.3 -7 1.2 -7 .9 -8 .6 -8 .3 -7 0 -8 -.3 -8 -.6 -7 -.8 -7 -1.2 -6 -1.3 -7 -1.8 -6 -1.9 -6 -2.2 -6 -2.6 -5 -2.6 -6 -3.6 -5 -3.6 -5 -4.2 -5 -5 -5 -5.9 -5 -6.9 -5 -7.8 -4.1 -7.3 -2.3 -5 -2.1 -6 -1.8 -7 -1 -6 -.7 -7 0 -6 .4 -5 1.1 -5 1.4 -4 1.9 -4 2.5 -4 2.6 -3 3.1 -2.9 3 -2.1 3.6 -2 4.4 -1.9 4 -1.2 5 -1.2 5 -.9 6 -.7 17 -1.3z"/><path fill="#49ff00" d="M1643.1 91.3l14.1 -.6 14 .3 14 1.2 13 2 12 2.8 6 1.8 6 2.1 5 2 5 2.5 4 2.2 4 2.7 4 3.1 4.2 3.9 4.8 4.9 4 4.8 2.4 3.3 2.3 4 1.9 4 1.8 5 1.3 5 .8 5 .4 5 -.2 4 -.7 4 -1.2 4 -1.7 4 -2.4 4 -2.4 3 -2 2 -2.4 2 -2.8 2 -3.1 1.8 -3 1.4 -3 1.1 -4 1.2 -9 1.7 -11 1.2 -15 1 -17 .7 -25 .4 -25 -.2 -23 -.9 -19 -1.5 -11 -1.5 -4 -.9 -4 -1.2 -3.5 -1.3 -3.5 -1.7 -3 -1.9 -3.2 -2.4 -3.1 -3 -2.4 -3 -1.9 -3 -1.4 -3 -1.5 -4 -.7 -3 -.5 -3 -.2 -4 .3 -4 .7 -5 1.2 -5 1.3 -4 1.7 -4 2.1 -4 2.6 -4 3.2 -4 6.8 -7.2 4 -3.7 3 -2.4 3 -2.1 4 -2.4 4 -2.2 5 -2.2 5 -1.9 6 -2 6 -1.7 6 -1.4 6 -1.3 7 -1.1zM1639.7 291.3l21.5 -.2 21 .3 19 .7 17 1.1 12 1.4 8.8 1.7 3.6 1 3.6 1.3 3 1.3 3 1.6 4 2.6 2.7 2.2 3 3 2.4 3 1.9 3 1.9 4 1.4 4 .9 4 .3 4 -.1 5 -.5 5 -.9 5 -1.3 5 -1.3 4 -2 5 -2.2 4 -1.9 3 -2.3 3 -13 15.6 -6 5.9 -3 2.5 -4 2.9 -5 3.1 -5 2.7 -6 2.7 -5 2.1 -6 2.1 -6 1.9 -11 2.7 -7 1.2 -6 .7 -6 .6 -7 .3 -6 -.1 -6 -.2 -6 -.5 -7 -.9 -6 -1 -7 -1.6 -6 -1.6 -6 -1.9 -6 -2.2 -6 -2.5 -6 -2.8 -5 -2.8 -4.5 -2.9 -4 -3 -3.5 -3.1 -4 -4.1 -5 -5.9 -9 -11.3 -3 -4.6 -2.1 -4 -2.4 -6 -1.7 -6 -1.2 -6 -.6 -6 -.1 -5 .5 -5 1.3 -5 1.6 -4 2.2 -4 2.1 -3 2.8 -3 2.6 -2.4 3.6 -2.6 3.5 -2 3.9 -1.8 4 -1.4 5 -1.2 5 -1 13 -1.6 19 -1.3z"/><path fill="#5eff00" d="M1644.7 96.3l6.5 -.4 7 -.3 12 .4 13 1.2 7 1 7 1.3 6 1.4 7 1.9 6 1.8 6 2.2 5 2.1 4 2 4 2.3 4 2.6 4 3.1 4 3.6 3.7 3.8 2.5 3 2.2 3 2.3 4 1.9 4 1.8 5 1 4 .8 5 .3 4 -.2 4 -.8 4 -1 3 -1.9 4 -1.9 3 -2.4 3 -1.9 2 -2.3 2 -2.6 2 -2.5 1.5 -3 1.6 -3 1.2 -4 1.2 -9 1.9 -13 1.7 -15 1.2 -17 .7 -22 .4 -23 -.4 -20 -.9 -9 -.7 -9 -1 -11 -1.7 -5 -1.2 -4 -1.2 -4 -1.7 -2.9 -1.6 -3 -2 -2.4 -2 -3 -3 -2.4 -3 -1.9 -3 -1.4 -3 -1.2 -3 -.7 -3 -.5 -3 -.1 -4 .4 -4 .9 -5 1.2 -4 1.4 -4 1.9 -4 2.3 -4 2.2 -3 2.5 -3 2.9 -3 3.8 -3.5 6 -4.7 7 -4.2 4 -2 5 -2.1 11 -3.7 12 -3.2 12 -2.2zM1653.8 292.3l18.4 .1 19 .6 16 1 13 1.4 10 1.6 8 2.1 6 2.3 3 1.6 3 1.8 3 2.3 2.4 2.2 2.7 3 2.2 3 1.8 3 1.8 4 .9 3 .7 4 .2 4 -.2 4 -.8 5 -1.1 5 -1.3 4 -2 5 -2 4 -1.9 3 -2.3 3 -3.1 3.5 -7 7.1 -5 4.8 -4 3.4 -4 3 -4 2.7 -4 2.5 -5 2.7 -6 2.8 -5 2 -6 2.2 -6 1.8 -5 1.4 -6 1.3 -6 1 -6 .7 -6 .5 -6 .2 -5 -.1 -6 -.4 -6 -.6 -6 -.9 -6 -1.2 -11 -2.9 -6 -2 -6 -2.3 -6 -2.6 -5 -2.5 -5 -2.9 -4 -2.6 -5 -3.7 -5 -4.2 -6 -5.9 -6.5 -6.8 -3.2 -4 -1.9 -3 -2.1 -4 -1.7 -4 -2 -6 -1.1 -5 -.8 -6 -.1 -5 .6 -5 1.2 -4 1.7 -4 2.4 -4 2.3 -3 2.9 -3 3.3 -2.8 3 -2 3 -1.7 4 -1.8 4 -1.3 4 -1 6 -1.2 6 -1 16 -1.6 19 -1.1z"/><path fill="#72ff00" d="M1647.6 100.3l6.6 -.4 6 -.1 12 .5 13 1.5 12 2.2 6 1.5 6 1.7 6 2 6 2.2 5 2.2 5 2.4 4 2.3 4 2.6 4 3 2.6 2.4 2.9 3 2.4 3 1.9 3 2.1 4 1.8 4 1.3 4 .9 4 .6 4 .2 4 -.2 3 -1 4 -1.1 3 -1.5 3 -1.9 3 -2.4 3 -2 2 -2.3 2 -2.8 2 -2.5 1.4 -3.4 1.6 -3.6 1.3 -4 1.1 -10 2 -14 1.8 -15 1.2 -18 .7 -20 .2 -21 -.6 -18 -1.2 -15 -1.8 -6 -1 -5 -1 -4 -1.1 -4 -1.3 -3 -1.3 -3.5 -2 -2.8 -2 -2.7 -2.4 -2.4 -2.6 -2.3 -3 -1.7 -3 -1.4 -3 -1 -3 -.7 -3 -.2 -3 .1 -3 .5 -4 .8 -4 1.3 -4 1.6 -4 2 -4 1.9 -3 2.2 -3 2.7 -3 2.6 -2.5 3 -2.4 3 -2.2 4 -2.5 8 -4.1 10 -4.1 11 -3.5 10 -2.4 11 -1.9zM1628.6 294.3l17.6 -.7 18 -.1 18 .4 17 1 14 1.4 12 2 9 2.2 4 1.4 3 1.3 3.8 2.1 2.9 2 2.4 2 3 3 2.4 3 2 3 2 4 1 3 .7 3 .4 3 -.1 3 -.4 4 -.7 4 -1 4 -1.3 4 -1.7 4 -2 4 -1.9 3 -2.2 3 -2.7 3 -3.6 3.4 -4 3.4 -5 3.9 -5 3.6 -5 3.3 -5 2.9 -10 5 -10 4 -6 1.9 -5 1.4 -11 2.2 -11 1.3 -9 .3 -10 -.7 -11 -1.5 -11 -2.6 -10 -3.1 -10 -4.2 -6 -2.9 -6 -3.4 -5 -3.1 -5 -3.5 -6 -4.6 -5 -4.3 -3.7 -3.7 -2.4 -3 -2.7 -4 -2.1 -4 -2.1 -5 -1.6 -5 -1.2 -6 -.5 -5 0 -4 .7 -4 1.3 -4 1.4 -3 2.4 -4 2.4 -3 2.9 -3 3.2 -2.6 3 -2 4 -2 4 -1.6 4 -1.2 5 -1.2 6 -1.2 14 -1.8z"/><path fill="#87ff00" d="M1644 104.3l12.2 -.8 11 .2 13 1.1 12 2 12 3 6 1.8 7 2.5 6 2.4 5 2.2 4 2 5 3 3 2 3 2.5 2.1 2.1 2.5 3 2 3 2.1 4 1.7 4 1.1 3 1 4 .6 4 .2 3 -.1 3 -.5 3 -1 3 -1.4 3 -1.1 2 -2.1 3 -2.1 2.5 -2.7 2.5 -2.3 1.8 -3 1.8 -2.9 1.4 -3.1 1.2 -4 1.3 -5 1.3 -5 1 -13 1.9 -14 1.3 -16 .9 -19 .3 -19 -.5 -18 -1.1 -15 -1.7 -12 -2.1 -5 -1.3 -4.6 -1.5 -3.4 -1.4 -3.1 -1.6 -3 -2 -2.9 -2.5 -2.3 -2.5 -1.7 -2.2 -1.8 -2.8 -1.5 -3 -1.1 -3 -.5 -2 -.4 -3 0 -3 .3 -3 .7 -4 1.2 -4 1.5 -4 1.9 -4 1.8 -3 2.1 -3 2.7 -3 2.1 -2 3 -2.3 6 -3.7 7 -3.5 10 -4.1 10 -3.3 10 -2.7 10 -2zM1634 295.3l16.2 -.6 16 -.1 17 .6 15.4 1.1 13.6 1.6 11 2 8.9 2.4 4.1 1.5 3 1.4 3.7 2.1 2.8 2 2.5 2.2 2.6 2.8 2.2 3 1.8 3 1.4 3 1 3 .7 3 .2 3 -.2 3 -.5 4 -.8 4 -1.2 4 -1.5 4 -1.4 3 -2.3 4 -2 3 -2.4 3 -2.6 2.5 -6 4.8 -11 7.1 -11 6 -6 2.8 -6 2.5 -5 1.9 -6 1.9 -5 1.4 -6 1.3 -10 1.5 -10 .7 -9 -.3 -10 -1.2 -10 -1.9 -10 -2.9 -10 -3.7 -10 -4.6 -11 -6 -6 -3.7 -5 -3.4 -3 -2.3 -3 -2.6 -2.6 -2.8 -2.2 -3 -2.4 -4 -2.4 -5 -1.8 -5 -1.3 -5 -.8 -5 -.3 -4 .4 -4 1.1 -4 1.2 -3 1.7 -3 2 -3 2.6 -3 2.8 -2.7 3 -2.2 3 -1.8 4 -1.8 4 -1.5 5 -1.5 6 -1.3 6 -1.1 14 -1.8z"/><path fill="#9cff00" d="M1647.4 107.3l10.8 -.6 11 .4 12 1.2 12 2.2 12 3.1 12 4.1 11 4.6 4 2 4 2.3 2.4 1.7 2.6 2.1 2 2.1 2.3 2.8 1.9 3 2.1 4 1.3 3 1.2 4 .9 4 .4 3 .1 3 -.1 2 -.6 3 -1 3 -1.5 3 -1.2 2 -1.8 2.5 -2.3 2.5 -2.3 2 -2.8 2 -3.6 2 -3 1.2 -4 1.4 -4 1.2 -11 2.3 -14 1.9 -15 1.3 -17 .7 -17 0 -18 -.8 -15 -1.3 -14 -2 -6 -1.2 -5 -1.2 -4 -1.2 -4 -1.5 -3.9 -1.8 -3.1 -1.9 -2.6 -2.1 -2.1 -2 -1.7 -2 -2.1 -3 -1.1 -2 -1.3 -3 -.9 -3 -.3 -2 -.1 -2 .1 -3 .4 -3 .9 -4 1.2 -4 1.3 -3 2.1 -4 1.9 -3 2.3 -2.8 2 -2.1 2.6 -2.1 2.4 -1.7 6 -3.3 8 -3.6 11 -4.1 10 -3.1 10 -2.4 9 -1.6zM1638.9 296.3l15.3 -.5 14 .1 16 .6 14 1.2 12.1 1.6 10.9 2.1 5 1.3 4 1.3 3.4 1.3 3.6 1.7 3 1.7 3 2.2 2.7 2.4 1.8 2 2.3 3 1.8 3 1.3 3 1 3 .4 2 .2 3 -.2 3 -.5 4 -.9 4 -.9 3 -1.6 4 -1.4 3 -2.3 4 -2.1 3 -2.6 3 -3.3 3 -3.7 2.6 -5 3.1 -13 6.8 -7 3.3 -7 3 -6 2.2 -6 1.9 -6 1.6 -6 1.3 -6 .9 -7 .8 -5 .2 -5 -.1 -5 -.3 -6 -.7 -6 -1 -5 -1 -5 -1.3 -6 -1.8 -6 -2.1 -7 -2.8 -13 -6.1 -6 -3.1 -6 -3.4 -4 -2.6 -3.1 -2.4 -2.1 -2 -2.6 -3 -2.2 -3.3 -2.1 -3.7 -1.8 -4 -1.4 -4 -1 -4 -.8 -4 -.3 -3 0 -3 .4 -3 .7 -3 1.2 -3 1.6 -3 1.5 -2.2 2 -2.5 4 -3.8 2 -1.5 3 -1.9 6 -2.7 7 -2.3 9 -2 11 -1.8 12 -1.4z"/><path fill="#b1ff00" d="M1648.1 110.3l10.1 -.5 10 .3 11 1.1 11 1.8 12 3 12 3.8 11 4.2 4 1.9 4 2.2 3 2 2 1.5 2 1.9 2.4 2.8 2.1 3 1.5 2.7 1.5 3.3 1.1 3 1.4 6 .3 3 0 3 -.5 3 -.5 2 -1.3 3 -1.1 2 -1.9 2.8 -1.9 2.2 -2.2 2 -2.9 2.2 -3.2 1.8 -3.8 1.7 -3.5 1.3 -4.5 1.3 -6 1.5 -6 1.2 -13 1.9 -15 1.3 -16 .7 -16 0 -18 -.9 -15 -1.5 -13 -2.1 -10.2 -2.4 -4.8 -1.5 -3.7 -1.5 -3.3 -1.7 -3 -1.8 -3 -2.4 -2 -2.1 -2.9 -4 -1.1 -2 -1.3 -3 -.5 -2 -.5 -3 -.1 -2 .3 -3 .5 -3 1 -4 1.1 -3 1.4 -3 1.6 -3 2.1 -3 2.4 -2.8 2 -1.9 2 -1.5 3 -2 6 -3.2 8 -3.3 11 -3.8 10 -2.9 9 -2.1 9 -1.5zM1643.7 297.3l14.5 -.4 14 .3 14 .8 13 1.3 12 1.8 9.6 2.2 7.4 2.3 4 1.6 3 1.5 2.7 1.6 2.8 2 2.3 2 2.2 2.3 2 2.7 1.8 3 .9 2 1 3 .4 2 .2 3 -.1 3 -.6 4 -1 4 -1 3 -2.6 6 -2.4 4 -2.2 3 -2.4 2.6 -2.8 2.4 -3.2 2.3 -4 2.4 -10 5 -9 3.9 -7 2.8 -6 2.2 -7 2.2 -7 1.8 -6 1.2 -7 .9 -6 .6 -4 .1 -5 -.1 -6 -.5 -5 -.7 -5 -.8 -6 -1.3 -11 -3.2 -7 -2.5 -7 -2.8 -9 -3.9 -7 -3.3 -4 -2.1 -4 -2.4 -3 -2.3 -2.8 -2.5 -2.2 -2.6 -2 -2.8 -2 -3.4 -1.5 -3.2 -1.2 -3 -1.2 -4 -.9 -4 -.5 -4 0 -3 .2 -2 .4 -2 1 -3 1.4 -3 1.2 -2 2.1 -2.8 2 -2.2 2.3 -2 2.7 -2 5 -2.7 6 -2.4 8 -2.3 10 -2.1 10.1 -1.5 11.9 -1.2z"/><path fill="#c6ff00" d="M1646.2 113.3l10 -.7 9 .1 11 .9 11 1.7 11 2.5 11 3.1 12 4.3 4 1.7 4 2 5.3 3.4 2.4 2 2 2 3.3 4.4 1.5 2.6 1.4 3 1.1 3 .8 3 .5 3 .3 3 -.2 3 -.4 2 -1 3 -.9 2 -2 3 -1.6 2 -2.5 2.4 -3 2.2 -3 1.8 -3.4 1.6 -3.6 1.4 -5 1.6 -11 2.6 -13 2 -14.1 1.4 -15.9 .8 -15 0 -17 -.9 -14 -1.4 -13 -2.1 -6 -1.4 -5 -1.3 -4 -1.3 -4 -1.6 -3.7 -1.8 -3.2 -2 -2.6 -2 -2.5 -2.6 -1.9 -2.4 -1.1 -1.9 -1.8 -4.1 -.5 -2 -.3 -3 .4 -5 .6 -3 .9 -3 1.2 -3 1.5 -2.9 3 -4.5 2 -2.3 2 -1.9 4.6 -3.4 5.4 -2.9 8 -3.4 9 -3.1 10 -2.9 8 -1.9 9 -1.7zM1649.2 298.3l12 -.2 13 .4 13 .9 12 1.3 11 1.9 9 2.2 7.5 2.5 6.5 3 3.2 2 2.7 2 2.2 2 1.7 2 1.5 2 1.8 3 1.2 3 .6 2 .3 2 .1 3 -.3 3 -.5 3 -1.7 6 -1.2 3 -1.6 3.1 -2.5 3.9 -2.4 3 -2.1 2.2 -3 2.5 -3.3 2.3 -3.5 2 -9.2 4.3 -8 3.2 -8 3 -7 2.3 -6 1.6 -6 1.5 -7 1.2 -7 .9 -6 .4 -5 0 -5 -.3 -5 -.5 -6 -.9 -11 -2.4 -12 -3.6 -16 -6.1 -6 -2.5 -4.3 -2.1 -3.5 -2 -3.2 -2.1 -3.4 -2.9 -2.6 -2.8 -2 -2.6 -2 -3.2 -1.7 -3.4 -1.2 -3 -1 -3 -.9 -4 -.4 -3 -.2 -3 .3 -3 .4 -2 .6 -2 1.1 -2.4 1.5 -2.6 1.5 -2 1.8 -2 2.1 -2 4.2 -3 5.9 -3 7 -2.6 9 -2.4 10 -1.9 10 -1.4 11 -1z"/><path fill="#dbff00" d="M1654.8 115.3l8.4 -.1 9 .6 10 1.3 10 1.8 11 2.8 10 3.1 9 3.5 6 3 5 3.5 4 3.9 2 2.6 1.3 2 2.4 5 1 3 .7 3 .4 3 .1 2 -.2 2 -.7 2.9 -.9 2.1 -1 2 -2.1 2.9 -2 2.1 -2.4 2 -3 2 -3.6 1.9 -4 1.7 -4 1.4 -5 1.5 -6 1.5 -6 1.2 -12.9 1.8 -14.1 1.2 -16 .5 -16 -.4 -15 -1.1 -13 -1.7 -6 -1.1 -6 -1.4 -5 -1.3 -5 -1.7 -4 -1.6 -3 -1.5 -3.2 -1.9 -2.8 -2.1 -2 -1.9 -2.4 -3 -1.2 -2 -1 -2 -.7 -2 -.4 -2 -.2 -2 .2 -3 1 -5 1.8 -5 1.6 -3 1.3 -2 3.3 -4 2.2 -2 2.5 -2 5 -3.1 7 -3.2 9 -3.2 9 -2.7 10 -2.4 9 -1.6 9 -1.2zM1636.1 300.3l13.1 -.8 12 -.2 13 .4 13 1 12 1.5 10 1.9 9 2.4 7.8 2.8 6.2 3.2 2.8 1.8 2.5 2 2 2 1.7 2 1.3 2 1.6 3 1.2 4 .2 2 0 3 -.4 3 -.6 3 -.9 3 -1.2 3 -1.5 3 -1.8 3 -2.3 3 -2.7 3 -2.9 2.5 -3 2.2 -3 1.9 -4 2 -5 2.2 -7 2.7 -9 3.1 -7 2.1 -7 1.8 -6 1.3 -6 1 -6 .7 -9 .4 -5 -.2 -5 -.4 -11 -1.7 -10 -2.2 -13 -3.9 -8 -2.8 -6 -2.3 -5 -2.3 -4 -2.1 -3.2 -2 -2.6 -2 -2.3 -2 -2.7 -3 -2.2 -2.9 -1.3 -2.1 -1.6 -3 -1.3 -3 -.9 -3 -.8 -3 -.6 -5 .1 -3 .4 -2 1 -3 .9 -2 2.7 -4 1.9 -2 2.2 -2 4.3 -2.9 6 -3 6 -2.3 8 -2.2 9 -1.9 10 -1.6z"/><path fill="#efff00" d="M1646.4 118.3l9.8 -.6 8 0 11 .8 10 1.4 10 2 11 2.9 9 3.1 7.7 3.4 5.3 3.2 4.6 3.8 3.6 4 2.8 4.5 1.1 2.5 1 3 1 5 -.1 3 -.3 2 -.6 2 -.9 2 -2 3 -1.8 2 -2.4 2.2 -3 2.1 -3 1.7 -4 1.9 -4 1.5 -5 1.6 -5 1.3 -6 1.4 -12 1.9 -14 1.3 -14 .6 -14 -.1 -15 -1 -13 -1.5 -6 -1 -6 -1.3 -5 -1.3 -5 -1.5 -4 -1.5 -4 -1.8 -3 -1.6 -3 -2 -3 -2.5 -2.2 -2.4 -1.4 -2 -1.1 -2 -.7 -2 -.5 -2 -.2 -2 0 -2 .7 -4 1.7 -5 1.5 -3 1.2 -1.9 3.4 -4.1 3.6 -3.3 4 -2.8 5.3 -2.9 6.7 -2.8 7 -2.4 8 -2.2 9 -2 8 -1.4zM1639.9 301.3l12.3 -.6 11 -.1 12 .4 12 1 10 1.4 10 1.9 8 2.2 7.8 2.8 6 3 3.1 2 2.1 1.6 2 1.8 2 2.2 1.7 2.4 1.1 2 .8 2 .5 2 .3 4 -.7 5 -.8 3 -1.1 3 -1.4 3 -1.8 3 -2.3 3 -2.7 3 -2.6 2.4 -3.4 2.6 -3.6 2.2 -4 2 -5 2.2 -6 2.2 -6 2 -8 2.2 -7 1.7 -6 1.2 -6 .9 -7 .8 -5 .3 -5 0 -5 -.3 -6 -.6 -6 -.9 -6 -1.1 -13 -3.2 -12 -3.8 -5 -1.9 -5 -2.2 -3.3 -1.7 -3.7 -2.3 -3 -2.2 -2.8 -2.5 -2.2 -2.4 -2 -2.5 -3 -5 -2.1 -5.1 -.8 -3 -.5 -3 -.1 -4 .2 -2 .6 -2 .8 -2 1 -2 1.4 -2 1.7 -2 3.8 -3.3 5 -3.2 6 -2.8 7 -2.5 8 -2.1 9 -1.8 9.3 -1.3z"/><path fill="#fffa00" d="M1648.8 120.3l8.4 -.4 8 .1 10 .7 10 1.4 10 1.9 10 2.7 7.7 2.6 6.7 3 5.6 3.3 4.6 3.7 3.7 4 2.7 4 1 2.1 1.1 2.9 .8 3 .3 2 0 2 -.2 2 -.6 2 -.8 2 -1.6 2.5 -2.2 2.5 -2.2 2 -2.8 2 -3.4 2 -3.4 1.6 -4 1.6 -5.5 1.8 -10.5 2.6 -12 1.9 -14 1.3 -14 .6 -14 -.3 -14 -1 -13 -1.8 -10.9 -2.3 -5.1 -1.5 -4.5 -1.5 -4.5 -1.8 -3 -1.5 -3 -1.8 -3 -2.2 -2.8 -2.7 -1.6 -2 -1.7 -3 -.7 -2 -.3 -2 -.1 -2 .2 -2 1 -4.3 2 -4.7 2.7 -4 3.3 -3.7 4 -3.3 4.7 -3 5.3 -2.6 6 -2.4 7 -2.2 8 -2.1 8 -1.6 9 -1.3zM1644.3 302.3l10.9 -.5 10 .1 12 .6 11 1 9 1.4 9 1.8 8 2.3 7 2.7 6 3.1 4.8 3.5 2.1 2 1.7 2 1.4 2 1 2 .8 2 .4 2 .2 2 -.1 2 -1 5 -1.9 5 -1.5 3 -2 3 -2.5 3 -3 3 -3.4 2.7 -3 2.1 -3 1.7 -4 2 -5 2 -5 1.8 -7 2 -6 1.5 -7 1.5 -6 1 -7 .9 -6 .5 -5 .2 -6 -.2 -6 -.5 -6 -.7 -6 -.9 -7 -1.4 -7 -1.7 -6 -1.7 -5 -1.7 -5 -1.9 -4 -1.7 -4 -2.2 -3.7 -2.3 -2.6 -2 -2.7 -2.4 -2.4 -2.6 -1.6 -2 -2 -3 -2.5 -5 -1.5 -5 -.5 -3 0 -2 .1 -2 .4 -2 1.3 -3 1.2 -2 1.5 -1.9 3.1 -3.1 4.1 -3 5.5 -3 6.3 -2.5 7 -2.2 8 -1.9 8 -1.4 9 -1.2z"/><path fill="#ffe500" d="M1649.2 122.3l8 -.4 8 .1 10 .7 9 1.2 9 1.6 8 2 8 2.6 6 2.5 6 3.4 4.6 3.3 4.1 4 2.8 4 2 4 1 3 .4 2 .2 2 -.1 2 -.4 2 -.8 2 -1.8 3 -1.8 2 -2.2 2 -2.7 2 -3.4 2 -3.9 1.8 -4 1.6 -4.8 1.6 -10.2 2.5 -11 1.8 -13 1.3 -14 .5 -13 -.2 -14 -1 -12 -1.6 -6 -1.2 -5 -1.2 -5 -1.5 -4.1 -1.4 -4.8 -2 -3.1 -1.6 -3.7 -2.4 -2.3 -1.8 -2.1 -2.2 -1.6 -2 -1.6 -3 -.6 -2 -.2 -2 0 -2 .3 -2 1.3 -4 2 -4 2.8 -4 3.7 -3.6 4 -3.1 5 -3 4.9 -2.3 5.3 -2 5.8 -1.8 7 -1.7 8 -1.6 8 -1.1zM1649.9 303.3l10.3 -.2 10 .2 10 .7 10 1.2 9 1.5 8 2 7 2.2 6 2.5 5.1 2.9 4 3 2.1 2 1.6 2 1.4 2 .9 2 .9 3 .2 2 -.1 2 -1.1 5 -2 5 -1.7 3 -2.2 3 -2.6 3 -2.5 2.3 -3 2.3 -3.6 2.4 -3.6 2 -4.3 2 -4.5 1.7 -5 1.6 -6 1.6 -6 1.4 -7 1.2 -6 .9 -6 .6 -6 .3 -5 .1 -6 -.3 -6 -.5 -7 -.9 -7 -1.1 -6 -1.3 -6 -1.5 -5 -1.5 -4 -1.4 -4.5 -1.9 -4.1 -2 -3.4 -2 -3 -2.1 -3.5 -2.9 -2.5 -2.6 -2 -2.4 -2.6 -4 -2.3 -5 -1.2 -5 -.2 -4 .3 -2 .7 -2 1.6 -3 2.7 -3.3 4 -3.5 5 -3 5 -2.4 7 -2.5 7 -1.9 8 -1.6 8 -1.2 9 -1z"/><path fill="#ffd000" d="M1647.9 124.3l8.3 -.4 8 0 9 .5 9 1.1 8 1.3 8 1.8 7 2.1 6.4 2.6 5.6 3 4.5 3 3.5 3.1 3.3 3.9 2.4 4 1.2 3 .6 2 .3 2 0 2 -.2 2 -.7 2 -1.7 3 -1.6 2 -2.2 2 -2.4 1.8 -3 1.9 -3 1.5 -4.2 1.8 -3.8 1.4 -5 1.4 -4.8 1.2 -11.2 2 -12 1.2 -13 .7 -13 -.2 -13 -.8 -12 -1.5 -6 -1.2 -5 -1.1 -4 -1.1 -5 -1.7 -3.3 -1.3 -4.1 -2 -3.4 -2 -2.6 -2 -2.2 -2 -1.6 -2 -1.7 -3 -.9 -3 -.1 -2 .3 -2 1 -4 2 -4 2.6 -3.7 3.1 -3.3 3.8 -3 4.8 -3 4.3 -2.2 5 -2 6 -1.9 7 -1.8 7 -1.3 7 -1zM1639.8 305.3l10.4 -.7 10 -.2 10 .3 10 .7 9 1.1 9 1.6 8 2 6.6 2.2 6.6 3 4.8 3 3.5 3 1.8 2 1.4 2 1.4 3 .5 2 .2 2 -.4 4 -1.5 5 -1.4 3 -1.8 3 -2.3 3 -1.9 2 -2.5 2.3 -3.5 2.7 -3.1 2 -3.7 2 -3.7 1.7 -4 1.5 -9 2.7 -11 2.2 -11 1.4 -11 .6 -11 -.3 -12 -1.3 -6 -1 -6 -1.2 -5 -1.3 -5 -1.5 -4 -1.5 -4 -1.8 -4 -2.1 -3 -1.8 -3.1 -2.3 -2.4 -2 -3.8 -4 -2.7 -4 -2 -4 -1.6 -5 -.4 -4 .4 -3 .7 -2 .9 -1.7 2.4 -3.3 3.2 -3 4.4 -3 5 -2.5 6.3 -2.5 6.8 -2 7.9 -1.8 8 -1.2z"/><path fill="#ffbb00" d="M1645.6 126.3l8.6 -.5 8 -.1 9 .4 9 .9 8.4 1.3 7.6 1.7 6 1.8 6 2.3 6 3.1 4.5 3.1 3.5 3 3.3 4 2.3 4 1.1 3 .5 2 .2 2 -.1 2 -.9 3 -1.1 2 -1.5 2 -2 2 -2.6 2 -3.3 2 -2.9 1.5 -3.5 1.5 -4.5 1.6 -9 2.4 -10 1.7 -12 1.3 -12 .6 -12 -.1 -13 -.8 -11 -1.4 -10 -2 -8 -2.4 -4.9 -1.9 -3.1 -1.5 -2.7 -1.5 -2.8 -2 -2.3 -2 -1.8 -2 -1.8 -3 -.9 -3 0 -3 .6 -3 1.6 -4 2.1 -3.5 3 -3.5 3.5 -3 3.5 -2.5 4.5 -2.5 4.5 -2 6 -2.2 6 -1.6 6 -1.3 7 -1.1zM1644.6 306.3l10.6 -.5 9 0 10 .5 9 .8 8.4 1.2 7.6 1.5 7 2 6 2.2 4.7 2.3 4.7 3 3.4 3 1.6 2 1.3 2 1.2 3 .3 2 .1 2 -.6 4 -1.4 4 -1.4 3 -2 3 -1.9 2.4 -2.5 2.6 -2.4 2 -3.1 2.3 -3 1.9 -4 2.1 -4 1.7 -4 1.4 -9 2.4 -11 1.9 -11 1.1 -11 .2 -12 -.7 -6 -.7 -6 -.9 -10 -2.2 -8 -2.7 -4.3 -1.8 -3.7 -2 -3.3 -2 -2.7 -2 -3 -2.6 -2.4 -2.4 -2.9 -4 -2.1 -4 -1.4 -4 -.6 -4 .2 -3 .9 -3 1.8 -3 2.7 -3 3.8 -3 5 -2.8 5 -2.2 5.9 -2 7.1 -1.8 7 -1.3 8 -1.1z"/><path fill="#ffa700" d="M1643.4 128.3l8.8 -.6 8 -.2 9 .3 8 .6 8 1.1 8 1.7 7 2 5 2 6 3 4.5 3.1 3.4 3 3.1 3.8 1.3 2.2 1 2 1.1 4 .3 2 -.1 2 -.9 3 -1.2 2 -1.6 2 -2.1 2 -2.8 2 -5.6 3 -7.4 2.8 -8.6 2.2 -9.4 1.6 -11 1.1 -11 .5 -12 -.1 -12 -.7 -11 -1.4 -9 -1.8 -7.4 -2.2 -3.6 -1.4 -3.5 -1.6 -5 -3 -2.4 -2 -1.9 -2 -1.9 -3 -.9 -3 0 -3 .6 -3 1.7 -4 1.8 -3 2.6 -3 2.9 -2.6 3.3 -2.4 3.7 -2.2 4 -1.9 5 -2 5 -1.5 6 -1.4 6 -1.1zM1652.8 307.3l8.4 -.1 9 .3 9 .6 8 1 7 1.2 7 1.8 6 1.9 5.2 2.3 3.8 2.1 3.8 2.9 2.9 3 1.8 3 .9 3 .2 2 -.1 2 -.8 4 -1.6 4 -1.7 3 -1.4 2 -2 2.4 -2.8 2.6 -2.5 2 -3.7 2.4 -3 1.7 -4.1 1.9 -3.9 1.5 -4.9 1.5 -9.1 2 -10 1.3 -11 .7 -11 -.1 -12 -1.1 -10 -1.7 -4.6 -1.1 -4.4 -1.3 -7 -2.8 -3.8 -1.9 -3.3 -2 -2.9 -2.1 -3.3 -2.9 -1.8 -2 -2.3 -3 -2.2 -4 -1.4 -4 -.6 -4 .1 -3 1 -3 1.8 -3 2.7 -2.8 2.8 -2.2 5.2 -3 4.6 -2 5.9 -2 5.5 -1.4 7 -1.4 7 -1 8 -.7z"/><path fill="#ff9200" d="M1642 130.3l8.2 -.7 8 -.3 9 .2 8 .6 8 1 6.3 1.2 6.7 1.8 5 1.8 5.1 2.4 4.9 3 3.6 3 2.7 3 1.4 2 1.1 2 1.5 4 .3 2 .1 2 -.6 3 -.9 2 -1.5 2 -3.2 3 -4.7 3 -3.8 1.8 -3.2 1.2 -7.8 2.3 -9 1.7 -9 1.1 -11 .6 -11 .1 -12 -.5 -10 -1 -9 -1.6 -8 -2.1 -6.8 -2.6 -5.3 -3 -2.6 -2 -2 -2 -1.5 -2 -1.2 -3 -.3 -3 .4 -3 1 -3 1.6 -3 2.2 -3 3 -3 2.5 -2 4 -2.5 4 -2 4 -1.7 5 -1.6 5 -1.3 5 -.9zM1643.5 309.3l8.7 -.5 9 -.1 9 .2 8 .6 8 1 7 1.3 6 1.5 6 2 5 2.3 4.4 2.7 3.4 3 2.2 3 1.3 3 .4 3 -.4 4 -1.2 4 -1.5 3 -1.2 2 -3.4 4.1 -2.1 1.9 -2.5 2 -3.1 2 -3.3 1.8 -3 1.4 -4 1.6 -7 2.1 -8 1.5 -9 1.1 -10 .5 -11 -.2 -10 -.9 -10 -1.7 -7.9 -2.2 -7.1 -2.8 -5.6 -3.2 -2.9 -2 -2.3 -2 -2.9 -3 -2.8 -4 -1.9 -4 -1 -4 -.3 -3 .4 -3 1.3 -3 2.3 -3 3.5 -3 3.1 -2 4 -2 5.2 -2 5.9 -1.7 6 -1.3 7 -1.1z"/><path fill="#ff7d00" d="M1657 131.3l7.2 0 7 .4 6.3 .6 6.6 1 5.1 1.1 5 1.4 4.2 1.5 4.8 2.2 4 2.4 3.1 2.4 2.9 3 2.1 3 1.4 3 .6 2 .3 2 0 3 -.9 3 -1.3 2 -1.7 2 -4 3 -5.5 2.8 -6.3 2.2 -7.7 1.8 -8 1.3 -10 .9 -11 .4 -11 -.2 -10 -.8 -9 -1.2 -8 -1.7 -7 -2.3 -5 -2.3 -4.3 -2.9 -2.1 -2 -1.5 -2 -1 -2 -.6 -3 .2 -3 .5 -2 .7 -2 1.6 -3 2.4 -3 3.1 -2.9 3 -2.1 3.4 -2 4.6 -2.1 5 -1.7 5 -1.4 6 -1.1 6 -.9 7 -.5zM1654.3 310.3l7.9 -.1 8 .3 8 .6 7 .9 6.8 1.3 5.2 1.3 4.9 1.7 4.5 2 3.6 2.2 3.5 2.8 1.7 2 1.6 3 .7 3 0 3 -.9 4 -1.7 4 -1.9 3 -1.6 2 -2 2 -2.3 2 -5.1 3.3 -6 2.8 -7 2.4 -8 1.7 -9 1.2 -10 .5 -10 -.2 -9 -.7 -9 -1.5 -8 -2.1 -3.9 -1.4 -3.1 -1.3 -3.2 -1.7 -2.8 -1.7 -3 -2.3 -2 -1.8 -2.1 -2.2 -1.5 -2 -1.7 -3 -1.5 -4 -.6 -4 .1 -3 1 -3 1.3 -2 2.8 -3 2.7 -2 3.4 -2 4.6 -2 5.5 -1.8 4.7 -1.2 5.3 -1 7 -1 7 -.6z"/><path fill="#ff6800" d="M1643.1 134.3l7.1 -.6 8 -.3 8 .1 7 .5 7 .9 6 1.1 5 1.4 5 1.8 4.5 2.1 3.5 2.2 3.3 2.8 2.6 3 1.7 3 .8 2 .5 2 .2 3 -.6 3 -1.1 2 -.7 1 -1.7 1.8 -1.4 1.2 -2.6 1.7 -2.5 1.3 -5 2 -6.5 1.8 -7 1.3 -8 1 -9 .6 -10 .1 -10 -.4 -9 -.8 -8 -1.3 -7 -1.8 -6 -2.3 -4.1 -2.2 -1.9 -1.4 -1.8 -1.6 -1.6 -2 -1.1 -2 -.5 -2 0 -3 .6 -3 1.3 -3 2 -3 1.8 -2 2.3 -2 3 -2.1 3.5 -1.9 4.5 -1.9 4 -1.3 4 -1.1 5 -1zM1647 312.3l8.2 -.4 8 0 8 .3 7 .6 7 1 6 1.3 5 1.4 4.8 1.8 3.9 2 2.9 2 2.2 2 2.1 3 1.1 3 .2 3 -.5 3 -1.3 4 -2.3 4 -1.6 2 -2 2 -3.9 3 -5.3 3 -5.3 2.1 -7 2 -7 1.3 -8 .9 -9 .3 -10 -.3 -8 -.8 -8 -1.5 -6.9 -2 -6.1 -2.6 -5 -2.9 -2 -1.5 -2.3 -2 -2.6 -3 -1.8 -3 -1.3 -3 -.8 -3 -.2 -3 .4 -3 1.4 -3 1.6 -2 2.2 -2 3.4 -2.2 3.6 -1.8 5.4 -2 5 -1.4 6 -1.1 6 -.9z"/><path fill="#ff5300" d="M1646.2 136.3l6 -.5 7 -.2 7 .2 7 .5 6 .8 5 1 4.4 1.2 4.6 1.7 4.7 2.3 3.1 2 2.3 2 2.5 3 1.7 3 .9 3 .2 3 -.7 3 -.7 1.4 -1.2 1.6 -2.8 2.5 -4.4 2.5 -4.6 1.8 -6 1.7 -7 1.2 -7 .8 -8 .5 -9 .1 -9 -.3 -8 -.8 -7 -1.1 -7.5 -1.9 -5.1 -2 -3.7 -2 -1.7 -1.3 -1.8 -1.7 -1.5 -2 -.8 -2 -.3 -2 .2 -3 .9 -3 1 -2 2.2 -3 2.1 -2 2.7 -2 2.3 -1.4 3.2 -1.6 3.8 -1.5 4 -1.2 4 -.9zM1644.8 314.3l7.4 -.5 7 -.1 8 .1 7 .5 7 .8 6 1.1 4.1 1.1 4.9 1.7 4 1.9 3 1.9 2.8 2.5 1.4 2 .8 2 .5 3 -.3 3 -1.1 4 -1 2 -1.3 2 -2.6 3 -3.7 3 -3.5 2.1 -4 1.9 -6 2 -6 1.4 -7 1 -8 .6 -9 0 -8 -.5 -7 -1 -6.6 -1.5 -5.9 -2 -4.5 -2.1 -4.5 -2.9 -2.5 -2.1 -2.5 -2.9 -1.8 -3 -1.2 -3 -.6 -3 -.1 -3 .8 -3 1.1 -2 1.8 -2 2.5 -2 3.4 -2 4.6 -1.9 4 -1.3 5 -1.2 5 -.8z"/><path fill="#ff3e00" d="M1653.2 138.3l6 -.2 6 .2 6 .4 5 .6 5 .9 4 1.1 3 1 4 1.7 3.8 2.3 2.2 1.7 2.1 2.3 1.4 2 1 2 .8 3 -.1 3 -.6 2 -1.3 2 -.9 1 -2.5 2 -3.8 2 -5.1 1.9 -5 1.2 -7 1.2 -7 .6 -8 .3 -8 0 -8 -.5 -6 -.7 -7 -1.3 -5.6 -1.7 -4.6 -2 -3 -2 -1.8 -1.7 -1 -1.3 -1 -2 -.3 -2 0 -2 .8 -3 1 -2 1.4 -2 1.8 -2 2.5 -2 2.8 -1.7 2.5 -1.3 3.5 -1.4 4 -1.2 8 -1.5zM1645.3 316.3l5.9 -.4 7 -.2 7 0 7 .4 6 .7 5 .9 5 1.2 4.1 1.4 2.9 1.3 2.9 1.7 2.4 2 1.7 2.1 .9 1.9 .5 3 -.3 3 -.9 3 -1.5 3 -2.4 3 -3.3 2.8 -3.5 2.2 -4.4 2 -5.1 1.7 -5 1.1 -6 .9 -7 .5 -7 0 -7 -.3 -7 -.9 -6 -1.2 -5 -1.6 -5 -2.2 -3.3 -2 -2.7 -2.2 -2.6 -2.8 -1.4 -2.2 -1.3 -2.8 -.7 -3 -.1 -2 .5 -3 1 -2 1.7 -2 2.5 -2 2.4 -1.4 3.4 -1.6 3.6 -1.2 5 -1.3 5 -.9z"/><path fill="#ff2a00" d="M1651.1 141.3l10.1 -.3 5 .2 5 .4 4 .6 4 .8 4 1.2 3 1.1 3 1.5 2.4 1.5 2.3 2 1.7 2 1.2 2 .9 3 .1 2 -.4 2 -1.2 2 -2 2 -3.2 2 -4.8 1.9 -4 1.1 -5.1 1 -5.9 .7 -7 .4 -8 0 -7 -.3 -6.9 -.8 -5.1 -1 -4 -1.1 -4.8 -1.9 -3.2 -2 -2 -2 -.7 -1 -.8 -2 -.1 -2 .3 -2 .7 -2 1.2 -2 1.7 -2 1.7 -1.5 4 -2.6 3 -1.3 3 -1.1 6.3 -1.5zM1648.6 318.3l5.6 -.3 6 -.1 11 .5 5 .6 4 .7 4 .9 4 1.4 2.8 1.3 3.1 2 1.1 1 1.6 2 .8 2 .3 2 -.1 2 -.9 3 -1.6 3 -2.1 2.5 -3 2.5 -3.4 2 -4.6 1.9 -4 1.2 -5 1 -6 .7 -6 .3 -7 -.1 -6 -.6 -6 -1 -5 -1.3 -4 -1.6 -4 -2.2 -3 -2.3 -1.9 -2 -1.4 -2 -1 -2 -.9 -3 -.1 -2 .3 -2 .8 -2 1.2 -1.5 1.5 -1.5 2.5 -1.6 2.8 -1.4 2.7 -1 3.4 -1 4.1 -.9z"/><path fill="#ff1500" d="M1647.1 145.3l8.1 -.9 9 0 8.1 .9 3.9 .8 3 .9 3 1.2 2 1.1 2 1.3 2 1.8 1.5 1.9 .9 2 .4 2 -.2 2 -1 2 -1.6 1.7 -2 1.3 -3 1.4 -4 1.2 -4 .9 -4 .6 -6 .4 -6 .2 -6 -.2 -5.6 -.5 -4.4 -.7 -5 -1.2 -3 -1.1 -2 -1 -2.8 -2 -1.4 -2 -.4 -1 -.2 -2 .1 -1 .7 -2 1 -1.7 1.1 -1.3 2.3 -2 3.6 -2.1 5 -1.8zM1646.6 321.3l8.6 -.7 10 0 8 .8 4.8 .9 3.2 .9 2.9 1.1 2 1 2.1 1.5 1.5 1.5 .6 1 .7 2 .1 2 -.4 2 -.8 2 -1.3 2 -1.9 2 -1.5 1.2 -2.9 1.8 -2.2 1 -2.9 1.1 -3.5 .9 -3.5 .7 -4 .4 -4 .3 -5 0 -8 -.7 -3.7 -.7 -3.8 -1 -3.5 -1.3 -3 -1.6 -2 -1.4 -1.9 -1.7 -1.6 -2 -1.1 -2 -.8 -3 .1 -2 .7 -2 .6 -1 2 -1.9 1.7 -1.1 2 -1 3.3 -1.2 3 -.8z"/><path fill="#ff0000" d="M1651.8 149.3l6.4 -.5 6 .1 5 .7 5 1.4 2 .8 2 1.2 1.6 1.3 .9 1 .6 1 .7 2 -.1 1 -.3 1 -.6 1 -1.8 1.6 -2 1.1 -2 .7 -3 .8 -4 .7 -7 .5 -8 -.3 -7 -1.1 -3.3 -1 -2.1 -1 -1.5 -1 -.9 -1 -.6 -1 -.3 -1 -.1 -1 .7 -2 1.5 -2 2.6 -1.9 2.1 -1.1 2.9 -1zM1652.2 324.3l6 -.4 7 .2 6 .8 4 1.1 3.1 1.3 1.5 1 1.1 1 .7 1 .4 1 .2 1 -.3 2 -.7 1.5 -1.1 1.5 -1.9 1.8 -2 1.3 -2 .9 -3 1.1 -4 .8 -3 .4 -7 .1 -4 -.3 -3 -.5 -2.4 -.6 -2.9 -1 -2.7 -1.4 -2.2 -1.6 -1.8 -2 -1 -1.9 -.3 -1.1 .2 -2 .4 -1 .7 -1 2 -1.6 2.8 -1.4 3.3 -1z"/><path fill="#00ff22" d="M1607.7 203.3l26.5 -.4 33 0 29 .2 24 .5 14 .6 11 1 9 1.4 6.7 1.7 3.3 1.2 3.7 1.8 3.1 2 2.4 2 2 2 2.3 3 1.8 3 1.4 3 1.5 4 1 4 .7 4 .4 4 .1 5 -.4 4 -.6 4 -1 4 -1.1 3 -1.3 3 -1.7 3 -1.5 2 -1.7 2 -2.1 2 -2.6 2 -2.4 1.5 -3 1.4 -2.8 1.1 -7.2 1.9 -9 1.4 -11 1 -13 .6 -17 .4 -44 .4 -46 -.3 -18 -.4 -14 -.5 -8 -.6 -6 -.6 -6 -1 -5 -1 -4.2 -1.3 -3.8 -1.6 -4 -2.3 -2.8 -2.1 -2 -2 -2.4 -3 -1.8 -3 -1.8 -4 -1.1 -3 -.9 -4 -.7 -4 -.3 -5 .1 -5 .5 -4 .7 -4 1.1 -4 1.6 -4 1.5 -3 1.9 -3 2.4 -2.9 3.4 -3.1 2.6 -1.8 2.3 -1.2 4.9 -2 6.8 -1.8 8 -1.3 9 -.8 12 -.6z"/><path fill="#00ff39" d="M1635.3 204.3l22.9 -.2 23 .2 20 .5 17 .7 12 1 9 1.2 7.4 1.6 5.9 2 3.7 1.7 3 1.7 2.2 1.6 2.8 2.5 2.2 2.5 2.2 3 1.7 3 1.3 3 1.1 3 1 4 .6 4 .2 4 -.1 3 -.5 4 -1 4 -1 3 -1.9 4 -1.8 2.9 -2 2.5 -2.5 2.6 -2.5 2 -3.1 2 -2.9 1.5 -3.7 1.5 -4.3 1.4 -4 .9 -9 1.5 -13 1.1 -17 .9 -33 .6 -36 -.1 -31 -.9 -12 -.6 -8.7 -.8 -6.3 -.8 -5.9 -1.2 -5.1 -1.4 -4.1 -1.6 -4 -2 -3 -2 -3.4 -3 -2.5 -3 -2 -3 -1.6 -3 -1.2 -3 -1.1 -4 -.6 -3 -.4 -4 0 -4 .4 -4 .8 -4 .8 -3 1.6 -4 1.5 -3 1.9 -3 1.9 -2.4 2.6 -2.6 2.5 -2 4.9 -2.9 5.1 -2.1 6.9 -1.9 7 -1.3 9 -1 12 -.8 16 -.6z"/><path fill="#00ff4f" d="M1615.3 206.3l18.9 -.7 21 -.2 21 .1 19 .5 16 .9 13 1.2 10 1.5 7 1.8 4 1.5 3.1 1.4 2.9 1.6 3 2 2.8 2.4 2 2 1.7 2 2.1 3 1.6 3 1.7 4 .9 3 .7 4 .3 3 0 3 -.4 3 -.9 4 -1.1 3 -1.4 3 -1.8 3 -2.3 3 -1.9 2 -3 2.6 -3 2.1 -3 1.6 -3 1.4 -3.3 1.3 -3.7 1.1 -4 .9 -10 1.6 -12 1.1 -12 .7 -13 .5 -16 .3 -16 .1 -17 -.2 -15 -.3 -13 -.6 -12 -.8 -8 -.8 -7 -.9 -5 -1 -5 -1.3 -4 -1.5 -4 -1.9 -4 -2.5 -3 -2.4 -2.1 -2.1 -2.4 -3 -1.3 -2 -1.7 -3 -1.2 -3 -.9 -3 -.8 -4 -.3 -3 .1 -3 .3 -3 .9 -4 1 -3 1.2 -3 1.6 -3 2.1 -3 1.6 -2 1.9 -2 2.3 -2 4.4 -3 5.3 -2.6 6 -2 7 -1.5 8 -1.2 11 -1z"/><path fill="#00ff66" d="M1624.2 207.3l17 -.6 19 -.1 18 .2 17 .6 14 1 12 1.4 9 1.6 7.1 1.9 3.9 1.5 3 1.5 3.3 2 2.7 2 2.3 2 2.7 2.9 1.6 2.1 2 3 1.5 3 1.1 3 .9 3 .5 3 .2 3 -.2 3 -.5 3 -.9 3 -1.3 3 -1.6 3 -2.1 3 -2.6 3 -2.6 2.3 -3 2.3 -3 1.8 -3.3 1.6 -3.7 1.4 -3 1 -9 1.9 -12 1.6 -15 1.2 -12 .5 -13 .4 -28 .1 -14 -.4 -12 -.5 -11 -.7 -10 -.9 -7 -.9 -6 -1 -5 -1.2 -4.8 -1.5 -4.2 -1.9 -3.7 -2.1 -3.3 -2.4 -2.8 -2.6 -1.8 -2 -2.2 -3 -2.7 -5 -1 -3 -.8 -3 -.4 -3 -.1 -3 .3 -3 .7 -3 .9 -3 1.2 -3 2.9 -5 2.4 -3 1.8 -2 3.6 -3 5 -3.2 5 -2.3 6 -1.9 8 -1.6 9 -1.2 11 -1z"/><path fill="#00ff7c" d="M1631 208.3l16.2 -.5 16 -.1 16 .4 15 .7 13 1 11 1.5 9 1.7 7 2 3 1.2 3 1.4 2.9 1.7 2.8 2 2.3 2 2.8 3 1.6 2 2 3 2.4 5 .9 3 .6 3 .2 3 -.1 2 -.4 3 -.9 3 -1.3 3 -1.6 3 -2.2 3 -2.7 3 -2.3 2.1 -3 2.2 -3 1.8 -4 1.9 -4 1.4 -4 1.1 -10 2 -13 1.6 -16 1.2 -12 .5 -13 .2 -25 -.2 -22 -1 -10 -.9 -9 -1 -6 -1 -6 -1.2 -5 -1.4 -4 -1.5 -3.7 -1.8 -3.3 -2.1 -3.6 -2.9 -2.9 -3 -1.5 -2 -2 -3 -1.4 -3 -.8 -2 -.9 -3 -.4 -3 -.1 -2 .2 -3 .6 -3 .9 -3 2.3 -5 1.9 -3 1.7 -2.1 2.7 -2.9 2.2 -2 4.1 -2.8 4.2 -2.2 5.5 -2 6.3 -1.6 8 -1.5 10 -1.3 11 -.9z"/><path fill="#00ff93" d="M1636.8 209.3l15.4 -.4 14 0 15 .5 14 .8 12 1.2 10 1.6 8 1.7 7 2.2 3 1.2 3 1.6 2.6 1.6 2.4 1.8 2.5 2.2 1.8 2 1.7 2.2 1.8 2.8 1.6 3 1.1 3 .8 3 .3 2 .1 3 -.2 2 -.4 2 -.9 3 -1.4 3 -1.8 3 -2.3 3 -3 3 -2.7 2.2 -3 1.9 -3 1.6 -4 1.6 -4 1.3 -5.5 1.4 -11.6 2 -14.9 1.6 -17 1 -22 .3 -23 -.5 -10 -.5 -10 -.8 -8 -.9 -8 -1.2 -6 -1.2 -5 -1.3 -5 -1.7 -3.9 -1.8 -3.4 -2 -2.7 -2 -3.2 -3 -2.4 -3 -1.3 -2 -1.6 -3 -.9 -2 -.9 -3 -.6 -4 0 -2 .4 -3 .8 -3 1.1 -3 2.7 -5 1.9 -2.6 2 -2.2 4 -3.6 4.1 -2.6 4.9 -2.2 6 -2 7 -1.6 8 -1.4 10 -1.2 11 -1z"/><path fill="#00ffaa" d="M1642.4 210.3l13.8 -.3 13 .1 14 .6 12 .9 11 1.3 9 1.5 8.1 1.9 6.9 2.3 5.6 2.7 4.4 3 2.3 2 1.9 2 1.8 2.3 1.7 2.7 1.1 2 1.2 3 .8 3 .3 2 .1 3 -.2 2 -.4 2 -1 3 -1.5 3 -1.9 3 -2.5 3 -2.7 2.5 -3 2.2 -3 1.8 -4 1.8 -4 1.4 -5 1.5 -5 1.1 -6 1.1 -7 1 -15 1.4 -18 .9 -20 .1 -21 -.8 -9 -.7 -8 -.8 -8 -1.1 -7 -1.2 -5.1 -1.2 -4.9 -1.4 -4.3 -1.6 -4.1 -2 -3.2 -2 -2.5 -2 -2.9 -3 -2.3 -3 -2.2 -4 -1.1 -3 -.5 -2 -.4 -4 .1 -2 .5 -3 .6 -2 1.2 -3 1.6 -3 1.3 -2 3.4 -4 2.3 -2 2.7 -2 4.8 -2.6 5 -2 6 -1.8 7.2 -1.6 8.8 -1.4 10 -1.2 11 -.9z"/><path fill="#00ffc0" d="M1648.8 211.3l12.4 -.1 12 .3 12 .6 11 1 10 1.4 9 1.7 7 1.9 6.2 2.2 5.8 2.9 4.2 3.1 2.2 2 1.6 1.8 2.8 4.2 1.2 2.3 1 2.7 .8 3 .2 2 -.2 4 -.5 2 -1 3 -1.6 3 -2.1 3 -2.6 2.8 -2.5 2.2 -3 2 -3.5 1.9 -4 1.7 -4.3 1.4 -4.7 1.3 -6 1.3 -7 1.2 -7 .9 -15 1.3 -18 .7 -19 -.1 -18 -1 -15.5 -1.6 -6.5 -1 -7 -1.4 -5 -1.3 -5 -1.6 -4.3 -1.7 -3.7 -2 -3 -2 -3 -2.6 -2.1 -2.4 -2 -3 -1.1 -2 -1.2 -3 -.9 -4 0 -4 .9 -4 1.2 -3 1 -2 2.6 -4 1.7 -2 2.1 -2 2.6 -2 2.2 -1.4 5 -2.5 5.8 -2.1 6.2 -1.7 8 -1.6 9 -1.4 10 -1.1 11 -.8z"/><path fill="#00ffd7" d="M1632.7 213.3l12.5 -.7 13 -.2 13 .2 12 .6 11 1.1 10 1.4 9 1.9 8 2.2 6.2 2.5 5.4 3 3.9 3 2 2 1.7 2 1.3 2 1.6 3 1.1 3 .5 2 .3 2 0 2 -.3 2 -.8 3 -1.3 3 -1.9 3 -2.6 3 -2.1 1.9 -2.8 2.1 -3.2 1.8 -3 1.5 -4 1.6 -4 1.2 -5 1.4 -6 1.2 -6 1 -13 1.6 -15 1 -18 .3 -18 -.5 -16 -1.3 -7 -.9 -7 -1.1 -6 -1.3 -5 -1.3 -5 -1.5 -4.2 -1.7 -3.8 -2 -3.2 -2 -2.8 -2.4 -2.4 -2.6 -2.1 -3 -1.8 -4 -1 -4 -.1 -2 .1 -2 1 -4 1.2 -3 1.1 -2 3 -4 3.1 -3 3.9 -2.7 4.3 -2.3 4.9 -2 6.6 -2 7.2 -1.7 7.6 -1.3 8.4 -1.1z"/><path fill="#00ffee" d="M1636.6 214.3l11.6 -.6 12 -.1 12 .3 11 .6 10 1.1 10 1.5 9 2 7 2.2 6 2.4 5 2.8 4 3.1 1.8 1.7 1.7 2 2.5 4.1 1.2 2.9 .5 2 .3 2 0 2 -.3 2 -.5 2 -1.2 2.9 -1.2 2.1 -2.4 3 -2.4 2.3 -3 2.3 -3 1.8 -3.3 1.6 -4.7 1.8 -5 1.6 -5 1.3 -6 1.2 -6 1 -13 1.5 -15 .9 -17 .2 -17 -.7 -15 -1.5 -7 -1 -6 -1.1 -6 -1.4 -5 -1.5 -4 -1.4 -4.3 -1.9 -3.6 -2 -2.8 -2 -2.3 -2 -2.6 -3 -1.3 -2 -1 -2 -.8 -2 -.5 -2 -.3 -3 .1 -2 .4 -2 1.5 -4 2.5 -4 2.6 -3 3.7 -3 3.7 -2.3 5 -2.4 6 -2.1 6 -1.7 7 -1.5 7 -1.2 8 -1z"/><path fill="#00fbff" d="M1640.9 215.3l11.3 -.5 10 0 11 .4 10 .7 9 1 9 1.4 8 1.8 7.1 2.2 5.9 2.4 5 2.7 4 3 2.1 1.9 1.7 2 1.4 2 1.1 2 .8 2 .6 2 .3 2 0 2 -.3 2 -.6 2 -1.1 2.5 -1.6 2.5 -2.4 2.8 -2.6 2.2 -2.8 2 -3.6 2 -3 1.4 -4.3 1.6 -4.7 1.5 -6 1.4 -11.4 2.1 -13.6 1.5 -15 .7 -16 0 -16 -.8 -14 -1.6 -6 -1 -6 -1.3 -5 -1.3 -5 -1.5 -4.3 -1.7 -4.1 -2 -3.2 -2 -2.6 -2 -2.1 -2 -2.4 -3 -1.6 -3 -.7 -2 -.4 -2 -.1 -3 .3 -2 .5 -2 1.7 -3.5 2.5 -3.5 3 -3 4.2 -3 4.3 -2.3 5 -2.1 6 -2 6 -1.5 7 -1.4 7 -1.1 8 -.9z"/><path fill="#00e7ff" d="M1646.1 216.3l10.1 -.3 10 .1 10 .5 9 .8 8 1.1 8 1.4 7 1.7 7 2.3 5.5 2.4 4.5 2.6 4 3.1 3.1 3.3 1.4 2 1 2 .8 2 .5 2 .2 3 -.3 2 -.7 2 -1.6 3 -1.5 2 -1.9 2.1 -3 2.5 -3 1.9 -4 2.1 -4 1.7 -4 1.4 -4.7 1.3 -5.3 1.2 -12 2.1 -13 1.2 -15 .6 -15 -.2 -15 -1 -13 -1.7 -6 -1.1 -5 -1.2 -5 -1.5 -4.1 -1.4 -4.6 -2 -3.3 -1.8 -3.3 -2.2 -2.3 -2 -2.4 -2.6 -1.6 -2.4 -1.3 -3 -.6 -3 .1 -3 .5 -2 .8 -2 1.7 -3 2.5 -3 3.4 -3 4.5 -2.9 4.3 -2.1 5.2 -2 6.5 -2 6 -1.4 7 -1.3 7 -.9 8 -.8z"/><path fill="#00d4ff" d="M1655.8 217.3l9.4 .1 9 .4 8 .7 8 1 7 1.2 7 1.6 6 1.8 5 1.9 4.7 2.3 4.6 3 3.3 3 2.5 3 1.1 2 .8 1.7 .8 3.3 -.1 3 -1 3 -1.7 3 -1.6 2 -2.1 2 -2.5 2 -3.2 2 -4 2 -4.6 1.8 -4 1.3 -5 1.4 -5 1.1 -12 1.8 -13 1.1 -15 .4 -15 -.4 -13 -1.1 -12 -1.8 -6 -1.4 -4.5 -1.2 -4.5 -1.5 -4 -1.6 -4 -1.9 -3.2 -2 -2.6 -2 -2.1 -2 -2.1 -2.7 -1.3 -2.3 -.9 -3 -.2 -3 .7 -3 .9 -2 1.2 -2 2.5 -3 3.4 -3 3.7 -2.5 4 -2 5 -2.1 6 -1.9 6 -1.5 7 -1.4 7 -1 8 -.8 9 -.6z"/><path fill="#00c1ff" d="M1640.2 219.3l9 -.5 9 -.2 9 .2 9.3 .5 8.7 .9 7.3 1.1 7.7 1.6 6 1.7 6 2.2 5.1 2.5 4.5 3 3.3 3 2.3 3 1.2 2 .7 2 .5 3 -.5 3 -1.1 2.7 -1.5 2.3 -1.7 2 -2.3 2 -2.8 2 -3.5 2 -3.2 1.5 -4 1.5 -9 2.6 -5 1.1 -6 1 -12.2 1.3 -13.8 .7 -14 -.2 -13 -.8 -12 -1.5 -10.5 -2.2 -4.5 -1.3 -4.9 -1.7 -4.1 -1.8 -3 -1.5 -2.6 -1.7 -2.6 -2 -2 -2 -2.2 -3 -1.3 -3 -.4 -2 .2 -3 1 -3 1.8 -3 1.7 -2 3.4 -3 2.9 -2 3.6 -2 4.6 -2 4.9 -1.7 5 -1.4 6 -1.4 6 -1z"/><path fill="#00adff" d="M1645.9 220.3l8.3 -.3 9 0 9 .4 8 .6 7 .9 7 1.3 6 1.4 6 1.9 5 2 5 2.7 3 2.1 3.1 3 2.2 3 1 2 .6 2 .2 3 -.7 3 -1.1 2 -1.4 2 -1.9 2 -3 2.4 -2.5 1.6 -3.9 2 -3.6 1.5 -4 1.4 -9 2.3 -11 1.7 -11.7 1.1 -12.3 .4 -13 -.2 -13 -1 -11 -1.7 -9 -2 -4.8 -1.5 -4.2 -1.6 -3 -1.4 -3.5 -2 -2.8 -2 -2.1 -2 -1.7 -2 -1.3 -2 -.8 -2 -.4 -3 .2 -2 1.1 -3 1.9 -3 1.8 -2 3.6 -3 3.3 -2 4 -2 4.7 -1.9 5 -1.5 5 -1.3 6 -1.2 6 -.9 7 -.7z"/><path fill="#009aff" d="M1638.3 222.3l7.9 -.6 9 -.3 8 0 9 .4 8 .7 7 .9 7 1.4 6 1.6 5.5 1.9 4.5 2 4.9 3 3.1 2.7 2.7 3.3 1.4 3 .5 3 -.5 3 -.8 2 -1.3 2 -1.8 2 -2.3 2 -4.9 3 -4 1.9 -3 1.1 -8 2.4 -9 1.7 -11 1.3 -12 .6 -13 0 -12 -.7 -10.5 -1.3 -10 -2 -7.5 -2.3 -4 -1.6 -3 -1.5 -2.7 -1.6 -2.7 -2 -2.1 -2 -1.6 -2 -1.1 -2 -.6 -2 -.2 -2 .5 -3 1.4 -3 1.5 -2 2.6 -2.5 3 -2.3 3 -1.7 3 -1.5 5 -2 4 -1.2 5 -1.3 5 -1z"/><path fill="#0087ff" d="M1644.3 223.3l7.9 -.4 8 -.1 8 .3 7 .4 7 .8 6.4 1 5.6 1.2 6 1.8 5 2 3.9 2 3.1 2.1 3.2 2.9 2.2 3 1.2 3 .2 3 -.5 2 -.9 2 -1.4 2 -1.9 2 -2.1 1.7 -2 1.3 -3.7 2 -6.3 2.5 -8 2.1 -9 1.6 -10 1 -11 .5 -12 -.2 -11 -.7 -10 -1.3 -9 -1.8 -4 -1.2 -4.2 -1.5 -2.8 -1.3 -3.3 -1.7 -4.1 -3 -1.9 -2 -1.5 -2 -.9 -2 -.4 -2 0 -2 .9 -3 1.8 -3 1.9 -2 2.4 -2 3 -2 3.9 -2 3.2 -1.3 5 -1.6 4 -1.1 10 -1.9z"/><path fill="#0074ff" d="M1639.4 225.3l6.8 -.6 8 -.3 8 0 8 .3 7.1 .6 6.9 .9 5.6 1.1 5.4 1.4 4.6 1.6 4.4 2 3.4 2 3.6 3 2 2.5 1.3 2.5 .5 3 -.5 3 -.9 2 -1.5 2 -3.4 3 -2.5 1.6 -2.6 1.4 -4.9 2 -7 2 -8.5 1.6 -9 1 -10 .5 -11 .1 -11 -.6 -9 -1 -8.4 -1.6 -7.1 -2 -3.5 -1.4 -3 -1.4 -2.2 -1.2 -2.8 -2 -2.9 -3 -1.3 -2 -.7 -2 -.2 -2 .3 -2 1.2 -3 1.5 -2 2 -2 2.1 -1.7 2.1 -1.3 3.9 -2 3 -1.2 4 -1.4 5 -1.3 4 -.8z"/><path fill="#0060ff" d="M1647.9 226.3l7.3 -.3 7 0 7 .3 6 .5 5 .6 5.4 .9 4.6 1.1 5 1.5 3.6 1.4 3.8 2 2.9 2 2.1 2 1.6 2 1.3 3 .3 2 -.1 1 -.5 2 -1 2 -.7 1 -1.9 2 -1.4 1.1 -3 1.9 -1.9 1 -6.1 2.3 -7 1.9 -8 1.3 -9 .8 -10 .4 -10 -.2 -10 -.7 -8 -1.1 -7.7 -1.7 -6.3 -2.1 -3 -1.3 -2.8 -1.6 -2.2 -1.6 -1.6 -1.4 -1.4 -1.7 -.8 -1.3 -.7 -2 -.3 -2 .3 -2 .8 -2 1.2 -2 1.9 -2 2.5 -2 2.1 -1.3 3 -1.5 3 -1.2 4 -1.4 4 -1 9 -1.6z"/><path fill="#004dff" d="M1645 228.3l12.2 -.5 7 .1 6 .3 6 .6 5 .7 4.1 .8 4.9 1.3 4 1.4 3 1.4 3.2 1.9 2.4 2 1.7 2 1.1 2 .6 2 .1 1 -.3 2 -.8 2 -.7 1 -1.3 1.5 -1.6 1.5 -1.4 1 -3 1.7 -5 2 -6 1.7 -7 1.3 -8 .8 -9 .4 -10 0 -9 -.6 -8 -1 -6.5 -1.3 -6.4 -2 -4.4 -2 -1.7 -1 -2.6 -2 -1.4 -1.4 -1.1 -1.6 -.5 -1 -.5 -2 0 -2 .6 -2 1.1 -2 1.4 -1.7 1.5 -1.3 2.5 -1.8 5 -2.4 3 -1.1 4 -1.2 7.3 -1.5z"/><path fill="#003aff" d="M1645 230.3l6.2 -.4 6 -.2 12 .4 5 .5 5 .7 4.8 1 3.2 .9 3.1 1.1 3.9 1.9 2 1.2 2.3 1.9 1.6 2 .9 2 .3 2 -.2 2 -.9 1.9 -.8 1.1 -2.1 2 -3.1 2 -5 2.2 -6 1.7 -6 1.1 -7 .7 -8 .4 -8 0 -8 -.4 -7 -.8 -7 -1.3 -5.4 -1.6 -4.6 -2 -3.1 -2 -1.2 -1 -1.7 -2 -.5 -1 -.6 -2 0 -2 .2 -1 .9 -1.8 .8 -1.2 2 -2 1.4 -1 3.8 -2.1 6 -2.2 7 -1.7z"/><path fill="#0027ff" d="M1647.9 232.3l10.3 -.4 10 .3 8.5 1.1 4.5 1 3 .9 5.1 2.1 1.9 1.2 2.2 1.8 .9 1 1.1 2 .4 2 -.3 2 -1.1 2 -2.2 2.1 -3.1 1.9 -5 2 -3.9 1 -6 1.1 -7 .7 -7 .3 -7 -.1 -7 -.5 -5 -.6 -6 -1.2 -5.5 -1.7 -3.5 -1.7 -2.1 -1.3 -1.1 -1 -1.6 -2 -.7 -2 -.1 -1 .4 -2 1.1 -2 .9 -1 2.5 -2 3.9 -2 5.8 -2 6 -1.2z"/><path fill="#0013ff" d="M1645.2 235.3l8 -.7 9 -.1 8 .6 6.5 1.2 3.5 1 2.5 1 3.5 2 1.1 1 1.5 2 .4 1.2 0 1.8 -.9 2 -2.1 2 -3 1.7 -3 1.2 -4 1.1 -4 .7 -5 .6 -5 .3 -6 0 -6 -.3 -5 -.5 -4.7 -.8 -3.8 -1 -3.5 -1.4 -2.9 -1.6 -2 -2 -1 -2 .1 -2 .9 -2 2.1 -2 2.8 -1.6 3.3 -1.4 3.7 -1.1z"/><path fill="#0000ff" d="M1649.4 238.3l5.8 -.5 6 0 6.3 .5 5 1 3.7 1.3 2.8 1.7 .9 1 .6 1 .2 1 -.2 1 -.5 1 -.9 1 -.9 .6 -2 1.1 -2 .8 -3 .8 -4 .7 -7 .5 -5 -.1 -4 -.2 -3 -.4 -3.9 -.8 -3.2 -1 -2.1 -1 -1.4 -1 -.9 -1 -.6 -1 -.1 -1 .2 -1 .5 -1 1.5 -1.3 2 -1.2 3 -1.2z"/></g>
<path fill="#000" fill-rule="evenodd" d="M1448.20 35.30h422.00v423.60h-422.00zM1450.79 37.99h416.72v417.62h-416.72z"/>
<path d="M1449.50 458.40v11.96M1448.70 457.40h-11.96M1506.14 458.40v6.48M1448.70 400.43h-6.48M1562.79 458.40v11.96M1448.70 343.45h-11.96M1619.43 458.40v6.48M1448.70 286.48h-6.48M1676.08 458.40v11.96M1448.70 229.50h-11.96M1732.72 458.40v6.48M1448.70 172.53h-6.48M1789.37 458.40v11.96M1448.70 115.56h-11.96M1846.01 458.40v6.48M1448.70 58.58h-6.48" stroke="#000" stroke-width="2.79" fill="none"/>
<text x="1449.5" y="494.8" font-size="21.43" font-weight="bold" text-anchor="middle" fill="#000">0.0</text>
<text x="1426.3" y="463.1" font-size="21.43" font-weight="bold" text-anchor="end" fill="#000">0.0</text>
<text x="1562.8" y="494.8" font-size="21.43" font-weight="bold" text-anchor="middle" fill="#000">2.0n</text>
<text x="1426.3" y="349.1" font-size="21.43" font-weight="bold" text-anchor="end" fill="#000">2.0n</text>
<text x="1676.1" y="494.8" font-size="21.43" font-weight="bold" text-anchor="middle" fill="#000">4.0n</text>
<text x="1426.3" y="235.2" font-size="21.43" font-weight="bold" text-anchor="end" fill="#000">4.0n</text>
<text x="1789.4" y="494.8" font-size="21.43" font-weight="bold" text-anchor="middle" fill="#000">6.0n</text>
<text x="1426.3" y="121.2" font-size="21.43" font-weight="bold" text-anchor="end" fill="#000">6.0n</text>
<text x="1659.2" y="533.2" font-size="21.43" font-weight="bold" text-anchor="middle" fill="#000">Electron position (m)</text>
<text x="1366.0" y="245.6" font-size="21.43" font-weight="bold" text-anchor="middle" fill="#000" transform="rotate(-90 1366.0 245.6)">Hole position (m)</text>
<text x="1475.4" y="76.4" font-size="29.60" font-weight="bold" text-anchor="start" fill="#fff">0.0 V/cm</text>
<text x="1423.4" y="60.9" font-size="31.20" stroke="#000" stroke-width="1.05" text-anchor="middle" font-family="'Noto Serif CJK SC', 'Noto Sans CJK SC', 'DejaVu Sans', serif" fill="#000">③</text>
<rect x="1879.30" y="439.86" width="30.20" height="8.67" fill="#0000ff"/><rect x="1879.30" y="431.79" width="30.20" height="8.67" fill="#0013ff"/><rect x="1879.30" y="423.72" width="30.20" height="8.67" fill="#0027ff"/><rect x="1879.30" y="415.65" width="30.20" height="8.67" fill="#003aff"/><rect x="1879.30" y="407.58" width="30.20" height="8.67" fill="#004dff"/><rect x="1879.30" y="399.52" width="30.20" height="8.67" fill="#0060ff"/><rect x="1879.30" y="391.45" width="30.20" height="8.67" fill="#0074ff"/><rect x="1879.30" y="383.38" width="30.20" height="8.67" fill="#0087ff"/><rect x="1879.30" y="375.31" width="30.20" height="8.67" fill="#009aff"/><rect x="1879.30" y="367.24" width="30.20" height="8.67" fill="#00adff"/><rect x="1879.30" y="359.17" width="30.20" height="8.67" fill="#00c1ff"/><rect x="1879.30" y="351.10" width="30.20" height="8.67" fill="#00d4ff"/><rect x="1879.30" y="343.03" width="30.20" height="8.67" fill="#00e7ff"/><rect x="1879.30" y="334.96" width="30.20" height="8.67" fill="#00fbff"/><rect x="1879.30" y="326.89" width="30.20" height="8.67" fill="#00ffee"/><rect x="1879.30" y="318.82" width="30.20" height="8.67" fill="#00ffd7"/><rect x="1879.30" y="310.75" width="30.20" height="8.67" fill="#00ffc0"/><rect x="1879.30" y="302.68" width="30.20" height="8.67" fill="#00ffaa"/><rect x="1879.30" y="294.62" width="30.20" height="8.67" fill="#00ff93"/><rect x="1879.30" y="286.55" width="30.20" height="8.67" fill="#00ff7c"/><rect x="1879.30" y="278.48" width="30.20" height="8.67" fill="#00ff66"/><rect x="1879.30" y="270.41" width="30.20" height="8.67" fill="#00ff4f"/><rect x="1879.30" y="262.34" width="30.20" height="8.67" fill="#00ff39"/><rect x="1879.30" y="254.27" width="30.20" height="8.67" fill="#00ff22"/><rect x="1879.30" y="246.20" width="30.20" height="8.67" fill="#00ff0b"/><rect x="1879.30" y="238.13" width="30.20" height="8.67" fill="#0aff00"/><rect x="1879.30" y="230.06" width="30.20" height="8.67" fill="#1fff00"/><rect x="1879.30" y="221.99" width="30.20" height="8.67" fill="#34ff00"/><rect x="1879.30" y="213.92" width="30.20" height="8.67" fill="#49ff00"/><rect x="1879.30" y="205.85" width="30.20" height="8.67" fill="#5eff00"/><rect x="1879.30" y="197.78" width="30.20" height="8.67" fill="#72ff00"/><rect x="1879.30" y="189.72" width="30.20" height="8.67" fill="#87ff00"/><rect x="1879.30" y="181.65" width="30.20" height="8.67" fill="#9cff00"/><rect x="1879.30" y="173.58" width="30.20" height="8.67" fill="#b1ff00"/><rect x="1879.30" y="165.51" width="30.20" height="8.67" fill="#c6ff00"/><rect x="1879.30" y="157.44" width="30.20" height="8.67" fill="#dbff00"/><rect x="1879.30" y="149.37" width="30.20" height="8.67" fill="#efff00"/><rect x="1879.30" y="141.30" width="30.20" height="8.67" fill="#fffa00"/><rect x="1879.30" y="133.23" width="30.20" height="8.67" fill="#ffe500"/><rect x="1879.30" y="125.16" width="30.20" height="8.67" fill="#ffd000"/><rect x="1879.30" y="117.09" width="30.20" height="8.67" fill="#ffbb00"/><rect x="1879.30" y="109.02" width="30.20" height="8.67" fill="#ffa700"/><rect x="1879.30" y="100.95" width="30.20" height="8.67" fill="#ff9200"/><rect x="1879.30" y="92.88" width="30.20" height="8.67" fill="#ff7d00"/><rect x="1879.30" y="84.82" width="30.20" height="8.67" fill="#ff6800"/><rect x="1879.30" y="76.75" width="30.20" height="8.67" fill="#ff5300"/><rect x="1879.30" y="68.68" width="30.20" height="8.67" fill="#ff3e00"/><rect x="1879.30" y="60.61" width="30.20" height="8.67" fill="#ff2a00"/><rect x="1879.30" y="52.54" width="30.20" height="8.67" fill="#ff1500"/><rect x="1879.30" y="44.47" width="30.20" height="8.67" fill="#ff0000"/><rect x="1879.30" y="448.23" width="30.20" height="9.27" fill="#000"/><rect x="1879.30" y="35.50" width="30.20" height="9.27" fill="#fff"/>
<rect x="1879.90" y="36.10" width="29.00" height="420.80" fill="none" stroke="#111" stroke-width="1.20"/>
<text x="1922.8" y="50.7" font-size="18.44" font-weight="normal" text-anchor="start" fill="#111" textLength="44.3" lengthAdjust="spacingAndGlyphs">0.438</text>
<text x="1922.8" y="101.2" font-size="18.44" font-weight="normal" text-anchor="start" fill="#111" textLength="44.3" lengthAdjust="spacingAndGlyphs">0.329</text>
<text x="1922.8" y="151.7" font-size="18.44" font-weight="normal" text-anchor="start" fill="#111" textLength="44.3" lengthAdjust="spacingAndGlyphs">0.220</text>
<text x="1922.8" y="202.3" font-size="18.44" font-weight="normal" text-anchor="start" fill="#111" textLength="44.3" lengthAdjust="spacingAndGlyphs">0.110</text>
<text x="1922.8" y="252.8" font-size="18.44" font-weight="normal" text-anchor="start" fill="#111" textLength="64.0" lengthAdjust="spacingAndGlyphs">0.00100</text>
<text x="1922.8" y="303.3" font-size="18.44" font-weight="normal" text-anchor="start" fill="#111" textLength="50.2" lengthAdjust="spacingAndGlyphs">-0.108</text>
<text x="1922.8" y="353.9" font-size="18.44" font-weight="normal" text-anchor="start" fill="#111" textLength="50.2" lengthAdjust="spacingAndGlyphs">-0.218</text>
<text x="1922.8" y="404.4" font-size="18.44" font-weight="normal" text-anchor="start" fill="#111" textLength="50.2" lengthAdjust="spacingAndGlyphs">-0.327</text>
<text x="1922.8" y="454.9" font-size="18.44" font-weight="normal" text-anchor="start" fill="#111" textLength="50.2" lengthAdjust="spacingAndGlyphs">-0.436</text>
<path d="M1909.00 44.37h5.98M1909.00 94.90h5.98M1909.00 145.43h5.98M1909.00 195.97h5.98M1909.00 246.50h5.98M1909.00 297.03h5.98M1909.00 347.57h5.98M1909.00 398.10h5.98M1909.00 448.63h5.98" stroke="#1a1a1a" stroke-width="1.50" fill="none"/></g>
<!-- panel a4 -->
<g><clipPath id="ca4"><rect x="125.5" y="601.0" width="421.0" height="421.1"/></clipPath><g clip-path="url(#ca4)" fill-rule="evenodd" shape-rendering="geometricPrecision"><rect x="125.5" y="601.0" width="421.0" height="421.1" fill="#0aff00"/><path fill="#1fff00" d="M271.5 619l10 -.1 9 .7 7 1.1 7 2 3 1.2 3 1.4 3 1.9 2 1.4 4 3.7 2 2.4 2 3 3 5.9 2.3 6.4 1.9 8 1.5 9 1.2 11 1 13 .7 16 .6 20 .4 36 0 61 -.1 45 -.4 28 -.8 24 -1 19 -1.6 16 -1 7 -1 6 -1.4 6 -1.3 4.4 -1.3 3.6 -1.8 4 -1.9 3.5 -2.4 3.5 -2.6 2.9 -3 2.8 -3 2.1 -4 2.3 -4 1.7 -4 1.3 -4 .9 -5 .8 -5 .5 -6 .3 -6 0 -6 -.5 -6 -.9 -6 -1.5 -6 -2.1 -5 -2.1 -6 -3.1 -5 -3.1 -5 -3.5 -5 -4 -5 -4.5 -5.3 -5.3 -4.7 -5.3 -4.6 -5.7 -5 -7 -3.9 -6 -4.2 -7 -3.7 -7 -3.9 -8 -3.1 -7 -3.2 -8 -2.9 -8 -2.9 -9 -2.8 -10 -2.3 -9 -1.9 -9 -1.8 -10 -1.4 -9 -1 -9 -1 -10 -.6 -10 -.3 -9 0 -10 .2 -9 .5 -9 .8 -9 1.1 -10 1.2 -8 1.4 -8 2.2 -10 1.9 -8 2.6 -9 2.9 -9 2.9 -8 3.3 -8 3.1 -7 4 -8 3.9 -7 4.2 -7 4.1 -6 4.4 -6 4.8 -5.8 5 -5.5 4.8 -4.7 5.2 -4.5 5 -3.9 6 -4.1 5 -2.9 6 -2.9 5 -2.1 6 -1.9 5 -1.2 6 -1z"/><path fill="#34ff00" d="M267.6 644l7.9 -.5 9 .3 8 .9 7 1.7 6 2.4 5 2.9 3 2.3 2 1.9 2 2.1 2 2.7 3 5 2.7 6.3 2.1 7 1.8 8 1.4 9.5 1.1 10.5 1 14 .8 15 .6 25 .3 34 -.1 47 -.5 32 -.9 20 -1.4 21 -1.7 15 -1.9 11 -1.3 5.3 -1.4 4.7 -1.6 4.3 -2 4.4 -2 3.5 -2 2.9 -2 2.4 -3 3 -3 2.4 -3 1.9 -4 2 -4 1.5 -4 1.2 -4 .8 -5 .6 -5 .3 -5 .1 -5 -.2 -5 -.6 -4 -.8 -5 -1.5 -4 -1.5 -4 -1.8 -4 -2.2 -4 -2.7 -5.1 -4 -4.9 -4.2 -4.9 -4.8 -4.1 -4.4 -3.8 -4.6 -3.8 -5 -3.4 -5 -3.7 -6 -2.8 -5 -3 -6 -3.2 -7 -2.9 -7 -2.6 -7 -4.5 -14 -1.8 -7 -1.6 -7 -2.7 -15 -1.9 -16 -1.1 -17 -.3 -18 .5 -18 1.3 -16 2.1 -15 2.9 -14 1.7 -7 2.1 -7 2.4 -7 2.6 -7 2.9 -7 2.8 -6 3.1 -6 3.5 -6 3.8 -6 3.5 -5 3.9 -4.9 4 -4.6 4.5 -4.5 4.5 -4.1 5 -4.1 5 -3.6 4 -2.5 4 -2.1 5 -2.2 4 -1.3 5 -1.3z"/><path fill="#49ff00" d="M265.9 658l7.6 -.6 9 .1 7 .8 7 1.6 6 2.3 5 2.8 3 2.2 2 1.8 3.6 4 3.4 5.2 2.8 5.8 2.2 6.2 2 7.8 1.7 9 1.3 10.1 1.2 12.9 .8 13 .7 23 .3 30 -.1 41 -.5 29 -.8 17 -1.4 17 -2 15 -2 11 -1.3 5 -1.6 5 -1.6 4 -1.7 3.8 -2 3.5 -2 3 -2.2 2.7 -2.8 2.9 -3 2.5 -3 2 -3 1.6 -4 1.7 -4 1.2 -4 .9 -4 .6 -5 .4 -5 .1 -5 -.2 -4 -.4 -4 -.7 -4 -1.1 -3 -1 -4 -1.7 -3 -1.7 -3 -2 -3 -2.5 -3.8 -3.6 -4.9 -5 -4.5 -5 -4.3 -5 -3.5 -4.5 -3 -4.3 -2.7 -4.2 -2.9 -5 -5.4 -11 -5.4 -13 -4.1 -12 -2.8 -11 -2.1 -12 -1.6 -13 -1 -14 -.5 -18 .2 -21 .7 -15 1.3 -14 2.1 -13 2.7 -12 3.1 -10 4.7 -12 2.7 -6 3.1 -6 3.4 -6 3.2 -5 3.3 -4.5 4 -5 4.1 -4.5 4.9 -5 5.3 -5 3.4 -3 3.3 -2.5 3 -1.8 4 -2 4 -1.5 5 -1.4z"/><path fill="#5eff00" d="M266.7 668l7.8 -.5 8 .3 7 .9 6 1.5 3 1.1 3 1.3 5 3.1 4 3.3 2 2.1 2 2.5 3 4.6 3 6.2 2.3 6.6 2.1 8 1.9 10 1.5 11 1 11 .7 12 .7 23 .2 29 -.1 33 -.7 25 -.8 15 -1.3 13 -2.1 14 -2.3 11 -2.7 9 -1.6 4 -1.8 3.8 -2 3.5 -2 2.9 -2.2 2.8 -2.8 2.8 -3 2.5 -3 2 -3 1.6 -4 1.7 -3 1 -4 .9 -4 .6 -5 .4 -9 -.1 -4 -.4 -4 -.6 -4 -1.1 -3 -1.1 -3 -1.4 -3 -1.8 -4 -3.1 -4.7 -4.9 -10.1 -13 -6.4 -9 -5.5 -9 -4.6 -9 -5.3 -12 -3.4 -10 -2.5 -10 -1.9 -11 -1.4 -12 -.8 -13 -.4 -16 .1 -21 .4 -14 1.1 -13 1.5 -12 2.2 -11 2.5 -9 3.7 -10 2.6 -6 3 -6 3.4 -6 3.2 -5 3.5 -5 4.7 -6 6.7 -8 4.4 -4.9 3 -2.9 2 -1.6 3 -2 3 -1.6 3 -1.3 4 -1.3 4 -.9z"/><path fill="#72ff00" d="M269.8 676l7.7 -.2 7 .5 6 1 6 1.9 5 2.4 3 1.9 2 1.6 4 3.8 2 2.4 2 2.9 3.2 5.8 2.8 7 2.1 7 2 9 1.6 9 1.1 10 .9 12 .6 14 .4 22 .1 32 -.3 22 -.7 18 -.9 14 -1.3 11 -2.2 12 -2.4 9.9 -3 8.9 -2 4.6 -1.9 3.6 -2.1 3.3 -2 2.7 -2 2.3 -2.9 2.7 -3.1 2.3 -3 1.9 -3 1.4 -3 1.2 -3 .9 -4 .8 -4 .6 -4 .2 -9 -.1 -4 -.5 -3 -.5 -3 -.8 -3 -1.1 -3 -1.4 -3 -1.8 -4 -3.3 -4 -4.6 -4.3 -6.2 -9 -14 -6 -10 -5.2 -10 -3.5 -8 -2.7 -8 -2.4 -10 -2 -12 -1.3 -12 -.7 -14 -.3 -16 .2 -18 .5 -13 1 -12 1.5 -11 2.2 -11 2.3 -8 3 -8 2.3 -5 2.6 -5 6 -10 4.6 -7 6.4 -9 3.8 -5 3 -3.5 2 -1.9 3 -2.3 3 -1.8 3 -1.4 3 -1.1 4 -1 3 -.6z"/><path fill="#87ff00" d="M263.4 684l6.1 -.8 8 -.2 7 .5 6 1.2 5 1.6 5 2.5 4.5 3.2 4.1 4 3.4 4.5 3 5.2 2.8 6.3 2.3 7 2.1 8 1.7 9 1.1 8.4 .9 10.6 .8 17 .4 20 .1 32 -.4 22 -.8 16 -1.1 13 -1.4 10 -2.2 10 -2.9 10 -1.4 4 -2 4.7 -2 3.9 -2 3.3 -2.3 3.1 -2.7 3.1 -2 1.9 -3 2.4 -3 1.9 -3 1.5 -3 1.2 -4 1.1 -4 .8 -4 .4 -6 .2 -6 -.3 -5 -.8 -5 -1.4 -4 -1.9 -4 -2.5 -3.9 -3.6 -3.1 -4 -5.6 -9 -11.9 -21 -4.1 -8 -2.9 -7 -2.5 -8 -2.2 -10 -1.7 -11 -1.1 -12 -.6 -13 -.2 -17 .2 -16 .7 -13 1.1 -11 1.5 -10 1.9 -9 2.3 -8 1.5 -4 2.2 -5 4.6 -9 4.1 -7 6.1 -10 3.9 -6 2.8 -4 1.9 -2.2 2 -2.1 2 -1.6 3 -2 5 -2.4 3 -1z"/><path fill="#9cff00" d="M266.3 690l6.2 -.5 8 .1 6 .7 5 1.3 5 2 5 2.9 4 3.4 3.7 4.1 3.3 4.9 3 5.8 2.9 7.3 2.1 7.2 1.5 6.8 1.3 8 1.1 10 .8 11 .6 16 .3 20 -.1 26 -.5 20 -.8 14 -1.2 12 -1.4 9 -2.1 9 -2.9 9 -1.6 4 -2 4.3 -2 3.6 -2 3.1 -2.3 3 -2.7 3 -2.2 2 -2.8 2.1 -3 1.8 -3 1.4 -3 1.1 -4 1 -3 .5 -4 .4 -7 .1 -6 -.6 -5 -1.1 -4 -1.5 -4 -2.2 -4 -3.1 -3 -3.2 -3 -4.3 -3.7 -6.4 -11.1 -21 -2.8 -6 -2.7 -7 -2.5 -9 -2.1 -10 -1.5 -11 -.9 -12 -.5 -13 0 -18 .3 -13 .7 -11 1.1 -10 1.4 -9 2.1 -9 2.4 -8 3.3 -8 5 -10 9 -16 2.5 -4 2 -2.7 2 -2.2 2 -1.9 2 -1.5 3 -1.9 3 -1.5 3 -1z"/><path fill="#b1ff00" d="M266.2 696l6.3 -.6 7 .1 6 .7 5 1.2 5 2 4 2.3 4 3.1 4 4.3 3 4.2 3.2 5.7 2.8 6.7 2.3 7.3 1.7 7 1.1 7 1.2 10 .8 11 .6 15 .3 19 -.1 24 -.5 18 -.8 13 -1.1 12 -1.5 9 -1.9 8 -1.5 5 -1.6 4.2 -3.6 7.8 -3.7 6 -2.3 3 -2.4 2.6 -2 1.8 -3 2.3 -3 1.8 -3 1.4 -3 1.1 -3 .8 -3 .6 -4 .4 -6 .1 -6 -.5 -5 -1 -4 -1.5 -4 -2.2 -4 -3.1 -3 -3.2 -3 -4.2 -3.5 -6.2 -8.4 -17 -3 -7 -2.4 -7 -2.4 -9 -1.8 -9 -1.4 -10 -.9 -11 -.5 -13 0 -16 .2 -13 .7 -11 1.1 -10 1.4 -9 2 -9 2.3 -8 3.1 -8 5.2 -11 5.7 -11 2.5 -4 2.1 -2.9 2 -2.2 2 -1.9 2 -1.6 3 -1.9 5 -2.1 3 -.9z"/><path fill="#c6ff00" d="M271.9 701l6.6 0 6 .6 5 1.2 5 1.9 3 1.7 2 1.4 4 3.4 4 4.6 3 4.5 3 5.9 2.3 5.8 2.1 7 1.4 7 1.3 9 1 10 .7 11 .4 13 .1 17 -.1 20 -.3 14 -.7 12 -1 11 -1.3 9 -1.7 8 -2.2 7 -3 7.2 -2 3.9 -2 3.3 -4 5.2 -2 2.2 -2.5 2.2 -2.5 1.9 -3 1.8 -5 2.1 -3 .9 -3 .6 -3 .3 -4 .2 -6 -.1 -5 -.7 -5 -1.5 -4 -2 -4 -2.8 -3.7 -3.7 -3.3 -4.4 -2.7 -4.6 -4.8 -10 -3.9 -9 -2.4 -7 -2.5 -9 -2 -10 -1.4 -10 -.9 -11 -.5 -12 -.1 -15 .2 -13 .5 -10 1 -10 1.3 -9 2 -10 2.5 -9 2.9 -8 4.3 -10 4.1 -8 3.4 -5.4 3.1 -3.6 2.2 -2 2.7 -1.9 2 -1.2 3 -1.4 3 -1.1 3 -.7z"/><path fill="#dbff00" d="M265.5 707l5 -.7 7 -.1 6 .5 5 1.1 5 2 4 2.2 4 3.2 3 3.1 3 3.8 3 4.9 2.8 6 2 6 1.6 6 1.4 8 1.1 9 .8 9 .7 14 .3 16 -.1 22 -.4 16 -.8 12 -1.1 11 -1.5 9 -1.8 7.8 -2.5 7.2 -1.5 3.3 -2 3.7 -2 3.2 -2 2.8 -4 4.5 -2 1.8 -3 2.2 -2 1.2 -3 1.5 -3 1.1 -3 .8 -6 .9 -6 .1 -5 -.4 -4 -.7 -4 -1.4 -4 -2 -4 -3 -3 -3 -3 -4 -3.3 -5.6 -3.3 -7 -3.1 -8 -2.1 -7 -2 -8 -1.8 -9 -1.3 -9 -.9 -10 -.6 -12 -.1 -14 .1 -14 .6 -12 1 -10 1.3 -9 1.7 -9 2.4 -9 2.6 -8 3.2 -8 3.6 -7 3 -4.6 2 -2.4 2 -1.9 4 -3.1 2 -1.2 3 -1.3z"/><path fill="#efff00" d="M265.6 712l5.9 -.8 6 -.1 5 .5 5 1 5 1.9 4 2.2 4 3.1 3 3.1 3 3.8 3 5 2 4.3 2.1 6 1.5 6 1.4 7.3 1.1 8.7 .9 9.5 .7 13.5 .3 15 -.1 20 -.4 15 -.8 12 -1.1 10 -1.6 9.7 -1.8 7.3 -2.2 6.3 -3 6.1 -2 3.2 -2 2.7 -4 4.3 -2 1.7 -3 2.2 -2 1.2 -3 1.4 -5 1.6 -6 .9 -6 .2 -5 -.4 -4 -.8 -4 -1.4 -4 -2.2 -4 -3.2 -3 -3.1 -3 -4.1 -2.6 -4.6 -2.6 -6 -2.1 -6 -2 -7 -1.8 -8 -1.4 -8 -1.2 -9 -.9 -9 -.5 -12 -.2 -14 .2 -14 .6 -12 .9 -10 1.3 -9 1.7 -9 2.2 -9 2.2 -7 2.3 -6 2.9 -5.6 3 -4.5 2 -2.3 2 -2 4 -3 4 -2z"/><path fill="#fffa00" d="M270.9 716l5.6 -.2 6 .5 5 1.2 4 1.5 4 2.2 4 3.1 3.6 3.7 2.9 4 2.5 4.4 2 4.6 1.9 6 1.4 6 1.4 8 1 8 .7 9 .6 11 .2 14 0 17 -.3 12 -.7 11 -.9 10 -1.3 8.6 -1.7 8.4 -1.8 6 -2.5 6 -3 5.1 -2 2.7 -2 2.3 -4 3.6 -4 2.7 -5 2.3 -5 1.4 -6 .6 -5 0 -5 -.6 -4 -1 -4 -1.6 -4 -2.5 -3 -2.6 -3 -3.3 -3 -4.5 -2.3 -4.6 -2.3 -6 -2 -7 -1.7 -8 -1.4 -8 -1.2 -9 -.8 -9 -.5 -10 -.2 -13 .1 -14 .4 -11 .8 -10 1 -9 1.7 -10 1.9 -9 2.4 -8 2.4 -6 2.7 -5 3 -4 3 -3 4 -2.9 4 -2 4 -1.3z"/><path fill="#ffe500" d="M267.7 721l4.8 -.6 6 0 5 .7 5 1.5 4 1.8 4 2.6 3.3 3 3.4 4 2.6 4 2.3 5 1.8 5 1.6 6 1.4 7 1 7 .9 8 .6 9 .5 13 .1 15 -.3 13 -.6 12 -.9 10 -1.3 9 -1.6 8 -1.9 7 -2 5 -2.9 5.4 -3 4.1 -4 3.9 -4 2.9 -5 2.5 -5 1.5 -3 .5 -3 .2 -5 0 -4 -.5 -4 -.9 -4 -1.7 -4 -2.4 -3 -2.5 -2.8 -3 -2.2 -3.1 -2 -3.7 -2 -4.8 -1.7 -5.4 -1.7 -7 -1.3 -7 -1.2 -8 -.9 -8 -.6 -9 -.4 -11 -.1 -14 .2 -12 .5 -10 .9 -10 1.2 -9 1.6 -9 1.9 -8 1.6 -5.1 2 -4.9 2.3 -4 3 -4 3.7 -3.5 3.8 -2.5 4.2 -1.9z"/><path fill="#ffd000" d="M270.1 725l4.4 -.3 5 .2 5 .9 4 1.5 4 2.1 4 3 3 3 3 4 2 3.6 2.2 5 2 6 1.7 7 1.1 6.1 1.1 7.9 .8 9 .5 9 .2 12 0 13 -.4 11 -.7 10 -1 9 -1.5 8.8 -1.7 7.2 -1.9 6 -2.4 5.5 -2.7 4.5 -3.3 4 -3.3 3 -3.7 2.5 -2 1 -3 1.3 -5 1.3 -5 .5 -5 -.1 -4 -.7 -4 -1.3 -3 -1.4 -3.2 -2.1 -3.3 -3 -2.6 -3 -2.5 -4 -1.9 -4 -1.7 -5 -1.7 -6 -1.4 -7 -1.1 -7 -1 -8 -.7 -9 -.4 -8 -.3 -11 .1 -12 .3 -10 .7 -10 .9 -9 1.4 -9 1.6 -8 1.8 -6.4 2 -5.4 2 -3.9 3 -4.3 2.8 -3 3.2 -2.6 4 -2.2 4 -1.5z"/><path fill="#ffbb00" d="M271.8 729l4.7 -.2 4 .4 4 1 4 1.7 4 2.5 3 2.5 3 3.4 2.6 3.7 2.4 4.7 2 5.1 1.9 6.2 1.4 6 1.2 7 1 8 .7 8 .4 9 .2 11 -.2 11 -.4 10 -.8 9 -1.1 8 -1.3 7 -1.8 7 -2.1 6 -2.1 4.8 -2.5 4.2 -3.1 4 -3.4 3.1 -4 2.7 -4 1.9 -4 1.1 -5 .6 -4 -.1 -4 -.6 -4 -1.3 -3 -1.5 -3 -2 -3 -2.8 -2.5 -3.1 -2.5 -4 -2 -4.3 -1.6 -4.7 -1.7 -6 -1.3 -6 -1.1 -7 -.9 -8 -.7 -8 -.4 -9 -.1 -11 .1 -11 .4 -9 .6 -9 .9 -8 1.3 -8 1.5 -6.8 1.8 -6.2 1.9 -5 2.3 -4.4 2.5 -3.6 2.7 -3 2.8 -2.3 4 -2.4 4 -1.5z"/><path fill="#ffa700" d="M273.2 733l4.3 0 4 .7 4 1.3 3 1.5 3.5 2.5 3.1 3 3 4 2.3 4 2.1 4.5 2 5.5 1.7 6 1.3 6.1 1.1 6.9 .9 8 .5 8 .3 9 0 10 -.3 10 -.6 8 -.9 8 -1.1 7 -1.6 7 -1.8 6 -2 5 -2.4 5 -2.1 3.3 -3 3.7 -3 2.7 -4 2.6 -3.8 1.7 -4.2 1 -4 .4 -4 -.3 -3 -.6 -4 -1.5 -3 -1.7 -3 -2.5 -3 -3.3 -2.4 -3.5 -2 -4 -2 -5 -1.6 -4.9 -1.5 -6.1 -1.1 -6 -.9 -7 -.7 -7 -.5 -8 -.2 -9 -.1 -10 .2 -9 .6 -9 .7 -8 1 -7 1.3 -7 1.6 -6 1.6 -4.8 2 -4.7 2 -3.7 2.7 -3.8 2.9 -3 3.4 -2.6 3 -1.6 4 -1.3z"/><path fill="#ff9200" d="M268.8 738l3.7 -.8 4 -.1 4 .6 3 .9 4 2 3 2.2 3 3 2.4 3.2 2.4 4 2.2 4.5 2 5.3 1.5 5.2 1.4 6 1.1 6.5 .9 7.5 .5 7 .3 9 0 10 -.3 9 -.6 8 -1 8 -1.2 7 -1.6 6.3 -1.8 5.7 -2.2 5.1 -2.7 4.9 -2.3 3.3 -3 3.3 -3 2.5 -4 2.2 -4 1.4 -4 .5 -4 -.1 -3 -.6 -3 -1 -2.9 -1.5 -2.7 -2 -2.4 -2.4 -2 -2.5 -2 -3.2 -2 -3.9 -1.6 -4 -1.7 -5 -1.3 -5 -1.2 -6 -.8 -6 -.8 -7 -.4 -7 -.3 -9 -.1 -9 .2 -8 .4 -8 .7 -7 .9 -7.1 1.1 -5.9 1.4 -6 1.6 -5 2.1 -5 2.1 -4 2.7 -4 2 -2.3 3 -2.6 3 -1.8z"/><path fill="#ff7d00" d="M270.5 742l3 -.5 4 0 4 .9 3 1.3 3 1.8 3 2.6 2.5 2.9 2.5 3.6 2 3.7 2 4.6 1.8 5.1 1.3 5 1.3 6 .9 6 .7 7 .4 7 .2 8 -.1 9 -.3 8 -.6 7 -1 7 -1.2 6 -1.4 5.6 -1.8 5.4 -2.2 5 -2.2 4 -2.8 4 -2.8 3 -3.2 2.6 -3 1.6 -3 1.1 -4 .6 -3 0 -3 -.5 -3 -1 -3 -1.6 -3 -2.4 -2 -2.2 -2 -2.7 -2 -3.3 -2 -4.1 -1.6 -4.1 -1.4 -4.6 -1.1 -4.4 -1 -5 -.9 -6.5 -.6 -6.5 -.5 -7 -.2 -8 0 -9 .3 -8 .5 -7 .6 -6 .9 -6 1 -5 1.6 -6 1.4 -4.2 2.1 -4.8 2.2 -4 2.7 -3.8 2 -2.2 3 -2.4 3 -1.6z"/><path fill="#ff6800" d="M269.8 747l3.7 -.8 3 0 3 .4 3 1.1 3 1.6 2.2 1.7 2.8 2.9 2.4 3.1 2.4 4 1.8 4 1.5 4 1.5 5 1.4 6 .8 5 .8 6 .5 7 .3 8 -.1 8 -.2 7 -.6 7 -.8 6 -1 6 -1.5 6 -1.6 5 -2.1 5 -2.2 4 -2.3 3.3 -3 3.3 -3 2.5 -3 1.6 -3 1.1 -3 .4 -3 0 -3 -.6 -3 -1.1 -2 -1.2 -2 -1.5 -2 -2 -2 -2.5 -2.1 -3.3 -1.9 -3.7 -1.3 -3.3 -1.7 -5 -1 -4 -1.1 -5 -.9 -6 -1 -11.2 -.3 -14.8 .5 -14 .6 -6 .8 -6 1.2 -6 1.2 -4.6 1.4 -4.4 1.6 -3.9 2 -3.9 2 -3.1 2 -2.5 3 -2.8 2.9 -1.8z"/><path fill="#ff5300" d="M270.5 752l3 -.7 3 0 3 .5 2 .7 2.7 1.5 2.3 1.7 3 3.1 2 2.8 2 3.4 1.8 4 1.5 4 1.4 5 1.1 5 .9 5 .6 6 .4 6 .3 7 -.1 7 -.3 7 -.5 6 -.8 6 -1 5 -1.2 5 -1.3 4 -1.8 4.4 -2 3.8 -2 3.1 -3 3.4 -2 1.8 -3 1.9 -3 1.2 -3 .5 -3 0 -2 -.4 -3 -1.1 -2 -1.1 -2 -1.6 -2 -2 -2 -2.5 -2 -3.3 -1.5 -3.1 -1.5 -3.8 -1.3 -4.2 -1 -4 -1.7 -9.8 -.9 -10.2 -.3 -13 .6 -13 .6 -5.8 .8 -5.2 1 -5 1.2 -4.7 1.4 -4.3 1.6 -3.7 2 -3.7 1.7 -2.6 2.3 -2.6 2 -1.8 2 -1.3z"/><path fill="#ff3e00" d="M272.8 757l2.7 -.2 3 .4 2.4 .8 2.6 1.4 2 1.6 2 2.1 2 2.6 2 3.3 1.4 3 1.5 4 1.1 3.5 1.1 4.5 .9 5 .6 5 .7 11 -.1 12 -.4 6 -.6 5 -1.7 9 -1.1 4 -1.4 4 -1.8 4 -1.8 3 -2.1 3 -2.3 2.4 -2.1 1.6 -2.9 1.6 -2 .6 -3 .4 -3 -.3 -2 -.5 -2 -1 -2 -1.3 -2 -1.8 -2 -2.3 -1.6 -2.4 -1.4 -2.6 -1.5 -3.4 -1.3 -4 -2 -8 -1.2 -9 -.7 -11 0 -11 .8 -11 .7 -5 .9 -5 1.3 -5 1 -3.2 1.6 -3.8 1.4 -2.9 2 -3.1 1.7 -2 2.3 -2.1 2 -1.3 2 -1z"/><path fill="#ff2a00" d="M273.7 763l2.8 -.1 2 .4 2 .8 2 1.2 2 1.7 2 2.2 1.9 2.8 1.1 1.9 1.4 3.1 1.5 4 1.7 7 1.3 9 .5 9 -.2 11 -.8 9 -1.6 8 -1.1 4 -1.5 4 -1.5 3 -1.7 2.9 -2 2.5 -1.6 1.6 -2.4 1.8 -2 .9 -2 .6 -2 .2 -2 -.1 -2 -.5 -2 -.9 -2 -1.3 -2 -1.9 -1.5 -1.8 -1.5 -2.3 -1.4 -2.7 -1.6 -4 -.9 -3 -1.6 -7 -1.1 -9 -.5 -9 .2 -10 .7 -9 1.4 -8 2 -7 1.2 -3 1.6 -3.3 1.1 -1.7 1.9 -2.4 2 -1.9 2 -1.3 2 -.9z"/><path fill="#ff1500" d="M275.5 769.9l2 .3 2 .7 2 1.2 2 1.9 1 1.1 1.9 2.9 1.1 2 2 5.2 1.7 6.8 .9 7 .5 8 -.1 8 -.8 8 -1.3 7 -1.9 6 -1.3 3 -1.7 2.9 -1.6 2.1 -1.4 1.4 -3 2.1 -2 .7 -2 .3 -2 -.2 -2 -.6 -1.3 -.7 -1.7 -1.2 -1.8 -1.8 -1.2 -1.6 -2 -3.5 -2 -5.2 -1.6 -6.7 -1 -8 -.4 -8 .2 -9 .8 -8 1.1 -6 1.9 -6.2 2 -4.2 1 -1.6 2 -2.5 1.8 -1.5 1.2 -.8 2 -.9z"/><path fill="#ff0000" d="M273.3 779l2.2 -.3 1.8 .3 1.2 .5 2 1.4 1 1 2 2.7 2 4.3 1.5 5.1 1 6 .4 6 0 7 -.5 6 -1.1 6 -1.3 4.4 -2 4.4 -2 2.7 -1.6 1.5 -1.4 .9 -1 .4 -2 .4 -2 -.2 -1 -.4 -2 -1.2 -2 -2 -2 -3.2 -1.5 -3.7 -1.3 -5 -.8 -5 -.5 -6 -.1 -6 .4 -6 .8 -5.8 1.3 -5.2 1.7 -4.3 2 -3.2 2 -2 1 -.7z"/><path fill="#00ff0b" d="M380.4 637l6.1 -.5 8 -.2 6 .1 5 .5 5 .8 6 1.5 5 1.6 5 2 6 2.9 5 2.9 5 3.3 5 3.8 5 4.3 4.2 4 4.7 5 4.2 5 4.6 6 4.1 6 3.8 6 3.9 7 3.1 6 3.6 8 2.5 6 3 8 2.6 8 2.3 8 1.9 8 1.9 9 1.4 8 1.3 9 1 9 .6 8 .3 9 .1 9 -.2 9 -.4 8 -.8 9 -1.1 9 -1.3 8 -1.8 9 -1.8 8 -2.2 8 -2.2 7 -2.8 8 -2.7 7 -3.1 7 -3.4 7 -3.8 7 -4.3 7 -4.1 6 -4.5 6 -4.2 5 -4.6 5 -4.8 4.6 -5 4.3 -5 3.8 -6 3.9 -5 2.9 -5 2.4 -5 2 -5 1.7 -6 1.5 -5 .8 -6 .6 -8 .2 -9 -.4 -7 -.8 -6 -1.2 -5 -1.5 -5 -2.1 -4 -2.4 -4 -3.4 -3 -3.6 -2 -3.2 -2 -4.5 -1.8 -5.6 -1.2 -5.5 -1.2 -7.5 -.9 -9 -.7 -10 -.9 -22 -.5 -32 -.2 -59 .2 -54 .4 -28 .7 -20 .9 -16 1.5 -13 1.7 -9.2 1 -3.7 1.4 -4.1 2.6 -5.3 2 -3 2 -2.3 2 -1.9 3 -2.3 3 -1.8 4 -1.8 3 -1 4 -1.1 4 -.8z"/><path fill="#00ff22" d="M387.1 662l5.4 -.2 6 0 5 .2 4 .5 4 .7 4 1 4 1.3 4 1.6 4 2.1 4 2.5 5 3.6 5 3.9 4 3.6 4 3.9 6.3 7.3 2.9 4 3.4 5 3 5 2.7 5 2.4 5 2.6 6 2.3 6 2.1 6 3 11 1.6 7 1 6 1.8 14 1.1 15 .4 19 -.3 20 -.9 15 -1.6 14 -2.2 12 -1.5 6 -1.7 6 -1.9 6 -2.7 7 -2.1 5 -2.9 6 -3.3 6 -3.1 5 -3.5 5 -3.9 5 -4 4.6 -4 3.9 -4 3.6 -5 3.9 -5 3.6 -4 2.5 -4 2.2 -4 1.7 -4 1.3 -5 1.3 -5 .8 -6 .5 -8 .1 -8 -.5 -7 -.9 -6 -1.4 -5 -1.8 -5 -2.6 -4 -3 -2 -1.9 -2 -2.3 -3 -4.5 -2 -4.2 -2 -5.7 -1.5 -6.2 -1.4 -8 -1.1 -9 -.8 -10 -.7 -13 -.7 -21 -.3 -29 0 -46 .4 -30 .6 -18 1.1 -17 1.4 -13 1.6 -10 1.2 -5 1.2 -3.8 1.2 -3.2 1.8 -3.8 2 -3.2 1.4 -2 2.6 -2.9 2 -1.8 3 -2.1 3 -1.8 3 -1.3 3 -1.1 4 -1.2 4 -.8z"/><path fill="#00ff39" d="M383.7 675l4.8 -.5 5 -.2 6 0 5 .3 4 .5 4 .7 4 1 3 1.1 3 1.3 3 1.6 5 3.5 8.8 7.7 7 7 5.6 7 2.7 4 2.5 4 4.6 9 4.2 10 3.3 10 2.1 9 1.9 11 1.2 12 .9 16 .2 22 -.3 19 -.9 15 -1.6 13 -2.1 11 -2.8 10 -3.7 10 -2.2 5 -3 6 -3 5 -3.3 5 -3.1 4 -3.5 4 -3.9 4 -4.3 4 -5.3 4.5 -4 3 -3 2 -3 1.6 -4 1.6 -4 1.2 -5 1 -5 .6 -8 .3 -8 -.2 -6 -.6 -6 -1.2 -5 -1.5 -5 -2.1 -4 -2.5 -4 -3.3 -3 -3.5 -3 -4.6 -2 -4.1 -2 -5.6 -1.7 -6.6 -1.3 -6.9 -1.2 -9.1 -1 -10 -.9 -17 -.6 -24 -.1 -40 .3 -30 .5 -19 .8 -14 1.4 -14 1.8 -11.4 2 -8.2 1.1 -3.4 1.6 -4 1.5 -3 1.8 -3 2 -2.7 2 -2.2 2 -1.9 3 -2.3 3 -1.8 3 -1.4 3 -1.2 4 -1.2z"/><path fill="#00ff4f" d="M384.4 684l4.1 -.4 5 -.3 10 .2 7 .8 4 .9 3 1 5 2.2 2.6 1.6 2.4 1.8 5 4.6 7.2 7.6 3.4 4 3.1 4 4.6 7 4.3 8 3.8 9 3 9 2 8 1.8 11 1.3 12 .8 15 .3 18 -.2 19 -.8 15 -1.2 12 -1.8 11 -2.2 9 -3.1 9 -2.5 6 -2.4 5 -2.8 5 -3.3 5 -3.3 4.3 -4 4.7 -4.7 5 -5.1 5 -3.2 2.8 -2 1.5 -3 1.8 -3 1.4 -3 1.1 -4 1.1 -4 .7 -4 .4 -7 .3 -8 -.2 -6 -.6 -5 -1 -5 -1.5 -5 -2.2 -4 -2.5 -4 -3.4 -3 -3.4 -3 -4.6 -2 -4 -2.1 -5.7 -1.9 -6.8 -1.4 -7.2 -1.3 -9 -.9 -9 -1 -17 -.5 -21 -.1 -35 .3 -26 .6 -18 .8 -13 1.4 -12 1.7 -10 2.3 -9 2.7 -7 1.5 -3 1.9 -3.1 2 -2.7 2 -2.2 2.1 -2 2.9 -2.2 5 -2.9 3 -1.2 4 -1.3z"/><path fill="#00ff66" d="M386.8 691l7.7 -.5 9 .2 6 .7 6 1.6 5 2.1 4 2.5 4 3.5 4.4 4.9 7.1 9 5.3 8 4.5 8 2.3 5 1.6 4 2.9 9 2 9 1.7 11 1.2 12 .6 14 .2 19 -.3 15 -.7 13 -1.2 11 -1.8 11 -2.3 9 -2.8 8 -2.1 5 -2.6 5 -2.2 4 -3.3 5 -3.6 5 -4 5 -4.2 5 -3.7 3.7 -2 1.8 -3 2 -5 2.5 -3 1 -3 .8 -4 .7 -4 .4 -7 .2 -7 -.2 -6 -.8 -5 -1.1 -5 -1.7 -4.6 -2.3 -4.3 -3 -3.2 -3 -2.9 -3.6 -3 -4.9 -2.1 -4.5 -2.1 -6 -1.8 -7.1 -1.5 -7.9 -1.1 -8 -.8 -9 -.8 -16 -.4 -19 -.1 -31 .4 -23 .6 -15 .9 -13 1.3 -10 1.9 -10 2.2 -8 2.8 -7 1.6 -3.2 2 -3.2 2 -2.6 2 -2.2 2 -1.9 3 -2.3 3 -1.8 3 -1.4 6 -2.1 4 -.8z"/><path fill="#00ff7c" d="M389.3 697l7.2 -.3 8 .3 6 1 5 1.5 4 1.8 4.2 2.7 3.8 3.5 3.7 4.5 5.6 8 5.6 9 4.2 8 3.3 8 2.4 8 2.1 10 1.5 11 .9 11 .5 13 .1 18 -.3 14 -.7 11 -1.2 11 -1.5 9 -1.9 8 -2.7 8 -2.2 5 -2 4 -5.2 9 -4 6 -3.6 5 -3.2 4 -2.4 2.6 -2 1.8 -3 2.1 -2 1.1 -3 1.4 -3 1.1 -3 .7 -4 .7 -4 .4 -7 .2 -7 -.4 -6 -.9 -5 -1.4 -5 -2 -4 -2.4 -4 -3.3 -3 -3.2 -3 -4.2 -2.3 -4.3 -2.5 -6 -1.8 -6 -1.7 -7 -1.3 -8 -.9 -8 -.7 -10 -.6 -15 -.3 -19 0 -27 .4 -19 .7 -13.3 1 -11.7 1.3 -9 2 -9 2.7 -8.6 2.9 -6.4 3.1 -5 2 -2.6 2.3 -2.4 2.3 -2 2.4 -1.7 3 -1.8 3 -1.3 6 -2 4 -.7z"/><path fill="#00ff93" d="M385.9 703l6.6 -.7 7 0 6 .4 6 1.2 5 1.8 4 2.2 3.9 3.1 2.8 3 4.4 6 6 10 4.2 8 3.5 8 2.5 8 1.9 8 1.4 9 1.1 10 .7 12 .3 15 -.2 16 -.6 13 -1.1 11 -1.4 9 -2.1 9 -2.2 7 -3.4 8 -5.4 10 -6.3 10 -2.2 3 -2.8 3.2 -2 1.8 -2.7 2 -2.3 1.3 -3 1.4 -3 1.1 -3 .8 -6 .8 -6 .3 -7 -.2 -5 -.6 -5 -1.1 -5 -1.8 -4 -2.1 -4 -2.9 -3 -2.8 -3 -3.7 -2.8 -4.5 -2.2 -4.5 -2.1 -5.5 -1.7 -6 -1.5 -7 -1 -7 -.9 -9 -.9 -14 -.4 -16 -.1 -25 .2 -19 .6 -14 .9 -12 1.3 -10 1.6 -8.4 2.2 -7.6 2.8 -7.1 3 -5.6 2 -2.8 2 -2.4 4 -3.8 2 -1.4 3 -1.9 3 -1.4 3 -1.1 3 -.8z"/><path fill="#00ffaa" d="M386.8 708l5.7 -.6 7 0 6 .5 5 1 5 1.8 4 2.2 4 3.1 3 3.3 3.9 5.7 4.5 8 3.9 8 3.2 8 2.1 7 2 9 1.4 9 1 10 .6 12 .2 15 -.2 14 -.6 12 -1.1 10 -1.5 9 -2.1 9 -2.2 7 -3.3 8 -5.2 10 -4.6 7.4 -2 2.7 -2 2.2 -2 1.9 -3 2.2 -2 1.1 -3 1.4 -3 1.1 -3 .7 -6 .8 -6 .2 -6 -.2 -5 -.6 -5 -1.3 -4 -1.5 -4 -2.1 -4 -2.9 -3.2 -3.1 -2.8 -3.6 -3 -5 -2.1 -4.4 -2.1 -6 -1.6 -6 -1.2 -6 -1.1 -8 -.9 -9 -.7 -13 -.3 -15 -.1 -23 .3 -17 .7 -13 .9 -11 1.2 -9.2 1.6 -7.8 2.4 -7.9 3 -6.9 3.1 -5.2 1.9 -2.6 2 -2.3 4 -3.5 2 -1.4 3 -1.7 5 -2 3 -.9z"/><path fill="#00ffc0" d="M385.8 713l5.7 -.7 7 -.2 6 .4 5 1 4 1.3 4 2 4 2.9 3 3 3.2 4.3 3.5 6 3.8 8 3.2 8 2.1 7 2.1 9 1.5 9 .9 9 .7 11 .2 14 -.1 15 -.6 12 -1 10 -1.4 9 -2 9 -2.4 8 -3.2 8 -4 8 -3.6 6 -1.9 2.6 -2 2.3 -2 1.8 -2 1.6 -2 1.2 -3 1.6 -3 1.1 -3 .8 -6 .9 -6 .2 -6 -.2 -5 -.7 -4 -1 -4 -1.5 -4 -2.2 -4 -2.9 -3 -3 -3 -3.8 -2.3 -3.8 -2.4 -5 -1.9 -5 -1.4 -5 -1.3 -6 -1 -7 -1 -9 -.7 -12 -.4 -14 -.1 -21 .2 -17 .6 -12 .9 -11 1.2 -9 1.6 -8 2 -6.9 2.5 -6.1 2.7 -5 1.8 -2.6 2 -2.5 4 -3.9 2 -1.5 3 -1.9 5 -2.2z"/><path fill="#00ffd7" d="M389.2 717l6.3 -.4 6 .1 5 .7 4 1 4 1.6 4 2.4 2 1.5 2 1.9 2.7 3.2 2.6 4 3.1 6 2.9 7 2.4 7 2 8 1.6 8 1.3 9 .8 9 .5 11 .1 15 -.2 13 -.6 10 -1.1 10 -1.5 9 -2.1 9 -2.1 7 -3.2 8 -3.2 6.4 -3 4.8 -2 2.5 -2 2 -4 3.1 -2 1.1 -3 1.4 -5 1.5 -6 .8 -6 .2 -6 -.4 -5 -.9 -4 -1.2 -4 -1.8 -4 -2.5 -3 -2.6 -3 -3.2 -3 -4.2 -2.2 -4 -2.1 -5 -1.6 -5 -1.4 -6 -1.2 -7 -1 -8 -.6 -8 -.6 -12 -.2 -15 0 -19 .4 -14 .7 -10 1 -10 1.5 -9 1.6 -7 2.1 -6 2.6 -5.5 3 -4.7 2 -2.5 2 -2.2 4 -3.3 2 -1.3 3 -1.6 5 -1.8z"/><path fill="#00ffee" d="M392.3 721l6.2 -.1 5 .3 5 1 4 1.4 4 2.1 3 2.2 3 3 3 4 2.9 5.1 2.5 6 2.1 6 2.1 8 1.6 8 1.2 8 .9 9 .5 9 .3 12 -.1 15 -.5 11 -.7 9 -1.2 9 -1.8 9 -2 8 -2.4 7 -2.6 6 -2.8 4.9 -3 3.9 -2 2 -2 1.7 -4 2.5 -4 1.7 -5 1.2 -6 .6 -6 0 -5 -.5 -5 -1.1 -4 -1.4 -4 -2.1 -4 -3 -3 -3 -3 -4 -2.1 -3.4 -2.3 -5 -1.6 -4.7 -1.4 -5.3 -1.3 -7 -.9 -7 -.8 -8 -.6 -10 -.3 -13 0 -17 .2 -13 .6 -11 .8 -9 1.2 -9 1.5 -7.6 1.8 -6.4 2.2 -5.3 3 -5.4 3 -4 4 -3.9 4 -2.8 5 -2.4 5 -1.4z"/><path fill="#00fbff" d="M394.8 725l5.7 .1 5 .6 4 1.1 4 1.6 4 2.6 3 2.6 3 3.6 2.4 3.8 2.3 5 2.1 6 1.9 7 1.7 8 1.2 8 .9 8 .6 9 .3 10 0 13 -.2 11 -.5 9 -.9 9 -1.4 9 -1.7 8 -1.9 7 -2.1 6 -2.4 5 -2.6 4 -2.7 3.1 -4 3.3 -4 2.2 -4 1.5 -5 1.1 -6 .4 -5 -.2 -5 -.6 -5 -1.4 -4 -1.7 -4 -2.6 -3 -2.5 -3 -3.3 -3 -4.5 -2 -3.9 -2 -5.3 -1.5 -5.6 -1.4 -7 -1.1 -7.5 -.8 -8.5 -.5 -9 -.3 -10 -.1 -14 .2 -12 .4 -11 .8 -9 .9 -8 1.4 -7.8 1.8 -7.2 1.8 -5 2.4 -5 3 -4.5 3 -3.4 4 -3.3 4 -2.4 5 -1.9 5 -1.1z"/><path fill="#00e7ff" d="M394.5 729l5 0 5 .6 4 1 4 1.7 4 2.6 3 2.6 2.9 3.5 2.1 3.4 2.1 4.6 1.9 5.5 1.7 6.5 1.6 8 1.1 8 .8 8 .6 8 .3 9 0 12 -.2 10 -.5 9 -.8 9 -1.1 8 -1.6 8 -1.9 7.5 -2 5.7 -2.3 4.8 -2.7 4 -3 3.2 -3 2.4 -4 2.2 -4 1.5 -5 1 -5 .4 -5 -.2 -5 -.8 -4 -1.1 -4 -1.8 -4 -2.5 -3 -2.6 -3 -3.5 -2.7 -4.2 -2.3 -4.8 -1.5 -4.2 -1.5 -5.7 -1.3 -6.3 -1 -7 -.8 -8 -.6 -9 -.2 -9 -.1 -13 .2 -11 .4 -9 .7 -9 1 -8 1.2 -7 1.5 -6.2 2 -6 2.2 -4.8 2.8 -4.4 3.1 -3.6 3.9 -3.3 4 -2.4 4 -1.6 5 -1.2z"/><path fill="#00d4ff" d="M392.8 733l4.7 -.2 4 .3 4 .7 4 1.4 4 2.2 3 2.3 3 3 2.4 3.3 2.1 4 1.6 4 1.9 6 1.4 6 1.2 7 1 7 .7 8 .5 9 .2 11 0 11 -.4 9 -.7 9 -.9 8 -1.4 8 -1.6 7 -2 6.4 -2 4.6 -2 3.4 -3 3.8 -3 2.8 -4 2.6 -4 1.7 -4 1 -5 .5 -5 0 -4 -.6 -4 -1 -4 -1.7 -4 -2.4 -3 -2.5 -3 -3.4 -2 -2.9 -2 -3.7 -2 -4.8 -1.8 -5.8 -1.2 -5.3 -1 -5.7 -1 -7.4 -.7 -7.6 -.4 -8 -.2 -11 .1 -12 .3 -9 .7 -9 .9 -8 1.2 -7 1.4 -6 1.8 -6 1.9 -4.7 2.4 -4.3 2.6 -3.6 3.4 -3.4 3.6 -2.6 4 -2.1 5 -1.6z"/><path fill="#00c1ff" d="M391.4 737l4.1 -.4 4 .1 4 .6 4 1.2 4 2.1 3 2.2 3 3 2 2.6 2 3.3 2 4.4 1.7 4.9 1.6 6 1.2 6 1 7 .8 7 .5 8 .3 10 0 11 -.3 9 -.6 9 -.9 8 -1.3 7.7 -1.4 6.3 -1.9 6 -2.1 5 -2.3 4 -2.3 3.1 -3 3 -3 2.1 -4 2.1 -4 1.2 -5 .6 -4 0 -4 -.5 -4 -1.1 -3.5 -1.5 -3.5 -2.1 -3 -2.5 -3 -3.4 -2 -2.8 -2 -3.7 -1.9 -4.5 -1.7 -5 -1.3 -5 -1.1 -5.3 -1 -6.7 -.7 -7 -.5 -7 -.3 -9 0 -11 .3 -9 .5 -8 .9 -8 1.1 -7 1.3 -6 1.8 -6 1.9 -5 2.6 -5 2.1 -3.1 3 -3.4 3 -2.5 4 -2.5 4 -1.6z"/><path fill="#00adff" d="M390.6 741l3.9 -.6 4 0 4 .5 3 .9 4 1.9 3 2.1 3 2.9 2 2.6 2.3 3.7 1.9 4 1.8 5 1.4 5 1.3 6 .9 6 .8 7 .5 7 .4 9 0 10 -.2 9 -.6 9 -.8 7 -1.2 7 -1.5 6.7 -1.7 5.3 -2 5 -2.2 4 -2.1 3 -3 3.2 -3 2.3 -4 2.2 -4 1.2 -4 .5 -4 0 -3 -.4 -4 -1.1 -3 -1.3 -3 -1.8 -3 -2.5 -3 -3.3 -2 -2.9 -2 -3.5 -2 -4.5 -1.5 -4.1 -1.4 -5 -1.1 -5 -1 -6 -.7 -6 -.6 -7 -.3 -9 0 -9 .2 -8 .5 -8 .7 -7 1.1 -7 1.3 -6 1.4 -5 1.8 -5 2.4 -5 2.2 -3.7 2.6 -3.3 3.2 -3 3.2 -2.2 3 -1.5z"/><path fill="#009aff" d="M390.2 745l3.3 -.7 4 -.2 4 .5 3 .8 3 1.4 3 2 2.5 2.2 2.5 3 2 3.1 2 3.9 2 4.9 1.5 5.1 1.2 5 1.1 6 .7 6 .6 7 .4 9 .1 9 -.2 8 -.5 8 -.8 7 -1.1 6.9 -1.4 6.1 -1.5 5 -2.1 5 -2 3.9 -2 3.1 -3 3.4 -3 2.5 -3 1.7 -4 1.4 -4 .7 -4 0 -3 -.5 -3 -.9 -3 -1.4 -3 -1.9 -2.4 -2 -2.6 -2.9 -2 -2.8 -2 -3.4 -2 -4.3 -1.7 -4.6 -1.3 -4.4 -1.1 -4.6 -1 -6 -.8 -6 -.4 -6 -.4 -8 0 -8 .2 -8 .4 -7 .6 -6 .9 -6 1.3 -6 1.3 -5 1.8 -5 2.2 -4.8 2 -3.5 2.7 -3.7 2.3 -2.4 3 -2.4 3 -1.8z"/><path fill="#0087ff" d="M390.4 749l3.1 -.7 3 -.3 4 .4 3 .8 3 1.3 3 2.1 2.5 2.4 2.5 3.1 2 3.3 2 4 1.7 4.6 1.3 4.2 1.1 4.8 1.1 6 .7 6 .5 7 .3 8 0 8 -.2 8 -.5 7 -.9 7 -1.1 6 -1.3 5 -1.6 5 -2.1 4.8 -2 3.6 -2.6 3.6 -2.4 2.5 -3 2.3 -3 1.6 -3 .9 -4 .6 -3 -.1 -3 -.6 -3 -1 -3 -1.6 -3 -2.2 -2 -2 -2 -2.4 -2 -2.9 -2 -3.7 -1.5 -3.4 -1.5 -4.1 -1.4 -4.9 -1.1 -5 -.8 -5 -1.1 -11 -.3 -7 0 -7 .2 -7 .4 -7 .7 -6 1 -6 1.1 -5 1.3 -4.7 1.6 -4.3 1.8 -4 2.2 -4 2.4 -3.3 2.6 -2.7 2.4 -2 3 -1.8z"/><path fill="#0074ff" d="M391.4 753l3.1 -.6 3 -.1 3 .3 3 1 2.8 1.4 2.2 1.6 2.5 2.4 2.5 3.3 2 3.4 2 4.3 1.4 4 1.1 4 1.2 5 .8 5 .7 6 .4 6 .2 7 0 8 -.3 7 -.5 6 -.8 6 -1.1 6 -1.1 4.3 -1.6 4.7 -1.4 3.4 -2 3.8 -2 3 -3 3.4 -3 2.3 -3 1.5 -3 .9 -3 .4 -3 -.1 -3 -.6 -2.6 -1 -2.4 -1.3 -3 -2.3 -2 -2.1 -2 -2.5 -1.8 -2.8 -1.6 -3 -1.6 -3.6 -1.5 -4.4 -1.1 -4 -1.7 -9 -1.1 -11 -.2 -13 .7 -12 .7 -6 .8 -5 1.1 -5 1.3 -4.3 1.4 -3.7 1.8 -4 2.3 -4 2.3 -3 2.2 -2.3 3 -2.4 2.4 -1.3z"/><path fill="#0060ff" d="M394.2 757l2.3 -.2 3 .3 3 .8 2.3 1.1 2.7 1.9 2 1.9 2 2.5 2 3.2 1.7 3.5 1.3 3.2 1.2 3.8 1.2 5 .9 5 .7 5 .7 11 -.1 13 -.9 11 -.7 4.6 -1 4.8 -1.3 4.6 -1.4 4 -1.9 4 -1.8 3 -2.3 3 -2.1 2 -2.2 1.7 -3 1.5 -2 .6 -3 .4 -3 -.1 -2 -.4 -3 -1.1 -2 -1.2 -3 -2.3 -2 -2.1 -2 -2.7 -1.4 -2.3 -1.6 -3.1 -1.6 -3.9 -1.3 -4 -1 -4 -1.5 -9 -.5 -5 -.3 -6 0 -12 .8 -11 .8 -5 1 -5 1.1 -4 1.5 -4.3 2 -4.4 1.9 -3.3 2.1 -2.8 2 -2.2 2.5 -2 2.5 -1.5 2 -.8z"/><path fill="#004dff" d="M394 762l2.5 -.3 2 .2 3 .7 2 .9 2 1.2 2 1.7 2 2.3 2 3 1.7 3.3 1.3 3.2 1.2 3.8 1 4 .8 4 .7 5 .7 10 0 11 -.8 10 -.7 5 -.9 4.5 -1 3.7 -1.3 3.8 -1.7 3.7 -1.3 2.3 -1.7 2.5 -2.3 2.5 -2.6 2 -2.1 1.1 -2 .7 -3 .5 -3 -.1 -2 -.5 -2 -.7 -2 -1.1 -2 -1.6 -2 -1.9 -2 -2.5 -1.8 -2.9 -1.2 -2.4 -1.5 -3.6 -2.1 -7 -1.4 -8.2 -.8 -9.8 0 -11 .8 -10.2 1.6 -8.8 1 -4 1.4 -4 1.3 -3 1.7 -3.1 2 -2.9 2 -2.3 2 -1.7 2 -1.3 2 -1z"/><path fill="#003aff" d="M392.2 768l2.3 -.6 2 -.2 2 .1 2.6 .7 1.4 .6 2.1 1.4 1.9 1.7 2 2.4 1.8 2.9 1.2 2.5 2 5.6 1 3.9 .7 4 1 9 .3 10 -.6 10 -.4 4 -.9 5 -1 4 -1.1 3.4 -1.5 3.6 -1.5 2.7 -1.6 2.3 -1.4 1.6 -2 1.7 -2 1.3 -2 .8 -3 .6 -2 0 -2 -.4 -2 -.7 -2 -1.1 -2 -1.6 -1.2 -1.2 -1.8 -2.2 -1.2 -1.8 -2.5 -5 -2 -6 -1.4 -7 -.8 -8 -.3 -9 .5 -9 1 -8 1.7 -7 2.4 -6 1.6 -3 1.3 -2 1.7 -2 2 -1.8 2 -1.4z"/><path fill="#0027ff" d="M394.5 773.6l2 -.3 2 .2 2 .6 2 1 2 1.6 2.7 3.3 2.3 4.5 1 2.6 1 3.5 1.2 6.4 .7 7 .2 9 -.6 8 -1.1 7 -1.6 6 -1.3 3 -1.5 2.9 -1.5 2.1 -1.5 1.6 -3 2.1 -2 .8 -2 .4 -2 0 -2 -.5 -3 -1.5 -3 -2.7 -2.2 -3.2 -2 -4 -1.9 -6 -1.2 -6 -.6 -7 -.2 -8 .4 -7 1 -7 1.6 -6 2.1 -5.2 2.4 -3.8 2.6 -2.9 2 -1.4z"/><path fill="#0013ff" d="M395.2 781l2.3 -.1 1 .2 2 .8 1.6 1.1 1.4 1.4 2 2.8 2 4.5 1.2 4.3 .9 6 .5 7 -.2 6 -.6 6 -1 5 -.8 2.8 -1 2.5 -2 3.5 -2 2.3 -1.2 .9 -1.8 1 -1 .3 -2 .2 -2 -.3 -1 -.4 -2 -1.2 -2 -1.9 -2.3 -3.7 -1.7 -4.1 -1.3 -4.9 -.7 -5 -.4 -6 .1 -6 .6 -6 1 -5 1.7 -5 2 -3.9 2 -2.4 2 -1.6 1 -.6z"/><path fill="#0000ff" d="M395.1 792l1.4 -.3 2 .4 2 1.5 1.7 2.4 1.3 3 .7 3 .5 3 .3 4 -.1 4 -.4 4.3 -.9 3.7 -1.1 3 -1.2 2 -1.8 1.8 -1 .6 -2 .4 -2 -.5 -1 -.7 -1.4 -1.6 -1.2 -2 -.9 -2 -.8 -3 -.6 -4 -.2 -3 0 -4 .2 -3 .5 -3 .8 -3 1.3 -3 1.3 -2 1 -1.1z"/></g>
<path fill="#000" fill-rule="evenodd" d="M125.50 601.00h421.00v421.10h-421.00zM128.08 603.68h415.75v415.16h-415.75z"/>
<path d="M126.80 1021.60v11.89M126.00 1020.60h-11.89M183.31 1021.60v6.44M126.00 963.96h-6.44M239.82 1021.60v11.89M126.00 907.32h-11.89M296.33 1021.60v6.44M126.00 850.69h-6.44M352.84 1021.60v11.89M126.00 794.05h-11.89M409.35 1021.60v6.44M126.00 737.41h-6.44M465.86 1021.60v11.89M126.00 680.77h-11.89M522.37 1021.60v6.44M126.00 624.14h-6.44" stroke="#000" stroke-width="2.77" fill="none"/>
<text x="126.8" y="1057.8" font-size="21.30" font-weight="bold" text-anchor="middle" fill="#000">0.0</text>
<text x="103.7" y="1026.2" font-size="21.30" font-weight="bold" text-anchor="end" fill="#000">0.0</text>
<text x="239.8" y="1057.8" font-size="21.30" font-weight="bold" text-anchor="middle" fill="#000">2.0n</text>
<text x="103.7" y="913.0" font-size="21.30" font-weight="bold" text-anchor="end" fill="#000">2.0n</text>
<text x="352.8" y="1057.8" font-size="21.30" font-weight="bold" text-anchor="middle" fill="#000">4.0n</text>
<text x="103.7" y="799.7" font-size="21.30" font-weight="bold" text-anchor="end" fill="#000">4.0n</text>
<text x="465.9" y="1057.8" font-size="21.30" font-weight="bold" text-anchor="middle" fill="#000">6.0n</text>
<text x="103.7" y="686.4" font-size="21.30" font-weight="bold" text-anchor="end" fill="#000">6.0n</text>
<text x="336.0" y="1095.9" font-size="21.30" font-weight="bold" text-anchor="middle" fill="#000">Electron position (m)</text>
<text x="43.8" y="810.0" font-size="21.30" font-weight="bold" text-anchor="middle" fill="#000" transform="rotate(-90 43.8 810.0)">Hole position (m)</text>
<text x="152.8" y="642.5" font-size="29.60" font-weight="bold" text-anchor="start" fill="#fff">0.0 V/cm</text>
<text x="99.0" y="628.7" font-size="31.01" stroke="#000" stroke-width="1.05" text-anchor="middle" font-family="'Noto Serif CJK SC', 'Noto Sans CJK SC', 'DejaVu Sans', serif" fill="#000">④</text>
<rect x="553.80" y="1003.16" width="30.90" height="8.62" fill="#0000ff"/><rect x="553.80" y="995.14" width="30.90" height="8.62" fill="#0013ff"/><rect x="553.80" y="987.12" width="30.90" height="8.62" fill="#0027ff"/><rect x="553.80" y="979.10" width="30.90" height="8.62" fill="#003aff"/><rect x="553.80" y="971.08" width="30.90" height="8.62" fill="#004dff"/><rect x="553.80" y="963.06" width="30.90" height="8.62" fill="#0060ff"/><rect x="553.80" y="955.04" width="30.90" height="8.62" fill="#0074ff"/><rect x="553.80" y="947.01" width="30.90" height="8.62" fill="#0087ff"/><rect x="553.80" y="938.99" width="30.90" height="8.62" fill="#009aff"/><rect x="553.80" y="930.97" width="30.90" height="8.62" fill="#00adff"/><rect x="553.80" y="922.95" width="30.90" height="8.62" fill="#00c1ff"/><rect x="553.80" y="914.93" width="30.90" height="8.62" fill="#00d4ff"/><rect x="553.80" y="906.91" width="30.90" height="8.62" fill="#00e7ff"/><rect x="553.80" y="898.89" width="30.90" height="8.62" fill="#00fbff"/><rect x="553.80" y="890.86" width="30.90" height="8.62" fill="#00ffee"/><rect x="553.80" y="882.84" width="30.90" height="8.62" fill="#00ffd7"/><rect x="553.80" y="874.82" width="30.90" height="8.62" fill="#00ffc0"/><rect x="553.80" y="866.80" width="30.90" height="8.62" fill="#00ffaa"/><rect x="553.80" y="858.78" width="30.90" height="8.62" fill="#00ff93"/><rect x="553.80" y="850.76" width="30.90" height="8.62" fill="#00ff7c"/><rect x="553.80" y="842.74" width="30.90" height="8.62" fill="#00ff66"/><rect x="553.80" y="834.71" width="30.90" height="8.62" fill="#00ff4f"/><rect x="553.80" y="826.69" width="30.90" height="8.62" fill="#00ff39"/><rect x="553.80" y="818.67" width="30.90" height="8.62" fill="#00ff22"/><rect x="553.80" y="810.65" width="30.90" height="8.62" fill="#00ff0b"/><rect x="553.80" y="802.63" width="30.90" height="8.62" fill="#0aff00"/><rect x="553.80" y="794.61" width="30.90" height="8.62" fill="#1fff00"/><rect x="553.80" y="786.59" width="30.90" height="8.62" fill="#34ff00"/><rect x="553.80" y="778.56" width="30.90" height="8.62" fill="#49ff00"/><rect x="553.80" y="770.54" width="30.90" height="8.62" fill="#5eff00"/><rect x="553.80" y="762.52" width="30.90" height="8.62" fill="#72ff00"/><rect x="553.80" y="754.50" width="30.90" height="8.62" fill="#87ff00"/><rect x="553.80" y="746.48" width="30.90" height="8.62" fill="#9cff00"/><rect x="553.80" y="738.46" width="30.90" height="8.62" fill="#b1ff00"/><rect x="553.80" y="730.44" width="30.90" height="8.62" fill="#c6ff00"/><rect x="553.80" y="722.41" width="30.90" height="8.62" fill="#dbff00"/><rect x="553.80" y="714.39" width="30.90" height="8.62" fill="#efff00"/><rect x="553.80" y="706.37" width="30.90" height="8.62" fill="#fffa00"/><rect x="553.80" y="698.35" width="30.90" height="8.62" fill="#ffe500"/><rect x="553.80" y="690.33" width="30.90" height="8.62" fill="#ffd000"/><rect x="553.80" y="682.31" width="30.90" height="8.62" fill="#ffbb00"/><rect x="553.80" y="674.29" width="30.90" height="8.62" fill="#ffa700"/><rect x="553.80" y="666.26" width="30.90" height="8.62" fill="#ff9200"/><rect x="553.80" y="658.24" width="30.90" height="8.62" fill="#ff7d00"/><rect x="553.80" y="650.22" width="30.90" height="8.62" fill="#ff6800"/><rect x="553.80" y="642.20" width="30.90" height="8.62" fill="#ff5300"/><rect x="553.80" y="634.18" width="30.90" height="8.62" fill="#ff3e00"/><rect x="553.80" y="626.16" width="30.90" height="8.62" fill="#ff2a00"/><rect x="553.80" y="618.14" width="30.90" height="8.62" fill="#ff1500"/><rect x="553.80" y="610.11" width="30.90" height="8.62" fill="#ff0000"/><rect x="553.80" y="1011.49" width="30.90" height="9.21" fill="#000"/><rect x="553.80" y="601.20" width="30.90" height="9.21" fill="#fff"/>
<rect x="554.40" y="601.80" width="29.70" height="418.30" fill="none" stroke="#111" stroke-width="1.20"/>
<text x="597.9" y="616.3" font-size="18.33" font-weight="normal" text-anchor="start" fill="#111" textLength="44.0" lengthAdjust="spacingAndGlyphs">0.440</text>
<text x="597.9" y="666.5" font-size="18.33" font-weight="normal" text-anchor="start" fill="#111" textLength="44.0" lengthAdjust="spacingAndGlyphs">0.328</text>
<text x="597.9" y="716.7" font-size="18.33" font-weight="normal" text-anchor="start" fill="#111" textLength="44.0" lengthAdjust="spacingAndGlyphs">0.217</text>
<text x="597.9" y="767.0" font-size="18.33" font-weight="normal" text-anchor="start" fill="#111" textLength="44.0" lengthAdjust="spacingAndGlyphs">0.105</text>
<text x="597.9" y="817.2" font-size="18.33" font-weight="normal" text-anchor="start" fill="#111" textLength="69.5" lengthAdjust="spacingAndGlyphs">-0.00700</text>
<text x="597.9" y="867.4" font-size="18.33" font-weight="normal" text-anchor="start" fill="#111" textLength="49.9" lengthAdjust="spacingAndGlyphs">-0.119</text>
<text x="597.9" y="917.7" font-size="18.33" font-weight="normal" text-anchor="start" fill="#111" textLength="49.9" lengthAdjust="spacingAndGlyphs">-0.231</text>
<text x="597.9" y="967.9" font-size="18.33" font-weight="normal" text-anchor="start" fill="#111" textLength="49.9" lengthAdjust="spacingAndGlyphs">-0.342</text>
<text x="597.9" y="1018.1" font-size="18.33" font-weight="normal" text-anchor="start" fill="#111" textLength="49.9" lengthAdjust="spacingAndGlyphs">-0.454</text>
<path d="M584.20 610.01h5.94M584.20 660.25h5.94M584.20 710.48h5.94M584.20 760.72h5.94M584.20 810.95h5.94M584.20 861.18h5.94M584.20 911.42h5.94M584.20 961.65h5.94M584.20 1011.89h5.94" stroke="#1a1a1a" stroke-width="1.49" fill="none"/></g>
<!-- panel a5 -->
<g><clipPath id="ca5"><rect x="775.5" y="612.9" width="412.2" height="412.1"/></clipPath><g clip-path="url(#ca5)" fill-rule="evenodd" shape-rendering="geometricPrecision"><rect x="775.5" y="612.9" width="412.2" height="412.1" fill="#0aff00"/><path fill="#1fff00" d="M1025.6 648.9l6.9 -.7 7 -.3 7 .3 7 .8 7 1.5 6 1.7 6 2.2 7 3.3 6 3.5 6 4 5.8 4.7 5.2 4.8 5 5.5 4.6 5.7 4.1 6 3.5 6 3.5 7 3.2 8 2.6 8 1.9 8 1.3 8 .7 8 .1 8 -.3 9 -.9 8 -1.5 8 -2.1 7 -2.2 5 -2.9 5 -3.3 4 -2 2 -2.3 1.8 -4 2.6 -5 2.3 -5 1.7 -6 1.4 -7 1.2 -12 1.5 -9 .8 -11 .5 -13 .2 -14 -.1 -13 -.4 -10 -.6 -7 -.8 -5 -1.1 -3 -1.2 -2.6 -1.8 -1.4 -1.7 -.7 -1.3 -1.2 -3 -.9 -4 -.7 -5 -.5 -7 -.8 -20 -.1 -25 .4 -16 .8 -12 2 -19 1 -6 1.3 -6 1.1 -4 1.3 -4 2.8 -6 3.2 -5 2 -2.3 2 -2 2 -1.7 3 -2.1 3 -1.7 3 -1.4 3 -1.2 4 -1.2zM894.3 817.9l17.2 -.6 22 0 18 .6 7 .5 5 .6 3 .5 3 .8 2 .8 2 1.2 1 .9 1.3 1.7 1 2 1 3 .8 4 .6 5 .9 15 .4 21 -.3 23 -.6 15 -1.9 24 -1.3 11 -1.9 10.9 -2 7.8 -2.6 7.3 -3.1 6 -3.5 5 -2.8 3 -2 1.8 -2 1.6 -3 2 -3 1.6 -3 1.3 -6 2 -4 .9 -4 .6 -4 .4 -5 .2 -5 -.1 -4 -.3 -8 -1.3 -8 -2.2 -8 -3.2 -4 -2 -4 -2.2 -4 -2.6 -4 -2.8 -7 -5.9 -7 -7 -6.4 -7.8 -5.5 -8 -5.1 -9 -4.3 -9 -3.8 -10 -3.4 -11 -2.4 -11 -1.7 -12 -.8 -12 .2 -11 .8 -9 .8 -5 .9 -4 2.3 -7 1.9 -4 1.7 -3 2.2 -3 1.6 -1.8 4 -3.6 2.3 -1.6 2.7 -1.5 5.7 -2.5 7 -2 7.3 -1.4 11 -1.4z"/><path fill="#34ff00" d="M1030.2 662.9l5.3 -.6 6 -.1 6 .4 6 .9 5 1.2 5 1.7 5 2.4 4 2.4 6.2 4.7 8.3 7 5.3 5 4.2 4.5 4.3 5.5 5.7 8.3 6 9.5 2.8 5.2 1.9 5 1.7 6 1.1 6 .7 7 .2 7 -.3 7 -.9 7 -1.4 7 -1.9 6 -2 5 -2.7 5 -2.8 4 -3.7 4 -3.5 3 -4.2 2.8 -4 2 -6 2.2 -7.1 2 -7.9 1.8 -7 1.1 -8 .6 -10 .5 -11 0 -11 -.3 -9 -.6 -7 -.8 -6 -1.1 -4.2 -1.2 -2.8 -1.2 -3 -2 -1 -.9 -1.6 -1.9 -1.6 -3 -1.4 -4 -.9 -4 -.9 -5 -.6 -6 -.6 -8 -.4 -9 -.2 -19 .5 -13 1 -11 .8 -5 1.9 -9.5 2.4 -9.5 1.3 -4 1.3 -3.3 3 -5.8 2 -3 2 -2.6 4.3 -4.3 2.7 -2.2 3 -2 3 -1.6 3 -1.4 3 -1.2 4 -1.2zM899.2 819.9l7.3 -.5 9 -.3 18 .1 8 .3 8 .7 6 .7 5 1 3.5 1 2.5 1 2 1.1 2.3 1.9 1.6 2 1.2 2 1.2 3 1.1 4 .9 5 .6 5 1 14 .3 17 -.4 18 -.7 11 -1.1 8 -3 17.4 -2.5 10.6 -2.5 7.3 -3 6.4 -2 3.4 -2 2.9 -4 4.8 -2.3 2.2 -2.7 2.2 -5 3.3 -6 2.8 -3 1 -4 1.1 -6 .9 -6 .3 -7 -.5 -6 -1 -6 -1.8 -6 -2.6 -4.5 -2.7 -4.5 -3.6 -7.7 -7.4 -8.3 -8.7 -5.3 -6.3 -4.3 -6 -6.4 -10.7 -8.9 -16.3 -2.5 -6 -2.3 -8 -1.4 -8 -.9 -9 -.1 -9 .6 -8 1.1 -7 2 -7 2.4 -6 1.6 -3 1.9 -3 3.2 -4 4.3 -4 4.3 -3 5.7 -2.9 5.9 -2.1 7.7 -2 9.9 -2z"/><path fill="#49ff00" d="M1033.8 671.9l4.7 -.4 5 .1 5 .5 4 .9 5 1.6 4 1.8 4 2.3 3 2.2 3 2.7 3.1 3.3 28.9 32.4 2.5 3.6 1.7 3 1.7 4 1.6 5 1.3 6 .6 6 .1 6 -.6 7 -1.1 6 -1.6 6 -2.2 6 -2.5 5 -2.5 4 -3.1 4 -3.8 4 -3.8 3 -4.7 3 -5.8 3 -6.8 2.9 -5 1.6 -5 1 -7 1 -8 .5 -9 .2 -9 -.2 -8 -.5 -8 -.9 -6 -1.2 -4 -1.1 -4 -1.6 -2.8 -1.7 -2.5 -2 -1.8 -2 -2 -3 -1.8 -4 -1.2 -4 -.9 -4 -.9 -5 -1.1 -11 -.6 -14 .2 -14 .7 -10 1.1 -8 1.6 -6.6 3 -8.6 3.3 -7.8 1.7 -3.4 2 -3.4 2 -2.8 2 -2.5 2 -2.1 3 -2.8 3 -2.3 3 -2 6 -3.1 6 -2.1 4 -1zM913.3 820.9l8.2 -.2 8 .1 8 .4 7.5 .7 5.5 .8 5.4 1.2 4.6 1.5 3 1.5 2.8 2 2.2 2.1 2 2.8 1.6 3.1 1.4 4 1.2 5 1 6 .6 6 .7 12 .1 12 -.5 13 -1 11 -1.3 7 -1.8 6.9 -3.9 12.1 -3.1 8.1 -3 6 -4 6 -4 4.7 -5 4.6 -5 3.4 -3 1.7 -3 1.4 -6 1.9 -6 1 -5 .2 -5 -.5 -5 -1 -4 -1.3 -4 -1.9 -4 -2.4 -4 -3 -3 -3 -5.6 -6.9 -19.3 -26 -8.8 -11 -2.8 -4 -1.6 -3 -1.3 -3 -2 -6 -1.4 -6 -1 -7 -.3 -7 .3 -7 .9 -6 1.5 -6 2.3 -6 2.5 -5 3.3 -5 4.3 -4.8 2.4 -2.2 2.6 -2 4.8 -3 6.2 -3 7.7 -3 5.3 -1.6 5 -1 7 -.8z"/><path fill="#5eff00" d="M1034.8 678.9l4.7 -.4 4 .2 5 .7 4 1 4 1.5 4 2 4 2.5 3 2.4 4.1 4.1 7.9 9.7 3.7 4.3 3.9 4 7.2 7 3.5 4 2.7 4 2.5 5 1.8 5 1.1 4 .8 5 .3 6 -.3 5 -.9 6 -1.4 6 -1.7 5 -2.2 5 -2.9 5 -2.8 4 -3.6 4 -3.7 3.4 -4.7 3.6 -5.3 3.5 -5 2.8 -4.2 1.7 -4.8 1.3 -6 1.1 -7 .7 -8 .4 -7 -.1 -8 -.5 -7 -.8 -6 -1.1 -5 -1.5 -4 -1.6 -3.2 -1.9 -2.8 -2.1 -2.7 -2.9 -2 -3 -1.6 -3 -1.5 -4 -1.4 -5 -1.4 -8 -.9 -9 -.5 -10 .1 -10 .5 -9 1.1 -8 1.3 -6 1.8 -5 4.2 -8.4 4.5 -7.6 4.5 -6 4 -4.1 3 -2.5 3 -2.1 3 -1.8 3 -1.5 3 -1.3 4 -1.4zM909.1 822.9l7.4 -.5 7 -.1 8 .3 7 .5 6 .8 5 1 5 1.4 4 1.7 3.2 1.9 2.8 2.2 2.5 2.8 2 3 1.8 4 1.4 4 1.2 5 .9 6 .9 10 .3 10 -.3 12 -.8 10 -1 7 -1.4 6 -1.8 5 -3.7 8.4 -4 8.3 -4 6.9 -4 5.4 -4 4.2 -3 2.6 -3 2.2 -3 1.9 -3 1.6 -3 1.2 -3 1.1 -3 .7 -3 .5 -4 .2 -5 -.4 -4 -.9 -4 -1.3 -4 -1.9 -4 -2.4 -4 -3.1 -3 -2.9 -4.3 -5.3 -7.7 -11.3 -4 -5.5 -4.3 -5.2 -7.3 -8 -3.8 -5 -2.8 -5 -2.4 -6 -1.8 -6 -1.1 -6 -.5 -6 .1 -6 .6 -5 1.3 -6 1.6 -5 2.8 -6 3.1 -5 3.1 -4 4 -4 5.1 -4 5.3 -3.4 6.5 -3.6 4.5 -1.9 4 -1.1 6 -1.2z"/><path fill="#72ff00" d="M1033.6 684.9l3.9 -.5 4 -.1 4 .4 5 1 4 1.4 4 1.9 4 2.4 3 2.3 4.3 4.2 10 12 10.3 10 3.4 4 2.5 4 2.1 4 1.8 5 1.1 4 .8 5 .2 5 -.3 5 -.7 5 -1.2 5 -2.1 6 -2.3 5 -2.3 4 -3.7 5 -3.5 4 -4.3 4 -6.2 5 -3.9 2.6 -3 1.6 -4 1.5 -5 1.3 -6 1 -6 .6 -7 .2 -7 -.2 -7 -.7 -6 -.9 -5 -1.2 -5.1 -1.8 -3.9 -1.9 -3 -2 -2.4 -2.1 -2.7 -3 -2 -3 -1.9 -4 -1.8 -5 -1.3 -5 -1.1 -7 -.9 -8 -.4 -9 .1 -8 .5 -7 1 -7 1.3 -6 1.9 -5 1.5 -3 1.8 -3 5.4 -7.9 4.9 -6.1 4.1 -4.1 5 -3.8 5 -3 6 -2.5zM907.3 824.9l6.2 -.6 7 -.4 7 .1 7 .5 6 .7 6 1.2 4.9 1.5 4.1 1.7 3 1.7 3.4 2.6 2.6 2.7 2.3 3.3 2.1 4 1.4 4 1.4 5 .9 5 .9 8 .5 8 -.1 8 -.4 9 -.8 7 -1.3 7 -1.3 5 -2 5 -4.6 8.4 -5 8.3 -4.6 6.3 -4.4 5 -5 4.2 -5 3.2 -3 1.5 -3 1.2 -3 1 -3 .6 -4 .4 -4 -.2 -4 -.7 -4 -1.2 -4 -1.7 -4 -2.3 -4 -3 -3 -2.8 -4 -4.8 -7 -10.1 -3.2 -4.3 -3.4 -4 -7.5 -8 -3.7 -5 -2.7 -5 -2.1 -5 -1.6 -5 -1.2 -6 -.5 -5 -.1 -5 .4 -5 1 -5 1.5 -5 2.1 -5 2.7 -5 2.8 -4 3.4 -4 4.2 -4 5 -4 5.9 -4 4 -2.2 4 -1.5 5 -1.3z"/><path fill="#87ff00" d="M1033.4 689.9l4.1 -.6 4 -.1 4 .4 4 .9 4 1.3 4 1.9 4 2.5 3 2.2 4 3.8 8 9.2 9.5 9.5 3.3 4 2.6 4 2.1 4 1.8 5 1.1 4 .7 5 .2 4 -.3 5 -.9 5 -1.3 5 -1.8 5 -2.3 5 -2.4 4 -2.8 4 -4.1 5 -5 5 -4.7 4 -3 2 -3.7 1.9 -4 1.4 -5 1.2 -6 1 -6 .5 -6 .1 -7 -.4 -6 -.8 -6 -1.3 -5 -1.6 -4 -1.7 -3 -1.7 -3.4 -2.6 -3 -3 -2.2 -3 -1.7 -3 -1.8 -4 -1.6 -5 -1.2 -5 -1.1 -7 -.7 -7 -.2 -8 .2 -7 .6 -7 1.1 -6 1.3 -5 2 -5 2.7 -4.5 5 -6.4 5 -5.6 5 -4.6 5 -3.7 5 -2.8 5 -2.1zM913.9 825.9l6.6 -.4 6 .1 7 .5 6 .9 5 1 5 1.6 4 1.8 4 2.4 3 2.4 2.5 2.7 2.1 3 2.1 4 1.5 4 1.4 5 1.1 6 .8 6 .4 7 0 7 -.3 7 -.8 7 -1 6 -1.2 5 -1.6 4.5 -2 4.1 -5 7.7 -6 8.1 -5 5.7 -4 3.7 -5 3.7 -5 2.6 -5 1.9 -5 .9 -3 .2 -4 -.4 -4 -.8 -4 -1.5 -4 -2 -3 -1.9 -4 -3.3 -3 -2.9 -4 -4.8 -7.9 -10.5 -9.8 -11 -3.4 -5 -2.7 -5 -2.3 -6 -1.6 -6 -.8 -6 -.2 -5 .2 -4 .8 -5 1.4 -5 2 -5 2 -4 3.3 -5 3.2 -4 3.8 -4 5.5 -5 4 -3 3.5 -2 4 -1.7 5 -1.5 5 -1z"/><path fill="#9cff00" d="M1035.8 693.9l3.7 -.3 4 .2 4 .6 4 1.2 4 1.7 4 2.2 4 2.9 3 2.6 15.4 15.9 2.5 3 2.1 3 2.4 4 2.3 5 1.6 5 .9 5 .2 5 -.3 5 -.9 5 -1.4 5 -1.8 5 -2.5 5 -3 5 -2.9 4 -3.2 4 -3.7 4 -3.4 3 -3.3 2.3 -4 2 -4 1.4 -5 1.3 -5 .8 -6 .5 -5 0 -6 -.3 -6 -.9 -5 -1.1 -5 -1.6 -4 -1.8 -4 -2.3 -3 -2.4 -2.8 -2.9 -2.2 -3 -2.2 -4 -1.8 -4.3 -1.5 -4.7 -1.1 -5 -.9 -6 -.7 -7 -.2 -6 .2 -6 .5 -6 .9 -5 1.2 -5 1.6 -4.4 2 -3.9 3 -4.2 5 -5.5 5 -4.7 5 -4 5 -3.2 5 -2.5 5 -1.7zM911.2 827.9l6.3 -.6 6 -.2 6 .3 6 .7 6 1.2 5 1.5 4 1.6 4 2.2 3.1 2.3 3 3 2.3 3 2.3 4 1.7 4 1.5 5 1.1 5 .7 5 .6 7 .1 6 -.3 7 -.7 7 -1.1 6 -1.3 5.2 -1.7 4.8 -2.1 4 -3.2 4.6 -7 8.5 -5 5.2 -4 3.5 -4 2.9 -5 2.8 -5 2 -5 1 -3 .1 -4 -.3 -4 -.9 -4 -1.6 -4 -2.1 -3 -2 -4 -3.3 -3 -2.9 -16.7 -19.5 -2.2 -3 -2 -3 -2.7 -5 -2.4 -6 -1.5 -5 -1 -6 -.3 -5 .1 -4 .6 -4 1.2 -5 1.4 -4 2.3 -5 3 -5 3 -4 3.3 -4 3.9 -4 3.4 -3 3.6 -2.5 4 -2 4 -1.4 5 -1.3z"/><path fill="#b1ff00" d="M1036.4 697.9l4.1 -.3 4 .4 4 .8 4 1.3 4 1.9 4 2.3 4 2.9 3 2.6 5 4.8 5 5.3 3.3 4 2.7 4 2.3 4 2.1 5 1.5 5 .8 5 .2 5 -.5 5 -1 5 -1.5 5 -2 5 -2.6 5 -3 5 -3.6 5 -2.7 3.3 -3 3 -3 2.3 -3 1.8 -4 1.8 -4 1.3 -4 1 -5 .7 -6 .4 -5 -.1 -6 -.6 -5 -.9 -5 -1.4 -4.1 -1.6 -4 -2 -3.9 -2.7 -3 -2.8 -2.8 -3.5 -2.2 -3.5 -1.7 -3.5 -1.4 -4 -1.4 -5 -1 -5 -.8 -6 -.5 -6 0 -5 .3 -6 .7 -5 1 -5 1.6 -5 1.7 -4 1.8 -3 2.7 -3.4 4 -4 6 -5 5 -3.6 4 -2.3 5 -2.3 5 -1.7zM918.1 828.9l5.4 -.1 6 .3 6 .8 5 1.1 5 1.5 4 1.8 4 2.4 2.9 2.2 2.9 3 2.2 3 2 3.4 1.6 3.6 1.6 5 1.2 5 .8 5 .5 6 .1 6 -.2 6 -.6 6 -.9 5 -1.2 5 -1.7 5 -1.8 4 -1.9 3 -3.5 4.4 -5 5.2 -5 4.7 -5 4 -5 3.1 -4 1.9 -5 1.7 -4 .6 -4 -.1 -4 -.6 -4 -1.3 -4 -1.8 -4 -2.5 -4 -3 -4 -3.6 -5 -5.3 -5.7 -6.4 -3.2 -4 -2.7 -4 -2.8 -5 -2.2 -5 -1.7 -5 -1.2 -5 -.7 -6 0 -5 .5 -4 1.2 -5 1.7 -5 2.4 -5 2.9 -5 3.6 -5 3.4 -4 2.9 -3 2.6 -2.2 3 -2 4 -1.9 4 -1.4 5 -1.3 5 -.8z"/><path fill="#c6ff00" d="M1034.6 701.9l3.9 -.5 4 0 4 .6 4 1.1 4 1.5 4 2.1 4 2.5 5 3.8 4 3.6 3.1 3.3 3.2 4 2.6 4 2.1 4 1.8 4 1.6 5 .8 4 .5 5 -.2 4 -.7 5 -1.2 5 -1.7 5 -2.2 5 -3.2 6 -3.2 5 -2.3 3 -2.8 3 -2.3 2 -2.9 2 -3 1.6 -4 1.6 -4 1.1 -5 .9 -5 .5 -5 .1 -5 -.4 -5 -.8 -5 -1.2 -4.1 -1.4 -4.2 -2 -3.7 -2.3 -3.3 -2.7 -2.7 -3 -2.2 -3 -1.8 -3.2 -1.7 -3.8 -1.7 -5 -1.2 -5 -.8 -5 -.7 -6 -.1 -5 .2 -6 .6 -5 .9 -5 1.2 -4 1.6 -4 2.1 -4 2.6 -3.4 3 -3 4 -3.3 5 -3.5 4 -2.4 5 -2.5 4 -1.6zM914.6 830.9l5.9 -.5 5 .1 5 .4 5 .8 5 1.2 4 1.4 4 1.8 4 2.5 3 2.5 2.6 2.8 2.4 3.4 2 3.6 1.6 4 1.6 5 1 5 .7 5 .3 5 0 6 -.4 6 -.9 6 -1.1 5 -1.5 5 -1.7 4 -2.3 4 -2.3 3 -4 4.1 -6 5.1 -5 3.7 -4 2.5 -5 2.4 -4 1.4 -4 .7 -4 .1 -4 -.5 -4 -1.1 -4 -1.6 -4 -2.2 -5 -3.5 -5 -4.2 -4 -3.9 -3.5 -4 -3 -4 -3 -5 -2.1 -4 -2.1 -5 -1.3 -4 -1.2 -5 -.5 -4 -.3 -5 .3 -4 .9 -5 1.2 -4 2 -5 2 -4 2.9 -5 3.6 -5 2.6 -3 2.5 -2.5 3 -2.2 3 -1.7 3 -1.4 4 -1.4 4 -1z"/><path fill="#dbff00" d="M1036.6 704.9l3.9 -.2 4 .3 4 .8 4 1.2 4 1.8 5 2.7 4 2.6 4 3.2 3 3.1 2.7 3.5 2.5 4 2 4 1.7 4 1.3 4 .9 4 .5 4 .1 4 -.5 5 -1 5 -1.4 5 -2 5 -2.3 5 -2.8 5 -2.7 4 -2.7 3 -2.3 2.1 -3 2.1 -3 1.6 -3 1.3 -4 1.2 -4 .9 -5 .6 -5 .2 -4 -.2 -5 -.7 -5 -1.1 -4 -1.4 -4 -1.7 -4 -2.4 -3 -2.4 -3 -3.1 -2 -2.6 -2.1 -3.4 -1.9 -4 -1.5 -4 -1.3 -5 -.9 -5 -.6 -5 -.3 -5 .1 -5 .4 -5 .7 -4 1 -4 1.4 -4 1.9 -4 2.1 -3.3 2.3 -2.7 3.4 -3 3.3 -2.4 5 -3.1 4 -2.1 5 -2.1 5 -1.5zM912.8 832.9l4.7 -.6 5 -.2 5 .2 5 .6 5 1.1 4 1.2 4 1.6 4 2.3 3 2.2 2.8 2.6 2.5 3 1.9 3 2 4 1.5 4 1.4 5 .9 5 .6 6 0 5 -.3 6 -.8 6 -1 5 -1.5 5 -1.6 4 -2.2 4 -3.1 4 -3.1 3 -4 3.2 -5 3.5 -5 2.9 -4 1.9 -4 1.4 -4 .9 -4 .2 -4 -.3 -4 -.9 -4 -1.5 -4 -1.9 -5 -3.1 -4 -2.9 -4 -3.4 -2.9 -3 -2.3 -3 -2.5 -4 -2.1 -4 -1.8 -4 -1.8 -5 -1.1 -4 -1 -5 -.4 -5 0 -4 .5 -4 .9 -4 1.6 -5 2.1 -5 2.6 -5 2.5 -4 2.2 -3 2.5 -2.7 2.7 -2.3 2.3 -1.6 3 -1.6 4 -1.7 4 -1.2z"/><path fill="#efff00" d="M1036.1 707.9l3.4 -.3 4 .2 4 .6 4 1.1 5 1.9 4 2 4 2.4 3 2.2 2.1 1.9 2.6 3 2 3 2.2 4 1.8 4 1.4 4 1 4 .7 4 .3 4 -.3 5 -.5 4 -1.2 5 -1.5 5 -2 5 -2.4 5 -2.5 4 -2.3 3 -2.4 2.5 -3 2.3 -3 1.8 -3.1 1.4 -3.9 1.4 -4 .9 -4 .6 -5 .3 -4 -.2 -5 -.6 -4 -.9 -4 -1.2 -4 -1.7 -4 -2.3 -3 -2.2 -3 -2.9 -2 -2.5 -2 -3 -1.9 -3.7 -1.6 -4 -1.3 -4 -1.1 -5 -.7 -5 -.3 -5 0 -5 .4 -5 .7 -4 .9 -4 1.5 -4 1.9 -4 1.9 -3 2.6 -3 2.2 -2 3.8 -2.7 4 -2.3 5 -2.4 4 -1.5 5 -1.5zM919.2 833.9l4.3 -.1 5 .3 5 .8 4 .9 4 1.4 3.8 1.7 3.2 1.9 3 2.2 2.9 2.9 2.4 3 1.9 3 1.8 3.9 1.5 4.1 1 4 .9 5 .5 5 .1 5 -.4 6 -.6 5 -1 4.7 -1.3 4.3 -1.5 4 -2.1 4 -2.1 3 -2.7 3 -3.3 2.8 -4 2.7 -5 2.9 -4 1.9 -4 1.5 -4 1.1 -4 .5 -3 .1 -4 -.5 -4 -1 -4 -1.4 -4 -1.9 -5 -2.9 -4 -2.9 -3.3 -2.9 -2.5 -3 -2 -3 -2.1 -4 -2.2 -5 -1.4 -4 -1.4 -5 -.8 -4 -.5 -5 0 -4 .3 -4 .8 -4 1.4 -5 1.9 -5 2.4 -5 2.4 -4 2.2 -3 2.8 -2.9 2.6 -2.1 3.2 -2 3.2 -1.5 3 -1.1 4 -1.2 4 -.7z"/><path fill="#fffa00" d="M1033.2 710.9l3.3 -.5 4 -.2 4 .3 4 .6 4 1.1 4 1.5 4 1.8 4 2.4 2.6 2 2 2 1.6 2 2 3 1.6 3 1.7 4 1.4 4 .9 4 .7 5 .2 4 -.2 4 -.7 5 -1.1 5 -1.6 5 -2 5 -2 4 -1.9 3 -2.2 2.8 -2.3 2.2 -2.7 2.1 -3 1.8 -3 1.4 -4 1.4 -4 .9 -4 .5 -5 .2 -4 -.2 -4 -.6 -4 -1 -4 -1.3 -4 -1.8 -3 -1.8 -3 -2.3 -2.4 -2.3 -2.5 -3 -1.9 -3 -1.6 -3 -1.6 -4.1 -1.2 -3.9 -1.1 -5 -.7 -5 -.3 -5 .1 -5 .4 -4 .9 -5 1.2 -4 1.6 -4 1.7 -3 2.1 -3 2.3 -2.4 3 -2.5 3 -1.9 4 -2.1 4 -1.6 4 -1.4zM916.5 835.9l5 -.4 4 .1 4 .4 5 .9 4 1.1 4 1.6 3 1.5 3 2 3 2.5 2.1 2.3 2.3 3 1.7 3 1.8 4 1.3 4 1 4 .8 5 .3 5 0 5 -.5 5 -.7 5 -1.3 5 -1.3 4 -1.9 4 -1.8 3 -2.3 3 -2.5 2.5 -3 2.3 -4 2.5 -4 2 -5 2 -4 1.1 -4 .8 -4 .2 -4 -.3 -4 -.7 -4 -1.2 -4 -1.6 -4 -2.1 -4 -2.5 -3 -2.4 -2 -2.1 -2 -2.5 -1.8 -3 -1.9 -4 -1.6 -4 -1.3 -4 -1 -4 -.8 -5 -.4 -5 .1 -4 .4 -4 .7 -4 1.5 -5 1.9 -5 1.9 -4 2.3 -3.7 2 -2.6 2.8 -2.7 2.2 -1.7 3 -1.8 3.1 -1.5 3.9 -1.4 4 -1z"/><path fill="#ffe500" d="M1034.5 712.9l4 -.4 4 .1 4 .4 4 .8 4 1.1 4 1.6 3 1.6 2.8 1.8 2.2 1.8 2 2.1 1.6 2.1 1.8 3 1.4 3 1.5 4 1.1 4 .5 3 .5 4 .1 5 -.2 4 -.7 5 -1.2 5 -1.2 4 -1.6 4 -2 4 -1.9 3 -2.6 3 -2.2 2 -2.7 2 -3.2 1.8 -3 1.2 -3 1 -4 .8 -4 .5 -4 .1 -4 -.3 -4 -.6 -4 -1 -4 -1.4 -3 -1.4 -3 -1.8 -3 -2.3 -2.6 -2.6 -2.3 -3 -1.9 -3 -1.4 -3 -1.6 -4 -1.1 -4 -.8 -4 -.7 -5 -.2 -5 .2 -5 .5 -4 .8 -4 1.3 -4 1.8 -4 1.8 -3 2.2 -2.9 2.2 -2.1 2.8 -2.1 3 -1.8 4 -1.9 4 -1.4 4 -1.1zM915 837.9l4.5 -.5 4 -.1 4 .2 4 .6 4 .9 4 1.3 3.5 1.6 3.5 2.1 2.5 1.9 2.5 2.4 2.1 2.6 1.9 3 1.6 3 1.5 4 1.1 4 .8 4 .5 5 .1 5 -.3 5 -.6 5 -1.1 5 -1.3 4 -1.7 4 -1.7 3 -1.9 2.7 -2.1 2.3 -2.9 2.5 -3 2 -4 2.1 -4 1.6 -4 1.2 -4 .9 -3 .3 -4 .1 -4 -.4 -4 -.7 -4 -1.2 -4 -1.6 -4 -2.1 -3 -2 -2 -1.7 -2 -2.1 -2 -2.7 -1.8 -3.2 -1.4 -3 -1.5 -4 -1.1 -4 -1 -5 -.6 -5 -.2 -4 .1 -4 .6 -5 1.2 -5 1.2 -4 1.7 -4 1.8 -3.4 2 -3 2 -2.3 2.5 -2.3 2.8 -2 3.7 -2 3 -1.2 4 -1.1z"/><path fill="#ffd000" d="M1034.5 714.9l3 -.3 4 -.1 4 .3 4 .7 4 1 3 1.1 3 1.3 3 1.8 2 1.5 2 1.9 2 2.5 1.4 2.3 1.5 3 1.2 3 .9 3 .9 4 .5 4 .2 5 -.2 4 -.6 5 -1 5 -1.1 4 -1.5 4 -1.5 3 -1.7 2.8 -2 2.6 -2 2 -3 2.4 -3 1.8 -3 1.3 -3 1 -4 .9 -4 .5 -4 .1 -4 -.2 -4 -.7 -4 -1 -3 -1.1 -3 -1.4 -3 -1.8 -2.8 -2.2 -2.2 -2.2 -2 -2.5 -2 -3 -1.6 -3.3 -1.4 -3.5 -1.1 -3.5 -.8 -4 -.6 -4 -.3 -5 .1 -5 .4 -4 .8 -4 1.2 -4 1.3 -3.1 2 -3.5 1.8 -2.4 2.2 -2.3 3 -2.4 3 -1.8 3 -1.4 4 -1.4 4 -1zM914.2 839.9l3.3 -.5 4 -.2 4 0 4 .4 4 .8 3 .8 4 1.6 3 1.5 2.4 1.6 2.6 2.1 2 2.1 2 2.5 1.5 2.3 1.5 3 1.2 3 1.2 4 .8 4 .6 5 .1 5 -.3 5 -.7 5 -.9 4 -1.3 4 -1.7 3.9 -1.7 3.1 -2.2 3 -2.1 2.2 -2.2 1.8 -2.8 1.9 -3 1.5 -4 1.6 -4 1.2 -4 .8 -4 .3 -4 0 -4 -.4 -3 -.5 -4 -1.1 -4 -1.6 -3 -1.6 -3 -2 -2 -1.7 -2 -2.2 -1.6 -2.2 -1.7 -3 -1.4 -3 -1.1 -3 -1.1 -4 -1 -5 -.6 -5 -.1 -5 .2 -4 .7 -5 .9 -4 1.2 -4 1.7 -4 1.9 -3.3 2 -2.7 2 -2.1 3 -2.5 3 -1.8 3 -1.4 4 -1.4z"/><path fill="#ffbb00" d="M1033.5 716.9l3 -.3 4 -.2 4 .2 3 .4 6 1.4 3 1.1 3 1.4 2 1.3 2.2 1.7 2 2 1.8 2.4 1.5 2.6 1.4 3 1 3 .8 3 .7 4 .3 4 .1 4 -.4 5 -.7 5 -.9 4 -1.3 4 -1.5 3.4 -2 3.5 -1.6 2.1 -1.8 2 -2.6 2.3 -3 2 -3 1.4 -3 1.1 -3 .8 -3 .5 -4 .3 -4 -.1 -4 -.5 -3.9 -.8 -3.1 -1 -3 -1.3 -3 -1.7 -2.8 -2 -2.1 -2 -2.1 -2.3 -1.9 -2.7 -1.6 -3 -1.3 -3 -1.2 -3.5 -.9 -3.5 -.6 -4 -.5 -5 0 -4 .3 -4 .6 -4 1.1 -4 1.1 -3 1.5 -3 2 -3 1.8 -2 2.1 -2 2.8 -2 3.7 -1.9 3 -1.2 4 -1.1zM913.8 841.9l3.7 -.6 4 -.2 4 0 3 .3 3.1 .5 3.9 1 3 1.1 3 1.4 2.4 1.5 2.6 2 2 1.9 1.8 2.1 1.4 2 1.7 3 1.3 3 1 3 1 4 .6 4 .2 4 0 4.1 -.4 4.9 -.6 4 -.9 4 -1.4 4 -1.4 3 -1.8 3 -2.2 3 -2.3 2.3 -2.2 1.7 -3.3 2 -3.5 1.6 -3 1 -3 .7 -4 .7 -4 .2 -4 -.1 -4 -.5 -3 -.6 -4 -1.2 -3 -1.3 -2.8 -1.5 -2.2 -1.6 -2 -1.8 -2 -2.3 -1.6 -2.3 -1.7 -3 -1.2 -3 -1 -3 -1 -4 -.8 -5 -.4 -5 0 -5 .5 -5 .7 -4 1.1 -4 1.4 -3.6 1.2 -2.4 1.9 -3 2.5 -3 2.4 -2.1 3 -2.1 3 -1.5 3.4 -1.3z"/><path fill="#ffa700" d="M1032.4 718.9l6.1 -.6 4 0 3 .2 4 .7 2.9 .7 2.8 1 2.3 1 2 1.2 2.4 1.8 2.1 2 1.5 1.8 1.4 2.2 1.6 3 1.6 5 .9 4 .4 4 .1 4 -.1 4 -.6 5 -.9 4 -1.1 4 -1.2 3 -1.6 3 -1.5 2.3 -2 2.4 -2 1.9 -2 1.5 -3 1.8 -3 1.3 -3 1 -3 .6 -4 .4 -4 0 -3 -.2 -4 -.7 -3 -.9 -3 -1.1 -2.5 -1.3 -2.5 -1.6 -2 -1.6 -2 -1.9 -2.3 -2.9 -1.7 -2.6 -1.2 -2.4 -1.2 -3 -1.2 -4 -.9 -4 -.4 -4 -.2 -4 .1 -4 .5 -4 .6 -3 1.3 -4 1.4 -3 1.8 -3 1.6 -2 2 -2 2.8 -2.2 3 -1.7 3 -1.3 3 -.9zM913.9 843.9l3.6 -.6 3 -.2 4 -.1 3 .3 3 .4 3 .7 3 1 3 1.3 2.2 1.2 2.8 2 2 1.8 2 2.2 1.4 2 1.6 2.7 1.1 2.3 1.1 3 1 4 .7 4 .2 4 0 4 -.4 5 -.7 4 -1 4 -1 2.8 -1.5 3.2 -1.5 2.6 -1.8 2.4 -2.2 2.3 -2 1.7 -3 2 -3 1.4 -3 1.1 -3 .8 -4 .6 -3 .3 -4 -.1 -4 -.4 -3 -.5 -3 -.8 -3.5 -1.4 -2.5 -1.3 -2.4 -1.7 -2.3 -2 -1.8 -2 -1.5 -2.2 -1.6 -2.8 -1.3 -3 -1 -3 -1 -4 -.7 -5 -.3 -5 0 -4 .4 -4 .7 -4 .8 -3.3 1.3 -3.7 1.7 -3.3 1.8 -2.7 2.2 -2.5 2 -1.8 3 -2.1 3 -1.6 3 -1.1z"/><path fill="#ff9200" d="M1031.8 720.9l3.7 -.6 3 -.2 6 .2 3 .4 3 .6 2 .6 3 1.2 2 1.1 2.5 1.7 1.5 1.3 2 2.2 1.8 2.5 1.1 2 1.1 2.7 .7 2.3 .7 3 .6 4 .2 4 -.1 4 -.4 4 -.7 4 -1 3.7 -1 2.8 -1.2 2.5 -1.8 3 -2 2.5 -2 2 -2 1.6 -3 1.8 -2.4 1.1 -2.6 .9 -3 .6 -3 .4 -4 .1 -3 -.1 -3 -.5 -3 -.7 -3 -1 -3 -1.5 -2 -1.2 -2.6 -2 -2 -2 -1.7 -2 -1.7 -2.5 -1.3 -2.5 -1.3 -3 -.9 -3 -.7 -3 -.6 -4 -.3 -4 0 -4 .5 -4 .6 -3 .8 -3 1.3 -3 1.7 -3 1.5 -2 1.8 -2 2.4 -2 2.5 -1.6 3 -1.5 3 -1.1zM914.5 845.9l6 -.8 4 0 3 .2 3 .5 3 .8 3 1.1 2.6 1.2 2.4 1.5 2 1.5 2 1.9 1.8 2.1 1.4 2 1.6 3 1.9 5 .7 3 .6 4 .2 4 -.1 4 -.4 4 -.7 3.8 -.8 3.2 -1.2 3.1 -1.4 2.9 -1.6 2.6 -1.9 2.4 -2.1 2.1 -2.4 1.9 -2.6 1.6 -3 1.3 -3 1 -3 .6 -3 .4 -3 .2 -4 -.1 -3 -.4 -3.2 -.6 -2.8 -.8 -3 -1.3 -2 -1.2 -2.4 -1.7 -1.6 -1.4 -2 -2.3 -1.7 -2.3 -1.3 -2.4 -1.2 -2.6 -1 -3 -.9 -4 -.6 -4 -.4 -5 .1 -4 .3 -4 .7 -3.6 .9 -3.4 1.2 -3 1.5 -3 1.4 -2.1 2 -2.4 2.8 -2.5 2.2 -1.5 3 -1.6 3 -1.1z"/><path fill="#ff7d00" d="M1031.9 722.9l5.6 -.8 6 0 3 .4 3 .6 2.6 .8 2.4 1 2 1.2 2 1.4 2 1.8 1.5 1.6 1.4 2 1.2 2 .9 2.1 1 2.9 .7 3 .5 4 .1 3 -.1 4 -.3 3 -.7 4 -.8 3 -1.1 3 -1.3 2.8 -1.4 2.2 -1.6 2.2 -2 2 -2 1.7 -2 1.3 -2 1 -3 1.2 -3 .7 -3 .5 -3 .1 -3 -.1 -3 -.4 -3 -.7 -3 -1 -2 -.9 -4 -2.6 -2 -1.7 -2.1 -2.3 -1.4 -2 -1.5 -2.5 -1.2 -2.5 -1.1 -3 -.8 -3 -.6 -4 -.3 -3 0 -4 .4 -4 .5 -3 .9 -3 1.2 -2.9 1.1 -2.1 1.9 -2.6 2 -2.1 2 -1.7 2.5 -1.6 2.5 -1.3 2 -.7zM915.7 847.9l5.8 -.6 3 0 3 .2 3 .6 3 .8 2.5 1 2.5 1.3 2 1.3 2 1.6 1.8 1.8 1.6 2 1.3 2 1.3 2.4 1.1 2.6 .9 3 .6 3 .4 4 .1 3 -.2 4 -.5 4 -.7 3 -.9 3 -1.2 3 -1.6 2.9 -1.5 2.1 -1.7 2 -2.2 2 -2.6 1.9 -2 1.1 -3 1.2 -2.6 .8 -3.4 .6 -3 .3 -6 -.2 -3 -.5 -3 -.8 -3 -1.1 -2 -1.1 -2 -1.3 -2 -1.7 -2 -2.1 -1.6 -2.1 -2.4 -4.4 -1 -2.6 -.9 -3 -.6 -3 -.5 -4 -.1 -4 .1 -4 .3 -3 .7 -3.4 1 -3.3 1 -2.4 1.6 -2.9 1.4 -2 2 -2.3 2 -1.7 2 -1.5 3 -1.6 3 -1.1z"/><path fill="#ff6800" d="M1032.7 724.9l4.8 -.7 3 -.1 3 .1 5 .9 2.7 .8 2.3 1 2 1.2 2 1.5 3 3.1 1.5 2.2 1.1 2 1.5 4 .7 3 .4 3 .1 6 -.8 6 -.7 3 -1.1 3 -1.4 3 -1.2 2 -1.5 2 -1.8 2 -1.8 1.5 -2.2 1.5 -2 1 -2.8 1.1 -5 1 -3 .1 -3 -.1 -5 -.9 -3 -1 -2 -1 -2 -1.2 -2.6 -2 -2 -2 -1.4 -1.7 -2.6 -4.3 -1.8 -5 -.7 -3 -.5 -3 -.2 -4 .1 -3 .3 -3 .6 -3 .8 -2.4 1 -2.3 1.3 -2.3 1.5 -2 3.2 -3.2 2 -1.4 2.5 -1.4 2.5 -1.1zM917.9 849.9l5.6 -.3 5 .5 5 1.4 3 1.3 2 1.3 3.4 2.8 1.7 2 1.4 2 1.5 2.7 1 2.3 1.3 5 .4 3 .2 3 -.1 4 -.4 3 -.5 3 -.9 3 -1 2.7 -1.1 2.3 -1.3 2 -1.6 2.1 -2 2.1 -2 1.6 -2 1.3 -3 1.5 -2 .7 -3 .8 -3 .4 -3 .1 -3 -.2 -2.9 -.4 -3.1 -.8 -2 -.8 -4 -2.2 -2 -1.5 -1.7 -1.7 -1.7 -2 -1.3 -2 -1.3 -2.5 -1 -2.5 -1.3 -5 -.5 -3 -.2 -4 0 -4 .3 -3 .6 -3 .9 -3 1.2 -3 1 -1.9 1.4 -2.1 1.7 -2 1.9 -1.7 2 -1.5 2 -1.2 3 -1.3 3 -.9z"/><path fill="#ff5300" d="M1034.4 726.9l5.1 -.6 5 .3 4 .9 4 1.6 2 1.2 2 1.6 2.7 3 1.2 2 1 2 1.4 4 .7 5 0 6 -.4 3 -.7 3 -1.8 5 -2.4 4 -1.7 2.1 -2 1.8 -2 1.4 -2 1.1 -4 1.4 -2 .4 -3 .3 -5 -.2 -2 -.4 -3 -.9 -4 -1.9 -2 -1.4 -1.9 -1.7 -2.5 -3 -2.3 -4 -1.7 -5 -.9 -5 -.1 -3 .1 -3 .8 -5 1 -3 .9 -2 1.2 -2 1.6 -2 1.8 -1.8 1.5 -1.2 2.5 -1.6 2 -.9 2 -.7zM915.6 852.9l4.9 -.8 5 .1 3 .4 2 .5 4.4 1.8 3.6 2.4 3 3.1 2.3 3.5 1 2 1.1 3 .7 3 .3 3 -.1 6 -.3 3 -.7 3 -.9 3 -.9 2 -1 2 -1.5 2.2 -2 2.2 -1.7 1.6 -2.3 1.6 -2 1.1 -4 1.4 -5 .8 -5 -.1 -3 -.5 -2 -.6 -4 -1.7 -2 -1.3 -2 -1.7 -2.6 -3 -2.3 -4 -1.5 -4 -.7 -3 -.5 -3 -.2 -6 .3 -3 .5 -3 .9 -3 .8 -2 2.4 -4 1.9 -2.3 1.9 -1.7 2.1 -1.4 2 -1.1z"/><path fill="#ff3e00" d="M1038.4 728.9l5.1 .1 4 .9 4 1.7 3 2.1 1.3 1.2 1.6 2 1.7 3 1.3 4 .7 4 0 5 -.7 5 -.9 2.9 -.9 2.1 -2.1 3.7 -1 1.3 -2 2 -3 2.1 -2 1 -2 .7 -4 .7 -3 .1 -2 -.1 -4 -.9 -3.7 -1.6 -3.3 -2.3 -3 -3.3 -2.1 -3.4 -.9 -2.1 -.9 -2.9 -.8 -5 0 -5 .7 -4 1.5 -4 1.1 -2 1.4 -1.9 3 -2.9 1.9 -1.2 1.9 -1 4.2 -1.4zM919.9 854.9l4.6 -.1 4 .6 4.1 1.5 1.9 1 2 1.4 3 3 2.3 3.6 1.6 4 .8 4 .2 5 -.6 5 -1.5 5 -2.1 4 -2.7 3.3 -3.4 2.7 -1.8 1 -2.5 1 -4.3 1 -2 .1 -3 -.1 -4 -.7 -4 -1.6 -3 -1.9 -3 -3 -1.3 -1.8 -1.1 -2 -1.6 -4 -1 -5 -.3 -5 .5 -5 .8 -3 .7 -2 1 -2 1.3 -2 2.7 -3 3.3 -2.4 4 -1.7z"/><path fill="#ff2a00" d="M1037 731.9l3.5 -.2 4 .4 4 1.2 2.8 1.6 2.3 2 2.2 3 1.4 3 1 4 .3 4 -.4 4 -1 4 -1.8 4 -2.2 3 -2.6 2.3 -3 1.6 -4 1.2 -4 .3 -3.1 -.4 -3.9 -1.3 -3 -1.8 -3 -2.8 -2 -2.9 -1.5 -3.2 -1 -4 -.4 -4 .3 -4 1 -4 1.6 -3.2 2.3 -2.8 2.7 -2.2 3.6 -1.8zM920.6 857.9l3.9 0 4 .7 3.2 1.3 3 2 2.8 2.9 1.9 3.1 1.2 3 .7 4 .1 4 -.7 5 -1.3 4 -1.9 3.4 -1.3 1.6 -1.7 1.7 -3 2.1 -3 1.2 -4 .8 -4 0 -4 -.9 -3 -1.3 -3 -2.2 -1.4 -1.4 -1.5 -2 -1.6 -3 -1.3 -4 -.6 -4 0 -4 .5 -4 1.4 -4 1.8 -3 2.7 -2.9 3 -2 3 -1.3z"/><path fill="#ff1500" d="M1034.8 735.9l3.7 -.8 3 -.1 3 .5 3 1.1 2 1.3 2.2 2 1.4 2 1.3 3 .6 3 .2 4 -.6 4 -1.1 3 -1.8 3 -1.9 2 -2.3 1.7 -3 1.2 -3 .6 -3 -.1 -2.2 -.4 -2.8 -1.1 -2.8 -1.9 -1.9 -2 -1.4 -2 -1.3 -3 -.8 -3 -.2 -4 .3 -3 .9 -3 1.7 -3 1.8 -2 2.7 -2zM918.6 861.9l2.9 -.5 3 .1 3 .6 3 1.3 2.2 1.5 1.9 2 1.8 3 1.1 3 .5 3 -.1 4 -.8 4 -1.2 3 -2 3 -2.1 2 -2.3 1.5 -3 1.1 -3 .5 -3 -.2 -3 -.7 -3 -1.5 -2.1 -1.7 -1.9 -2.2 -1.5 -2.8 -1 -3 -.6 -4 .1 -3.9 .7 -3.1 1.2 -3 2.1 -2.9 2 -1.8 2.3 -1.3z"/><path fill="#ff0000" d="M1036.9 739.9l2.6 -.5 2 .1 2 .4 2 .8 1.8 1.2 1.2 1.3 1.1 1.7 .8 2 .5 2 0 3 -.3 2 -.7 2 -1.1 2 -1.3 1.6 -2 1.5 -2 .9 -2 .5 -2 0 -2 -.3 -2 -.8 -2 -1.4 -1 -1 -1.4 -2 -.9 -2 -.5 -2 -.2 -3 .3 -2 .7 -2.2 1 -1.8 1.8 -2 1.4 -1zM918.3 866.9l2.2 -.7 2 -.2 2 .1 2.6 .8 1.8 1 1.6 1.3 1.3 1.7 1 2 .6 2 .2 3 -.2 2 -.8 3 -1.1 2.2 -1.4 1.8 -1.6 1.3 -2 1.1 -2 .6 -2 .1 -2 -.3 -2.4 -.8 -1.7 -1 -1.9 -1.9 -1 -1.5 -1 -2.3 -.6 -2.3 -.2 -2 .3 -3 .5 -2 1 -2 1 -1.3 1.9 -1.7z"/><path fill="#00ff0b" d="M773.5 610.9l203.9 0 2.1 52.2 .9 41.8 .3 62 0 35 -.3 9 -.3 2 -.6 1 -1 .6 -3 .5 -18 .3 -87 -.1 -97 -.6zM1132.6 816.9l57.9 -.5 0 211.5 -207.3 0 -.7 -54 -.3 -58 .4 -85 .3 -9 .2 -2 .4 -1 1 -.9 2 -.5 8 -.3z"/><path fill="#00ff22" d="M913.9 668.9l5.6 -.4 5 -.1 6 .2 5 .4 5 .6 4 .7 4 1 4 1.3 4 1.6 3 1.7 3 2 2 1.7 2 2 2 2.5 2 3.3 1.6 3.5 2 6 1.4 6.6 1.2 8.4 1 11 .6 9 .4 13 .1 14 -.1 13 -.4 10 -.4 8 -.6 6 -.9 5 -.9 3 -1 2 -.7 1 -2.2 2 -2.1 1.1 -2.8 .9 -3.2 .7 -9 1 -14 .6 -18 .3 -15 -.2 -12 -.5 -15 -1.4 -10.7 -1.5 -6.3 -1.3 -5.5 -1.7 -4.8 -2 -4.7 -2.8 -3.7 -3.2 -2.6 -3 -2.6 -4 -2.4 -5 -1.4 -4 -1 -4 -.9 -5 -.6 -5 -.3 -5 -.1 -6 .2 -6 .6 -5 1.6 -9 1.3 -5 1.7 -5 1.5 -4 2.3 -5 2.7 -5 2.4 -4 2.7 -4 3.1 -4 3.4 -4 3.9 -4 3.3 -3 3.9 -3.3 4 -2.9 5 -3.3 4 -2.2 5 -2.5 5 -2.2 4 -1.4 5 -1.5 5 -1.2 5 -1zM1015.1 819.9l12.4 -.5 14 -.1 14 .2 11 .5 9 .7 15 1.8 8 1.4 6 1.5 6 2.1 4.9 2.4 4.4 3 3.4 3 3.3 4 2.6 4 2.3 5 1.8 5 1.1 4 1 5 .7 5 .6 6 .2 6 .1 6 -.2 5 -.5 6 -1.6 10 -2.4 10 -3.5 10 -2.1 5 -2.3 5 -5.1 9 -5.7 8.1 -3.1 3.9 -3.6 4 -3.3 3.4 -4 3.7 -4 3.3 -4 3 -8 5.1 -5 2.6 -5 2.3 -5 1.9 -4 1.3 -7 1.7 -6 1 -6 .6 -7 .2 -7 -.3 -6 -.8 -6 -1.3 -5 -1.7 -4 -1.8 -4 -2.4 -4 -3.2 -3 -3.2 -3 -4.1 -2 -3.6 -2 -4.7 -1.6 -5 -2.1 -9 -1.5 -10 -2 -21 -.7 -12 -.4 -21 .3 -23 .7 -18 .6 -6 .7 -5 1.2 -5 1.5 -3 1.8 -2 2.5 -1.6 3 -1.1 5 -1.1 6 -.7z"/><path fill="#00ff39" d="M910.7 679.9l4.8 -.6 5 -.3 5 0 5 .2 4 .5 5 .9 4 .9 5 1.7 4 1.7 3 1.6 3 2 3 2.5 2.8 2.9 2.2 3 1.8 3 1.4 3 1.9 5 1.9 7.4 1.5 7.6 .9 7 .7 10 .4 11 0 12 -.3 11 -.5 8 -.7 6 -1 5.7 -1.2 4.3 -1.3 3 -2.1 3 -2.3 2 -3.1 1.6 -5 1.5 -8 1.4 -10 .8 -13 .5 -13 0 -11 -.5 -9 -.8 -8.4 -1.5 -8.7 -2 -6.4 -2 -4.7 -2 -4.8 -2.8 -4 -3.2 -3.7 -4 -3.3 -5 -2.5 -5 -1.1 -3 -1.2 -4 -.9 -4 -.6 -4 -.6 -8 .4 -9 1.1 -8 2 -8 2.7 -7 1.7 -3.6 2 -3.4 5.3 -8 5.7 -7 6 -6 7 -5.6 9 -5.9 7 -3.7 4 -1.7 4 -1.3 4 -1zM1021.5 821.9l11 -.5 11 -.1 11 .3 10 .8 7 1 10 2.2 8.2 2.3 5.4 2 5.4 2.8 4.7 3.2 4.3 4 3 3.6 3.4 5.4 2.4 5 2.2 6 1.5 6 1.2 7 .5 8 -.1 8 -.6 7 -1.2 7 -2 7 -2.3 5.7 -3 5.4 -9 13.5 -6 8.2 -5 5.7 -6.7 6.5 -11.7 10 -3.6 2.8 -3 2 -3 1.6 -4 1.8 -4 1.3 -5 1.3 -6 .9 -6 .4 -6 -.2 -5 -.6 -6 -1.3 -5 -1.6 -5 -2.4 -4 -2.5 -4 -3.1 -3 -3 -3 -3.8 -2.9 -4.6 -2.1 -4.3 -2 -5.3 -1.5 -5.4 -1.5 -6.3 -2.4 -12.7 -1 -7 -.8 -11 -.3 -13 .1 -16 .7 -15 1 -11 .7 -4.2 1 -4.5 1.5 -4.3 1.7 -3 1.8 -2 1 -.9 3 -1.8 4 -1.5 5 -1.2 6 -.9z"/><path fill="#00ff4f" d="M919.1 685.9l4.4 -.1 5 .2 4 .5 5 1 5 1.5 4 1.5 4 2 3 1.8 3 2.2 3 2.7 2.5 2.7 2.2 3 2.3 3.7 1.6 3.3 1.7 4 1.7 4.8 1.4 5.2 1.1 6 .8 8 .5 9 .2 10 -.2 9 -.7 9 -.8 7 -1 5 -1.2 4 -1.2 3 -1.9 3.2 -2 2.3 -3 2.4 -3 1.6 -3 1.1 -6 1.5 -8 1.2 -9 .7 -10 .3 -10 -.2 -10 -.6 -7 -1 -6.4 -1.5 -7.6 -2.7 -6 -2.7 -5 -2.8 -2.6 -1.8 -2.4 -2 -4 -4 -3.6 -5 -2.7 -5 -2.4 -6 -1.5 -6 -.9 -7 -.1 -6 .6 -7 1.4 -7 1.9 -6 2.7 -6 3.1 -5 5.5 -6.7 7.9 -8.3 12 -11 6.2 -5 2.9 -1.8 3 -1.5 6 -2.3 7 -1.7zM1023 823.9l10.5 -.7 10 -.1 10 .4 9 1 6 1.1 4.4 1.3 7.5 3 6.3 3 5.1 3 4.7 3.5 4 3.8 3.8 4.7 3.2 5 2.9 6 2.4 7 1.4 6 .8 6 .2 5 -.1 6 -.8 6 -1 5 -1.6 5 -2.2 5 -2.4 4 -3.9 5 -12 13 -18.4 21 -4.3 4.3 -4 3.1 -5 2.8 -5 1.9 -6 1.5 -6 .6 -5 0 -5 -.6 -5 -1.2 -5 -1.7 -5 -2.5 -4 -2.6 -4 -3.3 -3 -3 -3 -3.6 -3 -4.6 -2.2 -4.1 -2.8 -6.6 -2.6 -7.4 -2.2 -7 -1.2 -5.5 -1 -7.5 -.7 -10 -.3 -11 .2 -12 .6 -10 1 -9 1.2 -7 1.8 -6 1.8 -4 2 -3 3.1 -3 3.1 -2 4.2 -1.8 4 -1.2 6 -1.2z"/><path fill="#00ff66" d="M913.6 691.9l3.9 -.6 5 -.2 4 .1 5 .6 4 .8 5 1.5 4 1.6 4 2.1 4 2.6 3 2.3 3 2.9 2 2.3 2.2 3 2.8 4.4 2.4 4.6 1.7 4 1.6 5 1.2 6 .8 7 .6 8 .2 8 -.2 8 -.6 8 -1 7 -1.1 5 -1.3 4 -1.4 3 -1.9 3.2 -2.4 2.8 -2.6 2.2 -3 1.9 -4 1.7 -5 1.5 -7 1.2 -8 .9 -9 .4 -9 -.1 -8 -.6 -7 -.9 -6 -1.4 -3 -1.1 -3 -1.3 -6.3 -3.4 -5.7 -3.7 -4.2 -3.3 -3.9 -4 -3.1 -4 -2.9 -5 -2.2 -5 -1.6 -5 -1.1 -6 -.4 -6 .4 -6 .8 -5 1.6 -6 2.4 -6 2.7 -5 2.9 -4 3.6 -4 18 -18 4 -3.6 4 -2.8 5 -2.6 5 -1.8zM1036.2 824.9l8.3 0 9 .6 7 .9 6 1.4 5 1.8 4.4 2.3 6.4 4 5.6 4 4.6 4 3.6 4 3.6 5 2.8 5 2.6 6 1.9 6 1.2 6 .5 6 0 4 -.4 5 -.9 5 -1.1 4 -2 5 -2 4 -2.5 4 -2.4 3 -2.9 3.1 -7.3 6.9 -3.7 3.9 -4 4.7 -8.1 10.4 -2.9 3.1 -3 2.7 -5 3.5 -3 1.6 -3 1.3 -3 1 -3 .8 -3 .5 -4 .3 -5 -.1 -5 -.9 -5 -1.5 -4 -1.8 -5 -2.8 -4 -3 -4 -3.7 -3.4 -4 -3.6 -5.2 -3 -5.2 -4 -8.1 -2.7 -6.5 -1.3 -4.8 -1 -5.5 -.8 -6.7 -.5 -8 -.2 -9 .3 -9 .6 -9 .9 -7 1.1 -6 1.6 -5.6 1.8 -4.4 2.2 -3.7 2.8 -3.3 3.2 -2.6 4 -2.3 4 -1.5 5 -1.4 6 -1.1 7 -.7z"/><path fill="#00ff7c" d="M916.4 695.9l4.1 -.4 4 0 4 .3 4 .7 4 1 5 1.8 4 1.9 3 1.7 4 2.9 3 2.6 3 3.1 2.7 3.4 2.8 4 2.3 4 1.4 3 1.5 4 1.3 5.5 1 6.3 .7 7.2 .2 7 0 7 -.5 7 -.8 6 -1.2 6 -1.2 4 -1.7 4 -1.7 3 -2.3 3 -2.5 2.4 -3 2.2 -4 2 -4 1.4 -6 1.5 -7 1.1 -7 .6 -8 .1 -8 -.3 -7 -.8 -6 -1.2 -5 -1.6 -4 -1.9 -5.6 -3.5 -5.2 -4 -5.4 -5 -3.4 -4 -2.6 -4 -2.6 -5 -1.8 -5 -1.2 -5 -.7 -5 0 -5 .7 -6 1.3 -6 1.8 -5 2.4 -5 2.5 -4 2.2 -3 2.8 -3 7.8 -7.8 8 -8.5 4 -3.5 4 -2.7 5 -2.5 5 -1.7zM1031.8 826.9l6.7 -.3 7 .1 7 .5 6 1 5 1.2 4.3 1.5 3.9 2 4.4 3 6.3 5 5.3 5 3.6 4 3.6 5 3.2 6 2.4 6 1.7 6 1.1 7 .2 4 -.2 4 -.5 4 -1.2 5 -1.7 5 -1.8 4 -2.4 4 -2.1 3 -3.6 4 -9.5 9.1 -3.4 3.9 -7.6 9.8 -2 2.2 -3 2.7 -5 3.6 -5 2.5 -5 1.8 -3 .6 -3 .5 -5 .1 -4 -.5 -4 -1 -5 -1.8 -4 -2 -4 -2.6 -3.7 -2.9 -3.3 -3.3 -4 -4.8 -3.5 -4.9 -4.5 -7.2 -3 -5.7 -1.5 -4.1 -1.1 -4 -1.1 -6 -.7 -6 -.5 -8 0 -8 .3 -8 .8 -8 1.1 -7 1.5 -6 1.7 -5 2 -4 2.5 -3.6 3 -3.1 3 -2.3 3.6 -2 4.4 -1.8 5 -1.4 6 -1.1z"/><path fill="#00ff93" d="M915.5 699.9l4 -.5 4 -.2 4 .3 4 .7 4 1 4 1.4 4 1.8 3 1.6 4 2.7 3 2.5 3 2.9 3 3.3 3 4 2 3.2 1.6 3.3 1.5 4 1.3 5 1.1 6 .7 7 .3 7 -.2 7 -.5 6 -1 6 -1.2 5 -1.3 4 -1.9 4 -1.9 3 -2.5 3 -3 2.6 -3 1.9 -4 2 -4 1.3 -6 1.5 -6 .9 -7 .6 -7 0 -7 -.4 -6 -.8 -6 -1.3 -5 -1.8 -4 -2.1 -4.7 -3.4 -5.7 -5 -3.8 -4 -3.1 -4 -2.5 -4 -2 -4 -1.8 -5 -1.1 -4 -.6 -5 -.1 -5 .6 -5 1 -5 1.7 -5 2.3 -5 2.3 -4 2.9 -4 2.7 -3 11.9 -12.6 3 -2.9 2 -1.6 4 -2.7 5 -2.5 4 -1.5zM1030 828.9l6.5 -.5 6 -.1 6 .4 6 .7 5 1.1 5 1.6 3.9 1.8 3.2 2 4.8 4 6.1 6 4.3 5 3.6 5 2.8 5 2.6 6 1.8 6 1 6 .3 4 -.1 4 -.6 5 -1 4 -1.3 4 -1.7 4 -2.3 4 -2.7 4 -3.5 4 -8.2 8.1 -10 11.9 -2 2 -3 2.6 -4 2.7 -5 2.6 -5 1.7 -5 .9 -4 .1 -4 -.3 -4 -.9 -5 -1.8 -4 -2.1 -4 -2.6 -4 -3.2 -3 -2.9 -4 -4.5 -4 -5.1 -3.7 -5.2 -2.3 -4 -1.7 -4 -1.2 -4 -1 -5 -.9 -6 -.5 -7 -.2 -7 .4 -8 .6 -7 1.1 -7 1.4 -5.6 1.8 -5.4 2 -4 2.2 -3.5 3 -3.4 3 -2.5 3 -1.9 4 -2 5 -1.7 5 -1.1z"/><path fill="#00ffaa" d="M918.6 702.9l3.9 -.2 4 .1 4 .6 4 1 4 1.4 4 1.8 4 2.2 4 2.8 3 2.5 3.8 3.8 2.6 3 2.2 3 1.7 3 1.7 4 1.3 4 .9 4 1 6 .6 6 .2 6 -.2 6 -.6 6 -1.1 6 -1.5 5 -1.6 4 -2 3.8 -2 2.8 -2.3 2.4 -2.7 2.3 -3 1.9 -4 1.9 -4 1.4 -5 1.2 -6 1 -6 .6 -6 .1 -6 -.3 -6 -.8 -5 -1 -5 -1.6 -3.6 -1.7 -3.4 -2.2 -4.5 -3.8 -3.9 -4 -4.1 -5 -2.7 -4 -2.7 -5 -1.6 -4 -1.4 -5 -.6 -4 -.2 -5 .5 -5 1 -5 1.6 -5 1.8 -4 2.7 -5 2.8 -4 4.2 -5 7.1 -7.7 4 -3.7 3 -2.3 4 -2.5 5 -2.3 5 -1.6zM1029 830.9l5.5 -.7 6 -.2 6 .3 5.3 .6 5 1 4.7 1.4 4 1.7 4 2.4 4.2 3.5 4.7 5 4.8 6 3.3 5 2.8 5 2.2 5 1.6 5 1.3 6 .4 5 -.1 4 -.7 5 -.9 4 -1.4 4 -1.9 4 -2.3 4 -2.8 4 -2.5 3 -6.7 7.2 -7 7.8 -3 3 -3 2.5 -4 2.9 -5 2.7 -4 1.5 -5 1.1 -4 .3 -4 -.2 -4 -.9 -4 -1.3 -4 -1.9 -4 -2.4 -4 -2.9 -3 -2.6 -4 -4 -4 -4.4 -3 -3.6 -2.5 -3.8 -2 -4 -1.4 -4 -1.2 -5 -.9 -5 -.7 -6 -.3 -7 .2 -7 .6 -7 .9 -6 1.3 -6 1.6 -5 2.2 -5 2.2 -3.7 2.7 -3.3 3.2 -3 2.9 -2 3.7 -2 4.5 -1.8 4.4 -1.2z"/><path fill="#00ffc0" d="M920.7 705.9l4.8 0 4 .5 4 1 5 1.7 4 1.9 4 2.3 4 2.8 4 3.4 3 3 2 2.5 2 3 1.9 3.9 1.5 4 1.1 4 .9 5 .7 5 .3 6 0 5 -.4 5.5 -.8 5.5 -1.2 5 -1.8 5 -2 4 -1.9 3 -2.3 2.6 -2.6 2.4 -2.8 2 -3.7 2 -3.9 1.6 -5 1.4 -5 1 -5 .6 -6 .3 -5 -.1 -5 -.5 -5 -.8 -4 -1.1 -4.1 -1.4 -3.9 -2 -3 -2 -3.3 -3 -3.6 -4 -3.8 -5 -2.5 -4 -2.1 -4 -2 -5 -1.3 -5 -.6 -4 -.1 -4 .5 -5 1.1 -5 1.3 -4 2.1 -5 2.2 -4 2.5 -4 3.9 -5 3.7 -4.2 4 -3.9 3 -2.5 4 -2.7 4 -2.1 5 -1.9 5 -1.2zM1036.3 831.9l5.2 -.1 5 .3 5 .6 5 1.1 4 1.3 4 1.8 3 1.8 3 2.4 3.7 3.8 3.9 5 4 6 2.8 5 2.3 5 2.1 6 1.1 5 .6 5 0 4 -.4 4 -.8 4 -1.6 5 -2.2 5 -2.3 4 -2.7 4 -3.2 4 -5.3 5.8 -5 5.1 -4 3.5 -4 3 -4 2.3 -5 2.2 -5 1.3 -4 .5 -4 -.1 -5 -1 -4 -1.4 -5 -2.4 -4 -2.5 -5 -3.8 -5 -4.5 -4 -4.1 -2.3 -2.9 -2 -3 -1.4 -3 -1.5 -4 -1.2 -4 -1 -5 -.6 -5 -.4 -5 0 -6 .3 -6 .7 -6 1.1 -6 1.3 -5 1.8 -5 1.9 -4 2.3 -3.5 3 -3.5 3 -2.6 3 -2.1 4 -2 4 -1.5 5 -1.4 5 -.9z"/><path fill="#00ffd7" d="M920 708.9l4.5 -.1 4 .4 5 1.2 4 1.3 4 1.8 4 2.2 4 2.7 4 3.2 2.3 2.3 2.5 3 1.9 3 1.5 3 1.6 4 1.1 4 .9 4 .7 5 .4 6 0 5 -.4 5 -.8 5 -1.3 5 -1.4 4 -1.9 4 -1.9 3 -2.5 3 -2.7 2.5 -3 2.1 -3 1.7 -4 1.7 -4 1.2 -5 1.2 -5 .7 -5 .3 -5 -.1 -5 -.4 -4 -.7 -4 -1 -4 -1.3 -4 -1.9 -3 -1.9 -3 -2.6 -3.1 -3.5 -3.6 -5 -2.5 -4 -2.4 -5 -1.6 -4 -1.1 -4 -.6 -4 -.2 -4 .3 -5 1 -5 1.2 -4 1.9 -5 2.1 -4 3 -5 2.9 -4 3.5 -4 3.2 -2.9 3 -2.4 4 -2.5 4 -2 4 -1.5 4 -1.1zM1034.1 833.9l4.4 -.3 5 0 5 .5 5 1 4 1.1 4.2 1.7 3.8 2.1 3 2.2 3.6 3.7 3 4 3.8 6 2.7 5 2.2 5 1.7 5 1.3 5 .7 5 .1 4 -.3 4 -1 5 -1.2 4 -2 5 -2.1 4 -3.2 5 -2.9 4 -3.4 3.8 -4 3.8 -5 3.9 -4 2.7 -4 2.2 -4 1.6 -4 1.1 -4 .6 -4 .1 -4 -.6 -4 -1.1 -4 -1.6 -4 -2.1 -5 -3.2 -5 -3.8 -4 -3.5 -2.7 -2.9 -2.2 -3 -1.7 -3 -1.3 -3 -1.4 -4 -1 -4 -.7 -4 -.6 -5 -.3 -6 .1 -5 .5 -6 .9 -6 1.2 -5 1.5 -5 1.7 -4 2.3 -4 2.1 -3 2.8 -3 2.8 -2.3 4 -2.5 4 -1.9 4 -1.4 5 -1.2z"/><path fill="#00ffee" d="M917.7 711.9l3.8 -.4 4 .1 4 .6 4 .9 4 1.4 4 1.7 4 2.2 4 2.7 3 2.4 2.4 2.4 1.7 2 2 3 1.5 3 1.6 4 1.2 4 .9 4 .7 5 .3 5 0 5 -.4 5 -.9 5 -1.1 4 -1.4 4 -2 4 -2 3 -2.5 2.9 -2.3 2.1 -2.7 2 -3 1.7 -4 1.8 -4 1.3 -5 1.1 -5 .7 -5 .3 -4 -.1 -5 -.5 -5 -1 -4 -1.2 -4 -1.6 -3 -1.6 -3 -2.2 -2.7 -2.7 -2.5 -3 -2.6 -4 -2.7 -5 -1.8 -4 -1.4 -4 -.9 -4 -.6 -4 -.1 -4 .5 -5 1.1 -5 1.2 -4 2 -5 2.6 -5 2.4 -4 2.3 -3 2.8 -3 3.4 -2.8 3 -2.1 4 -2.2 4 -1.8 4 -1.2zM1033 835.9l4.5 -.5 5 0 5 .5 5 .9 4 1.2 4 1.6 4 2.2 2.7 2.1 3 3 2.4 3 2.5 4 3.2 6 2.1 5 1.8 5 1.3 5 .8 5 .2 4 -.2 4 -.6 4 -1.3 5 -1.8 5 -2.4 5 -2.3 4 -2.8 4 -2.6 3 -3 2.8 -4 3 -4 2.6 -4 2.1 -4 1.7 -4 1.2 -4 .7 -4 .2 -4 -.4 -4 -1 -4 -1.4 -4 -1.9 -5 -2.8 -4 -2.7 -4 -3.2 -2 -1.9 -2.5 -3 -1.9 -3 -1.5 -3 -1.2 -3 -1.2 -4 -.9 -4 -.7 -5 -.4 -6 0 -5 .4 -5 .8 -6 1.1 -5 1.6 -5 1.6 -4 2.2 -4 2.1 -3 2.5 -2.7 3 -2.7 3 -2 4 -2.1 3.9 -1.5 4.1 -1.2z"/><path fill="#00fbff" d="M915.1 714.9l3.4 -.6 4 -.3 3 .1 4 .6 4 .9 4 1.4 4 1.7 4 2.1 3 2 2.7 2.1 2.3 2.3 2 2.4 1.5 2.3 1.6 3 1.2 3 1.3 4 1 4 .7 5 .4 5 0 5 -.5 5 -.7 4 -1.1 4 -1.4 4 -1.5 3 -1.9 3 -2.4 3 -2.2 2.1 -3 2.3 -3 1.8 -4 1.8 -4 1.3 -4 1 -5 .7 -5 .3 -5 -.2 -5 -.6 -4 -.9 -4 -1.3 -4 -1.8 -3 -1.8 -2.2 -1.7 -2 -2 -2.4 -3 -2.6 -4 -2 -4 -1.7 -4 -1.3 -4 -1.1 -5 -.4 -4 .1 -4 .5 -5 1.1 -5 1.6 -5 2.1 -5 2.1 -4 2 -3 2.2 -2.8 2.3 -2.2 2.7 -2.1 4 -2.5 4 -2 4 -1.5zM1032.2 837.9l4.3 -.5 5 -.2 5 .4 4 .7 4 1 4 1.5 3.9 2.1 3.1 2.2 3 2.8 2 2.5 2.3 3.5 2.2 4 2.2 5 1.8 5 1.4 5 .9 5 .4 4 0 4 -.6 5 -.8 4 -1.2 4 -1.9 5 -2.5 5 -2.4 4 -2.5 3 -2.3 2.3 -3 2.3 -4 2.5 -4 2.1 -4 1.7 -4 1.2 -4 .8 -4 .3 -3 -.1 -4 -.7 -4 -1.1 -5 -2 -4 -1.9 -4 -2.4 -4 -2.9 -2.3 -2.1 -1.8 -2 -2.2 -3 -1.6 -3 -1.3 -3 -1.3 -4 -1 -4 -.7 -4 -.4 -5 -.1 -5 .2 -5 .6 -5 1 -5 1.4 -5 1.5 -4.1 2 -4 2 -3.2 2.2 -2.7 2.8 -2.7 3 -2.3 3 -1.8 4 -1.8 4 -1.3z"/><path fill="#00e7ff" d="M916.7 716.9l3.8 -.4 4 -.1 3 .3 4 .7 4 1.1 4 1.5 4 1.9 3 1.8 3 2.2 2 1.9 1.9 2.1 1.4 2 1.8 3 1.4 3 1.1 3 1.1 4 .7 4 .6 5 .1 5 -.2 4 -.7 5 -.9 4 -1.3 3.8 -1.4 3.2 -1.8 3 -1.8 2.5 -2.3 2.5 -2.7 2.2 -3 2 -3 1.5 -4 1.6 -4 1.1 -4 .7 -5 .5 -4 .1 -5 -.4 -4 -.6 -4 -1.1 -4 -1.5 -3 -1.5 -2.4 -1.6 -2.6 -2.2 -2.5 -2.8 -2.1 -3 -1.6 -3 -1.8 -4 -1.4 -4 -1.1 -4 -.6 -4 -.3 -4 .1 -4 .6 -5 1.1 -5 1.3 -4 2 -5 2.2 -4 2 -3 2.1 -2.3 2 -1.8 3 -2.2 3 -1.7 4 -1.8 4 -1.3zM1031.8 839.9l4.7 -.7 4 -.1 5 .3 4 .6 4 1 4 1.5 3 1.5 3 2 3 2.6 2.1 2.3 2.1 3 2.2 4 1.8 4 1.4 4 1.5 5 1 5 .6 5 .1 4 -.3 4 -.8 5 -1.3 5 -1.4 4 -1.8 4 -2.2 4 -2 2.7 -2.1 2.3 -2.9 2.4 -3 1.9 -4 2.1 -3 1.3 -4 1.3 -4 .9 -4 .5 -3 .1 -4 -.4 -4 -.8 -4 -1.2 -4 -1.6 -4 -1.9 -4 -2.5 -2.7 -2.1 -2 -2 -1.7 -2 -1.9 -3 -1.6 -3 -1.2 -3 -1.2 -4 -.9 -4 -.6 -5 -.3 -5 .1 -5 .5 -5 .9 -5 1.2 -5 1.5 -4 1.8 -4 1.9 -3 2.3 -3 2.9 -3 2.6 -2 3.2 -2 3.2 -1.5 4 -1.4z"/><path fill="#00d4ff" d="M917.6 718.9l3.9 -.3 3 0 3 .2 4 .7 4 1 3 1.1 4 1.8 3 1.8 2.4 1.7 2.2 2 1.8 2 2.1 3 1.6 3 1.3 3 1 3 1 4 .6 4 .4 5 .1 4 -.3 4 -.7 4 -1 4 -1.4 4 -1.5 3 -1.6 2.5 -2 2.6 -2 2 -3 2.4 -3 1.8 -3.6 1.7 -3.4 1.1 -4 1 -4 .6 -4 .3 -4 0 -4 -.3 -4 -.7 -4 -1.1 -3 -1.2 -3.3 -1.7 -2.7 -1.9 -2.4 -2.1 -1.8 -2 -2 -3 -1.6 -3 -1.7 -4 -1 -3 -1 -4 -.7 -5 -.1 -4 .1 -4 .7 -5 .9 -4 1.2 -4 1.6 -4 2.1 -4 1.7 -2.6 2.1 -2.4 2.9 -2.4 3 -2 3 -1.5 4 -1.5 4 -1.1zM1031.6 841.9l3.9 -.6 4 -.3 4 .1 4 .5 4 .8 4 1.4 3 1.3 3 1.8 2.5 2 2.5 2.4 2 2.6 1.9 3 1.5 3 1.6 4 1.3 4 1 4 .8 5 .4 4 .1 4 -.4 5 -.8 5 -1 4 -1.8 5 -1.9 4 -1.8 3 -1.9 2.4 -2 1.9 -3 2.3 -3 1.7 -4 1.8 -4 1.4 -3 .7 -4 .6 -4 .3 -4 -.2 -3 -.5 -4 -.9 -4 -1.3 -4 -1.7 -3 -1.6 -2.8 -1.9 -2.4 -2 -1.9 -2 -1.9 -2.6 -1.9 -3.4 -1.3 -3 -1.1 -3 -1 -4 -.6 -4 -.5 -5 0 -5 .3 -5 .8 -5 1.2 -5 1.3 -4 1.8 -4 2 -3.5 2 -2.6 2.7 -2.9 2.4 -2 3.1 -2 3.8 -1.8 3.2 -1.2z"/><path fill="#00c1ff" d="M917.7 720.9l3.8 -.3 3 0 3 .2 4 .7 4 1 3 1.1 3 1.3 3 1.8 2 1.4 2 1.8 2 2.2 2 2.8 1.6 3 1.3 3 1.7 6 .7 4 .4 5 0 4 -.3 4 -.6 4 -.8 3.1 -1.4 3.9 -1.5 3 -1.9 3 -1.7 2 -2 2 -2.5 2 -3 1.9 -3 1.4 -3 1.1 -4 1 -4 .7 -4 .3 -4 -.1 -4 -.3 -4 -.7 -3 -.9 -3 -1.1 -3 -1.6 -2.6 -1.7 -2.3 -2 -1.9 -2 -1.4 -2 -1.8 -3 -1.3 -3 -1.1 -3 -1 -4 -.7 -4 -.3 -4 0 -4 .4 -5 .9 -5 1.1 -4 1.6 -4 1.5 -3 1.9 -3 2 -2.4 2 -1.8 3 -2.1 3 -1.6 4 -1.5 4 -1.1zM1031.6 843.9l3.9 -.6 3 -.3 4 0 4 .4 4 .8 3 .9 3 1.2 3 1.7 2.7 1.9 2.3 2.1 2 2.2 1.8 2.7 1.7 3 1.3 3 1 3 1.1 4 .9 4 .6 5 .2 4 -.1 5 -.6 5 -.8 4 -1.2 4 -1.6 4 -1.5 3 -1.8 2.6 -2 2.3 -2 1.8 -3 2 -3 1.6 -3 1.2 -4 1.2 -3 .6 -4 .5 -4 .1 -4 -.3 -4 -.6 -4 -1.1 -4 -1.5 -3 -1.4 -3 -1.9 -2 -1.6 -2 -1.9 -2 -2.5 -1.9 -3.1 -1.1 -2.2 -1.1 -2.8 -1.2 -4 -.8 -4 -.5 -5 -.1 -5 .3 -5 .6 -5 .9 -4 1.3 -4 1.6 -3.9 1.7 -3.1 2 -3 2.3 -2.6 2.8 -2.4 2.9 -2 3.3 -1.7 3.4 -1.3z"/><path fill="#00adff" d="M917.2 722.9l6.3 -.4 4 .3 3 .4 4 1 3 1 3 1.3 2.4 1.4 2.6 1.9 2 1.8 2 2.3 1.4 2 1.6 2.9 .9 2.1 1.1 3 .8 3 .7 4 .4 4 .1 4 -.2 4 -.6 4 -.8 3 -1 3 -1.3 3 -1.8 3 -1.5 2 -1.8 2 -3 2.5 -3 1.8 -3 1.5 -3 1 -3 .8 -3 .6 -4 .4 -3 .1 -4 -.2 -4 -.6 -3 -.7 -3 -1 -3 -1.4 -2.9 -1.8 -2.1 -1.6 -2 -2 -1.8 -2.4 -1.8 -3 -1.3 -3 -1 -3 -.8 -3 -.7 -4 -.3 -4 .1 -4 .4 -5 .7 -4 1 -4 1.5 -4 1.5 -3 1.5 -2.3 2.2 -2.7 2.3 -2 2.5 -1.8 3 -1.5 3 -1.2 3 -.8zM1032 845.9l3.5 -.6 3 -.2 3 -.1 4 .3 3 .5 3 .8 3 1.1 3 1.4 2.7 1.8 2.3 1.9 2 2.1 1.6 2 1.4 2.2 1.4 2.8 1.2 3 1.3 4 .9 4 .6 4 .3 4 .1 5 -.3 4 -.6 4 -.9 4 -1.3 4 -1.3 3 -1.4 2.5 -1.8 2.5 -2.2 2.3 -2.1 1.7 -3.3 2 -3.6 1.6 -3 .9 -3 .7 -4 .5 -4 .2 -4 -.1 -4 -.6 -3 -.6 -4 -1.3 -3 -1.3 -3 -1.8 -2 -1.5 -2 -1.8 -2 -2.3 -1.7 -2.6 -1.6 -3 -1.2 -3 -.9 -3 -.9 -4 -.5 -5 -.2 -5 .2 -4 .7 -5 .8 -4 1.3 -4 1.2 -3 1.5 -3 2 -3 2.3 -2.7 2.5 -2.3 2.9 -2 3.6 -1.9 3 -1.2z"/><path fill="#009aff" d="M916.7 724.9l3.8 -.4 3 0 6 .5 3 .6 3 .9 3 1.2 2 1 2 1.3 2.4 1.9 2 2 1.6 2 1.3 2 1.5 3 1.8 5 .7 3 .6 4 .2 4 0 4 -.4 4 -.6 3 -.9 3 -1.2 3 -1.7 3 -1.4 2 -1.9 2.2 -2 1.8 -2.8 2 -2.2 1.2 -3 1.3 -3 1 -3 .7 -4 .5 -3 .1 -4 -.1 -6 -.9 -3 -.8 -3 -1.3 -2 -1 -2.5 -1.7 -2.3 -2 -1.7 -2 -1.5 -2.1 -1.6 -2.9 -1.2 -3 -.9 -3 -.8 -4 -.4 -4 0 -4 .2 -4 .5 -4 .9 -4 1 -3 1.3 -3.1 1.7 -2.9 1.4 -2 1.9 -2 3 -2.5 3 -1.7 3 -1.3 3 -.9zM1032.8 847.9l3.7 -.6 3 -.2 6 .4 3 .5 3 .8 2.8 1.1 2.2 1.1 2 1.3 2.1 1.6 2.1 2 1.8 2.2 1.8 2.8 1.2 2.4 1.1 2.6 1.2 4 .9 4 .5 4 .3 4 0 4 -.3 4 -.6 4 -.9 4 -1.2 3.5 -1.2 2.5 -1.8 3 -2 2.5 -2 1.9 -2.1 1.6 -2.9 1.7 -3 1.2 -3 .9 -3 .7 -4 .4 -4 .1 -3 -.1 -4 -.6 -3 -.7 -3 -1 -3 -1.3 -2.3 -1.3 -2.7 -2 -2 -2 -1.7 -2 -1.3 -2 -1.6 -3 -1.3 -3 -.8 -3 -.8 -4 -.5 -4 -.1 -5 .2 -4 .5 -4 .8 -4 1.3 -4 1.3 -3.2 1.5 -2.8 2.1 -3 2.4 -2.7 2 -1.7 3 -2.1 3 -1.5 3 -1.1z"/><path fill="#0087ff" d="M916.6 726.9l5.9 -.5 3 .1 3.5 .4 5.5 1.4 3 1.2 2 1.1 2 1.3 2 1.6 3.1 3.4 1.3 2 1.6 2.9 1.8 5.1 .7 3 .5 4 .2 4 0 3 -.3 3 -.6 3 -.9 3 -1.2 3 -1.2 2.3 -1.9 2.7 -1.8 2 -2.3 2 -2 1.4 -3 1.6 -5 1.8 -3 .6 -3 .4 -3 .2 -4 -.2 -3 -.3 -3 -.7 -2.7 -.8 -2.3 -1 -2 -1 -2.8 -2 -3.2 -3.2 -1.9 -2.8 -1.1 -2 -1.9 -5 -.6 -3 -.6 -4 -.1 -4 .2 -4 .5 -4 .8 -4 1 -3 1.3 -3 1.4 -2.4 2 -2.6 1.9 -2 2.1 -1.7 2.1 -1.3 2.9 -1.3 3 -1zM1034.2 849.9l3.3 -.4 3 -.1 3 .1 3 .4 5 1.3 3 1.3 2 1.1 2 1.5 2 1.7 1.9 2.1 1.4 2 1.7 2.9 1 2.1 1.1 3 .8 3 .8 4 .4 4 .1 4 -.1 4 -.5 4 -.5 3 -.8 3 -1.2 3 -1.1 2.3 -1.8 2.7 -1.6 2 -2.2 2 -2.4 1.8 -2.2 1.2 -2.8 1.2 -3 .9 -6 .9 -4 .1 -3 -.2 -3 -.4 -3 -.6 -3 -1 -3 -1.4 -4 -2.6 -2.1 -1.9 -1.9 -2.3 -1.8 -2.7 -1.2 -2.3 -1.1 -2.7 -.9 -3.1 -.7 -3.9 -.4 -4 -.1 -4 .2 -4 .6 -4 .9 -4 1 -3 1.5 -3.5 2 -3.4 1.6 -2.1 1.9 -2 2.5 -2.1 2 -1.3 3 -1.6 3 -1.1z"/><path fill="#0074ff" d="M917.3 728.9l5.2 -.4 3 .1 3 .3 5 1.3 3 1.3 2 1.1 2 1.3 2 1.8 2.8 3.2 2.3 4 .9 2.1 1 3.1 1 5.8 .2 4 -.1 3 -.3 3 -.6 3 -1 3 -.9 2 -2.4 4 -1.9 2.2 -2 1.8 -2 1.5 -2.7 1.5 -2.4 1 -2.9 .9 -3 .6 -3 .4 -3 .1 -3 -.2 -5 -.8 -3 -.9 -2.4 -1.1 -2.6 -1.5 -1.9 -1.5 -3.1 -3.3 -1.7 -2.7 -1 -2 -1.7 -5 -.6 -3 -.4 -4 0 -3 .3 -4 1.1 -6 1 -3 1.4 -3 1.2 -2 1.5 -2 1.9 -2 2.5 -2 2.5 -1.5 2 -.9 3 -1zM1036.7 851.9l2.8 -.2 3 .1 3 .3 3 .6 3 1 2 1 2 1.1 2 1.5 2 1.8 1.5 1.8 1.5 2 1.7 3 1.9 5 1.3 6 .3 3 .2 4 -.2 4 -.3 3 -.6 3 -.8 3 -1.2 3 -1.3 2.5 -1 1.5 -2 2.4 -2 1.9 -2.3 1.7 -1.7 1 -3 1.3 -3 .9 -3 .5 -6 .4 -3 -.2 -3 -.5 -3 -.7 -3 -1.1 -2 -1 -2.5 -1.6 -3.5 -3.2 -2 -2.5 -1.4 -2.3 -1 -2 -1.1 -3 -.8 -3 -.5 -3 -.3 -3 -.1 -4 .3 -4 .4 -3 .7 -3 .9 -3 1.2 -3 1.7 -3.2 2 -2.8 1.9 -2 2.1 -1.8 2 -1.4 2 -1.1 3 -1.3 3 -.9z"/><path fill="#0060ff" d="M919.1 730.9l5.4 -.2 5 .7 2 .5 3 1.2 4 2.3 3 2.6 1.6 1.9 1.4 2 1.1 2 1.2 3 1.2 5 .6 6 -.4 5 -1.1 5 -1.3 3 -1.1 2 -1.4 2 -1.8 2 -2 1.7 -1.9 1.3 -4.1 2 -5 1.4 -5 .5 -3 -.1 -3 -.4 -2.1 -.4 -2.9 -.9 -4 -2 -2 -1.4 -1.8 -1.7 -1.7 -2 -1.3 -2 -1.9 -4 -1.3 -5 -.3 -3 -.1 -3 .2 -4 .4 -3 1.3 -5 1.3 -3 1.2 -2 1.4 -2 1.6 -1.8 2 -1.7 2 -1.4 2.2 -1.1 2.6 -1zM1034 854.9l2.5 -.5 3 -.2 5 .3 2.3 .4 2.7 .8 4 1.9 2 1.3 2 1.7 3 3.6 1 1.7 1.5 3 1.7 5 1 6 .1 3 -.1 4 -.4 4 -.6 3 -1 3 -.9 2 -2.4 4 -1.9 2.2 -2 1.7 -2 1.4 -2 1.1 -2 .8 -3 .9 -5 .7 -3 .1 -3 -.2 -5 -1.1 -3 -1.1 -2 -1.1 -2 -1.3 -2 -1.6 -3.1 -3.5 -2.2 -4 -.8 -2 -.9 -3 -.6 -3 -.3 -3 -.1 -4 .2 -3 .4 -3 .6 -3 .9 -3 1.3 -3 2.6 -4.3 2 -2.3 2 -1.8 2 -1.5 2 -1.1 3 -1.3z"/><path fill="#004dff" d="M916.3 733.9l4.2 -.7 5 0 4 .7 4 1.5 2 1.1 2 1.3 3 2.9 2.3 3.2 1.8 4 1.2 5 .5 5 -.4 5 -.4 2 -1 3 -2.1 4 -1.5 2 -1.4 1.5 -2 1.6 -2 1.3 -4 1.8 -2.8 .8 -2.2 .4 -5 .2 -5 -.7 -4 -1.3 -2 -1 -2 -1.4 -3 -2.8 -2.3 -3.4 -1.7 -4 -1.1 -5 -.2 -5 .3 -3 .5 -3 .5 -2.2 1 -2.8 2.2 -4 1.8 -2.3 1.8 -1.7 3.2 -2.2 2 -.9zM1038.9 856.9l4.6 .2 3 .5 2 .6 2 .8 2 1.1 2 1.4 1.5 1.4 1.8 2 1.4 2 2.1 4 1.5 5 .7 5 0 6 -.7 5 -.9 3 -.8 2 -1 2 -1.3 2 -1.7 2 -1.6 1.5 -2 1.5 -1.8 1 -4.2 1.6 -5 .8 -5 0 -2.5 -.4 -2.5 -.6 -4 -1.7 -2 -1.2 -1.9 -1.5 -2.8 -3 -1.3 -2 -1.1 -2 -.9 -2.2 -.8 -2.8 -.8 -5 0 -6 .8 -5 .8 -3 1 -2.5 1.3 -2.5 1.3 -2 1.6 -2 1.8 -1.7 2 -1.6 2 -1.2 4 -1.6 3 -.7z"/><path fill="#003aff" d="M920.1 735.9l4.4 -.1 4 .6 4 1.5 3.2 2 2.8 2.7 2.3 3.3 1.7 4 .9 4 .3 5 -.4 4 -1.2 4 -1.6 3.1 -1.4 1.9 -1.6 1.7 -3 2.3 -2 1.1 -2 .8 -4 .9 -2 .3 -3 0 -4 -.6 -4 -1.3 -3 -1.7 -2.8 -2.5 -2.2 -3 -1 -2 -.8 -2 -.9 -4 -.2 -5 .6 -5 1.3 -4.3 2 -3.7 2.5 -3 1.5 -1.3 2 -1.3 3.1 -1.4zM1038.1 859.9l4.4 0 4 .8 2 .7 2 .9 2 1.3 1.5 1.3 2.6 3 2.3 4 1.3 4 .9 5 .1 5 -.7 5 -1.3 4 -1 2 -1.2 2 -2.7 3 -1.8 1.4 -2 1.2 -4 1.5 -4 .7 -3 .1 -2 -.2 -4 -.8 -4 -1.8 -3 -2.1 -2.8 -3 -1.2 -1.9 -1 -1.9 -1.4 -4.2 -.6 -4 -.1 -5 .7 -5 1.4 -4.4 2 -3.7 1.4 -1.9 1.6 -1.7 3 -2.4 2 -1.1 2 -.8 2 -.6z"/><path fill="#0027ff" d="M920.2 738.9l3.3 -.2 4 .6 3 1 3 1.8 2.1 1.8 2.3 3 1.5 3 1.1 4 .4 4 -.3 4 -.8 3 -1.4 3 -2.3 3 -2.6 2.2 -3 1.6 -4 1.2 -4 .3 -3.2 -.3 -3.8 -1 -3 -1.6 -2 -1.6 -2.3 -2.8 -1.7 -3.3 -1 -3.7 -.3 -4 .4 -4 1 -4 .9 -2 1 -1.8 2 -2.5 3 -2.4 3 -1.4zM1034.9 863.9l3.6 -.7 4 0 4 .9 3 1.4 3 2.4 2 2.3 2 3.6 1.1 3.1 .7 4 .1 5 -.6 4 -1.3 4 -2 3.3 -2.6 2.7 -3.1 2 -3.3 1.2 -3 .6 -4 0 -4 -.8 -3 -1.2 -2.6 -1.8 -2.4 -2.4 -2 -3.1 -1.4 -3.5 -.8 -4 -.1 -5 .6 -4 1.4 -4 1.6 -3 2.7 -3.2 3 -2.3z"/><path fill="#0013ff" d="M918.4 742.9l3.1 -.6 3 0 3 .7 2.2 .9 2.8 1.9 1.8 2.1 1.3 2 1.2 3 .6 3 .1 3 -.4 3 -1 3 -1.6 2.6 -2 2.1 -2 1.4 -3 1.2 -3 .6 -3 .1 -3 -.6 -3 -1.2 -2 -1.3 -2 -2 -1.3 -1.9 -1.2 -3 -.6 -3 .1 -4 .6 -3 1.1 -3 1.3 -2.1 2 -2.2 2 -1.5zM1035.1 867.9l3.4 -.9 3 0 3 .5 3 1.3 2 1.4 2 2 1.7 2.7 1.2 3 .6 3 .2 4 -.5 4 -1.1 3 -1.1 2.1 -2 2.4 -2 1.6 -3 1.4 -3 .7 -3 .2 -3 -.5 -3 -1.1 -2.6 -1.8 -1.9 -2 -1.5 -2.3 -1.1 -2.7 -.7 -3 -.2 -4 .4 -3 .8 -3 1.8 -3.5 2 -2.5 2 -1.6z"/><path fill="#0000ff" d="M922.1 746.9l2.4 .1 2 .5 2 1.1 1.5 1.3 1.5 1.9 1 2.1 .5 2 .2 2 -.1 2 -.5 2 -.9 2 -1.2 1.5 -1.7 1.5 -1.3 .7 -2 .7 -2 .3 -2 0 -2 -.5 -2 -.8 -1.9 -1.4 -1.1 -1.3 -1 -1.7 -.7 -2 -.3 -2 .1 -2 .4 -2 .6 -2 1.2 -2 1.7 -1.8 1.9 -1.2 2.1 -.8zM1036 872.9l2.5 -.8 2 -.2 2 .3 2 .6 1.9 1.1 1.1 1 1.6 2 1 2 .6 2 .3 3 -.3 3 -.6 2 -1 2 -1.6 1.9 -1.3 1.1 -1.9 1 -1.8 .5 -2 .2 -2 -.1 -2.1 -.6 -1.8 -1 -1.2 -1 -1.7 -2 -1 -2 -.5 -2 -.4 -3 .2 -2 .5 -2.3 1 -2.3 1 -1.5 1.9 -1.9z"/></g>
<path fill="#000" fill-rule="evenodd" d="M775.50 612.90h412.20v412.10h-412.20zM778.02 615.52h407.06v406.28h-407.06z"/>
<path d="M776.80 1024.50v11.65M776.00 1023.50h-11.65M832.13 1024.50v6.32M776.00 968.07h-6.32M887.46 1024.50v11.65M776.00 912.65h-11.65M942.79 1024.50v6.32M776.00 857.22h-6.32M998.12 1024.50v11.65M776.00 801.79h-11.65M1053.44 1024.50v6.32M776.00 746.36h-6.32M1108.77 1024.50v11.65M776.00 690.94h-11.65M1164.10 1024.50v6.32M776.00 635.51h-6.32" stroke="#000" stroke-width="2.72" fill="none"/>
<text x="776.8" y="1059.9" font-size="20.85" font-weight="bold" text-anchor="middle" fill="#000">0.0</text>
<text x="754.2" y="1029.0" font-size="20.85" font-weight="bold" text-anchor="end" fill="#000">0.0</text>
<text x="887.5" y="1059.9" font-size="20.85" font-weight="bold" text-anchor="middle" fill="#000">2.0n</text>
<text x="754.2" y="918.1" font-size="20.85" font-weight="bold" text-anchor="end" fill="#000">2.0n</text>
<text x="998.1" y="1059.9" font-size="20.85" font-weight="bold" text-anchor="middle" fill="#000">4.0n</text>
<text x="754.2" y="807.3" font-size="20.85" font-weight="bold" text-anchor="end" fill="#000">4.0n</text>
<text x="1108.8" y="1059.9" font-size="20.85" font-weight="bold" text-anchor="middle" fill="#000">6.0n</text>
<text x="754.2" y="696.4" font-size="20.85" font-weight="bold" text-anchor="end" fill="#000">6.0n</text>
<text x="981.6" y="1097.2" font-size="20.85" font-weight="bold" text-anchor="middle" fill="#000">Electron position (m)</text>
<text x="695.5" y="817.5" font-size="20.85" font-weight="bold" text-anchor="middle" fill="#000" transform="rotate(-90 695.5 817.5)">Hole position (m)</text>
<text x="801.0" y="653.9" font-size="29.60" font-weight="bold" text-anchor="start" fill="#fff">0.0 V/cm</text>
<text x="750.0" y="644.3" font-size="30.35" stroke="#000" stroke-width="1.05" text-anchor="middle" font-family="'Noto Serif CJK SC', 'Noto Sans CJK SC', 'DejaVu Sans', serif" fill="#000">⑤</text>
<rect x="1194.70" y="1006.43" width="29.40" height="8.45" fill="#0000ff"/><rect x="1194.70" y="998.58" width="29.40" height="8.45" fill="#0013ff"/><rect x="1194.70" y="990.73" width="29.40" height="8.45" fill="#0027ff"/><rect x="1194.70" y="982.89" width="29.40" height="8.45" fill="#003aff"/><rect x="1194.70" y="975.04" width="29.40" height="8.45" fill="#004dff"/><rect x="1194.70" y="967.19" width="29.40" height="8.45" fill="#0060ff"/><rect x="1194.70" y="959.34" width="29.40" height="8.45" fill="#0074ff"/><rect x="1194.70" y="951.49" width="29.40" height="8.45" fill="#0087ff"/><rect x="1194.70" y="943.64" width="29.40" height="8.45" fill="#009aff"/><rect x="1194.70" y="935.79" width="29.40" height="8.45" fill="#00adff"/><rect x="1194.70" y="927.94" width="29.40" height="8.45" fill="#00c1ff"/><rect x="1194.70" y="920.09" width="29.40" height="8.45" fill="#00d4ff"/><rect x="1194.70" y="912.24" width="29.40" height="8.45" fill="#00e7ff"/><rect x="1194.70" y="904.39" width="29.40" height="8.45" fill="#00fbff"/><rect x="1194.70" y="896.54" width="29.40" height="8.45" fill="#00ffee"/><rect x="1194.70" y="888.69" width="29.40" height="8.45" fill="#00ffd7"/><rect x="1194.70" y="880.84" width="29.40" height="8.45" fill="#00ffc0"/><rect x="1194.70" y="873.00" width="29.40" height="8.45" fill="#00ffaa"/><rect x="1194.70" y="865.15" width="29.40" height="8.45" fill="#00ff93"/><rect x="1194.70" y="857.30" width="29.40" height="8.45" fill="#00ff7c"/><rect x="1194.70" y="849.45" width="29.40" height="8.45" fill="#00ff66"/><rect x="1194.70" y="841.60" width="29.40" height="8.45" fill="#00ff4f"/><rect x="1194.70" y="833.75" width="29.40" height="8.45" fill="#00ff39"/><rect x="1194.70" y="825.90" width="29.40" height="8.45" fill="#00ff22"/><rect x="1194.70" y="818.05" width="29.40" height="8.45" fill="#00ff0b"/><rect x="1194.70" y="810.20" width="29.40" height="8.45" fill="#0aff00"/><rect x="1194.70" y="802.35" width="29.40" height="8.45" fill="#1fff00"/><rect x="1194.70" y="794.50" width="29.40" height="8.45" fill="#34ff00"/><rect x="1194.70" y="786.65" width="29.40" height="8.45" fill="#49ff00"/><rect x="1194.70" y="778.80" width="29.40" height="8.45" fill="#5eff00"/><rect x="1194.70" y="770.95" width="29.40" height="8.45" fill="#72ff00"/><rect x="1194.70" y="763.10" width="29.40" height="8.45" fill="#87ff00"/><rect x="1194.70" y="755.26" width="29.40" height="8.45" fill="#9cff00"/><rect x="1194.70" y="747.41" width="29.40" height="8.45" fill="#b1ff00"/><rect x="1194.70" y="739.56" width="29.40" height="8.45" fill="#c6ff00"/><rect x="1194.70" y="731.71" width="29.40" height="8.45" fill="#dbff00"/><rect x="1194.70" y="723.86" width="29.40" height="8.45" fill="#efff00"/><rect x="1194.70" y="716.01" width="29.40" height="8.45" fill="#fffa00"/><rect x="1194.70" y="708.16" width="29.40" height="8.45" fill="#ffe500"/><rect x="1194.70" y="700.31" width="29.40" height="8.45" fill="#ffd000"/><rect x="1194.70" y="692.46" width="29.40" height="8.45" fill="#ffbb00"/><rect x="1194.70" y="684.61" width="29.40" height="8.45" fill="#ffa700"/><rect x="1194.70" y="676.76" width="29.40" height="8.45" fill="#ff9200"/><rect x="1194.70" y="668.91" width="29.40" height="8.45" fill="#ff7d00"/><rect x="1194.70" y="661.06" width="29.40" height="8.45" fill="#ff6800"/><rect x="1194.70" y="653.21" width="29.40" height="8.45" fill="#ff5300"/><rect x="1194.70" y="645.37" width="29.40" height="8.45" fill="#ff3e00"/><rect x="1194.70" y="637.52" width="29.40" height="8.45" fill="#ff2a00"/><rect x="1194.70" y="629.67" width="29.40" height="8.45" fill="#ff1500"/><rect x="1194.70" y="621.82" width="29.40" height="8.45" fill="#ff0000"/><rect x="1194.70" y="1014.58" width="29.40" height="9.02" fill="#000"/><rect x="1194.70" y="613.10" width="29.40" height="9.02" fill="#fff"/>
<rect x="1195.30" y="613.70" width="28.20" height="409.30" fill="none" stroke="#111" stroke-width="1.20"/>
<text x="1237.0" y="627.8" font-size="17.94" font-weight="normal" text-anchor="start" fill="#111" textLength="43.1" lengthAdjust="spacingAndGlyphs">0.444</text>
<text x="1237.0" y="677.0" font-size="17.94" font-weight="normal" text-anchor="start" fill="#111" textLength="43.1" lengthAdjust="spacingAndGlyphs">0.333</text>
<text x="1237.0" y="726.2" font-size="17.94" font-weight="normal" text-anchor="start" fill="#111" textLength="43.1" lengthAdjust="spacingAndGlyphs">0.222</text>
<text x="1237.0" y="775.3" font-size="17.94" font-weight="normal" text-anchor="start" fill="#111" textLength="43.1" lengthAdjust="spacingAndGlyphs">0.111</text>
<text x="1237.0" y="824.5" font-size="17.94" font-weight="normal" text-anchor="start" fill="#111" textLength="33.5" lengthAdjust="spacingAndGlyphs">0.00</text>
<text x="1237.0" y="873.6" font-size="17.94" font-weight="normal" text-anchor="start" fill="#111" textLength="48.8" lengthAdjust="spacingAndGlyphs">-0.111</text>
<text x="1237.0" y="922.8" font-size="17.94" font-weight="normal" text-anchor="start" fill="#111" textLength="48.8" lengthAdjust="spacingAndGlyphs">-0.222</text>
<text x="1237.0" y="971.9" font-size="17.94" font-weight="normal" text-anchor="start" fill="#111" textLength="48.8" lengthAdjust="spacingAndGlyphs">-0.333</text>
<text x="1237.0" y="1021.1" font-size="17.94" font-weight="normal" text-anchor="start" fill="#111" textLength="48.8" lengthAdjust="spacingAndGlyphs">-0.444</text>
<path d="M1223.60 621.72h5.82M1223.60 670.88h5.82M1223.60 720.03h5.82M1223.60 769.19h5.82M1223.60 818.35h5.82M1223.60 867.51h5.82M1223.60 916.67h5.82M1223.60 965.82h5.82M1223.60 1014.98h5.82" stroke="#1a1a1a" stroke-width="1.45" fill="none"/></g>
<!-- panel b1 -->
<g><clipPath id="cb1"><rect x="142.0" y="1167.8" width="424.5" height="424.5"/></clipPath><g clip-path="url(#cb1)" fill-rule="evenodd" shape-rendering="geometricPrecision"><rect x="142.0" y="1167.8" width="424.5" height="424.5" fill="#0000ff"/><path fill="#0013ff" d="M353.9 1231.8l7.1 -.5 7 0 6 .3 7 .8 6 1.2 7 1.7 7 2.3 7 2.8 6 2.8 7 3.9 7 4.4 6 4.4 6 4.9 6 5.4 5.5 5.6 5.3 6 4.9 6 5.1 7 4.6 7 4.2 7 3.9 7 3.9 8 3.9 9 3.2 8 3.1 9 2.7 9 2.3 9 1.7 8 1.9 10 1.3 9 .9 9 .7 9 .3 9 0 8 -.2 7 -.6 7 -1 7 -1.3 7 -1.6 7 -2 7 -2.3 7 -2.8 7 -2.7 6 -3.1 6 -3.4 6 -3.8 6 -4.3 6 -4.7 6 -4.6 5.3 -5 5.1 -5 4.7 -6 5.1 -6 4.5 -6 4.1 -6 3.6 -6 3.2 -6 2.9 -7 2.9 -6 2.1 -7 2.1 -7 1.7 -7 1.3 -7 1 -7 .6 -7 .2 -7 -.1 -8 -.6 -7 -.8 -7 -1.2 -6 -1.3 -7 -1.8 -7 -2.2 -6 -2.1 -7 -3 -6 -2.8 -7 -3.8 -7 -4.2 -6 -4.2 -5 -3.7 -6 -5 -5 -4.6 -5 -5.1 -4.4 -4.9 -4.9 -6 -4.4 -6 -3.9 -6 -3.5 -6 -3.2 -6 -3.2 -7 -2.8 -7 -2 -6 -2.1 -7 -1.8 -8 -1.1 -6 -1 -7 -.5 -7 -.3 -8 .2 -10 .5 -9 .9 -10 1.2 -9 1.8 -10 1.9 -9 2 -8 2.4 -8 2.6 -8 3 -8 3.9 -9 3.3 -7 4.2 -8 4 -7 4.5 -7 5 -7 5.4 -7 5.2 -6 5.1 -5.4 6 -5.7 6 -5.2 6 -4.6 6 -4.2 7 -4.3 6 -3.2 7 -3.3 7 -2.8 7 -2.2 7 -1.8 7 -1.4z"/><path fill="#0027ff" d="M350.8 1248.8l6.2 -.6 7 -.2 7 .1 6 .5 6 .8 6 1.2 7 1.8 6 2 6 2.4 6 2.9 5 2.7 6 3.8 6 4.3 5 4.1 5 4.5 4.7 4.7 4.5 5 4.9 6 4.4 6 4 6 4.2 7 3.8 7 2.9 6 3.1 7 3.1 8 2.8 8 2.1 7 2.1 8 1.8 8 1.7 9 1.4 9 .9 8 1 15 .2 8 -.1 7 -.4 6 -.7 7 -.9 6 -1.2 6 -1.7 7 -1.8 6 -2.1 6 -2.5 6 -2.9 6 -2.7 5 -3 5 -4.2 6 -4.4 5.8 -4.5 5.2 -4.5 4.8 -5 4.7 -5 4.3 -5 3.8 -6 4.1 -5 3 -5 2.7 -6 2.9 -6 2.4 -6 2.1 -6 1.7 -7 1.7 -7 1.2 -7 .9 -7 .5 -7 .2 -8 -.1 -7 -.3 -7 -.7 -7 -.9 -7 -1.3 -6 -1.4 -7 -1.9 -6 -2 -6 -2.3 -6 -2.7 -6 -3.1 -5 -2.8 -6 -3.9 -5 -3.6 -5 -4 -5 -4.4 -4.7 -4.6 -4.5 -5 -4.2 -5 -4.4 -6 -3.9 -6 -2.9 -5 -3.1 -6 -2.6 -6 -2.3 -6 -2 -6 -1.6 -6 -1.4 -6 -1 -6 -.9 -7 -.5 -7 -.1 -8 .2 -10 .6 -9 .9 -8 1.2 -9 1.7 -9 2 -9 2.1 -8 2.8 -9 2.1 -6 3.2 -8 3.1 -7 3.4 -7 3.9 -7 4.3 -7 4.8 -7 4.6 -6 4.2 -5 5 -5.4 5 -4.9 6 -5.2 5 -3.9 6 -4.2 6 -3.7 6 -3.2 6 -2.8 6 -2.4 6 -2 7 -1.9 7 -1.4z"/><path fill="#003aff" d="M356.4 1258.8l6.6 -.2 6 0 6 .3 6 .6 6 .9 6 1.3 6 1.7 5 1.7 5 2.1 5 2.3 5 2.8 5 3.1 5 3.6 5 4.1 5 4.6 4 4.1 4.5 5 4 5 4.3 6 3.9 6 3.5 6 3.2 6 2.9 6 3 7 2.3 6 2.7 8 2 7 2.1 8 1.7 8 1.3 7 1.2 8 .9 8 1 15 .1 14 -.3 6 -.5 6 -.8 6 -1.1 6 -1.3 6 -1.4 5 -1.6 5 -2.3 6 -2.2 5 -2.5 5 -2.9 5 -3.3 5 -3.8 5 -4.6 5.5 -4.2 4.5 -4.8 4.6 -5 4.4 -5 3.8 -5 3.4 -5 3.1 -5 2.6 -5 2.4 -5 2 -6 2 -6 1.6 -6 1.4 -6 1 -7 .8 -7 .6 -8 .2 -8 0 -8 -.2 -7 -.5 -7 -.7 -7 -1 -6 -1.2 -6 -1.4 -6 -1.7 -6 -2.1 -6 -2.4 -5 -2.3 -5 -2.7 -5 -2.9 -5 -3.4 -5 -3.7 -4 -3.4 -4.6 -4.3 -4.4 -4.5 -4 -4.6 -3.9 -4.9 -3.5 -5 -3.1 -5 -3.2 -6 -2.7 -6 -1.9 -5 -2 -6 -1.4 -5 -1.6 -7 -1.1 -6 -.8 -7 -.5 -7 -.2 -8 .3 -9 .5 -9 .9 -9 1.3 -9 1.5 -8 2 -9 2.1 -8 2.5 -8 2.5 -7 2.8 -7 3.2 -7 3.6 -7 4 -7 4.5 -7 4.2 -5.8 4.2 -5.2 4.8 -5.4 5 -5 5 -4.5 5 -4 5 -3.5 6 -3.7 6 -3.3 6 -2.7 6 -2.4 6 -1.9 7 -1.8 6 -1.2 7 -1z"/><path fill="#004dff" d="M355.2 1266.8l6.8 -.3 6 0 6 .3 6 .5 6 .7 5 1 5 1.2 5 1.4 5 1.8 5 2.2 5 2.5 4 2.3 5 3.3 4 3 4 3.4 4 3.7 4 4.2 4.2 4.8 3.9 5 3.6 5 3.8 6 2.9 5 3.1 6 2.8 6 2.9 7 2.3 6 4 13 3.3 14 2.4 14 1.5 14 .7 15 -.2 13 -.4 6 -.7 6 -.7 5 -1.2 6 -1.5 6 -1.9 6 -1.8 5 -2.2 5 -2.5 5 -2.3 4 -3 4.6 -3.4 4.4 -4.3 5 -4.3 4.5 -4 3.8 -5 4.2 -4 3.1 -5 3.4 -4 2.5 -5 2.7 -5 2.3 -5 2 -6 1.9 -5 1.3 -5 1.1 -6 1 -7 .8 -7 .5 -16 .4 -16 -.6 -7 -.5 -7 -.9 -6 -1 -6 -1.2 -6 -1.6 -6 -1.9 -5 -1.8 -5 -2.1 -5 -2.5 -5 -2.8 -5 -3.2 -4 -2.9 -5 -4 -4 -3.6 -4 -4 -4.4 -4.9 -3.6 -4.4 -3.2 -4.6 -3 -5 -2.6 -5 -2.3 -5 -1.9 -5 -1.7 -5 -1.7 -6 -1.3 -6 -1 -6 -.8 -7 -.5 -8 -.1 -8 .2 -9 .7 -9 .9 -9 1.2 -8 1.7 -9 1.8 -8 2.2 -8 2.9 -9 2.6 -7 3 -7 3.4 -7 3.9 -7 3.7 -6 3.9 -5.7 4.1 -5.3 4.3 -5 4.8 -5 4.8 -4.4 5 -4.1 5 -3.6 6 -3.7 5 -2.7 6 -2.8 6 -2.4 6 -1.9 7 -1.7 6 -1.2 7 -.9z"/><path fill="#0060ff" d="M348.7 1273.8l12.3 -.7 12 .1 11 1 5 .8 5 1 5 1.3 4 1.3 5 1.9 4 1.8 4 2.1 4 2.3 4 2.7 4 3.1 4 3.4 4 3.9 3.8 4 3.4 4 3.1 4 3.5 5 3.2 5 2.9 5 2.6 5 2.8 6 4.4 11 3.9 12 3.5 14 2.5 14 1 7 .8 8 .7 14 -.1 14 -.4 6 -.6 6 -.8 5 -1.2 6 -1.2 5 -1.5 5 -1.7 5 -2.1 5 -2 4 -2.8 5 -2.6 4 -3.1 4.1 -4 4.5 -4 4 -4 3.7 -5 4.2 -4 3 -5 3.3 -5 2.9 -4 2 -4 1.8 -5 1.8 -5 1.5 -6 1.5 -6 1.2 -6 .8 -6 .6 -7 .4 -9 .2 -10 0 -9 -.3 -8 -.5 -12 -1.4 -6 -1 -6 -1.4 -6 -1.6 -5 -1.6 -5 -1.9 -5 -2.2 -4 -2 -5 -2.8 -5 -3.3 -4 -3 -5 -4.2 -4 -3.7 -4 -4.2 -3.7 -4.4 -2.9 -4 -2.5 -4 -2.2 -4 -2.5 -5 -2 -5 -1.8 -5 -1.7 -6 -1.2 -5 -1.2 -7 -.9 -7 -.5 -7 -.1 -8 .1 -9 .6 -9 .9 -9 1.2 -8 1.6 -9 1.6 -7 2.4 -9 2.5 -8 2.6 -7 2.9 -7 3.4 -7 3.2 -6 3.7 -6 4.1 -6 3.9 -5 4.3 -5 4.2 -4.3 5 -4.5 5 -4 5 -3.4 5 -3 6 -3.1 5 -2.2 6 -2.2 6 -1.8 6 -1.5 7 -1.2z"/><path fill="#0074ff" d="M357.7 1278.8l12.3 -.1 11 .7 10 1.5 9 2.2 4 1.4 5 2 4 1.9 4 2.1 4 2.5 3 2.1 4 3.2 3.8 3.5 4 4 3.2 3.6 3.6 4.4 2.9 4 3.3 5 3 5 5.1 10 2.7 6 1.9 5 4 12 3.4 13 2.6 13 1.9 14 .9 13 .2 14 -.7 12 -.6 5 -.9 6 -1 5 -1.3 5 -1.6 5 -1.9 5 -3.7 8 -2.4 4 -2.6 4 -2.8 3.5 -3.1 3.5 -3.9 3.8 -4 3.5 -5 4 -5 3.5 -8 4.8 -4 1.9 -4 1.7 -5 1.8 -5 1.4 -10 2.1 -6 .8 -6 .6 -7 .4 -8 .2 -19 -.2 -8 -.4 -7 -.6 -12 -1.6 -11 -2.5 -6 -1.8 -5 -1.7 -5 -2.1 -4 -1.9 -4 -2.2 -5 -3.1 -4 -2.8 -5 -3.9 -4 -3.6 -3 -3 -3 -3.4 -2.8 -3.7 -2.7 -4 -2.9 -5 -2 -4 -2.1 -5 -1.8 -5 -1.5 -5 -1.4 -6 -.9 -5 -1 -7 -.6 -8 -.2 -8 .2 -9 .4 -8 .9 -9 1.1 -8 1.6 -9 1.8 -8 2.2 -8 2.5 -8 2.5 -7 2.9 -7 3.4 -7 3.3 -6 3.7 -6 3.5 -5 4 -5 4.4 -5 4.5 -4.4 4 -3.5 5 -3.8 5 -3.3 5 -2.8 5 -2.5 6 -2.5 6 -2.1 6 -1.6 6 -1.3 7 -1.1 7 -.7z"/><path fill="#0087ff" d="M356.9 1283.8l12.1 -.1 11 .5 9 1.2 9 2.1 5 1.6 4 1.5 4 1.8 4 2.1 4 2.4 3 2 6 4.9 3.2 3 3.8 4 3.4 4 3.1 4 2.8 4 3.2 5 4.9 9 4.5 10 3.9 11 3.8 13 2.9 13 2.1 13 1.3 13 .4 13 -.4 13 -1.1 11 -1.9 10 -2.7 9 -1.9 5 -1.8 4 -2.1 4 -2.4 4 -2.9 4 -2.5 3 -2.8 3 -3.2 3 -3.6 3 -4 3 -5 3.4 -4 2.5 -4 2.2 -4 1.9 -4 1.6 -5 1.6 -5 1.4 -5 1 -6 1.1 -6 .7 -13 .8 -19 .1 -16 -.7 -12 -1.3 -6 -1 -6 -1.2 -10 -2.7 -5 -1.7 -5 -2.1 -5 -2.4 -5 -2.7 -4 -2.5 -4 -2.9 -4 -3.2 -3 -2.7 -3.1 -3.2 -2.9 -3.4 -2.6 -3.6 -2.5 -4 -2.2 -4 -2.4 -5 -1.9 -5 -1.7 -5 -1.3 -5 -1.1 -5 -1.1 -7 -.7 -7 -.4 -8 0 -9 .4 -8 .7 -9 1 -8 1.4 -8 1.6 -8 2 -8 2.4 -8 2.7 -8 2.8 -7 2.8 -6 3.1 -6 3.5 -6 3.5 -5.2 4 -5.2 4 -4.6 4 -4.1 4 -3.5 5 -3.9 5 -3.4 5 -2.9 5 -2.5 6 -2.5 6 -2.1 6 -1.6 6 -1.3 6 -1 7 -.8z"/><path fill="#009aff" d="M349.6 1288.8l10.4 -.6 12 0 10 .8 9 1.4 8 2 8 2.9 4 1.8 4 2.1 6 3.9 3.5 2.7 3.4 3 6.1 6.4 6 7.6 5.3 8 4.8 9 4 9 3.6 10 3.5 12 3.1 13 2.1 12 1.4 13 .6 12 -.3 13 -.4 6 -.6 6 -1.9 10 -1.3 5 -1.6 5 -1.5 4 -1.8 4 -2.1 4 -2.5 4 -4.5 6 -2.8 3 -3.1 2.9 -3 2.5 -4 2.9 -5 3.3 -5 2.9 -4 2 -4 1.7 -4 1.5 -5 1.5 -5 1.2 -6 1.1 -6 .9 -7 .7 -15 .6 -19 -.2 -14 -.9 -12 -1.6 -6 -1.1 -6 -1.4 -10 -3 -9 -3.7 -8 -4.3 -4 -2.5 -4 -2.9 -3 -2.5 -3 -2.9 -3 -3.4 -2.5 -3.3 -2.7 -4 -2.3 -4 -2 -4 -1.7 -4 -1.4 -4 -1.5 -5 -1.5 -6 -1.2 -7 -.8 -7 -.5 -8 -.1 -9 .3 -8 .6 -8 .9 -8 1.3 -8 1.6 -8 2 -8 2.3 -8 2.7 -8 2.7 -7 3.1 -7 3.2 -6 2.9 -5 3.6 -5.3 3.6 -4.7 3.5 -4 3.9 -4 5 -4.4 4 -3 5 -3.4 5 -2.8 5 -2.4 5 -2.1 6 -2.1 6 -1.7 6 -1.3 6 -1z"/><path fill="#00adff" d="M351.5 1292.8l10.5 -.5 11 .1 9 .7 9 1.5 8 2 7 2.6 7 3.3 4 2.4 3 2 6 5 6 6.2 6 7.5 5.3 8.2 4.3 8 3.9 9 3.6 10 3.4 11 2.9 12 2.3 13 1.4 12 .6 12 -.2 13 -.9 11 -1 6 -1 5 -1.3 5 -1.3 4 -1.5 4 -1.8 4 -3.9 7 -4.4 6 -2.7 3 -2.7 2.6 -3 2.5 -4 2.9 -4 2.6 -5 2.8 -7 3.2 -4 1.5 -5 1.6 -6 1.4 -6 1.2 -6 .8 -6 .6 -14 .7 -19 -.1 -14 -.8 -12 -1.4 -6 -1.1 -6 -1.2 -5 -1.3 -6 -1.8 -9 -3.5 -8 -4 -4 -2.4 -3 -2.2 -3 -2.4 -3 -2.8 -3 -3.3 -2.4 -3.1 -2 -3 -2.4 -4 -2.1 -4 -1.7 -4 -1.8 -5 -1.2 -4 -1.5 -6 -1.2 -7 -.8 -7 -.4 -7 -.2 -9 .3 -8 .6 -8 .9 -8 1.3 -8 1.7 -8 2 -8 2.3 -8 2.8 -8 2.7 -7 2.7 -6 3.2 -6 3 -5 3.2 -4.7 3.4 -4.3 3.6 -4.1 4 -4 4 -3.4 4 -3.1 5 -3.2 5 -2.9 6 -2.8 5 -2 6 -2 6 -1.6 6 -1.3 6 -.9z"/><path fill="#00c1ff" d="M350.3 1296.8l9.7 -.6 11 0 9 .6 9 1.3 8 1.9 7 2.5 7 3.2 4 2.2 3 1.9 3 2.2 3 2.6 5 4.9 5.2 6.3 4.9 7 4.2 7 3.8 8 3.7 9 3.3 10 3.4 12 2.6 12 1.9 12 1 12 .2 13 -.6 12 -1.3 10 -1 5 -1.2 5 -2.8 8 -1.7 4 -2.1 4 -1.8 3 -2.7 3.8 -4.5 5.2 -2.5 2.4 -3 2.4 -7 4.6 -4 2.2 -4 1.9 -8 3.1 -6 1.7 -5 1.1 -6 1.1 -6 .8 -13 1 -17 .3 -15 -.5 -7 -.5 -7 -.8 -7 -1 -6 -1.1 -6 -1.3 -6 -1.7 -9 -3 -8 -3.5 -4 -2.2 -3 -1.9 -3 -2.3 -3 -2.5 -2.3 -2.3 -2.7 -3.2 -2.1 -2.8 -2.6 -4 -2.2 -4 -1.9 -4 -2.9 -8 -1.6 -6 -1.2 -6 -1 -7 -.5 -7 -.3 -8 .1 -8 .4 -8 .9 -8 1.1 -8 1.6 -8 1.6 -7 2.2 -8 2.6 -8 3 -8 2.8 -6.4 3 -5.9 3 -5.1 3 -4.5 3 -4 3.6 -4.1 3.4 -3.5 4 -3.5 4 -3.2 5 -3.3 5 -2.9 5 -2.5 6 -2.5 5 -1.7 6 -1.8 6 -1.3 6 -1z"/><path fill="#00d4ff" d="M360.1 1299.8l9.9 0 10 .6 8 1.2 8 1.9 8 2.8 7 3.3 6 3.6 3 2.2 2.8 2.4 5.2 5.2 5.5 6.8 4.8 7 4.4 8 4 9 3.7 10 3.2 10 2.8 11 2.3 12 1.6 12 .6 10 -.1 12 -.7 11 -1.5 10 -2.2 9 -2.9 8 -1.9 4 -1.7 3 -4 6 -4.5 5 -2.4 2.2 -3 2.4 -3 2.1 -4 2.4 -7 3.4 -8 2.8 -8 2.1 -6 1.2 -6 .9 -12 1 -17 .4 -17 -.4 -13 -1 -12 -1.8 -6 -1.2 -7 -1.7 -10 -3.2 -8 -3.4 -4 -2.1 -3 -1.9 -2.9 -2.2 -2.4 -2 -4.7 -5 -4.2 -6 -1.8 -3 -2 -4 -1.7 -4 -1.4 -4 -2.2 -8 -1.2 -6 -.9 -7 -.5 -7 -.2 -8 .2 -8 .4 -7 .9 -8 1 -7 1.4 -7 1.9 -8 2.2 -8 2.7 -8 2.6 -7 2.8 -6.3 2.9 -5.7 3.1 -5.3 3 -4.4 3.4 -4.3 3.6 -4 4 -3.8 4 -3.4 4 -2.9 5 -3.1 5 -2.7 5 -2.4 6 -2.3 5 -1.6 6 -1.6 6 -1.2 6 -1 6 -.6z"/><path fill="#00e7ff" d="M351.5 1303.8l9.5 -.6 9 0 9 .6 8 1.2 8 1.8 7 2.4 7 3.2 6 3.4 5 3.7 5 4.6 5 5.7 4.4 6 3.7 6 3.6 7 3.5 8 3.4 9 3.4 11 2.7 11 2.1 11 1.5 12 .5 11 -.3 13 -1.1 11 -1.6 9 -2.3 8 -1.5 4 -1.8 4 -3.4 6 -2.1 3 -2.4 3 -2.3 2.5 -2.7 2.5 -5.4 4 -3.4 2 -3.5 1.8 -7 2.9 -5 1.6 -5 1.3 -11 2.1 -12 1.3 -14 .5 -17 -.1 -15 -.9 -7 -.8 -7 -1 -12 -2.5 -10 -2.8 -8 -3 -6.5 -3.4 -3 -2 -2.5 -1.9 -3 -2.7 -2.3 -2.4 -2.4 -3 -2.1 -3 -1.9 -3 -2.1 -4 -2.8 -7 -1.8 -6 -1.4 -6 -1 -6 -.7 -7 -.4 -8 0 -8 .3 -7 .7 -8 1.1 -8 1.3 -7 1.8 -8 1.9 -7 2.5 -8 2.6 -7 3 -7 2.9 -6 2.8 -4.8 2.8 -4.2 3.2 -4.2 3.4 -3.8 3.6 -3.6 4 -3.5 4 -3 4.5 -2.9 4.5 -2.6 5 -2.4 5 -2.1 6 -2.2 5 -1.4 6 -1.4 6 -1.1z"/><path fill="#00fbff" d="M355 1306.8l9 -.4 9 .2 8 .7 8 1.4 7 1.9 7 2.5 7 3.4 6 3.8 5 3.9 4.6 4.6 4.4 5.4 4.5 6.6 3.9 7 3.4 7 3.6 9 3.1 9 2.8 10 2.5 11 1.7 11 1 10 .2 11 -.5 12 -1.2 10 -1.9 9 -2.2 7 -3 7 -1.7 3 -2.2 3.5 -2 2.7 -2.5 2.8 -4.5 4.3 -3 2.2 -3 2 -6 3.1 -7 2.7 -5 1.4 -6 1.4 -11 1.9 -6 .6 -7 .5 -14 .3 -16 -.3 -14 -.9 -13 -1.8 -6 -1.1 -7 -1.7 -9 -2.6 -7 -2.8 -6 -3.2 -2.9 -2 -2.5 -2 -2.6 -2.4 -2.4 -2.6 -2.3 -3 -2.1 -3 -1.7 -3 -2 -4 -2.7 -7 -1.4 -5 -1.3 -6 -.9 -6 -.7 -7 -.3 -8 0 -8 .3 -7 .8 -8 1.2 -8 1.4 -7 1.9 -8 2 -7 2.8 -8 2.7 -7 2.7 -6 3 -5.6 3 -4.8 3 -4.2 3 -3.6 3.6 -3.8 3.4 -3.2 4 -3.2 4 -2.8 5 -3.1 5 -2.6 5 -2.3 5 -1.9 6 -1.9 5 -1.3 6 -1.2 6 -.9z"/><path fill="#00ffee" d="M357.3 1309.8l8.7 -.2 9 .3 8 .9 7 1.4 7 2 7 2.8 6 3.1 6 3.9 5 4.1 4 4.1 4.4 5.6 4 6 3.6 6.5 3.5 7.5 3.6 9 3.1 9 3 11 2.1 10 1.5 10 .8 10 .1 11 -.6 11 -1.3 10 -1.8 8 -2.2 7 -1.7 4 -1.5 3 -3.6 5.8 -4 4.9 -4.6 4.3 -2.6 2 -3 2 -5.8 3 -7 2.6 -6 1.7 -5 1.1 -11 1.7 -12 1 -15 .4 -16 -.3 -14 -1.1 -13 -1.8 -6 -1.2 -6 -1.4 -9 -2.8 -7 -2.9 -6 -3.4 -5 -3.9 -4.5 -4.7 -2.2 -3 -2 -3 -1.7 -3 -1.6 -3.5 -2.7 -7.5 -1.4 -5 -1.2 -6 -.8 -6 -.6 -7 -.2 -8 .1 -8 .4 -7 .8 -7 1.1 -7 1.7 -8 1.8 -7 2 -6.7 2.6 -7.3 2.9 -7 2.8 -6 2.8 -5 2.9 -4.6 3 -4 3 -3.6 4 -4 4 -3.5 4 -3.1 4 -2.6 5 -2.9 5 -2.5 5 -2.2 5 -1.8 5 -1.5 5 -1.2 6 -1.2 6 -.8z"/><path fill="#00ffd7" d="M358 1312.8l9 -.2 8 .4 8 .9 7 1.4 7 2.1 6 2.4 6 3.1 6 3.9 5 4.1 4 4.1 4 5 3.8 5.8 3.9 7 3.7 8 3.2 8 3 9 2.8 10 2.1 10 1.4 10 .8 9 .1 11 -.6 11 -1.2 9 -1.7 8 -2.3 7 -2.6 6 -1.6 3 -2 3 -3.9 5 -4.9 4.7 -5 3.6 -3 1.8 -3 1.4 -7 2.6 -5 1.4 -5 1.1 -11 1.8 -12 .9 -14 .4 -16 -.3 -14 -.9 -13 -1.8 -11 -2.3 -9 -2.7 -6.7 -2.7 -3.3 -1.7 -3 -1.8 -5 -3.7 -2.9 -2.8 -2.1 -2.3 -2.1 -2.7 -1.9 -3 -3.1 -6 -2.6 -7 -1.4 -5 -1.2 -6 -.9 -6 -.5 -7 -.3 -8 .1 -7 .4 -7 .8 -7 1.1 -7 1.4 -7 1.8 -7 2.1 -7 2.5 -7 2.8 -6.7 3 -6.2 2.9 -5.1 2.6 -4 2.9 -4 3.5 -4 3.1 -3.2 4 -3.5 4 -3.1 4 -2.7 5 -2.9 5 -2.5 5 -2.2 5 -1.8 5 -1.5 5 -1.2 6 -1.1 6 -.8z"/><path fill="#00ffc0" d="M357 1315.8l9 -.3 8 .3 8 .9 7 1.4 7 2 6 2.4 6 3.1 6 3.9 5 4.1 4 4.1 3.3 4.1 3.7 5.5 3.6 6.5 3.9 8 3.3 8 2.8 8 2.6 9 2.2 10 1.6 10 .8 9 .2 10 -.5 11 -1 9 -1.6 8 -2.2 7 -2.7 6.5 -3.2 5.5 -3.8 5.1 -4.9 4.9 -5.1 3.8 -3 1.8 -2.9 1.4 -6.1 2.3 -9 2.4 -5 1 -6 .9 -11 1 -14 .4 -16 -.2 -14 -.8 -12 -1.5 -6 -1.1 -6 -1.3 -8 -2.3 -7.3 -2.8 -5.8 -3 -3.1 -2 -2.8 -2.2 -3 -2.7 -2 -2.1 -3.7 -5 -3.3 -6 -2.7 -7 -1.5 -5 -1.2 -6 -.9 -6 -.5 -6 -.3 -8 0 -7 .3 -6 .7 -7 1 -7 1.4 -7 1.8 -7 1.8 -6 2.5 -7 2.5 -6 2.8 -6 2.8 -5 2.5 -4.1 3 -4.2 3 -3.7 3.8 -4 3.2 -3 4 -3.2 4 -2.8 5 -3.1 5 -2.6 5 -2.2 5 -1.9 5 -1.5 5 -1.3 6 -1.2 5 -.7z"/><path fill="#00ffaa" d="M355.1 1318.8l7.9 -.4 8 .1 8 .7 7 1.1 7 1.8 6 2.2 6 2.8 6 3.6 5 3.8 4 3.6 4 4.6 3.6 5.1 3.6 6 3.5 7 3.5 8 3 8 2.8 9 2.1 9 1.8 10 1 9 .3 10 -.3 11 -.9 9 -1.5 8 -2 7 -2.9 7 -2.7 5 -3.9 5.3 -4.4 4.7 -5.1 4 -5.5 3.2 -6 2.4 -4 1.2 -5 1.3 -10 1.8 -11 1 -12 .5 -16 0 -14 -.7 -12 -1.4 -6 -.9 -6 -1.3 -9 -2.4 -7 -2.7 -6 -3 -3 -1.9 -2.9 -2.1 -4.3 -4 -1.8 -2 -2.3 -3 -1.9 -3 -1.6 -3 -2.9 -7 -1.5 -5 -1.2 -5 -.9 -6 -.6 -6 -.4 -7 0 -7 .2 -6 .6 -7 1 -7 1.1 -6 1.7 -7 1.7 -6 2.1 -6 2.4 -6 2.5 -5.4 3 -5.6 3 -5 2.8 -4 3.2 -4 2.7 -3 3.3 -3.2 4 -3.4 4 -3 4 -2.6 4 -2.3 5 -2.4 5 -2.1 5 -1.8 5 -1.4 6 -1.3 6 -1z"/><path fill="#00ff93" d="M352.9 1321.8l8.1 -.6 8 0 8 .5 7 1 7 1.7 6 2 6 2.7 5 2.9 5 3.4 5 4.3 3.8 4.1 3.2 4.2 3.7 5.8 3.3 6.2 3.6 7.8 3.2 8 3 9 2.3 9 1.7 9 1.3 10 .4 9 -.2 11 -.8 9 -1.4 8 -1.9 7 -2.7 7 -3.2 6 -3.3 4.7 -4 4.3 -5 4.2 -5 3.1 -6 2.5 -8 2.4 -5 1.1 -5 .9 -10 1.1 -12 .6 -16 0 -14 -.6 -13 -1.4 -11 -2 -9 -2.4 -7 -2.6 -6 -2.9 -3 -1.9 -2.9 -2.1 -4.5 -4 -1.9 -2 -2.3 -3 -1.9 -3 -1.5 -2.7 -2.7 -6.3 -1.6 -5 -1.2 -5 -.9 -5 -.7 -6 -.4 -7 -.1 -7 .2 -6 .5 -6 .7 -6 1.3 -7 1.4 -6 1.7 -6 1.8 -5.6 2.1 -5.4 2.7 -6 2.6 -5 2.6 -4.4 3 -4.5 3 -4 3 -3.5 3.5 -3.6 3.5 -3.1 4 -3.1 4 -2.7 4 -2.4 5 -2.5 4 -1.8 5 -1.9 5 -1.5 5 -1.3 5 -.9z"/><path fill="#00ff7c" d="M350.7 1324.8l7.3 -.7 8 -.2 8 .3 7 .8 7 1.4 6 1.8 6 2.4 5 2.6 5 3.2 5 3.9 4 3.9 3.8 4.6 3.4 5 3.4 6 3.4 7 3.4 8 3.2 9 2.5 9 1.8 9 1.3 9 .6 9 -.1 10 -.7 10 -1.2 8 -1.8 7 -2.6 7 -3 6 -3.4 5 -4 4.5 -4 3.5 -5 3.3 -5.8 2.7 -4.2 1.5 -4 1.1 -9 1.9 -10 1.3 -11 .6 -17 .1 -14 -.6 -12 -1.2 -11 -1.9 -8 -2.1 -8 -2.9 -6 -2.9 -3 -1.8 -3 -2.1 -4.6 -4 -2.4 -2.6 -1.9 -2.4 -3.1 -5 -2.7 -6 -1.4 -4 -1.3 -5 -1 -5 -.8 -6 -.4 -6 -.2 -7 .1 -6 .3 -6 .8 -6 1 -6 1.3 -6 1.6 -6 1.7 -5.4 2 -5.3 2.3 -5.3 2.5 -5 2.3 -4 2.9 -4.6 3 -4.2 3 -3.7 3 -3.3 3.4 -3.2 3.6 -3.1 4 -2.9 4 -2.6 5 -2.7 4 -1.9 5 -2 5 -1.7 5 -1.3 5 -1.1z"/><path fill="#00ff66" d="M357.6 1326.8l7.4 -.3 8 .3 7 .7 6 1.2 6 1.6 6 2.3 6 3 5 3.2 5 4 4 3.8 3.5 4.2 3.4 5 3.5 6 3.6 7.3 3.2 7.7 2.5 7 2.6 9 1.7 8 1.4 9 .6 8 .1 9 -.5 10 -1 8 -1.8 8 -2 6 -2.8 6 -3 5 -4 5 -4.2 4 -4.8 3.3 -5 2.6 -6 2.2 -8 2.2 -10 1.6 -10 .8 -13 .4 -15 -.2 -12 -.7 -11 -1.4 -10 -2.1 -8 -2.4 -7 -2.9 -6 -3.2 -5 -3.6 -2.8 -2.6 -1.9 -2 -3.8 -5 -1.8 -3 -1.5 -3 -2.4 -6 -1.4 -5 -1 -5 -.7 -5 -.5 -6 -.3 -7 .1 -6 .3 -6 .7 -6 1 -6 1.3 -6 1.6 -6 1.7 -5 1.9 -5 2.2 -5 2.6 -5 2.7 -4.7 3 -4.6 2.8 -3.7 3.2 -3.9 3 -3.2 3.1 -2.9 3.9 -3.3 4 -2.8 4 -2.6 4.3 -2.3 4.7 -2.2 4 -1.6 5 -1.6 5 -1.3 5 -1 5 -.8z"/><path fill="#00ff4f" d="M353.5 1329.8l7.5 -.6 7 0 7 .4 7 .9 6 1.4 6 1.9 6 2.6 5 2.8 5 3.5 4 3.3 4 4.1 3.7 4.7 3.3 5 3.3 6 3.3 7 2.9 7 2.6 8 2.4 9 1.7 9 1 8 .4 9 -.3 10 -.8 8 -1.4 8 -2 7 -2.5 6 -2.7 5 -3.6 5 -3.7 4 -4.6 3.7 -5 2.9 -5.7 2.4 -7.3 2.2 -9 1.8 -10 1.1 -11 .6 -15 0 -13 -.6 -12 -1.4 -10 -1.9 -8 -2.2 -7 -2.7 -6 -3.1 -5.6 -3.8 -4.5 -4 -3.9 -4.8 -3.2 -5.2 -2.6 -6 -1.4 -4 -1.2 -5 -.9 -5 -.6 -5 -.3 -6 -.2 -7 .2 -6 .5 -5 .7 -5.5 1 -5.5 1.5 -6 1.4 -5 1.8 -5 2 -5 2.3 -4.9 2.2 -4.1 2.8 -4.6 3 -4.4 3 -3.9 3 -3.5 3.6 -3.6 3.3 -3 3.1 -2.5 4 -2.8 4 -2.5 4 -2.1 4 -1.8 5 -2 4 -1.3 5 -1.2 5 -1z"/><path fill="#00ff39" d="M361.8 1331.8l7.2 0 7 .5 7 1 6 1.5 6 2.1 5 2.3 5 2.9 5 3.7 4 3.5 4 4.3 3.9 5.2 3.1 5 3.7 7 3.1 7 2.6 7 2.4 8 1.9 8 1.3 8 .8 8 .2 8 -.4 9 -.9 8 -1.3 7 -2.2 7 -2.5 6 -2.9 5 -2.9 4 -3.9 4.1 -4 3.2 -5 2.9 -6 2.5 -6 1.9 -9 1.9 -10 1.2 -11 .6 -14 0 -12 -.5 -10 -1 -10 -1.7 -8.3 -2.1 -7.7 -2.8 -6 -2.8 -5.4 -3.4 -4.9 -4 -1.9 -2 -2.5 -3 -3.3 -5 -2.8 -6 -2 -6 -1.2 -5 -.8 -5 -.5 -5 -.3 -6 0 -6 .2 -5 .4 -5 .9 -6 1.1 -5.6 1.4 -5.4 1.5 -5 1.9 -5 2.1 -5 2.1 -4.2 2.7 -4.8 2.6 -4 2.9 -4 3.2 -4 3.6 -3.9 3 -2.9 3.7 -3.2 3.3 -2.5 4 -2.7 4 -2.3 4 -2 5 -2.1 4 -1.4 5 -1.4 5 -1 5 -.8z"/><path fill="#00ff22" d="M355 1334.8l7 -.5 7 .1 7 .4 6 .9 6 1.4 6 2.1 5 2.3 5 2.9 4.7 3.4 4.3 3.8 4 4.2 3.1 4 3.3 5 3.6 6.6 3 6.4 2.6 7 2.5 8 1.9 8 1.4 8 .8 8 .2 8 -.4 9 -.9 8 -1.5 7 -1.8 6 -2.6 6 -3.2 5.6 -3.4 4.4 -3.6 3.5 -4 3 -5 2.8 -6 2.4 -7.8 2.3 -8.2 1.5 -10 1 -11 .5 -14 -.2 -11 -.6 -10.3 -1.2 -9.9 -2 -7.8 -2.3 -6.7 -2.7 -5.8 -3 -5.5 -3.8 -4.4 -4.2 -3.6 -4.4 -3.3 -5.6 -2.6 -6 -1.2 -4 -1 -4 -.9 -5 -.5 -5 -.3 -6 -.1 -6 .2 -5 .5 -5 .7 -5 1 -5 1.2 -5 1.6 -5 1.8 -5 1.9 -4.5 2.2 -4.5 2.2 -4 2.6 -4.1 3 -4.2 3 -3.8 3 -3.3 3.6 -3.6 3.3 -3 3.1 -2.4 4 -2.8 4 -2.4 4 -2.1 4 -1.8 4 -1.4 4 -1.3 5 -1.2 5 -1z"/><path fill="#00ff0b" d="M351.3 1337.8l6.7 -.7 7 -.3 7 .2 6 .6 6 1.1 6 1.7 5 1.9 5 2.5 4.8 3 4.2 3.3 4 3.7 4 4.4 3.4 4.6 3.2 5 3.1 6 2.7 6 2.8 8 2.3 8 1.7 8 1.1 8 .5 8 -.1 9 -.7 8 -1.1 7 -1.5 6 -2.4 6.4 -2.8 5.6 -3.4 5 -3.6 4 -3.7 3 -4.9 3 -5.6 2.6 -7 2.3 -8 1.8 -9 1.2 -10 .6 -14 .1 -12 -.6 -10 -1 -10 -1.9 -7.7 -2.1 -6.3 -2.3 -6 -2.9 -3.1 -1.8 -2.9 -2 -4.6 -4 -3.5 -4 -3.4 -5 -2.9 -6 -1.5 -4 -1.1 -4 -.8 -4 -.7 -5 -.5 -5 -.2 -6 .1 -5 .3 -5 .6 -5 .9 -5 2.3 -9.2 3.2 -8.8 2.2 -5 2.1 -4 2.5 -4.2 2.6 -3.8 5.5 -7 3.8 -4 3.1 -3 3.6 -3 3.4 -2.5 7 -4.4 4 -2 4 -1.6 8 -2.6 5 -1.2z"/><path fill="#0aff00" d="M355.7 1339.8l6.3 -.4 7 0 7 .5 6 .9 6 1.5 5 1.8 5 2.4 4 2.3 5 3.6 4 3.6 4 4.1 3.7 4.7 3.3 5 3 5.4 2.6 5.6 2.4 6.4 2.4 7.6 1.8 8 1.3 8 .6 7 .1 8 -.5 9 -.9 7 -1.6 7 -2 6 -2.3 5 -3.1 5 -3.2 4 -3.6 3.4 -4 2.8 -5.3 2.8 -5.7 2.3 -8 2.2 -8 1.4 -9 .9 -11 .4 -12 -.2 -11 -.7 -10 -1.4 -9 -2 -7 -2.2 -6.5 -2.7 -5.5 -3 -3 -2 -2.5 -2 -4.1 -4 -3.9 -5 -2.8 -5 -2.5 -6 -1.2 -4 -.9 -4 -.7 -4 -.5 -5 -.3 -10 .2 -5 .6 -5 .8 -5 1 -5 2.7 -9 1.9 -5 1.9 -4 2 -4 2.3 -3.8 5 -7.2 3 -3.6 3.2 -3.4 3.1 -3 3.7 -3.2 3.7 -2.8 3.3 -2.2 7 -3.9 4 -1.8 4 -1.4 4 -1.2 5 -1.2z"/><path fill="#1fff00" d="M351.8 1342.8l6.2 -.7 7 -.2 7 .2 6 .6 6 1.1 5 1.5 5 1.9 4 2 5 3.1 4 3.1 4 3.6 4 4.4 3.4 4.4 3.3 5 2.7 5 2.6 6 2.5 7 2.3 8 1.6 8 .9 7 .4 8 -.1 8 -.8 8 -1.3 7 -1.7 6 -2.4 6 -2.8 5 -2.8 4 -3.8 3.9 -4 3.1 -5 2.9 -4.7 2.1 -6.3 2.1 -8 1.9 -8 1 -10 .7 -13 0 -11 -.5 -10 -1.2 -9 -1.7 -7 -2 -7 -2.7 -6 -3.1 -5.2 -3.5 -4.5 -4 -3.5 -4 -3.3 -5 -2.8 -6 -1.4 -4 -1.1 -4 -1.3 -8 -.4 -5 -.1 -5 .4 -9 1.4 -9 2.4 -9 2.9 -8 1.9 -4 2.1 -4 4.5 -7 3 -4 3 -3.4 6 -6 3 -2.6 4 -3 3 -2 4 -2.3 7 -3.3 4 -1.4 4 -1.2 4 -.9z"/><path fill="#34ff00" d="M356.3 1344.8l6.7 -.4 6 0 6 .5 6 .9 5 1.2 5 1.6 5 2.3 4 2.3 5 3.5 4 3.5 4 4.1 4 4.9 3 4.4 3 5.4 2.6 5.8 2.3 6 2 7 1.6 7 1.1 8 .5 7 0 8 -.5 7 -1.1 7 -1.5 6.1 -2.1 5.9 -2.5 5 -2.7 4 -3.4 4 -3.3 3 -4.5 3 -5.5 2.8 -5 2 -7 2 -8 1.4 -9 .9 -11 .3 -11 -.3 -10 -.8 -9 -1.4 -8.1 -1.9 -6.9 -2.3 -6.1 -2.7 -5.2 -3 -5.3 -4 -4 -4 -3.8 -5 -2.8 -5 -2.4 -6 -1.2 -4 -.8 -4 -1 -8 -.1 -9 .3 -5 .4 -4 .9 -5 .9 -4 2.5 -8 3.3 -8 2.1 -4 2.4 -4 4.9 -6.7 3 -3.5 3 -3.2 6 -5.3 3 -2.3 4 -2.7 7 -3.8 4 -1.8 4 -1.4 8 -2.1z"/><path fill="#49ff00" d="M352.6 1347.8l6.4 -.7 6 -.2 6 .2 6 .6 6 1.1 5 1.4 5 2 4 2 5 3.1 4 3.2 4 3.7 4 4.4 3 3.9 3 4.7 2.9 5.6 2.2 5 2.4 7 1.8 7 1.4 8 .7 7 .3 7 -.4 8 -.8 7 -1.3 6 -2 6 -2.2 5 -2.4 4 -3.1 4 -3.5 3.5 -4 3 -5 2.9 -5 2.2 -7 2.3 -7 1.5 -8 1 -10 .5 -11 0 -10 -.7 -9.5 -1.2 -8.5 -1.9 -6.8 -2.1 -6.2 -2.6 -5 -2.7 -5.3 -3.7 -4.7 -4.3 -3.8 -4.7 -3.1 -5 -2.3 -5 -1 -3 -1.1 -4 -.7 -4 -.5 -4 -.4 -9 .4 -8 .6 -4 .9 -4.9 2.3 -8.1 3.1 -8 3.7 -7 1.9 -3.1 2.8 -3.9 5.2 -6.1 6 -5.8 3 -2.4 3.7 -2.7 6.3 -3.8 7 -3.2 4 -1.4 4 -1.1z"/><path fill="#5eff00" d="M357.5 1349.8l6.5 -.3 6 .1 6 .5 5 .8 5 1.3 5 1.8 5 2.4 4 2.4 4.1 3 4.5 4 3.7 4 3.7 4.7 3 4.6 2.5 4.7 2.5 5.8 1.8 5.2 1.9 7 1.3 7 .8 7 .4 7 -.2 7 -.8 7 -1.2 6 -1.8 6 -2.2 5 -2.2 4 -2.8 3.8 -3.1 3.2 -3.9 3.2 -4.3 2.8 -4.7 2.4 -6 2.2 -7 1.8 -8 1.3 -9 .7 -10 .1 -9 -.3 -9 -.9 -8 -1.4 -8 -2.1 -6 -2.2 -6 -2.8 -5 -3.1 -5 -4 -4 -4.2 -3.3 -4.5 -2.8 -5 -2.3 -6 -1.7 -7 -.9 -8 -.1 -5 .2 -4 .9 -8 1.7 -8 2.7 -8 3.2 -7 4.2 -7 4.6 -6 5.6 -6 6 -5.1 3 -2.2 4 -2.6 7 -3.5 7 -2.6 4 -1.1 4 -.9z"/><path fill="#72ff00" d="M353.7 1352.8l5.3 -.6 6 -.2 6 .2 6 .6 5 1 5 1.3 5 2 4 2 4 2.5 4.2 3.2 3.8 3.5 4.2 4.5 3.1 4 2.7 4.3 2.5 4.7 2.5 5.9 2 6.1 1.7 7 1.2 7 .6 6 .1 7 -.3 7 -.8 6 -1.5 6.3 -1.6 4.7 -2.3 5 -2.5 4 -3.3 4 -3.3 3.1 -4 3 -5 2.9 -5 2.2 -7 2.1 -7 1.4 -8 1 -9 .3 -10 -.1 -9 -.7 -8 -1.1 -8 -1.8 -6 -2 -6 -2.6 -5 -2.7 -5.5 -4 -4.2 -4 -3.4 -4 -3.2 -5 -2.3 -5 -1 -3 -1.1 -4 -1.1 -7 -.4 -8 .5 -8 1.4 -8 2.3 -7.8 2.9 -7.2 3.8 -7 4.3 -6.1 5 -5.7 6 -5.5 6 -4.5 6 -3.5 7 -3.1 7 -2.1z"/><path fill="#87ff00" d="M359.3 1354.8l5.7 -.2 6 .2 6 .6 5 1 5 1.4 4 1.6 5 2.5 4 2.6 4 3.1 4 3.7 4 4.5 3 4.1 3 4.9 2 4.1 2 4.9 1.9 6 1.4 6 1.2 7 .5 6 .1 7 -.4 6 -.8 6 -1.5 6 -1.8 5 -2 4 -2.6 4 -3 3.6 -3.6 3.4 -4.1 3 -4.3 2.5 -5 2.2 -5 1.7 -7 1.6 -8 1.1 -9 .5 -9 -.1 -8 -.5 -8 -1 -7 -1.4 -7 -2 -6.3 -2.6 -5.6 -3 -4.4 -3 -4.6 -4 -3.6 -4 -3.4 -5 -2.4 -5 -1.8 -5 -.8 -3 -.7 -4 -.6 -7 .2 -8 1.1 -8 2.1 -8 2.6 -7 3.2 -6.3 4 -6.2 4.5 -5.5 5.5 -5.5 6 -4.7 6 -3.8 6 -2.9 7 -2.5 7 -1.6z"/><path fill="#9cff00" d="M355 1357.8l5 -.5 6 -.1 6 .2 5 .6 5 1 4 1.1 5 2 4 2 4 2.5 4.2 3.2 3.8 3.6 3.9 4.4 3.1 4.2 2.9 4.8 2.1 4.3 1.9 4.7 1.9 6 1.3 6 .9 6 .5 7 0 6 -.5 6 -1 6 -1.4 5 -1.9 5 -2.2 4 -2.5 3.6 -3 3.4 -4 3.6 -4 2.7 -4 2.3 -5 2.1 -6 1.8 -7.5 1.5 -7.5 .8 -9 .3 -9 -.2 -8 -.7 -8 -1.3 -7 -1.8 -5.8 -2.1 -5.2 -2.4 -5 -3 -5 -3.8 -3.9 -3.8 -3.2 -4 -3 -5 -2.2 -5 -1.7 -6 -1 -7 -.2 -4 0 -4 .7 -7 1.3 -7 2.2 -7 3 -6.8 3.6 -6.2 4.4 -6 4.6 -5 5.4 -4.8 6 -4.2 6 -3.2 6 -2.5 7 -2.1z"/><path fill="#b1ff00" d="M362.3 1359.8l5.7 0 6 .4 5 .7 5 1.2 5 1.8 4 1.9 4 2.3 3.8 2.7 3.5 3 3.7 3.8 3 3.7 3.1 4.5 2.7 5 2.2 5 1.7 5 1.3 5 1.1 6 .7 6 .2 6 -.3 6 -.8 6 -1.1 5 -1.7 5 -1.9 4 -2.5 4 -2.7 3.3 -3.8 3.7 -3.9 3 -4.3 2.6 -4 1.9 -5 1.8 -5 1.3 -7 1.2 -7 .6 -9 .2 -8 -.3 -8 -.8 -7 -1.3 -6 -1.6 -6 -2.2 -5.1 -2.4 -4.9 -3 -4 -3.1 -4.1 -3.9 -3.2 -4 -3 -5 -2.2 -5 -1.4 -5 -1.1 -7 -.2 -7 .6 -7 1.3 -7 2.2 -7 2.6 -6 3.4 -6 4.1 -5.7 4 -4.5 5.3 -4.8 5.7 -4.1 6 -3.4 6 -2.5 7 -2.1 7 -1.3z"/><path fill="#c6ff00" d="M356.5 1362.8l5.5 -.4 6 0 5 .3 5 .7 5 1.1 4 1.3 4 1.7 4 2.1 4 2.7 3.1 2.5 3.9 3.8 3 3.5 3 4.2 2.7 4.5 2.3 5 1.5 4 1.5 5 1.3 6 .8 6 .2 6 -.1 6 -.6 5 -1 5 -1.6 5 -1.8 4 -2.4 4 -2.8 3.6 -3 3.1 -3 2.6 -4 2.7 -4 2.1 -5 2.1 -6 1.7 -7 1.3 -7 .6 -8 .2 -8 -.2 -7.9 -.8 -7.1 -1.3 -6 -1.6 -5.8 -2.1 -5.2 -2.5 -5 -3.2 -4.2 -3.3 -3.9 -4 -3 -4 -2.4 -4 -2.1 -5 -1.6 -6 -.8 -6 -.1 -7 .7 -7 1.4 -6.4 2.2 -6.6 2.8 -6.1 3.6 -5.9 3.8 -5 4.7 -5 4.9 -4.1 5.8 -3.9 6.2 -3.1 6 -2.3 6 -1.6z"/><path fill="#dbff00" d="M353.5 1365.8l5.5 -.7 5 -.2 6 .1 5 .5 5 .9 4 1 4 1.5 4 1.8 4 2.4 3.8 2.7 3.2 2.9 3 3.1 3 3.8 2.8 4.2 2.2 4 1.8 4 1.8 5 1.4 5.4 1 5.6 .6 6 0 6 -.3 5 -.8 5 -1.4 5 -1.5 4 -2.1 4 -2.5 3.7 -2.9 3.3 -3.2 3 -3.9 2.8 -4 2.3 -4 1.8 -6 2 -6 1.3 -7 .9 -7 .3 -8 -.1 -7 -.5 -7 -1 -7 -1.6 -6 -2 -4.9 -2.2 -5.1 -3 -4 -2.9 -4 -3.7 -3 -3.6 -2.5 -3.8 -2.4 -5 -1.7 -5 -1.1 -6 -.3 -6 .3 -7 1.1 -6 1.6 -6 2.5 -6 3.2 -6 3.4 -5 4.3 -5 4.6 -4.3 5 -3.7 5 -3 6 -2.7 6 -1.9z"/><path fill="#efff00" d="M358 1367.8l5 -.3 5 0 5 .3 5 .8 4 .9 4 1.2 4 1.7 4 2.2 4 2.8 3 2.5 3 3 3.2 3.9 2.8 4 2.2 4 1.9 4 1.8 5 1.4 5 .9 5 .6 5 .1 5 -.2 5 -.7 5 -1.2 5 -1.4 4 -1.9 4 -2.5 3.9 -2.6 3.1 -3.1 3 -3.3 2.6 -3.8 2.4 -4.2 2 -4 1.5 -6 1.6 -6 1 -7 .6 -8 .1 -7 -.3 -7 -.9 -6 -1.2 -6 -1.7 -5 -1.9 -5 -2.6 -4.9 -3.2 -3.6 -3 -2.8 -3 -3.1 -4 -2.3 -4 -2 -5 -1.5 -6 -.6 -6 .1 -6 .7 -6 1.4 -6 2.2 -6 2.9 -6 3.3 -5 4 -5 4.2 -4.2 4.9 -3.8 4.8 -3 5.3 -2.6 6 -2.1 6 -1.5z"/><path fill="#fffa00" d="M354.6 1370.8l5.4 -.6 5 -.2 5 .2 5 .5 4 .7 4 1 4 1.4 4 1.9 3.5 2.1 3.5 2.6 3 2.7 2.6 2.7 2.4 3 2.7 4 2.2 4 1.8 4 1.5 4 1.3 5 1 5 .5 5 .1 5 -.4 5 -.8 5 -1.1 4 -1.5 4 -1.5 3 -2.6 4 -2.5 3 -3.1 3 -3.6 2.7 -3.9 2.3 -4.1 1.9 -5 1.7 -6 1.3 -6 .8 -7 .4 -7 0 -7 -.5 -7 -1.1 -6 -1.4 -5 -1.7 -5 -2.2 -4 -2.3 -4.2 -2.9 -3.8 -3.5 -3 -3.5 -2.6 -4 -2 -4 -1.6 -5 -1.1 -6 -.3 -6 .4 -6 1.1 -6 1.6 -5 2.5 -6 2.9 -5 3.1 -4.4 4 -4.5 4 -3.6 5 -3.6 5 -2.8 5 -2.1 6 -1.9z"/><path fill="#ffe500" d="M359.9 1372.8l4.1 -.2 5 .1 5 .4 4 .7 4 1 4 1.3 3.6 1.7 3.4 1.9 3 2.1 3.5 3 2.8 3 2.7 3.4 2.4 3.6 2.1 4 1.8 4 1.4 4 1.3 5 .6 4 .5 5 0 5 -.4 5 -.8 4 -1.1 4 -1.7 4 -2.1 3.8 -2 2.8 -2.1 2.4 -3.2 3 -2.7 2 -4 2.4 -4 1.9 -4 1.4 -5 1.2 -6 .9 -7 .5 -7 0 -7 -.4 -6 -.9 -6 -1.3 -5 -1.6 -5 -2.1 -4 -2.2 -4 -2.8 -3.5 -3 -2.7 -3 -2.8 -4 -2.1 -4 -1.5 -4 -1.1 -5 -.6 -6 .2 -6 .7 -5 1.4 -5.3 2.2 -5.7 2.6 -5 3.2 -4.7 3.6 -4.3 4.3 -4 4.1 -3.1 5 -3 5 -2.2 5 -1.7 6 -1.3z"/><path fill="#ffd000" d="M356.3 1375.8l4.7 -.5 4 -.1 5 .2 4 .4 4 .6 4 1.1 3.7 1.3 3.3 1.5 3 1.8 3 2.1 3 2.5 3 3.1 2.4 3 2.6 4 2 3.8 1.4 3.2 1.4 4 1.1 4 .7 4 .5 5 0 5 -.4 4 -.7 4 -1.1 4 -1.6 4 -1.6 3 -2.1 3 -2.5 3 -3.1 2.8 -3 2.2 -3.5 2 -3.5 1.6 -5 1.7 -5 1.1 -6 .8 -6 .4 -7 -.1 -6 -.4 -6 -.9 -6 -1.5 -5 -1.7 -4.5 -2 -3.5 -2 -4.1 -3 -3.2 -3 -2.7 -3.1 -2.5 -3.9 -1.9 -4 -1.5 -5 -.8 -5 -.3 -5 .4 -5 .9 -5 1.7 -5.6 2.4 -5.4 2.6 -4.5 3.4 -4.5 3.6 -3.9 4 -3.4 4 -2.7 5 -2.7 5 -1.9 5 -1.4z"/><path fill="#ffbb00" d="M354.3 1378.8l3.7 -.5 4 -.4 5 0 4 .2 4 .5 4 .8 4 1.2 3 1.2 3 1.5 3 1.8 3 2.3 2.7 2.4 2.3 2.5 2 2.6 2 3 2.1 3.9 1.7 4 1.3 4 1 4 .6 4 .3 4 -.1 5 -.4 4 -.9 4 -1.3 4 -1.4 3 -1.7 3 -2.3 3 -2.9 3 -2.4 2 -2.9 2 -3.7 2 -4 1.6 -5 1.4 -5 1 -6 .6 -7 .1 -6 -.3 -6 -.7 -6 -1.2 -4.9 -1.5 -4.1 -1.6 -4.5 -2.4 -3.5 -2.4 -3.1 -2.6 -2.8 -3 -2.2 -3 -2.2 -4 -1.5 -4 -1.2 -5 -.5 -5 .1 -5 .8 -5 1.3 -5 2 -5 2.1 -4 2.6 -4 3.4 -4 3.2 -3.1 4 -3.1 4 -2.5 5 -2.4 5 -1.7z"/><path fill="#ffa700" d="M360.1 1380.8l7.9 -.2 4 .3 4 .6 4 1 3 1 3 1.2 3 1.6 3 2 3 2.5 2.1 2 2.5 3 2.2 3 1.7 3 1.5 3.1 1.5 3.9 1.1 4 .8 4 .4 4 0 4 -.3 4 -.5 3 -1 4 -1.1 3 -1.5 3 -1.9 3 -2.5 3 -2.1 2 -2.9 2.2 -3 1.9 -3 1.5 -4 1.5 -5 1.3 -5 .8 -5 .5 -6 .1 -6 -.3 -5 -.6 -5 -1 -5 -1.4 -4 -1.6 -4 -2 -3 -1.9 -3.7 -3 -2.9 -3 -2.2 -3 -1.7 -3 -1.7 -4 -1 -4 -.7 -5 0 -4 .5 -5 1.2 -5 1.4 -4 2.4 -5 2.6 -4 3.3 -4 3.5 -3.3 4 -3 4 -2.4 4 -1.8 5 -1.7 5 -1.1z"/><path fill="#ff9200" d="M358.4 1383.8l3.6 -.3 4 -.1 7 .5 4 .7 3 .8 3 1.1 3 1.3 5 3.1 2.3 1.9 2.7 2.6 2 2.4 2.1 3 1.7 3 1.4 3 1.1 3 1.1 4 .8 4 .3 4 0 4 -.3 3 -.8 4 -.9 3 -1.2 3 -1.6 3 -1.7 2.4 -2 2.3 -2.5 2.3 -2.5 1.9 -3 1.8 -3 1.4 -4 1.4 -5 1.2 -5 .7 -5 .3 -6 0 -5 -.4 -5 -.7 -5 -1.2 -4 -1.3 -4 -1.7 -4 -2.2 -3 -2.2 -3 -2.8 -2 -2.3 -2 -2.9 -2 -4 -1.3 -4 -.7 -4 -.3 -4 .3 -5 1 -5 1.3 -4 1.8 -4 2.3 -4 2.6 -3.4 3 -3.2 3 -2.5 4.2 -2.9 3.8 -2 5 -2 5 -1.3z"/><path fill="#ff7d00" d="M358 1386.8l7 -.5 7 .4 6 1.2 3 .9 3 1.3 3 1.6 2 1.3 2.4 1.8 2.6 2.5 2 2.3 2 2.8 1.4 2.4 1.5 3 1.1 3 1.1 4 .7 4 .3 3 -.1 4 -.3 3 -.5 3 -.9 3 -1.3 3 -1 2 -2 3 -1.8 2 -2.2 2.1 -2.5 1.9 -2.5 1.5 -3 1.5 -4 1.4 -4 1 -4 .7 -5 .4 -6 0 -5 -.3 -5 -.7 -4 -.9 -4 -1.2 -3.4 -1.4 -3.6 -1.9 -3.1 -2.1 -2.9 -2.5 -2.3 -2.5 -2.1 -3 -1.6 -3 -1.4 -4 -.8 -4 -.3 -4 .2 -4 .7 -4 1.1 -4 1.7 -4 2.3 -4 2.5 -3.3 3 -3.2 3 -2.5 4 -2.7 4 -2 3.4 -1.3 4.6 -1.3z"/><path fill="#ff6800" d="M358.7 1389.8l6.3 -.4 7 .4 6 1.3 5 1.9 3 1.6 2 1.3 4 3.5 2 2.3 1.6 2.1 1.4 2.3 1.3 2.7 1.2 3 .9 3 .6 3 .4 3 .1 3 -.2 3 -.4 3 -.9 3.5 -1 2.5 -1 2.1 -1.8 2.9 -1.7 2 -2 2 -2.5 2 -2 1.2 -3 1.5 -3.3 1.3 -3.7 1 -4 .7 -5 .5 -5 .1 -5 -.3 -5 -.7 -4 -.9 -4 -1.3 -3 -1.2 -3.4 -1.9 -2.9 -2 -2.3 -2 -2.4 -2.7 -1.6 -2.3 -1.6 -3 -1.1 -3 -.9 -4 -.3 -4 .2 -4 .8 -4 .9 -3 1.6 -3.8 2 -3.4 2.1 -2.8 2.8 -3 3.1 -2.7 3 -2 3 -1.6 4.1 -1.7 3.9 -1.1z"/><path fill="#ff5300" d="M361.3 1392.8l5.7 -.1 6 .6 3 .6 3 .9 4.4 2 2.6 1.6 2 1.6 2 1.8 1.8 2 2.7 4 1.5 3 .8 2 1.3 5 .4 3 .1 3 -.1 3 -.5 3 -.9 3 -.8 2 -2.3 4.1 -1.5 1.9 -2 2 -2.5 2 -1.6 1 -4.4 2.1 -3 1 -4 .9 -4 .5 -5 .3 -4 -.1 -4 -.3 -4 -.7 -4 -1 -3 -1.1 -3.5 -1.6 -3.2 -2 -2.3 -1.8 -2.2 -2.2 -1.6 -2 -1.3 -2 -1.4 -3 -.9 -3 -.7 -4 -.1 -4 .4 -3 .8 -3.5 1.3 -3.5 1.5 -3 2.1 -3 2.6 -3 2.5 -2.3 3 -2.1 3 -1.7 3 -1.4 4 -1.3 4 -.8z"/><path fill="#ff3e00" d="M357.8 1396.8l5.2 -.6 6 .1 5 .7 5 1.6 4 2 3 2.2 3 3 1.6 2 1.4 2.2 1 2 1.1 2.8 1.1 5 .2 5 -.3 3 -.4 2 -1.4 4 -1.1 2 -1.3 2 -2.9 3.1 -2 1.5 -2.2 1.4 -2.8 1.3 -3 1.1 -3 .7 -4 .7 -4 .2 -4 0 -4 -.3 -4 -.7 -3.8 -1 -2.7 -1 -2.5 -1.2 -3 -1.8 -2 -1.5 -2 -2 -2 -2.5 -1 -1.7 -1.1 -2.3 -.9 -3 -.5 -3 -.1 -3 .2 -3 .7 -3 1 -3 1.5 -3 2.1 -3 1.7 -2 2.1 -2 2.6 -2 2.7 -1.6 3 -1.4 3 -1.1z"/><path fill="#ff2a00" d="M357.8 1400.8l4.2 -.6 5 -.1 5 .5 4.4 1.2 3.6 1.6 3.5 2.4 3.1 3 2.1 3 1.8 4 1.1 4 .2 3 0 2 -.6 4 -1.5 4 -1.9 3 -2.8 3 -2.9 2 -2.1 1.1 -3 1.2 -3 .8 -3 .5 -3 .2 -4 .1 -6 -.6 -5.3 -1.3 -4.7 -2.1 -2 -1.2 -2.2 -1.7 -1.9 -2 -1.5 -2 -1.4 -2.7 -.8 -2.3 -.5 -2 -.2 -3 0 -2 .5 -3 .9 -3 .9 -2 1.2 -2.1 2 -2.6 2 -2 2 -1.6 2.7 -1.7 2.3 -1.2 3 -1.1z"/><path fill="#ff1500" d="M361 1404.8l4 -.3 4 .2 4 .8 3 1.1 3 1.5 2.2 1.7 2 2 2 3 1.3 3 .8 3 .1 4 -.5 3 -1.1 3 -1.8 2.8 -2.1 2.2 -2.9 2.1 -2 .9 -2.7 1 -5.2 1 -3.1 .2 -3 -.1 -5 -.7 -4.6 -1.4 -3.7 -2 -1.7 -1.3 -1.8 -1.7 -2.1 -3 -.8 -2 -.6 -2 -.3 -2 -.1 -2 .2 -2 .5 -2 .7 -2 1.3 -2.4 1.1 -1.6 1.9 -2 2 -1.7 2 -1.3 4 -1.8z"/><path fill="#ff0000" d="M360.2 1410.8l2.8 -.5 3 -.1 3 .3 2 .4 2.4 .9 1.9 1 1.7 1.2 2 2.1 1.1 1.7 .9 2.3 .5 2.7 -.1 2 -.4 2 -1 2.3 -1.2 1.7 -2.1 2 -1.7 1.1 -2 .8 -3 .9 -4 .4 -4 -.2 -4 -.9 -2.5 -1.1 -2.9 -2 -1.8 -2 -.8 -1.4 -.7 -1.6 -.5 -3 .3 -3 .9 -2.4 1.7 -2.6 2.3 -2.1 3 -1.8z"/></g>
<path fill="#000" fill-rule="evenodd" d="M142.00 1167.80h424.50v424.50h-424.50zM144.60 1170.50h419.21v418.51h-419.21z"/>
<path d="M143.30 1591.80v11.99M142.50 1590.80h-11.99M200.28 1591.80v6.49M142.50 1533.71h-6.49M257.26 1591.80v11.99M142.50 1476.61h-11.99M314.24 1591.80v6.49M142.50 1419.52h-6.49M371.22 1591.80v11.99M142.50 1362.42h-11.99M428.20 1591.80v6.49M142.50 1305.33h-6.49M485.18 1591.80v11.99M142.50 1248.23h-11.99M542.16 1591.80v6.49M142.50 1191.14h-6.49" stroke="#000" stroke-width="2.80" fill="none"/>
<text x="143.3" y="1628.3" font-size="21.47" font-weight="bold" text-anchor="middle" fill="#000">0.0</text>
<text x="120.0" y="1596.5" font-size="21.47" font-weight="bold" text-anchor="end" fill="#000">0.0</text>
<text x="257.3" y="1628.3" font-size="21.47" font-weight="bold" text-anchor="middle" fill="#000">2.0n</text>
<text x="120.0" y="1482.3" font-size="21.47" font-weight="bold" text-anchor="end" fill="#000">2.0n</text>
<text x="371.2" y="1628.3" font-size="21.47" font-weight="bold" text-anchor="middle" fill="#000">4.0n</text>
<text x="120.0" y="1368.1" font-size="21.47" font-weight="bold" text-anchor="end" fill="#000">4.0n</text>
<text x="485.2" y="1628.3" font-size="21.47" font-weight="bold" text-anchor="middle" fill="#000">6.0n</text>
<text x="120.0" y="1253.9" font-size="21.47" font-weight="bold" text-anchor="end" fill="#000">6.0n</text>
<text x="354.2" y="1666.7" font-size="21.47" font-weight="bold" text-anchor="middle" fill="#000">Electron position (m)</text>
<text x="59.6" y="1378.5" font-size="21.47" font-weight="bold" text-anchor="middle" fill="#000" transform="rotate(-90 59.6 1378.5)">Hole position (m)</text>
<text x="168.4" y="1212.4" font-size="29.60" font-weight="bold" fill="#fff">5.4x10<tspan dy="-12.4" font-size="17.76">5</tspan><tspan dy="12.4"> V/cm</tspan></text>
<text x="113.1" y="1193.0" font-size="31.26" stroke="#000" stroke-width="1.05" text-anchor="middle" font-family="'Noto Serif CJK SC', 'Noto Sans CJK SC', 'DejaVu Sans', serif" fill="#000">①</text>
<text x="26.5" y="1201.5" font-size="41.00" font-weight="bold" text-anchor="start" fill="#000" textLength="56.0" lengthAdjust="spacingAndGlyphs">(b)</text>
<rect x="575.00" y="1573.22" width="30.90" height="8.69" fill="#0000ff"/><rect x="575.00" y="1565.14" width="30.90" height="8.69" fill="#0013ff"/><rect x="575.00" y="1557.05" width="30.90" height="8.69" fill="#0027ff"/><rect x="575.00" y="1548.97" width="30.90" height="8.69" fill="#003aff"/><rect x="575.00" y="1540.88" width="30.90" height="8.69" fill="#004dff"/><rect x="575.00" y="1532.79" width="30.90" height="8.69" fill="#0060ff"/><rect x="575.00" y="1524.71" width="30.90" height="8.69" fill="#0074ff"/><rect x="575.00" y="1516.62" width="30.90" height="8.69" fill="#0087ff"/><rect x="575.00" y="1508.53" width="30.90" height="8.69" fill="#009aff"/><rect x="575.00" y="1500.45" width="30.90" height="8.69" fill="#00adff"/><rect x="575.00" y="1492.36" width="30.90" height="8.69" fill="#00c1ff"/><rect x="575.00" y="1484.27" width="30.90" height="8.69" fill="#00d4ff"/><rect x="575.00" y="1476.19" width="30.90" height="8.69" fill="#00e7ff"/><rect x="575.00" y="1468.10" width="30.90" height="8.69" fill="#00fbff"/><rect x="575.00" y="1460.01" width="30.90" height="8.69" fill="#00ffee"/><rect x="575.00" y="1451.93" width="30.90" height="8.69" fill="#00ffd7"/><rect x="575.00" y="1443.84" width="30.90" height="8.69" fill="#00ffc0"/><rect x="575.00" y="1435.76" width="30.90" height="8.69" fill="#00ffaa"/><rect x="575.00" y="1427.67" width="30.90" height="8.69" fill="#00ff93"/><rect x="575.00" y="1419.58" width="30.90" height="8.69" fill="#00ff7c"/><rect x="575.00" y="1411.50" width="30.90" height="8.69" fill="#00ff66"/><rect x="575.00" y="1403.41" width="30.90" height="8.69" fill="#00ff4f"/><rect x="575.00" y="1395.32" width="30.90" height="8.69" fill="#00ff39"/><rect x="575.00" y="1387.24" width="30.90" height="8.69" fill="#00ff22"/><rect x="575.00" y="1379.15" width="30.90" height="8.69" fill="#00ff0b"/><rect x="575.00" y="1371.06" width="30.90" height="8.69" fill="#0aff00"/><rect x="575.00" y="1362.98" width="30.90" height="8.69" fill="#1fff00"/><rect x="575.00" y="1354.89" width="30.90" height="8.69" fill="#34ff00"/><rect x="575.00" y="1346.80" width="30.90" height="8.69" fill="#49ff00"/><rect x="575.00" y="1338.72" width="30.90" height="8.69" fill="#5eff00"/><rect x="575.00" y="1330.63" width="30.90" height="8.69" fill="#72ff00"/><rect x="575.00" y="1322.54" width="30.90" height="8.69" fill="#87ff00"/><rect x="575.00" y="1314.46" width="30.90" height="8.69" fill="#9cff00"/><rect x="575.00" y="1306.37" width="30.90" height="8.69" fill="#b1ff00"/><rect x="575.00" y="1298.29" width="30.90" height="8.69" fill="#c6ff00"/><rect x="575.00" y="1290.20" width="30.90" height="8.69" fill="#dbff00"/><rect x="575.00" y="1282.11" width="30.90" height="8.69" fill="#efff00"/><rect x="575.00" y="1274.03" width="30.90" height="8.69" fill="#fffa00"/><rect x="575.00" y="1265.94" width="30.90" height="8.69" fill="#ffe500"/><rect x="575.00" y="1257.85" width="30.90" height="8.69" fill="#ffd000"/><rect x="575.00" y="1249.77" width="30.90" height="8.69" fill="#ffbb00"/><rect x="575.00" y="1241.68" width="30.90" height="8.69" fill="#ffa700"/><rect x="575.00" y="1233.59" width="30.90" height="8.69" fill="#ff9200"/><rect x="575.00" y="1225.51" width="30.90" height="8.69" fill="#ff7d00"/><rect x="575.00" y="1217.42" width="30.90" height="8.69" fill="#ff6800"/><rect x="575.00" y="1209.33" width="30.90" height="8.69" fill="#ff5300"/><rect x="575.00" y="1201.25" width="30.90" height="8.69" fill="#ff3e00"/><rect x="575.00" y="1193.16" width="30.90" height="8.69" fill="#ff2a00"/><rect x="575.00" y="1185.08" width="30.90" height="8.69" fill="#ff1500"/><rect x="575.00" y="1176.99" width="30.90" height="8.69" fill="#ff0000"/><rect x="575.00" y="1581.61" width="30.90" height="9.29" fill="#000"/><rect x="575.00" y="1168.00" width="30.90" height="9.29" fill="#fff"/>
<rect x="575.60" y="1168.60" width="29.70" height="421.70" fill="none" stroke="#111" stroke-width="1.20"/>
<text x="619.2" y="1183.2" font-size="18.48" font-weight="normal" text-anchor="start" fill="#111" textLength="44.4" lengthAdjust="spacingAndGlyphs">0.506</text>
<text x="619.2" y="1233.8" font-size="18.48" font-weight="normal" text-anchor="start" fill="#111" textLength="44.4" lengthAdjust="spacingAndGlyphs">0.443</text>
<text x="619.2" y="1284.5" font-size="18.48" font-weight="normal" text-anchor="start" fill="#111" textLength="44.4" lengthAdjust="spacingAndGlyphs">0.380</text>
<text x="619.2" y="1335.1" font-size="18.48" font-weight="normal" text-anchor="start" fill="#111" textLength="44.4" lengthAdjust="spacingAndGlyphs">0.316</text>
<text x="619.2" y="1385.8" font-size="18.48" font-weight="normal" text-anchor="start" fill="#111" textLength="44.4" lengthAdjust="spacingAndGlyphs">0.253</text>
<text x="619.2" y="1436.4" font-size="18.48" font-weight="normal" text-anchor="start" fill="#111" textLength="44.4" lengthAdjust="spacingAndGlyphs">0.190</text>
<text x="619.2" y="1487.0" font-size="18.48" font-weight="normal" text-anchor="start" fill="#111" textLength="44.4" lengthAdjust="spacingAndGlyphs">0.127</text>
<text x="619.2" y="1537.7" font-size="18.48" font-weight="normal" text-anchor="start" fill="#111" textLength="54.2" lengthAdjust="spacingAndGlyphs">0.0633</text>
<text x="619.2" y="1588.3" font-size="18.48" font-weight="normal" text-anchor="start" fill="#111" textLength="34.5" lengthAdjust="spacingAndGlyphs">0.00</text>
<path d="M605.40 1176.89h5.99M605.40 1227.53h5.99M605.40 1278.17h5.99M605.40 1328.81h5.99M605.40 1379.45h5.99M605.40 1430.09h5.99M605.40 1480.73h5.99M605.40 1531.37h5.99M605.40 1582.01h5.99" stroke="#1a1a1a" stroke-width="1.50" fill="none"/></g>
<!-- panel b2 -->
<g><clipPath id="cb2"><rect x="781.0" y="1173.2" width="417.5" height="418.2"/></clipPath><g clip-path="url(#cb2)" fill-rule="evenodd" shape-rendering="geometricPrecision"><rect x="781.0" y="1173.2" width="417.5" height="418.2" fill="#1fff00"/><path fill="#34ff00" d="M858.2 1404.2l11.8 -.6 16 -.2 128 .3 102 -.3 14 .5 14 .9 13 1.7 10 1.9 5 1.4 5 1.8 4 2.1 3.7 2.5 3.1 3 2.4 3 2.5 4 2.1 5 1.6 5 1.3 6 .8 6 .4 7 -.2 7 -.5 6 -.9 7 -1.9 9 -2.1 8 -2.8 8 -3.8 9 -4.1 8 -4.7 8 -5.6 8 -5.5 7 -6.2 7 -6.6 6.7 -7 6.3 -7 5.6 -8 5.8 -8 5.3 -8 4.7 -8 4.2 -13.1 6.4 -3.3 2 -186.5 0 -3.3 -2 -13.8 -6.5 -8 -4.1 -7 -3.9 -8 -5 -9 -6.2 -7 -5.4 -8 -6.9 -7 -6.7 -6.7 -7.3 -5.7 -7 -5.1 -7 -5 -8 -4.3 -8 -3.6 -8 -3.4 -9 -2.5 -9 -2 -10 -1 -9 -.3 -9 .4 -9 1.2 -8 1.8 -7 1.2 -3 1.4 -3 1.7 -3 1.4 -2 1.7 -2 2 -2 4 -3 4.8 -2.5 5 -1.9 7 -1.8 8 -1.5 12 -1.5z"/><path fill="#49ff00" d="M944.7 1406.2l31.3 -.5 36 -.1 31 .4 24 .7 20 1.3 16 1.6 6 1 6 1.2 5 1.3 4 1.3 4.2 1.8 3.7 2 3.1 2.1 3.4 2.9 2.6 3 2.8 4 2 4 1.5 4 1.4 5 .8 5 .5 6 0 6 -.4 6 -.8 6 -1.1 5 -1.5 5 -1.8 4 -2.3 4 -10.6 15 -4.4 6 -3.2 4 -3.9 4.3 -4 4 -5 4.5 -5 4 -5 3.6 -6 3.8 -6 3.4 -7 3.5 -7 3.1 -7 2.7 -6 2 -7 1.9 -8 1.6 -8 1.2 -9 1 -9 .7 -10 .3 -13 .2 -12 -.2 -10 -.4 -9 -.6 -9 -1 -8 -1.1 -8 -1.5 -7 -1.6 -6 -1.8 -7 -2.5 -9 -3.7 -9 -4.3 -8 -4.6 -7 -4.7 -7 -5.4 -7 -6.4 -5.6 -6 -5.4 -6.8 -11 -15.4 -2.6 -3.8 -2.1 -4 -2 -5 -1.1 -4 -.9 -4 -1 -8 -.2 -5 .1 -5 .2 -4 .5 -4 1.3 -6 1.7 -5 2.5 -5 2.6 -3.9 3 -3.3 4 -3.3 4 -2.5 5 -2.3 5 -1.7 7 -1.8 6.5 -1.2 8.5 -1.1 10 -1 12 -.8 14 -.7z"/><path fill="#5eff00" d="M951.7 1408.2l25.3 -.7 30 -.1 26 .4 22 .9 16 1.3 15 2 11 2.2 5 1.4 4 1.4 5 2.1 3.9 2.1 3.1 2.1 3.7 2.9 3 3 2.4 3 2 3 2 4 1.6 4 1.1 4 .7 4 .4 5 -.1 5 -.5 5 -1 5 -1.5 5 -1.8 4 -1.6 3 -2 3 -2.4 3 -19 18.9 -5 4.7 -4 3.3 -4.1 3.1 -4.9 3.4 -6 3.7 -6 3.5 -6 3.1 -5 2.3 -5 2 -5 1.6 -7 2 -7 1.5 -7 1.2 -7 1 -8 .7 -8 .4 -9 .2 -9 -.1 -9 -.4 -8 -.5 -8 -.9 -7 -1.1 -7 -1.3 -8 -1.8 -6 -1.7 -6 -2.1 -8 -3.4 -9 -4.5 -9 -5.3 -7 -4.8 -5 -3.9 -6 -5.4 -17 -16.6 -3.6 -3.8 -3 -4 -2.2 -4 -1.7 -4 -1.6 -5 -1 -5 -.5 -6 0 -5 .5 -5 1 -5 1.7 -5 2.6 -5 2.7 -4 3.6 -4 3.5 -3 4.5 -3 5.5 -2.8 5.7 -2.2 6.3 -1.8 6 -1.4 8 -1.4 9 -1.1 10 -1 10 -.7z"/><path fill="#72ff00" d="M979 1409.2l23 -.2 21 .3 18 .7 16 1.2 12 1.5 12 2.5 5 1.3 5 1.6 7.8 3.1 4.2 2.2 4 2.5 3 2.3 3.3 3 2.8 3 2.2 3 1.8 3 1.9 4 1.4 4 .7 3 .5 4 .1 4 -.4 4 -.7 4 -1.1 4 -1.6 4 -2.1 4 -2.8 4 -3 3.5 -3.9 3.5 -21.1 16.4 -8 6 -8 5.4 -8 4.6 -6 2.9 -6 2.3 -7 2.2 -8 2.1 -7 1.4 -8 1.2 -8 .8 -8 .4 -9 .1 -10 -.4 -9 -.7 -9 -1.2 -9 -1.7 -9 -2.1 -8 -2.5 -7 -2.6 -6 -2.8 -6 -3.2 -7 -4.3 -6 -4.1 -26.7 -20.2 -4.4 -4 -3.3 -4 -2 -3 -2.2 -4 -1.2 -3 -1.3 -4 -.8 -4 -.4 -4 -.1 -4 .4 -4 .6 -3 1.2 -4 1.8 -4 1.8 -3 2.1 -3 2.6 -3 3.1 -3 3.8 -2.9 3.2 -2.1 3.6 -2 4.2 -2 4 -1.5 9 -2.8 11 -2.4 11 -1.6 12 -1.2 16 -.9z"/><path fill="#87ff00" d="M967.8 1411.2l19.2 -.6 21 0 19 .5 17 1 13 1.4 9.7 1.7 10.3 2.7 5 1.6 4.4 1.7 4.5 2 3.8 2 4.3 2.7 3.1 2.3 3.4 3 2.7 3 2.3 3 1.9 3 2 4 1 3 .9 4 .3 3 0 3 -.4 4 -.9 4 -1.3 4 -1.4 3 -1.7 3 -3.6 5 -3.8 4 -5.5 4.3 -13.1 8.7 -14.9 10.3 -8 5 -5 2.5 -6 2.6 -6 2.1 -7 2.1 -6 1.4 -6 1.2 -6 .9 -6 .6 -7 .5 -6 .1 -13 -.4 -6 -.5 -7 -.8 -12 -2.1 -6 -1.5 -6 -1.7 -6 -2 -5 -1.9 -8 -3.8 -10 -6 -27 -17.7 -4 -3.1 -3.9 -3.8 -3.3 -4 -2.5 -4 -1.9 -4 -1.3 -4 -.9 -4 -.5 -5 .2 -4 .7 -4 1.4 -4 2 -4 2.6 -4 3.4 -4 4 -3.6 4 -3 5 -2.9 5.1 -2.5 5.9 -2.3 6 -2 7 -1.8 7 -1.4 7 -1.1 9 -1 10 -.8z"/><path fill="#9cff00" d="M985.5 1412.2l17.5 -.2 17 .4 15 .8 13 1.3 10 1.5 9 2.1 9 2.9 8 3.4 4 2.1 4.3 2.7 3.7 2.8 2.5 2.2 2.9 3 2.4 3 2 3 1.5 3 1.2 3 .8 3 .5 3 .1 3 -.2 3 -.8 4 -1.2 4 -1.3 3 -2.3 4 -2.9 4 -3.7 4 -3.5 3 -5 3.4 -10.9 6.6 -12.1 7.7 -5 2.9 -5 2.6 -6 2.7 -6 2.2 -7 2.2 -6 1.5 -7 1.4 -7 1 -7 .7 -7 .3 -8 0 -8 -.5 -8 -.8 -7 -1 -7 -1.4 -7 -1.8 -7 -2.1 -7 -2.6 -6 -2.6 -7 -3.6 -28 -16.5 -3.3 -2.3 -3.6 -3 -2.9 -3 -3.1 -4 -1.9 -3 -1.6 -3 -1.2 -3 -.9 -3 -.7 -4 -.3 -3 .1 -3 .5 -3 .9 -3 1.2 -3 1.5 -3 2.3 -3.4 2.1 -2.6 3 -3 2.9 -2.5 3.4 -2.5 3.2 -2 3.7 -2 7.7 -3.3 9 -3 9 -2.2 10 -1.6 12 -1.4 14 -.9z"/><path fill="#b1ff00" d="M974 1414.2l16 -.6 16 0 16 .5 14 1 12 1.4 10 1.9 9 2.4 8 3.2 4.7 2.2 3.6 2 3.7 2.4 3.5 2.6 2.5 2.2 2.7 2.8 2.4 3 1.9 3 1.6 3 1.1 3 .8 3 .4 3 0 3 -.6 4 -1 4 -1.2 3 -2.7 5 -3 4 -3.8 4 -3.5 3 -3.1 2.2 -5 3 -16 9.1 -6 3.2 -6 2.8 -6 2.4 -6 2.1 -7 2 -6 1.4 -7 1.3 -7 .8 -7 .5 -7 .2 -7 -.2 -7 -.6 -8 -.9 -7 -1.3 -7 -1.5 -7 -2 -6 -2 -8 -3.1 -7 -3.1 -22 -11.7 -4.3 -2.6 -4.3 -3 -3.3 -3 -2.8 -3 -2.4 -3 -1.9 -3 -1.5 -3 -1.2 -3 -.9 -3 -.5 -3 -.3 -3 .1 -3 .5 -3 .6 -2 1.2 -3 1.6 -3 1.9 -3 1.6 -2 2.8 -3 2.2 -2 5.3 -4 3.3 -2 3.7 -2 7.6 -3.3 9 -2.9 9 -2.1 10 -1.6 11 -1.2z"/><path fill="#c6ff00" d="M988.8 1415.2l14.2 -.1 14 .3 13 .9 12 1.3 10 1.7 8 2 8 2.8 6.7 3.1 6.7 4 3.6 2.7 2.6 2.3 2.4 2.4 2.2 2.6 2.1 3 1.6 3 1.3 3 .8 3 .3 2 .1 3 -.2 3 -.9 4 -1 3 -1.4 3 -2.4 4 -3.1 4 -3.4 3.4 -4 3.3 -4 2.7 -6 3.4 -9 4.7 -7 3.3 -7 2.9 -7 2.5 -7 2.2 -6 1.5 -7 1.4 -6 .9 -7 .7 -7 .3 -7 -.1 -8 -.5 -7 -.8 -7 -1.1 -7 -1.4 -7 -1.8 -7 -2.2 -8 -2.9 -7 -2.8 -9 -4.1 -8 -4 -6 -3.5 -4.2 -3 -3.4 -3 -2.8 -3 -3.1 -4 -1.7 -3 -1.4 -3 -1.1 -3 -.7 -3 -.4 -3 0 -3 .2 -2 .7 -3 1.2 -3 1.5 -3 2 -3 1.5 -2 2.7 -2.9 2.3 -2.1 5.4 -4 6.3 -3.6 7 -3.2 7 -2.4 8 -2 10 -1.8 12 -1.5 12 -.9z"/><path fill="#dbff00" d="M978.5 1417.2l13.5 -.5 14 0 13 .4 12 1 11 1.4 10 2 8 2.2 7 2.8 3.3 1.7 3.7 2.1 4 2.7 2.8 2.2 2.2 2 2.9 3 2.4 3 1.9 3 1.4 3 1 3 .6 3 .1 2 -.1 3 -.5 3 -.9 3 -1.2 3 -2.2 4 -2.1 3 -3.5 4 -3.3 3 -3.9 3 -3.6 2.3 -4 2.2 -6 2.9 -7 3 -8 3 -7 2.3 -7 1.9 -7 1.6 -7 1.2 -7 .9 -7 .5 -6 .1 -7 -.3 -7 -.5 -7 -.9 -7 -1.2 -7 -1.5 -7 -1.8 -7 -2.2 -14 -5 -7 -3 -6 -3 -4.2 -2.5 -4.2 -3 -3.4 -3 -2.8 -3 -1.6 -2 -2 -3 -2.5 -5 -1 -3 -.6 -3 -.3 -3 0 -2 .3 -2 .7 -3 1.2 -3 1 -2 2 -3 1.5 -2 2.8 -3 2.2 -2 5.3 -4 6.6 -3.8 6 -2.7 7.3 -2.5 8.7 -2.1 10 -1.7 11 -1.3z"/><path fill="#efff00" d="M995 1418.2l12 0 12 .6 11 .9 10 1.4 9 1.8 8 2.3 6 2.3 6 3.2 3 1.9 3.5 2.6 2.5 2.2 2.8 2.8 1.7 2 2.1 3 1.1 2 1.4 3 .7 2 .6 3 .1 2 -.1 3 -.6 3 -.9 3 -1.2 3 -1.7 3 -2 3 -2.5 3 -3 3 -3.6 3 -2.9 2.1 -4 2.3 -4 2 -5 2.2 -8 2.8 -7 2.2 -7 1.9 -8 1.8 -7 1.2 -7 .9 -7 .5 -6 .1 -7 -.1 -7 -.5 -8 -.9 -7 -1.2 -8 -1.7 -8 -2 -8 -2.3 -8 -2.6 -5 -2 -5 -2.3 -4 -2.2 -3.4 -2.2 -3.8 -3 -3.1 -3 -2.6 -3 -2.2 -3 -1.1 -2 -1.5 -3 -1 -3 -.7 -3 -.3 -3 0 -2 .3 -2 .8 -3 1.2 -3 1.1 -2 2.1 -3 1.6 -2 2.6 -2.7 2.6 -2.3 5.6 -4 5.8 -3.2 6.7 -2.8 7.3 -2.2 8 -1.8 10 -1.7 10 -1.1 12 -.8z"/><path fill="#fffa00" d="M983.2 1420.2l12.8 -.4 12 .1 11 .5 11 1.1 9 1.3 9 2 8 2.4 6 2.5 6 3.5 3 2.3 3.1 2.7 2 2 2.5 3 2 3 1 2 .9 2 1 3 .3 2 .2 3 -.2 2 -.6 3 -.9 3 -1.2 3 -1.7 3 -2.1 3 -2.5 3 -3.1 3 -3.7 3 -3 2 -3.7 2 -3.3 1.5 -5 1.9 -7 2.3 -7 1.9 -8 1.8 -6 1.1 -7 1 -12 1 -6 .2 -7 -.2 -7 -.4 -7 -.8 -13 -2 -8 -1.8 -8 -2 -11 -3.5 -4 -1.6 -4 -1.9 -4 -2.4 -2.9 -2.1 -3.4 -3 -2.9 -3 -1.6 -2 -2.1 -3 -1.6 -3 -.8 -2 -1 -3 -.4 -2 -.3 -3 0 -2 .3 -2 .8 -3 1.3 -3 1.1 -2 2.1 -3 1.7 -2 4.2 -4 5.4 -4 5.1 -2.8 6 -2.6 7 -2.2 8 -1.8 9 -1.6 10 -1.2z"/><path fill="#ffe500" d="M978 1422.2l12 -.6 12 -.2 12 .4 11 .8 10 1.4 9 1.8 8.4 2.4 6.6 2.7 3 1.6 2.8 1.7 2.7 2 2.3 2 2 2 2.5 3 1.4 2 1.7 3 1.2 3 .5 2 .4 2 .1 3 -.3 3 -.6 3 -1.9 5 -1.7 3 -2.1 3 -2.5 3 -2 2 -2.5 2.1 -3 2.1 -3 1.8 -4 1.9 -5 1.9 -5 1.5 -12 2.9 -12 2.1 -11 1.1 -12 .4 -13 -.6 -7 -.6 -7 -.9 -13 -2.4 -12 -3 -5 -1.6 -4 -1.6 -4 -1.9 -3 -1.8 -3 -2.1 -2.7 -2.3 -2.3 -2.2 -2.3 -2.8 -1.5 -2 -1.7 -3 -.9 -2 -1.1 -3 -.7 -3 -.2 -2 -.1 -3 .3 -2 1.2 -4 1.4 -3 1.3 -2 3.1 -4 4.3 -4 4.2 -3 5.6 -3 6.1 -2.4 8 -2.4 8 -1.7 9.9 -1.5z"/><path fill="#ffd000" d="M991.5 1423.2l10.5 -.1 11 .3 10 .8 9 1.1 9 1.7 7 1.9 6.2 2.3 6 3 3 2 2.5 2 3.8 4 1.5 2 1.9 3 .9 2 1 3 .5 2 .2 3 0 2 -.4 3 -1.4 5 -1.4 3 -1.2 2 -2.1 3 -2 2.3 -2.8 2.7 -2.5 2 -2.7 1.7 -3 1.6 -7 2.9 -5 1.5 -5 1.3 -6 1.2 -6 1.1 -12 1.3 -13 .6 -14 -.3 -13 -1.1 -13 -2 -11 -2.6 -5 -1.5 -4 -1.4 -3 -1.3 -3.7 -2 -3 -2 -2.6 -2 -2.1 -2 -2.7 -3 -1.4 -2 -1.8 -3 -.9 -2 -1 -3 -.7 -3 -.2 -2 0 -3 .2 -2 .5 -2 1.1 -3 2.2 -4 3.2 -4 2.1 -2 2.5 -2 4.6 -3 5.7 -2.7 6.6 -2.3 7.4 -2 8 -1.5 9 -1.2 9 -.8z"/><path fill="#ffbb00" d="M985 1425.2l11 -.4 11 .1 10 .5 10 1 8 1.3 8 1.9 7 2.3 6 2.8 2.6 1.5 2.4 1.7 3.7 3.3 3.1 4 1.2 2 1.3 3 .6 2 .6 3 .1 2 -.2 3 -1 5 -1 3 -1 2 -1.8 3 -1.6 2 -1.8 2 -2.2 2 -2.6 2 -3.3 2 -3.1 1.6 -3.5 1.4 -8.5 2.6 -10 2.1 -11 1.4 -11 .8 -13 .1 -13 -.7 -13 -1.4 -11 -2 -5 -1.3 -5 -1.6 -7 -2.9 -3 -1.6 -3 -2 -3 -2.5 -1.9 -2 -3.1 -4 -1.1 -2 -1.3 -3 -.7 -2 -.6 -3 -.3 -3 .1 -2 .6 -4 1.6 -4 2.5 -4 1.7 -2 2 -2 3.9 -3 4.6 -2.6 5.5 -2.4 6.5 -2.1 7 -1.7 8 -1.4 9 -1.1z"/><path fill="#ffa700" d="M982.1 1427.2l10.9 -.5 11 -.1 11 .5 9 .8 8.3 1.3 7.7 1.8 6.9 2.2 5.1 2.2 4.7 2.8 2.6 2 1.7 1.6 2.1 2.4 1.4 2 1.9 4 1 4 .3 2 0 3 -.8 5 -1 3 -.9 2 -1.1 2 -1.9 2.6 -2 2.3 -2 1.8 -4.8 3.3 -6.2 3 -7 2.4 -9 2.1 -10 1.4 -11 .8 -13 .2 -13 -.4 -12 -1.2 -10 -1.7 -9 -2.4 -7 -2.6 -3.2 -1.6 -3.3 -2 -2.7 -2 -2.2 -2 -1.8 -2 -1.5 -2 -2.2 -4 -1.3 -4 -.5 -3 -.1 -2 .3 -4 1.1 -4 2.1 -4 1.5 -2 1.8 -2 3.6 -3 4.4 -2.7 5 -2.3 5.6 -2 6.4 -1.7 7 -1.4 8 -1.2z"/><path fill="#ff9200" d="M981.2 1429.2l9.8 -.6 10 -.1 10 .3 9 .6 8 1.1 8 1.7 6.6 2 5.4 2.2 5 2.8 4 3.2 1.8 1.8 1.5 2 1.2 2 .9 2 1.1 4 .2 2 0 3 -.4 3 -.4 2 -1.5 4 -2.5 4 -1.7 2 -2.2 2 -2.6 2 -3.2 2 -6.2 2.9 -6.5 2.1 -8.5 1.9 -8.2 1.1 -9.8 .7 -12 .3 -12 -.4 -11 -1 -9.9 -1.6 -8.1 -2.1 -4 -1.3 -3.8 -1.6 -5.5 -3 -2.9 -2 -2.3 -2 -2.6 -3 -2.4 -4 -1.4 -4 -.6 -4 .1 -4 .9 -4 .8 -2 1.2 -2 2.3 -3 3.3 -3 3.9 -2.5 4.9 -2.5 5.3 -2 5.8 -1.7 6 -1.3 7 -1.1z"/><path fill="#ff7d00" d="M981.7 1431.2l9.3 -.6 10 -.1 9 .2 9 .7 8 1.1 7 1.6 6 1.9 5 2.1 4 2.2 4 3 3 3.3 2.1 3.6 .8 2 .5 2 .3 4 -.3 3 -.4 2 -1.5 4 -1.1 2 -1.5 2 -1.8 2 -2.2 2 -4.4 3 -6.2 3 -5.8 2 -7.5 1.8 -8 1.1 -9 .8 -11 .2 -12 -.4 -10 -.8 -9 -1.5 -8 -2.1 -6 -2.2 -6 -3.1 -2.7 -1.8 -2.4 -2 -2.8 -3 -1.9 -3 -1.6 -4 -.7 -4 .1 -4 .7 -3 .8 -2 1.1 -2 2.4 -3 3 -2.6 3.5 -2.4 3.9 -2 4.9 -2 5.7 -1.8 5.4 -1.2 6.6 -1.1z"/><path fill="#ff6800" d="M983.8 1433.2l8.2 -.5 9 -.1 8 .2 8 .6 7 1 6 1.2 5.5 1.6 5.5 2.2 4.9 2.8 3.1 2.4 3 3.3 1.9 3.3 1 3 .3 2 0 2 -.5 4 -1.5 4 -1.1 2 -1.5 2 -3 3 -2.6 2 -2 1.3 -5.5 2.7 -6.5 2.2 -7 1.6 -8 1.2 -8 .5 -11 .2 -10 -.4 -9 -.9 -8.1 -1.4 -7.4 -2 -6.5 -2.6 -5 -2.8 -2.2 -1.6 -2.2 -2 -2.6 -3 -1.7 -3 -1.1 -3 -.6 -4 .2 -3 .8 -3 1.6 -3 2.4 -3 3.4 -2.9 3.4 -2.1 4 -2 4.6 -1.7 4.3 -1.3 5.7 -1.3 6 -1z"/><path fill="#ff5300" d="M988.2 1435.2l6.8 -.3 8 0 7 .2 7 .7 6 .9 5 1.1 5 1.6 4.5 1.8 3.6 2 3.9 3 2.7 3 1.3 2.3 1 2.8 .3 1.9 .1 2 -.2 2 -.5 2 -1.1 3 -1.2 2 -1.5 2 -3.1 3 -4.5 3 -4.3 2 -6 2.1 -7 1.6 -7 1 -8 .5 -9 .1 -9 -.4 -8.6 -.9 -7.4 -1.4 -7 -2 -6 -2.5 -5 -3.1 -3.3 -3 -2.3 -3 -1.5 -3 -.8 -3 -.2 -3 .4 -3 1.2 -3 2.1 -3 2 -2 2.6 -2 3.5 -2 4.3 -1.9 4 -1.4 5 -1.3 5 -1 6 -.9z"/><path fill="#ff3e00" d="M983.5 1438.2l6.5 -.6 7 -.3 7 .1 7 .3 5 .6 6 1 5 1.3 4.6 1.6 4.1 2 3 2 2.3 2 2.3 3 1.3 3 .5 3 -.3 3 -.9 3 -1.6 3 -2.5 3 -3.8 3 -3.7 2 -5 2 -5.3 1.5 -6 1.1 -6 .7 -8 .3 -8 -.1 -8 -.5 -7 -1 -6 -1.3 -5.3 -1.7 -4.7 -2.1 -4.6 -2.9 -2.4 -2.2 -2.2 -2.8 -1 -2 -1 -3 -.2 -3 .2 -2 1.1 -3 1.3 -2 1.8 -2 2.4 -2 3.2 -2 3.4 -1.6 3.9 -1.4 4.1 -1.1 5 -1.1z"/><path fill="#ff2a00" d="M994.5 1440.2l10.5 0 5 .3 5 .6 5 1 4 1.1 3 1 3 1.4 2.7 1.6 2.5 2 1.8 2 1.2 2 .7 2 .2 3 -.5 3 -.8 2 -2 3 -2.8 2.6 -3.6 2.4 -4.4 2 -5 1.5 -5 1 -6 .8 -6 .3 -8 -.1 -7 -.4 -6 -.9 -5.5 -1.2 -5.5 -1.8 -4.4 -2.2 -2.9 -2 -3 -3 -1.3 -2 -.8 -2 -.6 -3 0 -2 .5 -2 1 -2 1.6 -2 2.3 -2 2.6 -1.7 2.6 -1.3 3.4 -1.3 4 -1.2 8 -1.6 5 -.6z"/><path fill="#ff1500" d="M987.1 1444.2l4.9 -.5 5 -.3 5 0 5 .3 4 .4 4 .6 4 1 3 1.1 3 1.3 2 1.2 2.2 1.9 1.6 2 .9 2 .4 2 -.2 2 -.5 2 -1.1 2 -1.6 2 -2.4 2 -3.3 1.9 -3 1.2 -4 1.2 -4 .9 -4 .5 -5 .3 -6 0 -5 -.3 -5 -.6 -5 -.9 -4 -1.2 -3 -1.2 -3.3 -1.8 -1.7 -1.3 -1.8 -1.7 -1.4 -2 -.9 -2 -.4 -2 .1 -2 .4 -1.3 .9 -1.7 1.1 -1.4 1.7 -1.6 2.3 -1.5 3 -1.4 2.9 -1.1 3.1 -.8z"/><path fill="#ff0000" d="M991.6 1448.2l6.4 -.5 7 .2 6 .9 4.8 1.4 2.1 1 1.6 1 2 2 .6 1 .6 2 -.1 1 -.5 2 -1.1 1.7 -1.2 1.3 -1.8 1.3 -2 1.1 -2 .8 -3 .9 -4 .7 -3 .3 -4 .2 -4 -.1 -3 -.3 -4 -.6 -3 -.8 -3 -1 -2.9 -1.5 -1.4 -1 -1.9 -2 -1 -2 -.2 -2 .2 -1 1 -2 2.2 -2 1.7 -1 2.3 -1 4 -1.2z"/><path fill="#0aff00" d="M991.8 1230.2l9.2 -.3 8 .3 8 .6 8 1.2 8 1.6 8 2.2 8 2.7 8 3.3 8 3.9 7 4.1 6 4 6 4.5 5.7 4.9 5.3 5.3 5.1 5.7 4.6 6 4 6 3.9 7 3.3 7 2.6 7 2 7 1.7 8 .9 8 .3 7 -.3 10 -.8 9 -1.5 9 -1.9 7 -2.4 6 -2.9 5 -1.5 2 -2.1 2.4 -1.7 1.6 -2.5 2 -3.4 2 -3.4 1.6 -4 1.4 -4 1 -5 1 -6 .9 -15 1.3 -23 .9 -31 .4 -38 -.2 -31 -.6 -15 -.8 -11.3 -.9 -9.7 -1.3 -7.5 -1.7 -5.9 -2 -2.6 -1.2 -3.2 -1.8 -2.8 -2 -2 -1.8 -2.1 -2.2 -1.6 -2 -2.5 -4 -2.4 -5 -2 -6 -1.7 -7 -1 -7 -.7 -8 -.2 -9 .3 -7 .7 -6 1.4 -7 1.6 -6 2.1 -6 2.6 -6 3 -6 3 -5 4.2 -6 4.8 -6 4.5 -5 5 -4.8 5 -4.4 6 -4.6 6 -4.1 6 -3.6 7 -3.7 7 -3.3 8 -3.2 8 -2.6 7 -2 7 -1.6 8 -1.4 8 -1.1z"/><path fill="#00ff0b" d="M990.5 1243.2l8.5 -.3 8 .1 8 .5 8 .9 8 1.5 7 1.7 7 2.1 7 2.6 7 3.3 6 3.2 6 3.8 6 4.5 5 4.2 5 4.9 4.4 5 4.6 6 4 6 3.3 6 3.1 7 2.1 6 1.8 7 1.2 7 .5 7 .1 7 -.4 8 -1.1 8 -1.5 7 -2.3 7 -2.8 6 -3 4.7 -1.9 2.3 -1.9 2 -3.7 3 -3.2 2 -4.2 2 -4.1 1.5 -4 1.1 -5 1.1 -5 .8 -14 1.6 -21 1.1 -24 .4 -29 -.1 -25 -.8 -14 -.8 -12 -1.2 -10 -1.6 -8 -2.1 -3 -1 -4 -1.7 -5 -3 -4.1 -3.3 -1.9 -2 -2.4 -3 -2.6 -4 -2.4 -5 -1.8 -5 -1.6 -6 -1.2 -6 -.8 -7 -.3 -7 .2 -7 .4 -5 1 -6 1.2 -5 1.9 -6 2 -5 2.9 -6 3 -5 3.5 -5 3.9 -5 4.5 -5 4.6 -4.6 5 -4.3 5 -3.8 6 -4 5 -2.9 6 -3.1 6 -2.7 6 -2.4 6 -1.9 7 -2 7 -1.5 7 -1.2 8 -1z"/><path fill="#00ff22" d="M996.1 1251.2l8.9 0 8 .3 8 .8 7 1.1 7 1.5 7 2 6 2.1 6 2.5 6 3.1 5.9 3.6 5.1 3.6 5 4.2 4.4 4.2 4.6 5 5 6.2 4 5.7 3 5.1 2.7 6 2.1 6 1.5 6 1 6 .7 7 0 7 -.6 7 -1.1 7 -1.5 6 -2.1 6 -2.4 5 -2.4 4 -3.1 4 -3.8 3.8 -4.2 3.2 -3.4 2 -4.2 2 -4.2 1.6 -4 1.2 -5.4 1.2 -5.6 1 -13 1.5 -19 1 -23 .4 -25 -.3 -21 -1 -12 -1.1 -10.5 -1.5 -8.5 -1.9 -7 -2.4 -6 -2.8 -3 -1.9 -2.8 -2 -2.3 -2 -2.9 -2.9 -3.9 -5.1 -2.3 -4 -2.3 -5 -1.8 -5 -1.3 -5 -1.1 -6 -.6 -6 -.1 -6 .3 -6 .7 -6 1.1 -5 1.4 -5 1.8 -5 2.3 -5 2.3 -4 2.7 -4 3.8 -4.9 4 -4.7 4.2 -4.4 4.8 -4.4 4.4 -3.6 4.6 -3.3 5 -3.2 5 -2.8 6 -2.8 6 -2.5 6 -2 6 -1.7 7 -1.6 7 -1.2 7 -.9 7 -.6z"/><path fill="#00ff39" d="M984 1258.2l8 -.6 9 -.2 8 .2 8 .6 7 1 7 1.3 7 1.8 7 2.4 6 2.4 5 2.5 6 3.6 5 3.6 5 4.1 5 4.8 5.1 5.5 4.9 5.8 3 4.3 2.7 4.9 2.6 6 1.9 6 1.3 6 .8 6 .3 6 -.2 6 -.7 6 -1.3 6 -1.9 6 -2 5 -2.8 5 -2.7 4 -3.5 4 -4.5 4 -3 2.1 -4 2.4 -4 1.8 -4 1.5 -4 1.2 -5 1.3 -5 .9 -6 .9 -15 1.4 -18 .7 -20 .1 -20 -.7 -13 -.9 -12 -1.4 -10 -1.8 -8 -2.3 -7 -2.8 -6 -3.4 -3 -2.2 -3 -2.5 -2.3 -2.3 -2.5 -3 -2.2 -3 -2.4 -4 -2 -4 -1.9 -5 -1.2 -4 -1.1 -5 -.7 -5 -.3 -5 .1 -5 .5 -5 .8 -5 1.2 -5 1.7 -5 1.7 -4 2 -4 2.5 -4 3 -4 3.1 -3.5 5 -5.2 5 -4.7 4.3 -3.6 4.7 -3.6 4 -2.6 5 -2.9 5 -2.5 5 -2.1 5 -1.8 6 -1.9 6 -1.5 6 -1.3 7 -1.1z"/><path fill="#00ff4f" d="M986.6 1263.2l7.4 -.5 8 -.2 8 .3 7 .7 7 1 6 1.3 7 1.9 6 2 6 2.5 5 2.6 5 3 4 2.8 5 4 6 5.4 5.2 5.2 4.3 5 2.8 4 2.7 5 2.4 6 1.5 5 1.3 6 .7 6 .1 6 -.3 5 -1 6 -1.2 5 -1.8 5 -2.2 5 -2.9 5 -3 4 -3.7 4 -3.9 3.4 -3 2.1 -4 2.3 -4 1.8 -4 1.6 -4 1.2 -5 1.3 -11 1.9 -14 1.3 -16 .7 -18 .1 -18 -.7 -13 -1.1 -11 -1.6 -9 -1.8 -8 -2.5 -7 -3 -3.5 -2 -3 -2 -2.6 -2 -2.9 -2.6 -2.3 -2.4 -2.4 -3 -2.1 -3 -2.3 -4 -1.9 -4 -1.5 -4 -1.2 -4 -1.1 -5 -.7 -5 -.2 -4 .2 -5 .6 -5 1 -5 1.1 -4 1.4 -4 1.8 -4 2.2 -4 2.4 -3.7 2.6 -3.3 3.4 -3.6 5 -4.7 5 -4.2 5 -3.9 4 -2.8 4 -2.5 5 -2.7 4 -1.9 5 -2.1 6 -2 5 -1.5 6 -1.4 6 -1.2z"/><path fill="#00ff66" d="M993.1 1267.2l6.9 -.2 7 .1 7 .6 6 .7 6 1.1 6 1.5 6 1.9 6 2.2 5 2.3 5 2.7 5 3.2 5 3.7 6 4.9 5 4.6 3.5 3.7 3 4 2.4 4 2.4 5 1.8 5 1.6 6 .8 5 .5 6 -.1 5 -.6 5 -1 5 -1.8 6 -2.1 5 -2.7 5 -2.8 4 -3.4 4 -3.5 3.3 -4 3 -3 1.8 -4 2.1 -4 1.7 -4 1.4 -5 1.4 -5 1 -12 1.9 -14 1.1 -16 .5 -17 -.4 -15 -1 -12 -1.4 -10 -1.9 -8 -2.1 -7 -2.7 -6 -3.1 -3 -1.9 -3 -2.3 -2.7 -2.4 -2.3 -2.4 -2.2 -2.6 -2.1 -3 -2.4 -4 -2 -4 -1.5 -4 -1.3 -4 -.9 -4 -.6 -4 -.3 -4 0 -4 .5 -5 .7 -4 .9 -4 1.3 -4 1.7 -4 2 -4 2.4 -4 2.3 -3 2.6 -3 3.9 -3.6 5 -4.1 5 -3.8 4 -2.8 5 -3.1 4 -2.2 5 -2.4 5 -2 5 -1.8 5 -1.5 6 -1.5 11 -2 6 -.7z"/><path fill="#00ff7c" d="M992.7 1271.2l6.3 -.3 6 .1 7 .5 6 .7 6 1 6 1.5 6 1.8 5 1.9 6 2.6 5 2.6 5 3.1 5 3.4 6 4.7 3.9 3.4 3.1 3.2 2.9 3.8 2.5 4 2.4 5 1.8 5 1.4 5 .9 5 .5 6 -.1 5 -.7 5 -1.3 6 -1.7 5 -2.2 5 -2.3 4 -2.8 4 -3.3 3.8 -3.5 3.2 -3.5 2.6 -3 1.9 -4 2 -4 1.8 -4 1.4 -9.1 2.3 -10.9 1.8 -13 1.2 -14 .6 -15 -.3 -15 -.9 -11 -1.3 -10 -1.8 -8.9 -2.3 -7.1 -2.7 -6.5 -3.3 -3.1 -2 -2.7 -2 -2.7 -2.4 -2.5 -2.6 -3.9 -5 -1.9 -3 -2.1 -4 -1.7 -4 -1.3 -4 -1 -4 -.7 -4 -.3 -4 .1 -4 .5 -5 .7 -4 1 -4 1.4 -4 1.7 -4 2 -3.7 2.1 -3.3 2.3 -3 2.8 -3 2.8 -2.6 4 -3.1 4 -2.9 5 -3.3 5 -3 5 -2.6 4 -1.8 5 -2.1 5 -1.7 10 -2.8 10 -1.9 6 -.7z"/><path fill="#00ff93" d="M988.5 1275.2l6.5 -.5 6 -.1 6 .1 6 .5 6 .9 6 1.1 6 1.6 5 1.6 6 2.3 6 2.8 5 2.7 5 3.1 5 3.5 4.3 3.4 3.7 3.5 2.9 3.5 2.7 4 2.1 4 1.7 4 1.6 5 1.2 5 .6 5 .2 5 -.3 5 -.9 5 -1.3 5 -1.9 5 -2 4 -2.4 4 -3.1 4 -3.1 3.3 -4 3.4 -3.3 2.3 -3.5 2 -6.8 3 -8.4 2.6 -10 2 -11 1.4 -13 .8 -13 .1 -13 -.5 -12 -1.1 -10 -1.5 -10 -2.2 -8 -2.6 -6.6 -3 -3.4 -1.9 -3 -2 -4.9 -4.1 -2.1 -2.1 -2.5 -2.9 -2.1 -3 -2.4 -4 -1.4 -3 -1.6 -4 -1.2 -4 -.9 -4 -.5 -4 -.2 -3 .2 -4 .4 -4 .8 -4 1.1 -4 1.4 -4 1.9 -4 2.3 -4 2 -3 2.6 -3 1.9 -2 3.2 -2.7 3 -2.3 4 -2.7 5 -3 9 -4.7 10 -4.1 9 -2.8 10 -2.3z"/><path fill="#00ffaa" d="M993.9 1278.2l6.1 -.2 5 .1 6 .4 5 .6 5 .8 6 1.3 5 1.4 6 2.1 5 2.1 6 2.8 5 2.7 5 3.1 4 2.9 3.3 2.9 2.9 3 3.1 4 2.4 4 1.9 4 1.6 4 1.3 5 .9 5 .4 5 0 4 -.6 5 -.8 4 -1.6 5 -2.1 5 -2.2 4 -2.8 4 -3.6 4 -3.3 3 -3.8 2.9 -3.5 2.1 -3.5 1.8 -7 2.7 -9 2.4 -10 1.8 -12 1.2 -12 .4 -13 -.2 -13 -1 -10 -1.3 -9.3 -1.8 -8.7 -2.4 -6.6 -2.6 -5.8 -3 -3.1 -2 -2.6 -2 -2.9 -2.5 -2.4 -2.5 -3.9 -5 -1.9 -3 -2 -4 -1.3 -3 -1.2 -4 -1 -4 -.4 -3 -.2 -3 0 -4 .4 -4 .7 -4 1.1 -4 1 -3 1.8 -4 1.6 -3 1.9 -3 2.8 -3.6 2.2 -2.4 2.8 -2.5 3.3 -2.5 3.7 -2.5 4 -2.3 5 -2.6 9 -4 9 -3.2 10 -2.7 10 -1.7z"/><path fill="#00ffc0" d="M998 1281.2l5 0 6 .3 5 .5 6 .9 5 1.1 6 1.6 6 2 5 1.9 5 2.3 5 2.5 4 2.3 4 2.8 3.4 2.8 2.6 2.7 2.7 3.3 2 3 2.2 4 1.7 4 1.3 4 1.2 5 .6 5 .2 4 -.3 4 -.8 5 -1.4 5 -1.6 4 -2 4 -2.5 4 -3.2 4 -3 3 -3.6 3 -3.5 2.4 -3 1.7 -4 1.8 -8 2.9 -9 2.1 -10 1.6 -11 .9 -12 .3 -12 -.5 -12 -1.1 -9 -1.4 -9 -2 -8 -2.6 -6 -2.6 -6 -3.5 -5.2 -4 -2.8 -2.7 -2 -2.3 -3.5 -5 -1.7 -3 -1.4 -3 -1.2 -3 -1.1 -4 -.8 -4 -.3 -3 -.1 -3 .2 -4 .6 -4 1 -4 1.3 -4 1.3 -3 1.5 -3 1.9 -3 2.1 -3 2.7 -3 2.5 -2.4 3 -2.4 6 -3.9 8 -4 10 -4 9 -2.8 10 -2.4 10 -1.4z"/><path fill="#00ffd7" d="M996.5 1284.2l5.5 -.1 6 .2 5 .5 6 .9 5 1 5 1.2 6 1.8 5 1.9 5 2 5 2.4 3.9 2.2 3 2 3.1 2.5 2.6 2.5 2.6 3 2.2 3 2.3 4 1.8 4 1.4 4 1 4 .8 5 .3 4 -.2 4 -.6 4 -1.2 5 -1.5 4 -1.8 4 -2.5 4 -3 4 -2.8 3 -3.4 2.9 -3 2.2 -3 1.8 -3 1.6 -4 1.7 -4 1.4 -8.9 2.4 -9.1 1.6 -10 1 -11 .4 -12 -.3 -11 -.9 -9 -1.3 -9 -1.9 -8 -2.4 -7 -2.9 -5.9 -3.3 -5.1 -3.9 -4.1 -4.1 -3.9 -5 -1.8 -3 -1.5 -3 -1.2 -3 -1.2 -4 -.9 -4 -.3 -3 .1 -6 .5 -4 .7 -3 1.2 -4 1.1 -3 1.5 -3 1.8 -3 2.1 -3 2.5 -3 4.4 -4.2 3 -2.3 3 -1.9 7 -3.5 9 -3.6 10 -3.1 9 -2.1 10 -1.6z"/><path fill="#00ffee" d="M991.6 1287.2l10.4 -.4 5 .2 6 .5 10 1.6 10 2.6 5 1.6 5 1.9 4 1.8 4.1 2.2 3.1 2 2.8 2.1 3.1 2.9 2.6 3 2.1 3 2.3 4 1.9 4 1.3 4 1 4 .7 5 .1 4 -.2 4 -.7 4 -1.1 4 -1.5 4 -2 4 -2.6 4 -2.3 3 -2.9 3 -3.5 3 -5.3 3.4 -3 1.6 -4 1.7 -8 2.6 -8 1.8 -9 1.3 -10 .8 -10 .1 -11 -.5 -10 -1 -9 -1.6 -8 -1.9 -7 -2.4 -6.5 -2.9 -5.5 -3.4 -5 -4.1 -4 -4.5 -2.2 -3 -1.8 -3 -1.5 -3 -1.2 -3 -.9 -3 -.9 -4 -.3 -3 -.1 -3 .2 -3 .5 -4 1 -4 1 -3 1.2 -3 1.5 -3 1.9 -3 2.2 -3 3.7 -4 2.3 -2 2.6 -2 5.8 -3.4 7 -3.1 9 -3.1 10 -2.7 9 -1.6z"/><path fill="#00fbff" d="M986 1290.2l11 -.8 6 0 5 .2 10 1 10 2 5 1.3 5 1.7 5 1.9 3.6 1.7 3.4 1.9 3 2 2.6 2.1 2.4 2.3 3 3.6 2.1 3.1 1.6 3 1.8 4 1.3 4 .9 4 .6 5 0 4 -.4 4 -.8 4 -1.2 4 -1.2 3 -2.1 4 -1.9 3 -2.4 3 -2.9 3 -2.3 2 -2.7 2 -5.4 3.1 -6.9 2.9 -7.1 2.1 -8 1.7 -9 1.2 -9 .5 -10 0 -10 -.5 -9 -1.1 -9 -1.6 -8 -2.1 -7 -2.6 -6 -2.9 -2.7 -1.7 -2.8 -2 -4.5 -4.1 -3.9 -4.9 -1.9 -3 -1.5 -3 -1.3 -3 -.9 -3 -.9 -4 -.4 -3 -.1 -3 .2 -3 .6 -4 .7 -3 .9 -3 1.2 -3 1.5 -3 1.8 -3 2 -2.7 1.9 -2.3 4.1 -3.8 4.5 -3.2 5.7 -3 6.8 -2.7 9 -2.8 9 -2z"/><path fill="#00e7ff" d="M988.7 1292.2l11.3 -.5 10 .3 10 1.1 9 1.9 5 1.4 4 1.3 4 1.6 3.9 1.9 3.4 2 2.7 1.9 2.4 2.1 1.9 2 2.5 3 2 3 1.6 3 1.6 4 1.2 4 .8 4 .5 4 0 4 -.3 4 -.9 4 -1.2 4 -1.3 3 -1.5 3 -2.3 3.5 -2 2.5 -3 3.1 -2.2 1.9 -2.8 2 -5.5 3 -6.5 2.7 -7 2 -8 1.6 -8 1 -9 .5 -10 -.1 -10 -.6 -9 -1.1 -8 -1.6 -8 -2.3 -6 -2.3 -6 -3.2 -5.2 -3.6 -4.1 -4 -1.7 -2.1 -2.1 -2.9 -1.7 -3 -1.3 -3 -1.1 -3 -.8 -3 -.5 -3 -.3 -3 .3 -6 .6 -4 .8 -3 1 -3 1.3 -3 3 -5 3.8 -4.6 4 -3.6 5 -3.3 6 -2.9 8 -2.8 8 -2.1 8 -1.5z"/><path fill="#00d4ff" d="M990.2 1294.2l10.8 -.4 10 .4 10 1.2 9 1.9 8 2.6 3.2 1.3 3.8 1.9 5 3.4 3 2.7 1.9 2 2.3 3 1.8 3 1.5 3 1.4 4 .8 3 .7 4 .3 4 0 4 -.5 4 -.6 3 -1.3 4 -1.3 3 -1.6 3 -2 3 -2.4 2.8 -2.2 2.2 -4.8 3.6 -5 2.8 -6 2.5 -7 2.1 -8 1.6 -8 .9 -9 .5 -9 -.1 -9 -.6 -9 -1.1 -8 -1.6 -7 -2 -6.7 -2.6 -5.3 -2.8 -4.5 -3.2 -4.3 -4 -1.6 -2 -2.1 -3 -2.6 -5 -1.1 -3 -.8 -3 -.5 -3 -.2 -3 0 -3 .3 -4 .6 -3 .7 -3 1.1 -3 1.4 -3 1.6 -2.8 1.5 -2.2 3.5 -4 2.2 -2 2.6 -2 5 -3 5.2 -2.4 7 -2.4 8 -1.9 8 -1.4z"/><path fill="#00c1ff" d="M990.5 1296.2l10.5 -.3 10 .3 9 1 9 1.9 7 2.2 6.4 2.9 3.2 2 2.4 1.8 2.5 2.2 1.9 2 2.3 3 1.9 3 1.4 3 1.1 3 .8 3 .7 4 .3 4 0 4 -.5 4 -.6 3 -1 3 -1.2 3 -1.6 3 -2 3 -2 2.3 -2.8 2.7 -4.2 3.2 -5.1 2.8 -5.9 2.4 -7 2.1 -7 1.3 -8 .9 -9 .4 -9 -.1 -9 -.7 -8 -1 -7 -1.5 -6.3 -1.8 -5.7 -2.2 -5.4 -2.8 -4.6 -3.2 -4.1 -3.8 -1.9 -2.3 -1.9 -2.7 -2.4 -5 -1.6 -5 -.5 -3 -.3 -3 0 -3 .4 -4 .5 -3 .8 -2.9 2 -5.1 1.8 -3 1.4 -2 3.5 -4 4.3 -3.5 5 -3.1 5.3 -2.4 6.7 -2.2 7 -1.7 8 -1.3z"/><path fill="#00adff" d="M990.4 1298.2l9.6 -.3 10 .2 9 1 8 1.5 7 2.2 6 2.8 2.7 1.6 2.8 2 2.3 2 2 2 2.2 2.7 1.5 2.3 1.5 3 1.2 3 .8 3 .8 4 .3 4 0 3 -.4 4 -.6 3 -.9 3 -1.2 3 -1.6 3 -1.4 2.2 -2 2.5 -2.3 2.3 -3.8 3 -5.1 3 -5.8 2.5 -6 1.8 -7 1.5 -7 .9 -8 .4 -9 0 -8 -.5 -8 -.9 -7 -1.3 -7 -1.9 -6 -2.4 -5 -2.6 -5 -3.5 -3.2 -3 -3.2 -4 -1.6 -2.7 -1.1 -2.3 -1.6 -5 -.8 -5 -.1 -3 .2 -3 .4 -3 .6 -3 1.8 -5 1.6 -3 1.3 -2 3.3 -4 3.4 -3 5 -3.3 5.4 -2.7 5.6 -2 7.8 -2 7.2 -1.2z"/><path fill="#009aff" d="M990.6 1300.2l10.4 -.3 9 .2 8 .9 7 1.3 7 2.2 5.8 2.7 4.7 3 2.4 2 2 2 2.1 2.5 1.7 2.5 1.3 2.4 1.1 2.6 .9 3 .6 3 .4 3 .2 4 -.2 3 -.4 3 -.8 3 -1 3 -1.5 3 -1.3 2.1 -2 2.6 -2.2 2.3 -3.8 3.2 -4.6 2.8 -4.4 2 -6 2.1 -6 1.4 -7 1 -8 .6 -8 0 -8 -.3 -8 -.9 -7 -1.3 -6 -1.6 -5.5 -2 -5.5 -2.7 -4.8 -3.3 -3.3 -3 -3.3 -4 -2.3 -4 -1.7 -5 -.8 -5 -.1 -3 .1 -3 .9 -5 1.7 -5 1.6 -3 1.3 -2 3.5 -4 3.5 -3 4.6 -3 5.1 -2.5 6 -2.1 6 -1.5 7 -1.2z"/><path fill="#0087ff" d="M992 1302.2l9 -.3 9 .3 8 1 6 1.2 6 1.9 3 1.3 3 1.6 4.5 3 2.3 2 2 2 2.2 2.8 1.3 2.2 1 2 1.2 3 .8 3 .5 3 .3 3 0 3 -.3 3 -.6 3 -.9 3 -.9 2 -1.4 2.7 -1.6 2.3 -1.7 2 -2 2 -3.8 3 -4.9 2.9 -5 2.1 -5 1.5 -6 1.3 -7 .8 -7 .4 -8 -.1 -7 -.4 -7 -.8 -6 -1.2 -6 -1.7 -5 -1.9 -5 -2.6 -4.6 -3.3 -3.2 -3 -3 -4 -2.1 -4 -1.3 -4 -.7 -5 .2 -5 .9 -5 .8 -2.4 1.1 -2.6 2.5 -4 3.4 -3.8 3.9 -3.2 4.1 -2.6 5 -2.3 5 -1.8 6 -1.5 7 -1.1z"/><path fill="#0074ff" d="M996.6 1304.2l8.4 0 7 .5 7 1 6 1.6 5.1 1.9 2.9 1.5 2.6 1.5 3.9 3 2 2 1.7 2 1.8 2.7 1.2 2.3 .9 2 .9 3 .5 3 .3 3 -.2 5 -.5 3 -.6 2 -1.2 3 -1 2 -1.3 2 -2 2.4 -4 3.7 -4 2.7 -4.4 2.2 -5.6 2 -5 1.2 -6 1 -6 .5 -7 .1 -8 -.3 -6 -.6 -6 -1 -6 -1.5 -5 -1.7 -5 -2.4 -3.6 -2.3 -3.6 -3 -2.8 -3.1 -2.6 -3.9 -1.6 -4 -.9 -4 -.2 -5 .7 -5 1.3 -4 2 -4 3.1 -4 3.2 -3 4 -2.8 4.1 -2.2 4.9 -2 5 -1.5 6 -1.2 7 -.9z"/><path fill="#0060ff" d="M988.5 1307.2l7.5 -.6 8 0 7 .4 7 1.1 6 1.7 5 2 4.2 2.4 3.8 3 2 2 1.6 2 2.3 4 1.1 2.8 .6 2.2 .7 5 -.2 5 -.6 3 -.6 2 -1.9 4 -3 4 -3 2.8 -3 2.2 -4 2.2 -5 2.1 -5 1.3 -5 1 -6 .6 -6 .2 -7 -.1 -6 -.5 -5.7 -.8 -5.3 -1.2 -5.6 -1.8 -4.4 -2 -4 -2.3 -3.4 -2.7 -2.9 -3 -2.6 -4 -1.3 -3 -1 -4 -.3 -4 .4 -4 1 -4 1.9 -4 2 -3 2.8 -3 3.4 -2.7 4 -2.5 5 -2.2 4.9 -1.6 5.1 -1.2z"/><path fill="#004dff" d="M996.3 1309.2l6.7 -.1 6 .3 6 .9 5 1.2 4.9 1.7 4.1 2.1 4 2.8 3.1 3.1 1.5 2 1.2 2 1.7 4 .5 2 .5 3 .1 3 -.1 2 -.8 4 -1.7 4 -1.3 2 -1.5 2 -3.1 3 -3.1 2.2 -4 2.2 -4.1 1.6 -4.9 1.3 -5 .9 -5 .5 -6 .2 -6 -.2 -6 -.5 -5 -.8 -5 -1.2 -4 -1.4 -4 -1.7 -3.6 -2.1 -2.6 -2 -3.1 -3 -2.1 -3 -1.9 -4 -.8 -3 -.2 -4 .4 -4 .9 -3.3 1.7 -3.7 2.1 -3 3 -3 2.6 -2 3.6 -2.2 4.1 -1.8 4.9 -1.6 5 -1.2 5 -.7z"/><path fill="#003aff" d="M994 1312.2l6 -.3 6 .2 6 .6 5 1.1 4.3 1.4 4.3 2 3.4 2.3 3 2.7 2.3 3 1.9 4 1.1 4 .2 4 -.5 4 -1 3.1 -.9 1.9 -1.3 2 -2.7 3 -2.4 2 -3.2 2 -3.5 1.7 -4 1.3 -4.1 1 -4.9 .7 -5 .4 -6 0 -5 -.3 -5 -.6 -5 -1.1 -4 -1.2 -4 -1.6 -3 -1.6 -3 -2.1 -2.9 -2.6 -2.3 -3 -1.5 -3 -.8 -3 -.4 -3 .3 -4 .8 -3 1.3 -3 2 -3 1.7 -2 2.8 -2.4 3 -1.9 3.4 -1.7 4.6 -1.7 4 -1 4 -.7z"/><path fill="#0027ff" d="M997 1315.2l5 -.1 5 .3 5 .7 4.5 1.1 3.5 1.3 3.2 1.7 2.9 2 2.9 3 1.9 3 1.3 3 .7 4 0 3 -.5 3 -1.4 3.4 -2 2.9 -2.8 2.7 -2.9 2 -2.3 1.2 -3 1.3 -4 1.1 -4 .8 -4 .4 -4 .2 -5 -.1 -4 -.3 -4.2 -.6 -4.4 -1 -3.4 -1.1 -3 -1.3 -3 -1.6 -2.7 -2 -2.3 -2.3 -1.9 -2.7 -.9 -2 -.9 -3 -.1 -3 .3 -3 .9 -3 1.6 -3 1.5 -2 2 -2 2.7 -2 2.8 -1.6 3.2 -1.4 3.1 -1 4.2 -1 4.5 -.7z"/><path fill="#0013ff" d="M994.4 1319.2l4.6 -.3 4 0 4 .3 4 .6 4 1.2 2.8 1.2 2.2 1.3 2.3 1.7 1.9 2 1.8 2.8 .9 2.2 .6 3 0 3 -.6 3 -1 2 -1.9 2.6 -2 1.9 -2 1.4 -2 1.1 -3 1.3 -3 .9 -4 .7 -7 .5 -4 -.2 -4 -.4 -4 -.7 -3 -.8 -3 -1.1 -2.4 -1.2 -2.6 -1.7 -1.6 -1.3 -1.8 -2 -1.3 -2 -.8 -2 -.4 -2 0 -2 .4 -3 .7 -2 1.1 -2 1.5 -2 2.1 -2 2.1 -1.5 2 -1.1 3 -1.3 3 -.9z"/><path fill="#0000ff" d="M994.6 1324.2l3.4 -.4 3 -.1 3 .1 3 .4 3 .7 2 .7 2 1 2 1.3 1.4 1.3 1.6 2 1 2 .5 2 .1 2 -.3 2 -.4 1 -1.1 2 -.8 1 -2 1.8 -2 1.2 -2 .9 -4 1.2 -5 .6 -6 -.2 -5 -.8 -2.5 -.7 -2.5 -1 -3 -1.8 -2.3 -2.2 -.7 -1 -.9 -2 -.3 -2 .1 -2 1 -3 1.1 -1.6 1.2 -1.4 2.8 -2.1 4 -1.8z"/></g>
<path fill="#000" fill-rule="evenodd" d="M781.00 1173.20h417.50v418.20h-417.50zM783.56 1175.86h412.28v412.30h-412.28z"/>
<path d="M782.30 1590.90v11.82M781.50 1589.90h-11.82M838.34 1590.90v6.40M781.50 1533.65h-6.40M894.38 1590.90v11.82M781.50 1477.41h-11.82M950.42 1590.90v6.40M781.50 1421.16h-6.40M1006.46 1590.90v11.82M781.50 1364.91h-11.82M1062.50 1590.90v6.40M781.50 1308.66h-6.40M1118.54 1590.90v11.82M781.50 1252.42h-11.82M1174.58 1590.90v6.40M781.50 1196.17h-6.40" stroke="#000" stroke-width="2.76" fill="none"/>
<text x="782.3" y="1626.8" font-size="21.16" font-weight="bold" text-anchor="middle" fill="#000">0.0</text>
<text x="759.4" y="1595.5" font-size="21.16" font-weight="bold" text-anchor="end" fill="#000">0.0</text>
<text x="894.4" y="1626.8" font-size="21.16" font-weight="bold" text-anchor="middle" fill="#000">2.0n</text>
<text x="759.4" y="1483.0" font-size="21.16" font-weight="bold" text-anchor="end" fill="#000">2.0n</text>
<text x="1006.5" y="1626.8" font-size="21.16" font-weight="bold" text-anchor="middle" fill="#000">4.0n</text>
<text x="759.4" y="1370.5" font-size="21.16" font-weight="bold" text-anchor="end" fill="#000">4.0n</text>
<text x="1118.5" y="1626.8" font-size="21.16" font-weight="bold" text-anchor="middle" fill="#000">6.0n</text>
<text x="759.4" y="1258.0" font-size="21.16" font-weight="bold" text-anchor="end" fill="#000">6.0n</text>
<text x="989.8" y="1664.7" font-size="21.16" font-weight="bold" text-anchor="middle" fill="#000">Electron position (m)</text>
<text x="699.8" y="1380.8" font-size="21.16" font-weight="bold" text-anchor="middle" fill="#000" transform="rotate(-90 699.8 1380.8)">Hole position (m)</text>
<text x="803.2" y="1220.3" font-size="29.60" font-weight="bold" fill="#fff">5.4x10<tspan dy="-12.4" font-size="17.76">5</tspan><tspan dy="12.4"> V/cm</tspan></text>
<text x="752.2" y="1202.2" font-size="30.80" stroke="#000" stroke-width="1.05" text-anchor="middle" font-family="'Noto Serif CJK SC', 'Noto Sans CJK SC', 'DejaVu Sans', serif" fill="#000">②</text>
<rect x="1207.60" y="1572.58" width="30.20" height="8.57" fill="#0000ff"/><rect x="1207.60" y="1564.62" width="30.20" height="8.57" fill="#0013ff"/><rect x="1207.60" y="1556.65" width="30.20" height="8.57" fill="#0027ff"/><rect x="1207.60" y="1548.68" width="30.20" height="8.57" fill="#003aff"/><rect x="1207.60" y="1540.72" width="30.20" height="8.57" fill="#004dff"/><rect x="1207.60" y="1532.75" width="30.20" height="8.57" fill="#0060ff"/><rect x="1207.60" y="1524.79" width="30.20" height="8.57" fill="#0074ff"/><rect x="1207.60" y="1516.82" width="30.20" height="8.57" fill="#0087ff"/><rect x="1207.60" y="1508.86" width="30.20" height="8.57" fill="#009aff"/><rect x="1207.60" y="1500.89" width="30.20" height="8.57" fill="#00adff"/><rect x="1207.60" y="1492.92" width="30.20" height="8.57" fill="#00c1ff"/><rect x="1207.60" y="1484.96" width="30.20" height="8.57" fill="#00d4ff"/><rect x="1207.60" y="1476.99" width="30.20" height="8.57" fill="#00e7ff"/><rect x="1207.60" y="1469.03" width="30.20" height="8.57" fill="#00fbff"/><rect x="1207.60" y="1461.06" width="30.20" height="8.57" fill="#00ffee"/><rect x="1207.60" y="1453.09" width="30.20" height="8.57" fill="#00ffd7"/><rect x="1207.60" y="1445.13" width="30.20" height="8.57" fill="#00ffc0"/><rect x="1207.60" y="1437.16" width="30.20" height="8.57" fill="#00ffaa"/><rect x="1207.60" y="1429.20" width="30.20" height="8.57" fill="#00ff93"/><rect x="1207.60" y="1421.23" width="30.20" height="8.57" fill="#00ff7c"/><rect x="1207.60" y="1413.26" width="30.20" height="8.57" fill="#00ff66"/><rect x="1207.60" y="1405.30" width="30.20" height="8.57" fill="#00ff4f"/><rect x="1207.60" y="1397.33" width="30.20" height="8.57" fill="#00ff39"/><rect x="1207.60" y="1389.37" width="30.20" height="8.57" fill="#00ff22"/><rect x="1207.60" y="1381.40" width="30.20" height="8.57" fill="#00ff0b"/><rect x="1207.60" y="1373.43" width="30.20" height="8.57" fill="#0aff00"/><rect x="1207.60" y="1365.47" width="30.20" height="8.57" fill="#1fff00"/><rect x="1207.60" y="1357.50" width="30.20" height="8.57" fill="#34ff00"/><rect x="1207.60" y="1349.54" width="30.20" height="8.57" fill="#49ff00"/><rect x="1207.60" y="1341.57" width="30.20" height="8.57" fill="#5eff00"/><rect x="1207.60" y="1333.60" width="30.20" height="8.57" fill="#72ff00"/><rect x="1207.60" y="1325.64" width="30.20" height="8.57" fill="#87ff00"/><rect x="1207.60" y="1317.67" width="30.20" height="8.57" fill="#9cff00"/><rect x="1207.60" y="1309.71" width="30.20" height="8.57" fill="#b1ff00"/><rect x="1207.60" y="1301.74" width="30.20" height="8.57" fill="#c6ff00"/><rect x="1207.60" y="1293.77" width="30.20" height="8.57" fill="#dbff00"/><rect x="1207.60" y="1285.81" width="30.20" height="8.57" fill="#efff00"/><rect x="1207.60" y="1277.84" width="30.20" height="8.57" fill="#fffa00"/><rect x="1207.60" y="1269.88" width="30.20" height="8.57" fill="#ffe500"/><rect x="1207.60" y="1261.91" width="30.20" height="8.57" fill="#ffd000"/><rect x="1207.60" y="1253.94" width="30.20" height="8.57" fill="#ffbb00"/><rect x="1207.60" y="1245.98" width="30.20" height="8.57" fill="#ffa700"/><rect x="1207.60" y="1238.01" width="30.20" height="8.57" fill="#ff9200"/><rect x="1207.60" y="1230.05" width="30.20" height="8.57" fill="#ff7d00"/><rect x="1207.60" y="1222.08" width="30.20" height="8.57" fill="#ff6800"/><rect x="1207.60" y="1214.12" width="30.20" height="8.57" fill="#ff5300"/><rect x="1207.60" y="1206.15" width="30.20" height="8.57" fill="#ff3e00"/><rect x="1207.60" y="1198.18" width="30.20" height="8.57" fill="#ff2a00"/><rect x="1207.60" y="1190.22" width="30.20" height="8.57" fill="#ff1500"/><rect x="1207.60" y="1182.25" width="30.20" height="8.57" fill="#ff0000"/><rect x="1207.60" y="1580.85" width="30.20" height="9.15" fill="#000"/><rect x="1207.60" y="1173.40" width="30.20" height="9.15" fill="#fff"/>
<rect x="1208.20" y="1174.00" width="29.00" height="415.40" fill="none" stroke="#111" stroke-width="1.20"/>
<text x="1250.9" y="1188.4" font-size="18.20" font-weight="normal" text-anchor="start" fill="#111" textLength="43.7" lengthAdjust="spacingAndGlyphs">0.415</text>
<text x="1250.9" y="1238.3" font-size="18.20" font-weight="normal" text-anchor="start" fill="#111" textLength="43.7" lengthAdjust="spacingAndGlyphs">0.302</text>
<text x="1250.9" y="1288.1" font-size="18.20" font-weight="normal" text-anchor="start" fill="#111" textLength="43.7" lengthAdjust="spacingAndGlyphs">0.189</text>
<text x="1250.9" y="1338.0" font-size="18.20" font-weight="normal" text-anchor="start" fill="#111" textLength="53.4" lengthAdjust="spacingAndGlyphs">0.0756</text>
<text x="1250.9" y="1387.9" font-size="18.20" font-weight="normal" text-anchor="start" fill="#111" textLength="59.3" lengthAdjust="spacingAndGlyphs">-0.0375</text>
<text x="1250.9" y="1437.8" font-size="18.20" font-weight="normal" text-anchor="start" fill="#111" textLength="49.5" lengthAdjust="spacingAndGlyphs">-0.151</text>
<text x="1250.9" y="1487.7" font-size="18.20" font-weight="normal" text-anchor="start" fill="#111" textLength="49.5" lengthAdjust="spacingAndGlyphs">-0.264</text>
<text x="1250.9" y="1537.6" font-size="18.20" font-weight="normal" text-anchor="start" fill="#111" textLength="49.5" lengthAdjust="spacingAndGlyphs">-0.377</text>
<text x="1250.9" y="1587.5" font-size="18.20" font-weight="normal" text-anchor="start" fill="#111" textLength="49.5" lengthAdjust="spacingAndGlyphs">-0.490</text>
<path d="M1237.30 1182.15h5.90M1237.30 1232.04h5.90M1237.30 1281.93h5.90M1237.30 1331.81h5.90M1237.30 1381.70h5.90M1237.30 1431.59h5.90M1237.30 1481.47h5.90M1237.30 1531.36h5.90M1237.30 1581.25h5.90" stroke="#1a1a1a" stroke-width="1.48" fill="none"/></g>
<!-- panel b3 -->
<g><clipPath id="cb3"><rect x="1415.7" y="1183.2" width="408.2" height="409.3"/></clipPath><g clip-path="url(#cb3)" fill-rule="evenodd" shape-rendering="geometricPrecision"><rect x="1415.7" y="1183.2" width="408.2" height="409.3" fill="#00ff0b"/><path fill="#0aff00" d="M1617.4 1211.2l8.3 -.5 8 -.2 8 .3 8 .6 8 1.1 7 1.4 8 1.9 7 2.2 7 2.5 7 3 7 3.4 6 3.4 6 3.9 6 4.3 6 5 4.9 4.7 5.1 5.5 4.4 5.5 4.2 6 3.5 6 3.4 7 2.4 6 1.9 6 1.5 7 1 7 .4 6 -.2 6 -.8 6 -1.7 6 -2.1 5 -2.4 4 -3.3 4 -2.1 2 -3.1 2.3 -2.9 1.7 -4.1 1.8 -3.4 1.2 -4.6 1.2 -5 1 -5.1 .8 -12.9 1.3 -18 .9 -24 .5 -28 .2 -33 -.2 -27 -.6 -19 -.8 -14 -1.2 -6 -.8 -5 -.9 -5 -1.2 -3.8 -1.2 -4.2 -1.8 -3 -1.6 -3 -2 -3 -2.6 -2.7 -3 -2.7 -4 -2 -4 -1.7 -5 -1.1 -5 -.6 -5 -.1 -6 .5 -6 1 -6 1.7 -7 2 -6 2.2 -5 3 -6 3 -5 3.5 -5 3.9 -5 4.5 -5 4.6 -4.5 5 -4.4 5 -3.9 5 -3.6 6 -3.8 6 -3.4 6 -3.1 7 -3.1 7 -2.7 6 -2 7 -2.1 8 -2 7 -1.3 8 -1.3zM1569.4 1440.2l31.3 -.7 36 -.2 35 .4 27 .9 13 1 6 .8 5 1 4 1 4 1.4 2.9 1.4 3.2 2 3.5 3 1.7 2 1.4 2 1.2 2 1.4 3 1.7 5 .9 5 .4 6 -.4 9 -.8 8 -1.5 9 -1.8 8 -2.4 8 -3 8 -3.6 8 -3.7 7 -4.2 7 -5 7 -4.8 6 -5.1 5.6 -5 4.8 -6 5.1 -5 3.8 -6 4 -5 2.9 -8.9 4.8 -3.1 2 -86.1 0 -3.3 -2 -8.6 -4.3 -6 -3.3 -6 -3.8 -6 -4.2 -6 -4.9 -5 -4.5 -5 -5.1 -5.2 -5.9 -4.6 -6 -4.7 -7 -4 -7 -3.1 -6 -3 -7 -2.9 -8 -2.1 -7 -1.7 -7 -1.2 -7 -.9 -8 -.4 -8 .1 -6 .5 -4 .9 -4 1.5 -4 2 -4 2 -3 2.8 -3 2.5 -2 3.2 -2 3.3 -1.5 4.5 -1.5 4.2 -1 5.3 -.9 12 -1.3z"/><path fill="#1fff00" d="M1615.2 1227.2l7.5 -.5 8 -.3 8 .1 7 .4 7 .7 7 1.1 6 1.2 7 1.8 6 1.9 6 2.2 6 2.7 6 3.1 5 2.9 5.6 3.7 5.2 4 4.7 4 5 5 4.5 5.1 4.5 5.9 4.5 6.7 3 5 2.1 4.3 1.9 5 1.3 5 1.1 6 .4 6 -.1 5 -.8 5 -1.5 5 -1.7 4 -2.3 4 -3.2 4 -3.1 3 -2.6 2 -3.2 2 -3.3 1.7 -4 1.6 -4 1.3 -9 2 -11 1.6 -14 1.2 -19 .8 -22 .4 -27 -.1 -25 -.7 -19 -1 -15 -1.4 -6 -1 -5 -1 -5 -1.3 -4 -1.3 -4.2 -1.8 -3.8 -2 -3 -2 -3 -2.5 -3 -3.1 -2.5 -3.4 -2.3 -4 -1.6 -4 -1.2 -4 -.8 -5 -.2 -4 .3 -5 .7 -5 1.2 -5 1.6 -5 1.8 -4 2.1 -4 2.9 -4.5 4 -5.7 4 -5 4 -4.5 4 -4 4 -3.5 4.8 -3.8 4.2 -3 5 -3.2 5 -2.8 6 -3 5 -2.2 6 -2.3 6 -2 7 -2 6 -1.4 7 -1.4 7 -1zM1593.1 1441.2l29.6 -.6 27 .1 26 .8 11 .7 9 .8 7 .9 5 .9 5 1.3 4 1.3 4 1.8 3.6 2 3.4 2.4 2.8 2.6 3.2 4 2.3 4 1.5 4 1.1 5 .3 6 -.4 8 -1.1 8 -1.5 7 -1.9 7 -2.6 7 -3.3 7 -3.8 7 -4.6 7.6 -4.5 6.4 -4.5 5.7 -5 5.3 -4 3.7 -4 3.3 -4 3 -4 2.6 -4 2.4 -5 2.6 -9 3.8 -5 1.7 -5 1.5 -10 2.2 -5 .7 -6 .6 -5 .2 -6 .1 -6 -.2 -6 -.5 -11 -1.6 -6 -1.3 -5 -1.3 -6 -1.8 -5 -1.9 -5 -2.1 -5 -2.4 -5 -2.7 -4 -2.5 -4 -2.8 -4.4 -3.3 -3.6 -3.1 -4 -3.9 -4 -4.4 -3.8 -4.6 -3.6 -5 -3.6 -5.5 -3.8 -6.5 -3.1 -6 -2.3 -5 -1.9 -5 -2.2 -7 -1.4 -6 -1 -6 -.7 -7 -.3 -6 .2 -4 .7 -4 1.3 -4 1.4 -3 2.1 -3.5 2 -2.5 3 -2.9 2.7 -2.1 3.2 -2 3.1 -1.5 4 -1.6 4 -1.3 4 -.9 10 -1.6 14 -1.2z"/><path fill="#34ff00" d="M1624.7 1236.7l7 -.2 5 .1 6 .3 6 .6 5 .8 6 1.2 5 1.3 6 1.9 5 1.9 5 2.1 5 2.5 4 2.2 5 3.2 4.9 3.6 4.1 3.4 14.4 13.6 7.6 6.8 3 3 2 2.5 1.8 2.7 1.5 3 1.3 3 1.5 5 1 5 .3 5 -.4 5 -1.2 5 -1.6 4 -2.2 4 -3 4 -2.8 3 -2.3 2 -2.9 2.1 -4 2.4 -4 2 -3.8 1.5 -8.2 2.4 -10 1.9 -12 1.4 -16 1 -20 .6 -23 0 -24 -.7 -19 -1.1 -14 -1.6 -6 -1 -5 -1.1 -5 -1.4 -4 -1.4 -4.5 -2 -3.7 -2 -3.8 -2.5 -3.1 -2.5 -2 -2 -2.6 -3 -2.1 -3 -1.7 -3 -1.3 -3 -1 -3 -.6 -3 -.4 -4 .1 -3 .4 -4 .8 -4 1.2 -4 1.7 -4 1.6 -3 2 -3 2 -2.4 4 -3.9 17 -15.3 4 -3.4 4 -3 4 -2.7 9 -5.2 5 -2.4 6 -2.5 7 -2.5 6 -1.9 6 -1.5 7 -1.5 7 -1.1zM1605.9 1442.2l25.8 -.4 23 .4 21 1.1 9 .8 8 1 6 1 5 1.2 4 1.3 4 1.6 4 2.1 4 2.7 3 2.4 2.7 2.8 3 4 2.1 4 1.4 4 .6 4 -.1 6 -.9 8 -1.5 7 -1.7 6 -1.9 5 -1.8 4 -2.3 4 -2.6 3.9 -8 10.5 -5 6.3 -5 5.5 -5 4.7 -7 5.4 -4 2.7 -5 2.9 -9 4.6 -5 2.1 -5 1.8 -9 2.6 -9 1.6 -9 .8 -4 .1 -5 -.2 -10 -1.1 -5 -.9 -6 -1.4 -5 -1.4 -6 -2.1 -10 -4.1 -10 -5.1 -5 -3 -4 -2.7 -4 -3.1 -3 -2.6 -3.9 -3.8 -3.1 -3.4 -9 -11.2 -4 -5.3 -2.8 -4.1 -1.8 -3 -1.9 -4 -3 -8 -1.6 -6 -1.1 -6 -.7 -6 -.3 -5 .3 -4 .7 -3 1.1 -3 1.5 -3 2 -3 1.7 -2 2.9 -2.9 3 -2.4 3 -2 4 -2.2 4 -1.7 4 -1.3 4 -1 5 -1 11 -1.4 15 -1.3z"/><path fill="#49ff00" d="M1626.8 1244.2l5.9 -.2 6 .2 6 .6 7 1.1 6 1.3 6 1.7 6 2.1 6 2.5 8 4 7 4.5 6 4.7 12.5 10.5 9.3 7 3.2 2.7 2.3 2.3 1.7 2.2 1.9 2.8 1.5 3 1.2 3 1 3 .8 4 .2 3 0 3 -.2 2 -.7 3 -1 3 -1.3 3 -1.8 3 -2.1 3 -1.7 2 -3.1 3 -2.7 2.2 -3 2.1 -4 2.3 -4 1.9 -4 1.5 -5 1.6 -5 1.2 -5 1 -6 .9 -15 1.4 -18 .9 -19 .2 -21 -.4 -19 -1.1 -15 -1.4 -6 -.9 -6 -1.2 -5.1 -1.2 -4.9 -1.5 -4 -1.5 -4.2 -2 -3.5 -2 -3.3 -2.2 -3.4 -2.8 -3 -3 -1.7 -2 -2.1 -3 -2.6 -5 -1 -3 -.7 -3 -.3 -2 0 -3 .3 -3 .8 -4 1 -3 1.2 -3 1.6 -3 1.9 -2.8 1.8 -2.2 2.2 -2.2 3.4 -2.8 9.9 -7 16.7 -12.6 8 -5 7 -3.6 5 -2.1 6 -2.3 6 -1.9 7 -2 6 -1.3 6 -1 6 -.7zM1614.9 1443.2l17.8 -.3 18 .4 17 .9 14 1.5 11 1.7 8 2 4 1.4 3 1.3 3 1.6 3 1.9 3 2.4 2.4 2.2 2.7 3 2.1 3 1.2 2 1.2 3 .9 3 .3 3 -.1 4 -.7 6 -1 5 -1.4 5 -1.7 5 -1.8 4 -2 4 -2.6 4 -2.3 3 -3.2 3.6 -12 12 -8 7 -8 5.9 -5 3.2 -4 2.3 -9 4.3 -9 3.3 -5 1.4 -5 1.1 -4 .7 -5 .5 -4 .2 -4 0 -5 -.4 -5 -.7 -5 -.9 -5 -1.2 -9 -2.8 -5 -1.9 -5 -2.1 -5 -2.5 -5 -2.7 -9 -5.7 -5 -3.7 -5 -4 -5 -4.4 -6 -5.8 -4 -4.1 -3.1 -3.6 -2.2 -3 -2.5 -4 -2.4 -5 -2.3 -6 -1.7 -6 -1.2 -6 -.6 -6 0 -4 .5 -3 1.5 -4 1.6 -3 2.2 -3 2.7 -3 3.4 -3 3.1 -2.2 4 -2.3 3.4 -1.5 3.6 -1.3 5 -1.4 5 -1 13 -1.9 17 -1.5z"/><path fill="#5eff00" d="M1627.7 1250.2l6 -.1 5 .2 5 .4 6 1 5 1 6 1.6 5 1.7 5 1.9 8 3.7 7 4.1 6 4.2 11.3 8.3 7.7 5.3 4.8 3.7 2.2 2.1 2.6 2.9 3.3 5 1.5 3 1.1 3 .8 3 .5 3 .1 3 -.2 2 -.4 2 -.8 3 -1.3 3 -1.6 3 -2.1 3 -1.6 2 -3 3 -2.9 2.5 -3.5 2.5 -3.4 2 -4.1 2 -4 1.6 -4.4 1.4 -4.6 1.2 -5 1.1 -6 1 -14 1.5 -16 1 -18 .2 -20 -.4 -17 -1 -15 -1.6 -6 -1 -6 -1.2 -5 -1.3 -5 -1.6 -4 -1.6 -4 -1.9 -4 -2.4 -3 -2.1 -3.4 -2.9 -2.9 -3 -1.7 -2.2 -1.9 -2.8 -1.6 -3 -.8 -2 -1 -3 -.3 -2 -.2 -2 .1 -3 .5 -3 .8 -3 2.1 -5 1.8 -3 2.2 -3 1.8 -2 2.5 -2.3 6 -4.5 23 -14.9 8 -4.6 7 -3.3 10 -3.9 6 -1.8 5 -1.3 11 -2.2 6 -.7zM1622.7 1444.2l15 -.1 17 .7 14 1 13 1.7 10 1.9 8 2.4 6 2.6 3.2 1.8 2.8 2 2.3 2 2.9 3 1.8 2.2 1.8 2.8 1.4 3 .7 2 .4 2 .2 3 -.2 4 -.8 5 -1.1 5 -1.3 4 -1.9 5 -1.8 4 -2.2 4 -2.8 4 -2.5 3 -3.9 3.8 -13 10.9 -5 3.7 -6 4.2 -5 3.1 -5 2.8 -4 2.1 -5 2.2 -5 1.8 -5 1.6 -5 1.3 -5 .9 -5 .6 -4 .3 -4 -.1 -5 -.5 -6 -.9 -5 -1 -5 -1.3 -6 -2 -5 -1.9 -5 -2.2 -10 -5.2 -11 -6.9 -6 -4.3 -7 -5.3 -5 -4.1 -3 -2.8 -3 -3.3 -2.6 -3.5 -2.3 -4 -2 -4 -1.7 -4 -1.6 -5 -1.3 -5 -.8 -5 -.3 -3 -.1 -3 .4 -3 .6 -2 1.3 -3 1.8 -3 2.3 -3 1.9 -2 2.2 -2 2.7 -2 2.5 -1.6 3 -1.6 3 -1.3 4 -1.4 8 -2 11 -1.9 13 -1.5 15 -1.1z"/><path fill="#72ff00" d="M1629 1255.2l4.7 -.1 4 .2 5 .4 5 .7 5 1 5 1.3 9 3 9 4 8 4.3 21 13.2 6 4.4 2.8 2.6 1.9 2 3.6 5 2.4 5 1 3 .7 3 .3 3 -.1 2 -.3 2 -.8 3 -1.2 3 -1.1 2 -1.9 3 -1.5 2 -2.7 3 -3.1 2.8 -3 2.2 -3.2 2 -3.8 2 -4 1.8 -4 1.4 -5 1.5 -5 1.1 -6 1.1 -14 1.7 -16 1 -16 .3 -19 -.5 -17 -1.2 -14 -1.7 -6 -1 -6 -1.4 -5 -1.4 -4.9 -1.7 -4.1 -1.7 -4 -2.1 -3.4 -2.2 -3.6 -2.8 -2.3 -2.2 -2.7 -3 -1.5 -2 -1.8 -3 -1.5 -3 -.7 -2 -.8 -4 -.1 -2 .3 -3 .7 -3 1 -3 2.6 -5 2.1 -3 1.7 -2 2 -2.1 3 -2.6 3.2 -2.3 3.8 -2.3 20 -11.3 8 -4.1 9 -3.9 9 -3.1 10 -2.6 10 -1.8zM1604.8 1446.2l14.9 -.7 15 -.2 16 .5 14 1.1 12 1.5 11 2.2 5 1.3 4 1.3 4 1.6 3 1.5 3.1 1.9 2.7 2 2.2 2 2.7 3 1.4 2 1.7 3 .9 2 .8 3 .2 3 -.2 3 -.7 5 -.9 4 -1.2 4 -1.5 4 -3.3 7 -1.8 3 -2.1 3 -2.6 3 -2.4 2.4 -4 3.2 -4 3 -12 8.1 -10 6 -9 4.5 -5 2.1 -4 1.5 -5 1.5 -4 1 -7 1.2 -7 .5 -4 -.2 -4 -.4 -8 -1.4 -9 -2.4 -8 -2.8 -8 -3.6 -9 -4.7 -12 -7.1 -11 -7.2 -5.1 -4.2 -2 -2 -2.5 -3 -2.6 -4 -2.2 -4 -2.2 -5 -1.8 -5 -1.2 -5 -1 -6 -.2 -4 .5 -3 1 -3 1.5 -3 1.8 -2.6 2.1 -2.4 2.9 -2.7 3 -2.2 3.6 -2.1 3.4 -1.6 3.8 -1.4 4.2 -1.3 5 -1.2 6 -1.2 13 -1.9z"/><path fill="#87ff00" d="M1622.2 1260.2l9.5 -.6 4 0 5 .4 5 .6 5 1 9 2.3 9 3.4 10 4.6 18 9.8 7.5 4.5 2.6 2 2.3 2 1.9 2 2.5 3 3 5 1.4 3 .9 3 .6 3 .1 2 -.3 4 -.9 3 -.8 2 -1.6 3 -1.3 2 -2.3 3 -2.6 2.7 -2.7 2.3 -3.3 2.4 -3 1.8 -4 2.1 -4.1 1.7 -4.9 1.7 -4.9 1.3 -5.1 1.1 -12.5 1.9 -14.5 1.2 -15 .6 -18 -.3 -17 -1.1 -15 -1.8 -6 -1 -6 -1.3 -5.1 -1.3 -4.9 -1.6 -4 -1.6 -4 -1.9 -3.2 -1.9 -3.8 -2.7 -2.7 -2.3 -2.9 -3 -2.9 -4 -1.2 -2 -1.4 -3 -.9 -3 -.3 -2 .1 -4 .6 -3 1 -3 1.4 -3 1.1 -2 2.1 -3 1.7 -2 4.1 -4 5.2 -3.7 7 -3.8 16 -7.7 12 -5.2 9 -3.3 8 -2.3 8 -1.8zM1609.1 1447.2l14.6 -.7 13 0 15 .6 13 1.2 12 1.8 10 2.2 8 2.5 3.3 1.4 3.7 1.9 3 1.9 2 1.5 2.9 2.7 1.8 2 1.4 2 1.6 3 .8 2 .5 2 .2 3 -.2 3 -.6 4 -.9 4 -2.3 7 -1.7 4 -1.6 3 -2.5 4 -2.3 3 -2.1 2.3 -2.9 2.7 -3.1 2.4 -4 2.7 -11 6.5 -11 5.9 -6 2.9 -5 2.1 -5 1.8 -5 1.4 -5 1.2 -5 .9 -7 .5 -7 -.5 -8 -1.4 -9 -2.3 -8 -2.8 -9 -3.9 -8 -3.9 -13 -6.9 -8 -4.9 -3 -2.2 -2.9 -2.5 -2.1 -2.3 -2.1 -2.7 -2 -3 -2.2 -4 -1.8 -4 -1.8 -5 -1.3 -5 -.7 -4 -.3 -3 .1 -3 .6 -3 1.3 -3 1.9 -3 1.6 -2 1.9 -2 2.4 -2 2.4 -1.7 3 -1.7 3.4 -1.6 3.6 -1.4 9 -2.6 11 -2.2 12 -1.6z"/><path fill="#9cff00" d="M1623.4 1264.2l8.3 -.5 8 .3 9 1.3 9 2.2 10 3.4 11 4.7 15 7.3 4 2.2 3.4 2.1 2.6 2 2.3 2 1.9 2 2.5 3 1.9 3 1.1 2 .8 2 1.1 3 .6 3 .1 2 -.1 2 -.3 2 -1.3 4 -.9 2 -1.9 3 -2.3 3 -2.5 2.6 -2.7 2.4 -3.3 2.4 -3 1.8 -4 2 -4.2 1.8 -4.8 1.6 -5 1.4 -5 1.1 -12 1.8 -13 1.2 -15 .5 -17 -.3 -16 -1.2 -14 -1.7 -6 -1.1 -6 -1.3 -5 -1.4 -4.6 -1.6 -4.7 -2 -3.9 -2 -3.3 -2 -3.5 -2.7 -2.5 -2.3 -2.7 -3 -2.8 -4.3 -1.3 -2.7 -.7 -2 -.4 -2 -.2 -2 .3 -4 .8 -3 .7 -2 1.5 -3 1.2 -2 2.1 -2.9 1.9 -2.1 4.1 -3.7 5 -3.3 7 -3.6 14 -5.9 13 -5 9 -3 7 -1.8 8 -1.6zM1613.1 1448.2l13.6 -.6 11 .1 13 .6 13 1.3 11 1.8 10 2.3 7.6 2.5 6.5 3 4.9 3.2 2.1 1.8 1.9 2 1.5 2 1.5 2.4 1.2 2.6 .5 2 .2 2 -.1 3 -.4 3 -.8 4 -2.2 7 -1.4 3.3 -1.9 3.7 -1.9 3 -2.2 3 -2.6 3 -2.4 2.2 -3 2.4 -3 2.1 -8 4.6 -15 7.3 -6 2.6 -5 1.9 -5 1.6 -6 1.6 -5 1 -5 .6 -4 .2 -3 -.1 -8 -1 -9 -1.9 -9 -2.8 -12 -4.7 -15 -6.9 -8 -4.2 -3 -1.9 -3 -2.2 -2.7 -2.4 -2.3 -2.4 -2.1 -2.6 -2.1 -3 -1.8 -3.1 -1.9 -3.9 -1.1 -3 -1.3 -4 -.9 -4 -.5 -3 -.2 -3 .2 -2 .6 -3 .9 -2 1.1 -2 1.5 -2 1.8 -2 1.8 -1.7 2 -1.5 2.8 -1.8 6.2 -3 7 -2.4 9 -2.3 10 -1.9 11 -1.4z"/><path fill="#b1ff00" d="M1621.1 1268.2l8.6 -.7 8 .1 8 .9 9 1.9 10 2.9 12 4.5 11 4.6 4 2 4 2.2 5.2 3.6 4.2 4 1.6 2 2.1 3 1.1 2 1.3 3 1 3 .3 2 .1 4 -.3 2 -.6 2 -.8 2 -1.6 3 -2.1 3 -2.7 3 -2.8 2.6 -3 2.2 -3.4 2.2 -3.6 1.9 -4 1.7 -3.8 1.4 -5.2 1.5 -5 1.2 -11 1.8 -13 1.4 -14 .6 -16 -.3 -16 -1.2 -14 -1.9 -6.1 -1.1 -5.9 -1.4 -5 -1.4 -4 -1.4 -4.2 -1.8 -3.9 -2 -3.3 -2 -3.6 -2.7 -2.5 -2.3 -2.6 -3 -2.7 -4 -1.7 -4 -.4 -2 -.3 -2 .4 -4 .5 -2 1.1 -3 2.2 -4 2 -2.8 2 -2.2 4 -3.6 5.1 -3.4 5.9 -2.9 9 -3.7 11 -3.9 10 -3.2 9 -2.5 8 -1.7zM1617.2 1449.2l12.5 -.4 10 .1 12 .8 12 1.3 10 1.8 9 2.2 8 2.8 6 2.9 2.4 1.5 2.6 1.9 3.2 3.1 1.6 2 1.2 2 .9 2 .6 2 .2 2 -.1 3 -1 6 -1.2 4 -1.1 3 -2.9 6 -2 3 -2.2 3 -2.7 3 -2.5 2.4 -3 2.4 -3 2 -7 3.9 -6 2.9 -7 3 -7 2.7 -6 2 -5 1.5 -6 1.3 -5 .9 -4 .3 -3 .1 -4 -.1 -8 -1 -9 -2 -10 -3 -13 -4.8 -11 -4.8 -4 -2.1 -4 -2.4 -3 -2.1 -2.6 -2.1 -2.4 -2.4 -2.4 -2.6 -3.6 -5.1 -1.6 -2.9 -1.4 -3 -1.2 -3 -1.2 -4 -1.1 -6 -.1 -3 .3 -2 .6 -2 .9 -2 1.3 -2 1.6 -2 2.1 -2 1.8 -1.5 5 -3.1 6 -2.7 8 -2.6 9 -2.2 10 -1.7 11 -1.3z"/><path fill="#c6ff00" d="M1624 1271.2l7.7 -.5 7 .3 8 1 8 1.5 11 3.1 12 4.1 8 3.1 7 3.6 2.9 1.8 2.6 2 4.1 4 3.1 4 1.3 2.2 1.3 2.8 1 3 .4 2 .1 2 0 2 -.4 2 -.6 2 -1.9 4 -2.1 3 -1.8 2.1 -3 2.9 -3 2.4 -3 2 -4 2.2 -4 1.8 -4 1.4 -5 1.5 -5 1.2 -11 2 -13 1.3 -14 .5 -15 -.4 -15 -1.2 -13 -1.9 -6 -1.2 -6 -1.5 -5 -1.6 -4 -1.5 -4.3 -2 -3.6 -2 -3.1 -2.1 -3.6 -2.9 -2.4 -2.5 -2 -2.5 -2.3 -4 -.8 -2 -.5 -2 -.2 -2 0 -2 .9 -4 1.9 -4.4 1.6 -2.6 1.4 -1.8 4 -4.2 3.9 -3 5 -3 6.1 -2.7 7 -2.6 10 -3.2 11 -3.1 8 -1.9 9 -1.6zM1622 1450.2l10.7 -.2 10 .3 11.6 .9 10.4 1.4 9 1.7 8 2.2 7.3 2.7 5.8 3 4.2 3 2.2 2 1.8 2 1.9 3 .8 2 .4 2 .2 2 -.3 3 -1.3 6 -2.2 6 -2.7 5 -2 3 -2.4 3 -2.7 2.9 -2.3 2.1 -2.7 2.2 -3 2 -4 2.3 -4 2 -5 2.2 -7 2.7 -11 3.5 -6 1.5 -5 .9 -5 .7 -4 .3 -4 0 -5 -.4 -10 -1.6 -5 -1.1 -7 -1.9 -12 -3.9 -10 -4.1 -7 -3.6 -3 -2 -3 -2.3 -2.8 -2.4 -2.8 -3 -3.9 -5 -1.8 -3 -1.5 -3 -2.2 -6 -.7 -3 -.5 -3 -.1 -2 .1 -2 .9 -3 1 -2 1.3 -1.8 3 -3.1 4.3 -3.1 5.6 -3 6.1 -2.4 8 -2.3 9 -2 9 -1.4 11 -1.2z"/><path fill="#dbff00" d="M1622.7 1274.2l7 -.5 7 0 8 .8 8 1.3 11 2.7 11 3.3 9 3.3 6 2.9 4.7 3.2 4.4 4 3.3 4 1.2 2 1.5 3 1.3 4 .3 2 .1 2 -.3 2 -.5 2 -1.8 4 -2 3 -1.6 2 -2.6 2.6 -3 2.5 -3 2 -4 2.3 -4 1.8 -4 1.5 -5 1.5 -5 1.2 -11 2 -12 1.2 -13 .5 -15 -.4 -14 -1.2 -7 -1 -6 -1 -6 -1.3 -5 -1.4 -5 -1.6 -4 -1.5 -3.6 -1.7 -3.5 -2 -3.9 -2.6 -2.8 -2.4 -2.2 -2.2 -2.2 -2.8 -2.2 -4 -.9 -3 -.2 -2 0 -2 .9 -4 1.8 -4 2.8 -4 3.9 -4 3.8 -3 4.3 -2.6 5 -2.4 6 -2.2 7 -2.2 11 -2.9 9 -2.1 8 -1.4zM1610.9 1452.2l10.8 -.7 11 -.3 10 .4 10 .7 10 1.4 9 1.7 8 2.2 6.8 2.6 5.7 3 4.2 3 3.3 3.4 1.2 1.6 1.1 2 .8 3 .2 2 -.1 2 -1 5 -2.1 6 -1.5 3 -1.7 3 -3.6 5 -2.3 2.5 -2.6 2.5 -2.4 2 -3 2.2 -6 3.4 -8 3.5 -10 3.3 -9 2.2 -8 1.5 -7 .7 -6 0 -7 -.7 -9 -1.4 -10 -2.4 -10 -3 -8 -3.1 -7 -3.5 -3 -1.9 -3 -2.1 -5.2 -4.7 -2.6 -3 -2.2 -2.9 -1.9 -3.1 -1.6 -3 -1.5 -3.8 -1 -3.2 -.6 -3 -.3 -3 .2 -2 .7 -2.5 .7 -1.5 1.4 -2 1.8 -2 2.3 -2 4.8 -3.2 3.7 -1.8 3.3 -1.4 7.9 -2.6 8.2 -2 9.9 -1.7z"/><path fill="#efff00" d="M1630.6 1276.2l7.1 .1 7 .6 9 1.4 8 1.7 9 2.4 8 2.6 6 2.6 4.6 2.6 3.9 3 4.1 4 2.9 4 1.1 2 1.2 3 .9 4 .1 2 -.3 2 -.9 3 -2.2 4 -2.3 3 -1.8 2 -3.3 2.8 -3 2.2 -3 1.7 -3 1.5 -4 1.7 -4 1.3 -5 1.4 -5 1.2 -11 1.8 -12 1 -12 .3 -14 -.6 -14 -1.5 -6 -.9 -6 -1.2 -10 -2.7 -4 -1.4 -4 -1.6 -3.8 -2 -3.3 -2 -2.9 -2.1 -3.1 -2.9 -1.9 -2.1 -2 -2.9 -1.1 -2 -.7 -2 -.5 -3 0 -2 .4 -2 1.5 -4 2.4 -4 3 -3.5 4 -3.5 4.6 -3 4.4 -2.3 6 -2.3 7 -2.2 10 -2.5 10 -2.1 8 -1.2 8 -.9zM1614.6 1453.2l11.1 -.6 9 -.1 10 .5 10 .9 9 1.3 8.9 2 7.1 2.2 6 2.5 4.1 2.3 4 3 2.9 3.1 1.3 1.9 .9 2 .7 3 -.3 4 -.6 3 -.9 3 -2 5 -1.6 3 -2 3 -4.1 5 -4.4 4 -3 2.3 -3 1.9 -6 3 -8 3.1 -9 2.5 -10 1.9 -8 .9 -7 .2 -9 -.7 -10 -1.6 -9 -2 -9 -2.7 -4 -1.6 -4 -1.7 -6.2 -3.5 -5.4 -4 -4.2 -4 -4 -5 -2.9 -5 -1.3 -3 -1 -3 -1.1 -5 -.2 -2 .2 -2 .5 -2 1.1 -2 1.4 -2 2 -2 3.9 -3 5.4 -3 5.8 -2.3 8 -2.4 8 -1.8 9.9 -1.5z"/><path fill="#fffa00" d="M1618.1 1279.2l8.6 -.7 7 -.2 8 .4 8 .9 10 1.8 8 1.9 8 2.4 6 2.5 5 2.8 4.3 3.2 3.9 4 2.8 4 1.8 4 .6 2 .3 2 .1 2 -.3 2 -.5 2 -.9 2 -1.8 3 -1.5 2 -2.8 3 -2.4 2 -2.8 2 -3.4 2 -3.4 1.6 -3.4 1.4 -4.6 1.5 -5 1.4 -10 1.9 -11 1.3 -12 .5 -14 -.3 -13 -1.2 -12 -1.8 -10 -2.5 -5 -1.6 -4 -1.5 -3.6 -1.7 -3.4 -1.9 -3 -2.1 -2.5 -2 -2.5 -2.5 -2 -2.5 -1.7 -3 -1.1 -3 -.3 -3 .2 -2 .5 -2 1.8 -4 2.1 -3 3.5 -3.8 4 -3.2 4 -2.5 4 -2 5 -2 6 -1.8 7 -1.8 7 -1.5 8 -1.3zM1619.5 1454.2l9.2 -.4 9 .1 10 .6 9 1 8 1.4 7 1.7 7 2.3 5.2 2.3 4.9 3 3.4 3 2.2 3 1.3 3 .3 2 0 2 -.6 4 -1.5 5 -2.2 5 -3.2 5 -2.5 3 -2 2 -2.3 2.1 -3 2.3 -3 1.9 -3 1.7 -7 3.1 -8 2.5 -9 1.9 -10 1.3 -8 .3 -10 -.7 -10 -1.4 -10 -2.2 -8 -2.6 -7 -3.1 -6 -3.7 -3 -2.3 -2.4 -2.1 -3.8 -4 -2.9 -4 -2.7 -5 -1.7 -5 -.8 -4 -.2 -2 .2 -2 1 -3 1.3 -2 1 -1.2 3.1 -2.8 4.7 -3 6.2 -2.8 6 -2 7 -1.8 8 -1.5 9 -1.1z"/><path fill="#ffe500" d="M1615.9 1281.2l8.8 -.7 8 -.3 7 .2 8 .7 9 1.4 8 1.6 7.3 2.1 6.7 2.5 4.7 2.5 4.3 3 3.2 3 3.2 4 2.1 4 1.2 4 .2 2 -.1 2 -.5 2 -.7 2 -1.6 3 -1.4 2 -1.8 2 -2.8 2.7 -2 1.5 -3 1.9 -3.6 1.9 -3.4 1.5 -8 2.6 -5 1.2 -5 1 -11 1.4 -11 .6 -13 -.2 -13 -1 -12 -1.7 -10 -2.3 -8 -2.7 -3.3 -1.4 -3.9 -2 -3.1 -2 -2.6 -2 -2.2 -2 -2.5 -3 -1.8 -3 -1.1 -3 -.3 -3 .4 -3 .7 -2 .9 -2 1.9 -3 2.9 -3.3 4 -3.4 3.4 -2.3 4.6 -2.4 4 -1.6 6 -2 6 -1.5 6 -1.3 8 -1.3zM1630.7 1455.2l9 .2 9 .6 8 1 7 1.2 7.9 2 5.6 2 4.5 2.1 4.4 2.9 2.3 2 2.3 3 1.3 3 .4 3 -.1 2 -.5 3 -1.5 5 -2.4 5 -2.6 4 -2.5 3 -2 2 -5 4 -3.1 2 -3 1.7 -6 2.5 -8 2.5 -9 1.7 -9 .9 -9 .2 -10 -.8 -9 -1.3 -9 -2.1 -7 -2.4 -4 -1.8 -3 -1.6 -3 -1.9 -3 -2.1 -2.9 -2.5 -2.1 -2 -2 -2.3 -2 -2.7 -2.3 -4 -2 -5 -.9 -4 -.2 -2 0 -2 .7 -3 1.7 -3 3 -3 2.8 -2 4.2 -2.3 6 -2.4 6 -1.8 6.7 -1.5 7.3 -1.2 8 -.9 9 -.6z"/><path fill="#ffd000" d="M1623.3 1282.2l7.4 -.3 7 .1 8 .5 8 1 7 1.3 7 1.7 6 2 5 2.2 4.3 2.5 3.8 3 2.8 3 2.7 4 1.7 4 .4 2 .2 2 -.2 3 -.6 2 -.9 2 -1.8 3 -1.7 2 -2 2 -2.4 2 -3 2 -2.3 1.3 -3.8 1.7 -3.2 1.2 -4 1.3 -5 1.3 -9 1.7 -10 1.1 -11 .5 -12 -.4 -12 -1 -10.6 -1.7 -9.4 -2.3 -8 -2.8 -4 -1.8 -3 -1.7 -3 -2.1 -2 -1.7 -2.5 -2.6 -1.5 -2 -1.6 -3 -.8 -3 -.1 -3 .7 -3 .8 -2 1.1 -2 2.2 -3 2.9 -3 4 -3 3.8 -2.2 5 -2.3 5 -1.8 6 -1.6 7 -1.5 7 -1.2 7 -.8zM1616.8 1457.2l8.9 -.5 9 0 9 .3 8 .8 7 1 6.7 1.4 6.6 2 4.8 2 3.9 2.1 3.7 2.9 1.7 2 1.7 3 .6 3 -.2 4 -1.1 5 -1.6 4 -2.2 4 -3.1 4 -4.1 4 -4 3 -5.3 3 -4.6 2 -5.5 1.8 -6 1.4 -7 1.1 -8 .6 -8 0 -8 -.6 -8 -1.1 -7 -1.5 -6 -1.8 -6 -2.5 -5 -2.8 -5 -3.6 -4.2 -4 -1.8 -2.3 -1.9 -2.7 -1.1 -2 -1.3 -3 -1 -3 -.6 -3 -.3 -4 .4 -2 .8 -2 2.2 -3 3.7 -3 3.4 -2 5.7 -2.4 6 -1.9 7.7 -1.7 7.3 -1.1z"/><path fill="#ffbb00" d="M1616.8 1284.2l7.9 -.5 8 -.3 7 .2 8 .6 7 1 7 1.3 6.3 1.7 5.7 2.1 5 2.5 4 2.7 3 2.8 1.7 1.9 1.4 2 1.9 4 .6 2 .3 2 .1 2 -.3 2 -.9 3 -1.1 2 -1.7 2.5 -2 2.1 -2 1.8 -2.1 1.6 -3.4 2 -6.5 2.9 -7 2.2 -9 1.9 -9 1.1 -10 .6 -11 -.1 -12 -.9 -11 -1.5 -9 -2 -8 -2.6 -3.8 -1.6 -3.2 -1.6 -2.2 -1.4 -2.8 -2 -2.2 -2 -1.7 -2 -1.9 -3 -1.1 -3 -.3 -3 .4 -3 1.1 -3 1.8 -3 2.5 -3 3.4 -2.9 3.1 -2.1 3.9 -2.1 4.6 -1.9 5.4 -1.8 5 -1.3 6 -1.2 6 -.9zM1629 1458.2l7.7 0 8 .5 7 .7 7 1.1 6 1.3 5 1.6 5 2.2 4 2.5 2.3 2.1 .9 1 1.3 2 .7 2 .4 3 -.4 4 -1 4 -1.7 4 -2.3 4 -3.4 4 -2.1 2 -2.6 2 -5.1 3.2 -6 2.7 -6 1.8 -7 1.5 -8 .8 -8 .3 -9 -.5 -8 -1 -8 -1.7 -6 -2 -6 -2.7 -5.5 -3.4 -2.5 -2 -2.1 -2 -3.4 -4 -1.8 -3 -1.8 -4 -1.1 -4 -.4 -4 .4 -3 .8 -2 1.4 -2 .9 -1 2.4 -2 3.3 -2 4.4 -2 6 -1.9 5 -1.2 6 -1.1 7 -.9 8 -.6z"/><path fill="#ffa700" d="M1623.6 1285.2l8.1 -.2 7 .1 7 .4 7 .8 7 1.3 6 1.6 5 1.8 4 1.8 4 2.4 3.7 3 2.6 3 1.8 3 .9 2 .6 2 .4 3 -.1 2 -.4 2 -1.2 3 -1.3 2 -1.6 2 -2.1 2 -2.6 2 -5.2 3 -6.5 2.6 -8 2.1 -8 1.4 -9 .9 -10 .3 -11 -.3 -11 -1 -10 -1.7 -8 -2.1 -7 -2.5 -3.5 -1.7 -2.5 -1.5 -2.2 -1.5 -2.3 -2 -1.9 -2 -1.4 -2 -1.4 -3 -.6 -3 .2 -3 .9 -3 1.6 -3 2.4 -3 2.7 -2.5 3 -2.1 4 -2.2 4 -1.8 4 -1.4 6 -1.7 6 -1.2 6 -.9 6 -.7zM1619.7 1460.2l8 -.3 8 0 7.4 .3 6.6 .6 6 .9 6 1.3 4 1.2 5 2.1 3.2 1.9 2.4 2 1.7 2 .6 1 .8 2 .4 3 -.4 4 -1.1 4 -1.7 4 -2.7 4 -2.7 3 -3.6 3 -3.9 2.5 -5 2.3 -5 1.7 -5 1.3 -6 .9 -7 .5 -7 .1 -7 -.4 -7 -1 -6 -1.2 -6 -1.9 -5 -2.2 -4.6 -2.6 -3.9 -3 -2.9 -3 -2.3 -3 -2.1 -4 -.7 -2 -.8 -3 -.5 -4 .5 -3 .8 -2 .7 -1 1.8 -2 3 -2.2 3.4 -1.8 5.3 -2 5.3 -1.4 6 -1.2 6 -.8z"/><path fill="#ff9200" d="M1616.8 1287.2l7.9 -.5 8 -.2 7 .1 7 .5 7 1 5.8 1.1 5.2 1.5 5 1.9 4 2 3.9 2.6 3.3 3 2.2 3 1.4 3 .7 2 .3 2 0 2 -.2 2 -1 3 -1.1 2 -1.6 2 -3.1 3 -4.6 3 -6.2 2.8 -7 2.1 -7 1.4 -8 1 -9 .5 -10 -.1 -11 -.7 -9 -1.2 -8 -1.6 -7.1 -2.2 -5.9 -2.6 -2.6 -1.4 -2.4 -1.6 -1.7 -1.4 -2 -2 -1.5 -2 -1.4 -3 -.5 -2 0 -3 .7 -3 1.4 -3 2 -2.8 2.2 -2.2 2.8 -2.1 4 -2.4 4 -1.8 4.7 -1.7 4.3 -1.2 5 -1.1 6 -1zM1617.5 1462.2l7.2 -.4 7 -.2 7 .2 7 .5 7 .9 5 1 4 1.1 4 1.6 3 1.6 3 2.3 2 2.4 .8 2 .4 2 -.1 3 -.8 4 -1.1 3 -1.5 3 -2.2 3 -2.5 2.6 -3 2.4 -3.3 2 -4.3 2 -4.4 1.5 -5 1.2 -5 .8 -6 .4 -6 .1 -7 -.4 -6 -.8 -5 -1 -5 -1.4 -4 -1.6 -4 -2 -4.1 -2.8 -3.2 -3 -2.3 -3 -2.2 -4 -1.2 -4 -.5 -4 .4 -3 1 -2 .7 -1 2.1 -2 3 -2 3.3 -1.5 4.3 -1.5 4.7 -1.2 6 -1z"/><path fill="#ff7d00" d="M1625.6 1288.2l7.1 -.1 7 .1 6 .4 6 .8 5 .9 5 1.3 4.4 1.6 4.3 2 3.2 2 3.1 2.5 2.2 2.5 1.8 3 1.1 3 .4 3 -.2 3 -1.1 3 -1.2 2 -1.7 2 -3.4 3 -4.9 2.8 -5 2.1 -6 1.7 -7 1.4 -8 .9 -9 .4 -10 -.2 -10 -.8 -9 -1.3 -7 -1.7 -6.8 -2.3 -5.2 -2.6 -2.2 -1.4 -2.5 -2 -2.6 -3 -1.1 -2 -.9 -3 0 -3 .7 -3 1.5 -3 1.5 -2 2.6 -2.6 3 -2.2 4 -2.2 3 -1.3 4.9 -1.7 4.1 -1.1 5 -1 5.6 -.9 6.4 -.6zM1618.6 1464.2l6.1 -.4 7 -.2 6 .2 6 .4 5 .6 5 .9 4 1.1 3.7 1.4 2.3 1.2 2.6 1.8 1.8 2 1 2 .4 2 -.1 3 -.6 3 -1.1 3 -1.7 3 -2.3 2.9 -2.3 2.1 -2.7 2 -3 1.6 -3.1 1.4 -3.9 1.3 -4 .9 -5 .7 -5 .3 -5 .1 -5.3 -.3 -4.7 -.5 -5 -1 -4 -1.1 -4 -1.5 -3.8 -1.9 -3.2 -2.1 -3.2 -2.9 -2.3 -3 -1.6 -3 -1.3 -4 -.3 -3 .3 -2 .2 -1 1.1 -2 2 -2 3.1 -2 2.2 -1 2.8 -1 5 -1.4 5 -.9z"/><path fill="#ff6800" d="M1620.7 1290.2l7 -.4 7 0 6 .2 6 .5 5 .7 5 1 4 1.2 4.7 1.8 3.8 2 2.8 2 2.2 2 2.3 3 1.4 3 .7 3 0 3 -.9 3 -1.8 3 -2.9 3 -2.3 1.7 -2.2 1.3 -4.8 2.2 -5.8 1.8 -6.2 1.3 -7 .9 -9 .4 -9 -.1 -9 -.5 -8 -1.1 -8 -1.7 -6 -2 -4.8 -2.2 -2.2 -1.4 -2.2 -1.6 -2.9 -3 -1.2 -2 -.9 -3 -.1 -2 .5 -3 1.3 -3 1.3 -2 1.9 -2 2.3 -1.9 3 -1.9 3 -1.5 4 -1.5 3.7 -1.2 4.3 -1.1 5 -.9zM1624.5 1466.2l10.2 -.2 9 .7 4 .6 4 .9 3.2 1 2.4 1 2.4 1.5 1.7 1.5 .8 1 .8 2 .3 2 -.2 2 -.4 2 -1.3 3 -1.7 2.7 -2 2.3 -2.5 2 -2.5 1.5 -3.1 1.5 -3.9 1.3 -4 .9 -4 .5 -5 .3 -5 -.1 -5 -.5 -5 -.9 -4 -1.1 -3.5 -1.4 -3.5 -1.9 -2.8 -2.1 -2 -2 -1.5 -2 -1.1 -2 -1.1 -3 -.3 -2 0 -2 .6 -2 1.4 -2 1.8 -1.5 2.7 -1.5 2.5 -1 2.8 -.9 6 -1.2z"/><path fill="#ff5300" d="M1619.5 1292.2l6.2 -.4 6 -.2 6 .1 6 .4 5 .6 5 .9 4 1.1 4.1 1.5 4 2 2.9 2 2.2 2 2.2 3 1.2 3 .5 3 -.3 3 -.7 2 -2 3 -3.1 2.9 -3.5 2.1 -4.5 2 -5 1.5 -6 1.2 -7 .8 -7 .4 -9 -.1 -8 -.6 -7 -.9 -6.4 -1.3 -6.4 -2 -4.3 -2 -3.2 -2 -1.7 -1.4 -1.5 -1.6 -1.3 -2 -.8 -2 -.4 -2 .3 -3 .6 -2 1.1 -2 1.5 -2 2.1 -2 2.4 -1.7 2.2 -1.3 3.8 -1.7 3.7 -1.3 3.7 -1 4.6 -1zM1626.2 1469.2l7.5 -.1 7 .5 5 .9 2.6 .7 2.4 1 1.7 1 1.1 1 .8 1 .6 1 .2 1 .1 2 -.9 3 -1.1 2 -1.7 2 -1.8 1.6 -2.2 1.4 -2 1 -2.8 1 -4 .9 -3 .4 -4 .2 -4 -.2 -3 -.3 -4 -.8 -3 -1 -2.8 -1.2 -2.2 -1.3 -2.1 -1.7 -1 -1 -1.5 -2 -1 -2 -.5 -2 .1 -2 .3 -1 .5 -1 .9 -1 1.3 -1 1.8 -1 3.2 -1.2 5 -1.1z"/><path fill="#ff3e00" d="M1620.8 1294.2l5.9 -.4 6 -.2 6 .2 5 .4 5 .7 4 .9 4 1.1 3 1.2 3 1.6 2.2 1.5 2.2 2 1.6 2.1 1 1.9 .8 3 0 3 -.6 2 -1 2 -.8 1 -2 2 -2.8 2 -4.6 2.2 -5 1.6 -6 1.2 -6 .6 -6 .3 -8 0 -7 -.5 -7 -.9 -6 -1.2 -4.2 -1.3 -4.8 -2.1 -3.1 -1.9 -1.9 -1.6 -1.2 -1.4 -1.2 -2 -.7 -2 -.1 -2 .3 -2 .7 -2 1.2 -2 1.8 -2 1.1 -1 2.1 -1.5 2.7 -1.5 5.3 -2.1 7 -1.8zM1627.1 1475.2l4.6 -.4 3 .2 2 .4 2.1 .8 1 1 .4 1 -.2 1 -.7 1 -1.2 1 -2.4 1.1 -2 .3 -2 .2 -2 -.1 -2.3 -.5 -2.3 -1 -1.3 -1 -.8 -1 -.2 -1 .4 -1 1.1 -1z"/><path fill="#ff2a00" d="M1625.3 1296.2l9.4 -.2 5 .2 4 .4 4 .6 4 1 5.3 2 2.7 1.5 2 1.5 1.9 2 1.3 2 .7 2 .3 2 -.1 2 -.7 2 -1.3 2 -2.1 2.1 -2.9 1.9 -4.1 1.8 -4.1 1.2 -4.9 .9 -5 .6 -6 .3 -7 -.1 -6 -.4 -6 -.8 -5 -1.1 -4.4 -1.4 -4.3 -2 -2.8 -2 -1.9 -2 -.6 -1 -.7 -2 -.2 -2 .3 -2 .6 -1.4 .9 -1.6 1.8 -2 1.3 -1.1 2 -1.3 3 -1.5 5 -1.8 6 -1.3z"/><path fill="#ff1500" d="M1623.1 1299.2l8.6 -.5 8 .3 3 .3 4 .8 5 1.6 3 1.5 1.5 1 1.5 1.3 1.4 1.7 .9 2 .4 2 -.2 2 -.3 1 -1.2 2 -2 1.8 -2 1.3 -3 1.4 -3 1 -4 .9 -4.9 .6 -4.1 .2 -5 .1 -5.3 -.3 -5.7 -.7 -4 -.7 -4 -1.2 -3.5 -1.4 -2.5 -1.5 -1.7 -1.5 -1.4 -2 -.4 -1 -.2 -2 .5 -2 .4 -1 1.5 -2 1.1 -1 3 -2 4.2 -1.8 4.3 -1.2z"/><path fill="#ff0000" d="M1630.7 1302.2l5 0 5 .6 4 .9 3.7 1.5 1.6 1 1.2 1 1.5 2 .6 2 0 1 -.8 2 -.8 1 -2 1.6 -2 1 -2 .8 -2.3 .6 -3.7 .6 -7 .5 -4 -.2 -4 -.4 -3.4 -.5 -2.6 -.6 -3 -1.1 -2 -1 -1.8 -1.3 -.9 -1 -.6 -1 -.3 -1 0 -1 .2 -1 1.2 -2 2.3 -2 1.8 -1 2.1 -.8 4 -1.2 4 -.6z"/><path fill="#00ff22" d="M1516.9 1358.2l14.8 -.6 24 -.2 148 .1 18 .3 13.1 .4 9.9 .7 8 1.1 4 .9 4.6 1.3 3.4 1.4 3.1 1.6 2.9 2 2.2 2 1.8 2 2.2 3 1.6 3 1.7 4 1.2 4 1 5 .5 5 .1 4 -.2 4 -.7 5 -.9 4 -.9 3 -2.3 5 -1.9 3 -1.6 2 -2 2 -1.8 1.5 -2.3 1.5 -2.7 1.5 -3 1.2 -3 1 -7 1.7 -9 1.2 -8 .5 -9 .3 -39 .4 -104 .1 -47 -.2 -15 -.2 -10 -.6 -8 -1 -7 -1.4 -4 -1.2 -3.2 -1.3 -2.8 -1.5 -3 -2 -2.8 -2.5 -1.7 -2 -2 -3 -1.6 -3 -1.2 -3 -1.2 -4 -.9 -5 -.4 -4 -.1 -4 .2 -5 .5 -4 1.1 -5 1.3 -4 1.2 -3 1 -2 1.9 -3 1.6 -2 1.9 -2 2.4 -2 1.8 -1.2 5 -2.4 3 -1.1 4 -1 8 -1.4z"/><path fill="#00ff39" d="M1577.6 1359.2l25.1 -.4 31 -.1 27 .2 22 .5 14 .6 12 1 10 1.4 8 1.8 3.1 1 3.9 1.6 2.8 1.4 3.1 2 2.4 2 2 2 2.4 3 1.8 3 1.4 3 1.4 4 .9 4 .5 3 .2 4 -.1 4 -.4 3 -.9 4 -1.4 4 -1.5 3 -1.9 3 -1.6 2 -1.9 2 -2.4 2 -3.1 2 -2.7 1.4 -3.8 1.6 -3.1 1 -4.1 1 -4.9 1 -11.1 1.4 -14 1 -14 .6 -18 .4 -45 .2 -40 -.5 -15 -.5 -12 -.7 -8 -.8 -7 -.9 -5.9 -1.2 -5.1 -1.4 -4.2 -1.6 -3.9 -2 -2.9 -2 -3.3 -3 -1.7 -2 -2 -3 -1.6 -3 -1.1 -3 -.9 -3 -.8 -4 -.3 -3 0 -4 .3 -4 .5 -3 1 -4 1 -3 1.4 -3 1.8 -3 2.2 -3 2 -2 3.7 -3 2.8 -1.7 2.8 -1.3 5.6 -2 6.6 -1.6 8 -1.2 10 -1 12 -.7z"/><path fill="#00ff4f" d="M1601.2 1360.2l21.5 -.3 21 .1 20 .4 16 .7 12 .9 10.3 1.2 8.7 1.7 7 2 3.4 1.3 3.6 1.8 5 3.2 2.4 2 2.6 2.8 1.7 2.2 1.9 3 1.5 3 1.1 3 .9 4 .5 3 .1 3 -.3 3 -.5 3 -.9 3 -1.7 4 -1.7 3 -2.3 3 -2.3 2.3 -3.3 2.7 -3.1 2 -3.6 1.8 -4 1.6 -4 1.3 -5 1.2 -5 .9 -6 .9 -15 1.4 -18 .8 -32 .5 -35 -.3 -15 -.5 -13 -.6 -10 -.7 -9 -.9 -7 -1.1 -5.6 -1.3 -5.4 -1.7 -5 -2.1 -4 -2.3 -3.8 -2.9 -2.9 -3 -2.2 -3 -1.7 -3 -1.3 -3 -1 -3 -.6 -3 -.3 -3 0 -3 .3 -3 .6 -3 .8 -3 1.2 -3 1.5 -3 1.4 -2.2 2.2 -2.8 1.9 -2 2.3 -2 2.8 -2 4.8 -2.6 6 -2.3 7 -1.9 7 -1.2 9 -1 11 -.9 14 -.6z"/><path fill="#00ff66" d="M1618.1 1361.2l16.6 -.1 17 .3 15 .5 13 .9 10 1 9 1.5 7 1.7 6.4 2.2 6.2 3 3.1 2 2.6 2 2.7 2.5 2.2 2.5 1.4 2 1.8 3 2.1 5 .7 3 .4 3 0 3 -.2 2 -.7 3 -1.1 3 -2.1 4 -2.1 3 -2.8 3 -3.6 3 -4 2.5 -4 2 -4 1.6 -5 1.6 -5 1.2 -6 1 -7 1 -7 .7 -19 1.1 -23 .5 -28 -.1 -25 -.8 -11 -.7 -9 -.8 -8 -1 -6 -1 -5 -1.2 -5.2 -1.6 -4.8 -2 -4 -2.2 -4 -2.8 -3.2 -3 -2.5 -3 -2.5 -4 -1.3 -3 -.9 -3 -.4 -2 -.3 -3 .1 -2 .4 -3 .7 -3 1.1 -3 1.4 -3 1.2 -2 2.2 -2.9 1.9 -2.1 2.1 -2 2.5 -2 5.5 -3.3 6 -2.6 6 -1.8 7 -1.4 8 -1.2 11 -1 13 -.8 14 -.6z"/><path fill="#00ff7c" d="M1593.3 1363.2l16.4 -.6 18 -.3 17 .1 15 .6 13 .8 11 1.2 9 1.5 8 2 7 2.5 3 1.4 3.2 1.8 2.9 2 2.5 2 2.1 2 2.3 2.6 1.7 2.4 1.7 3 1.3 3 .9 3 .4 3 .1 2 -.3 3 -.5 2 -1.1 3 -1.6 3 -2 3 -2.7 3 -2.9 2.6 -3.4 2.4 -3.6 2.1 -4.3 1.9 -3.7 1.4 -5 1.4 -5.2 1.2 -5.6 1 -13.2 1.5 -16 1 -12 .4 -13 .2 -28 -.3 -13 -.6 -11 -.7 -10 -.9 -8 -1 -6 -1 -6 -1.4 -5 -1.6 -4 -1.6 -4 -2.1 -4.2 -2.9 -3.4 -3 -2.6 -3 -2.6 -4 -1 -2 -1.1 -3 -.7 -4 -.1 -2 .3 -3 .8 -3 .7 -2 1.4 -3 1.1 -2 2.2 -3 1.8 -2 2 -2 2.4 -1.9 4 -2.7 5 -2.5 5 -1.9 6 -1.7 7 -1.3 9 -1.3 10 -.9z"/><path fill="#00ff93" d="M1599.5 1364.2l15.2 -.6 16 -.2 15 .3 14 .6 11.8 .9 10.2 1.3 8 1.4 8 2.2 7 2.7 3 1.6 3 1.8 2.8 2 2.2 1.9 3.7 4.1 1.5 2 1.7 3 .9 2 1 3 .5 3 0 2 -.1 2 -.8 3 -1.2 3 -1.7 3 -2.3 3 -2.9 3 -3.3 2.6 -3 2 -4 2.1 -4 1.7 -4 1.3 -5 1.4 -5 1.1 -6 1 -14 1.5 -17 1 -23 .3 -25 -.5 -11 -.6 -10 -.8 -9 -1 -7 -1.1 -6 -1.2 -5 -1.2 -5 -1.7 -4.3 -1.9 -3.7 -2.1 -4 -2.9 -3.1 -3 -2.4 -3 -2.4 -4 -.9 -2 -.8 -3 -.4 -4 .6 -4 .9 -3 .9 -2 2.4 -4 3.3 -4 2.1 -2 2.8 -2.2 4.4 -2.8 4.6 -2.1 5.3 -1.9 6.7 -1.7 7 -1.3 9 -1.3 10 -.9z"/><path fill="#00ffaa" d="M1604.7 1365.2l14 -.5 14 -.1 14 .3 12 .6 11 1 10 1.4 8 1.6 7 2 6.7 2.7 5.4 3 2.8 2 2.3 2 3.7 4 1.4 2 1.7 3 1.2 3 .5 2 .3 2 .1 2 -.2 2 -.8 3 -1.3 3 -1.8 3 -2.5 3 -3.2 3 -2.6 2 -3.7 2.2 -3.6 1.8 -4.4 1.8 -5 1.5 -5 1.3 -11 1.8 -15 1.5 -17 .9 -11 .2 -11 -.1 -22 -.8 -9 -.6 -9 -.9 -8 -1 -7 -1.2 -6 -1.4 -5 -1.5 -4 -1.5 -4.2 -2 -3.8 -2.3 -3.3 -2.7 -2.9 -3 -2.2 -3 -2.1 -4 -1.1 -4 -.2 -2 0 -2 .9 -4 1.2 -3 1 -2 2.8 -4 3.9 -4 4.1 -3 3.9 -2.2 5 -2.2 6 -1.9 7 -1.7 8 -1.4 9 -1.1 10 -.9z"/><path fill="#00ffc0" d="M1609.4 1366.2l13.3 -.4 12 -.1 13 .4 11 .7 11 1.1 9 1.5 7 1.5 7 2.1 6 2.6 5 2.8 2.4 1.8 2.4 2 3.6 4 2.6 4 1.3 3 .5 2 .4 2 0 2 -.2 2 -.8 3 -1.4 3 -2 3 -2.6 3 -2.3 2 -2.9 2.2 -4 2.3 -4 1.9 -5 1.9 -5 1.4 -5 1.2 -6 1 -7 1 -14 1.2 -17 .7 -20 -.1 -20 -1 -9 -.7 -8 -1 -7 -1.1 -6 -1.2 -5 -1.2 -5 -1.6 -4.6 -1.9 -3.9 -2 -3.5 -2.4 -3 -2.6 -2.6 -3 -2 -3 -1.7 -4 -.6 -3 -.1 -2 .2 -2 1.1 -4 2.1 -4 3 -4 2 -2 2.3 -2 4.3 -2.8 4.4 -2.2 5.3 -2 6.3 -1.8 6 -1.3 8 -1.3 9 -1.2 9 -.8z"/><path fill="#00ffd7" d="M1614.3 1367.2l11.4 -.3 11 0 11 .4 11 .8 9.5 1.1 8.5 1.4 7 1.6 6.2 2 6.8 3 4.9 3 3.7 3 2 2 1.6 2 2.5 4 1.2 3 .5 2 .2 2 -.1 2 -.3 2 -.7 2 -1.5 3 -2.1 3 -2.9 3 -2.4 2 -3 2 -3.6 2 -4.5 2 -4.5 1.6 -5 1.4 -5 1 -6 1.1 -6.9 .9 -14.1 1.2 -16 .6 -19 -.3 -18 -1 -8 -.8 -8 -1.1 -7 -1.2 -6 -1.3 -5 -1.4 -4.9 -1.7 -4.5 -2 -3.4 -2 -3.2 -2.3 -2.8 -2.7 -1.7 -2 -1.9 -3 -.9 -2 -.7 -2 -.4 -3 0 -2 .4 -2 1.5 -4 2.4 -4 2.6 -3 3.5 -3 4.8 -3 4.2 -2 6 -2.2 6 -1.7 7 -1.4 8 -1.3 9 -1.1 9 -.7z"/><path fill="#00ffee" d="M1619.9 1368.2l10.8 -.2 10 .2 10 .5 9 .8 9 1.2 7.6 1.5 6.4 1.6 6 2.1 5 2.3 4.9 3 3.7 3 2 2 1.6 2 2.4 4 .8 2 .5 2 .3 2 -.1 2 -.4 2 -.7 2 -1.7 3 -1.4 2 -2.8 3 -2.4 2 -3 2 -3.7 2.1 -4.4 1.9 -4.6 1.6 -5 1.4 -5 1.1 -6 1 -6.6 .9 -13.4 1.2 -16 .5 -18 -.4 -17 -1.1 -14 -1.7 -7 -1.3 -5.2 -1.2 -4.8 -1.3 -4.7 -1.7 -4.5 -2 -3.5 -2 -3.3 -2.3 -2.8 -2.7 -1.7 -2 -1.8 -3 -.9 -2 -.5 -2 -.3 -3 .5 -3 .6 -2 1 -2 1.2 -2 1.5 -2 2.9 -3 3.9 -3 4.4 -2.5 5 -2.2 6 -2 6 -1.5 8 -1.6 8 -1.1 9 -1 9 -.7z"/><path fill="#00fbff" d="M1605.5 1370.2l11.2 -.7 12 -.3 10 .2 10 .4 9 .9 9 1.2 8 1.6 7 1.9 6 2.3 5 2.5 4.5 3 2.3 2 1.9 2 1.6 2 1.3 2 1 2 .7 2 .4 2 .1 2 -.5 3 -.8 2 -1.7 3 -2.5 3 -2.2 2 -2.6 2 -3.5 2.2 -3.7 1.8 -4.3 1.7 -4 1.3 -5 1.3 -11 2 -13 1.5 -14 .7 -17 -.1 -17 -.9 -14 -1.6 -7 -1.1 -6 -1.3 -5.8 -1.5 -4.2 -1.4 -4.1 -1.6 -3.9 -2 -3.2 -2 -2.6 -2 -2.2 -2.1 -2.2 -2.9 -1.5 -3 -.8 -3 0 -3 .7 -3 1.4 -3 2.4 -3.3 2.7 -2.7 4 -3 3.5 -2 4.8 -2.2 5 -1.8 6 -1.7 6.1 -1.3 6.9 -1.2 8 -1.1z"/><path fill="#00e7ff" d="M1609.4 1371.2l10.3 -.6 10 -.2 10 .2 9 .5 9 .9 8 1.2 7 1.5 7 1.9 6 2.3 5 2.7 4 2.8 2.1 1.8 1.8 2 2.2 3 1.1 2 .8 2 .4 2 .1 2 -.6 3 -.9 2.2 -1.7 2.8 -2.3 2.6 -2.7 2.4 -2.9 2 -3.4 2 -3 1.4 -4 1.5 -4 1.2 -5 1.3 -11 2 -12 1.3 -14 .7 -16 -.2 -16 -1 -13 -1.5 -6 -1.1 -6 -1.3 -5 -1.3 -5 -1.7 -4 -1.7 -3.2 -1.6 -3.1 -2 -2.6 -2 -2.1 -2.1 -2.2 -2.9 -1.4 -3 -.6 -3 .3 -3 1 -3 1.9 -3 2.6 -3 3.4 -2.8 3.3 -2.2 3.9 -2 4.8 -2 5 -1.6 5.5 -1.4 6.5 -1.4 7 -1.1 7 -.8z"/><path fill="#00d4ff" d="M1613.8 1372.2l9.9 -.4 9 -.1 9 .3 9 .6 8 .9 7 1.2 6.6 1.5 6.4 2 5 2 5 2.7 4 3 3 3 2.3 3.3 1 2 .6 2 .3 3 -.6 3 -1.4 3 -1.4 2 -1.8 2 -2.3 2 -2.7 2 -3.5 2 -3.5 1.6 -3.7 1.4 -4.3 1.3 -5 1.3 -11 1.9 -12 1.2 -13 .5 -15 -.2 -15 -1 -13 -1.7 -10.7 -2.3 -5.3 -1.5 -4 -1.5 -3 -1.3 -3.4 -1.7 -3.1 -2 -2.5 -2 -2 -2 -2.2 -3 -1.2 -3 -.4 -2 .3 -3 1.2 -3 2 -3 2.9 -3 2.5 -2 3.9 -2.4 4 -2 5 -1.9 5.4 -1.7 5.6 -1.4 6 -1.1 7 -1.1 7 -.8z"/><path fill="#00c1ff" d="M1619.6 1373.2l9.1 -.2 8 .1 8 .3 8 .7 7 1 6 1.1 6 1.5 6 2 5 2.2 4 2.3 3.8 3 2.8 3 1.9 3 1.1 3 .3 3 -.6 3 -1.3 2.7 -1.7 2.3 -1.9 2 -2.4 2 -3 2 -3 1.6 -3.2 1.4 -3.8 1.3 -9 2.4 -10 1.7 -12 1.2 -13 .4 -14 -.3 -14 -1 -11.9 -1.7 -10.1 -2.2 -4 -1.2 -4.4 -1.6 -3.6 -1.6 -3 -1.6 -2.8 -1.8 -2.4 -2 -1.9 -2 -2 -3 -1 -3 -.1 -2 .6 -3 1.6 -3 2 -2.5 2.6 -2.5 3.4 -2.4 4 -2.2 4 -1.7 5 -1.8 6 -1.6 5.9 -1.3 6.1 -1 7 -.9z"/><path fill="#00adff" d="M1609.5 1375.2l9.2 -.6 9 -.3 8 0 8 .4 8 .7 7 1 7 1.4 6 1.6 5 1.8 5 2.4 4 2.6 3.3 3 2.3 3 1.1 2 .7 2 .2 3 -.6 3 -.9 2 -1.4 2 -1.8 2 -2.3 2 -4.7 3 -3.9 1.8 -3.2 1.2 -7.8 2.2 -10 1.9 -11 1.1 -12 .5 -13 -.1 -13 -.9 -11 -1.3 -10 -2 -8.2 -2.4 -3.8 -1.5 -3.2 -1.5 -3.4 -2 -2.6 -2 -2 -2 -1.6 -2 -1.2 -2.5 -.6 -2.5 .2 -2 1 -3 1.9 -3 1.9 -2 2.3 -2 3.1 -2 3.8 -2 3.4 -1.5 4.4 -1.5 4.6 -1.3 5 -1.2 6 -1.1z"/><path fill="#009aff" d="M1614.6 1376.2l8.1 -.4 9 -.1 8 .2 7 .4 7 .8 6.6 1.1 5.4 1.2 5.8 1.8 5 2 3.7 2 3.5 2.4 2.7 2.6 2.1 3 1.2 3 .3 3 -.7 3 -.9 2 -1.5 2 -3.2 3.1 -2.7 1.9 -2.3 1.3 -3.8 1.7 -3.2 1.2 -8 2.2 -9.3 1.6 -9.9 1 -11.8 .5 -13 -.3 -12 -.8 -10.5 -1.4 -9.5 -2 -5 -1.5 -4 -1.4 -3 -1.4 -3 -1.6 -2 -1.3 -2.3 -1.8 -1.9 -2 -1.3 -2 -.9 -2 -.4 -2 .1 -2 1.1 -3 2.1 -3 2 -2 2.5 -2 3.4 -2 3.6 -1.7 3.2 -1.3 4.8 -1.5 5 -1.3 5.8 -1.2 5.2 -.8z"/><path fill="#0087ff" d="M1623.4 1377.2l7.3 -.1 7 .1 7 .4 6 .6 6 .9 5.3 1.1 4.7 1.3 4.9 1.7 4.3 2 3.2 2 2.6 2.1 2.6 2.9 1.4 2.5 .7 2.5 0 3 -.6 2 -1 2 -1.5 2 -3.4 3 -2.2 1.4 -3 1.6 -3 1.3 -4 1.4 -8 1.9 -8.7 1.4 -10.3 .9 -10 .2 -12 -.3 -10.7 -.8 -9.3 -1.3 -9 -1.9 -4 -1.2 -4.3 -1.6 -2.7 -1.2 -3.2 -1.8 -3.9 -3 -1.8 -2 -1.1 -2 -.7 -2 -.1 -2 .7 -3 1.1 -2 1.6 -2 2.4 -2.2 3 -2 4 -2.1 4.1 -1.7 3.9 -1.3 5 -1.3 5 -1 11 -1.5z"/><path fill="#0074ff" d="M1614.5 1379.2l7.2 -.4 8 -.2 7 .1 7 .4 6 .6 6 .9 5 1.1 5 1.4 4 1.5 4 2 3.8 2.6 2.1 2 1.6 2 1.3 3 .4 3 -.4 2 -.9 2 -1.3 2 -1.6 1.6 -1.7 1.4 -2.3 1.5 -2.8 1.5 -4.9 2 -7.3 2 -7 1.3 -8 .8 -10 .5 -11 0 -11 -.6 -10 -1.2 -9 -1.8 -7 -2.1 -3 -1.2 -3.4 -1.7 -1.6 -1 -2.6 -2 -1.4 -1.4 -1.2 -1.6 -1 -2 -.4 -2 .1 -2 .7 -2 1.1 -2 1.8 -2 2.3 -2 2.6 -1.7 2.5 -1.3 3.5 -1.5 4 -1.4 4.1 -1.1 4.5 -1 5.4 -.9z"/><path fill="#0060ff" d="M1630 1380.2l11.7 .4 10 1.1 5 .9 4 1 4 1.3 3.1 1.3 2.9 1.5 2.3 1.5 2.4 2 1.7 2 1.1 2 .5 1.6 .2 1.4 -.1 2 -.7 2 -1.2 2 -.8 1 -1.4 1.3 -2.2 1.7 -4.8 2.5 -6 2.2 -7 1.6 -8 1.1 -8.3 .6 -9.7 .2 -10 -.4 -9.7 -.8 -8.3 -1.3 -7.2 -1.7 -5.8 -2.1 -3 -1.4 -2.4 -1.5 -1.6 -1.2 -1.9 -1.8 -1.1 -1.6 -.7 -1.4 -.4 -2 .1 -2 .7 -2 1.3 -2 1.9 -2 2.6 -2 2.5 -1.4 3.3 -1.6 3.7 -1.3 5 -1.4 9 -1.8 11 -1.1z"/><path fill="#004dff" d="M1620.4 1382.2l12.3 -.3 11 .6 5.8 .7 4.2 .8 5 1.2 3 1 3 1.2 3.3 1.8 2.7 2 1.9 2 1.2 2 .7 2 .1 2 -.4 2 -.5 1.1 -1.3 1.9 -2.7 2.5 -2.4 1.5 -1.9 1 -4.7 1.8 -5 1.4 -7 1.2 -7 .7 -9 .4 -9 -.1 -9 -.5 -8 -1 -7 -1.4 -6 -1.8 -5 -2.2 -3.8 -2.5 -1.2 -1.2 -1.3 -1.8 -.7 -1.5 -.3 -1.5 .1 -2 .8 -2 1.4 -2 1 -1 2 -1.6 2.2 -1.4 2.8 -1.4 4 -1.5 7 -1.9 8 -1.3z"/><path fill="#003aff" d="M1619.4 1384.2l11.3 -.4 10 .4 9 1.1 4.1 .9 3.4 1 3.5 1.3 3 1.6 2 1.3 1.9 1.8 1.5 2 .7 2 .2 2 -.5 2 -.8 1.4 -1.3 1.6 -2.4 2 -3.7 2 -4.6 1.7 -5.4 1.3 -6.5 1 -7.1 .6 -7 .1 -8 -.2 -8 -.5 -7.1 -1 -5.9 -1.3 -5.3 -1.7 -4.1 -2 -2.8 -2 -1 -1 -1.3 -2 -.4 -1 -.2 -2 .2 -1 .9 -2 1 -1.4 1.7 -1.6 3.1 -2 4.5 -2 6.7 -2 7 -1.2z"/><path fill="#0027ff" d="M1622.3 1386.2l9.4 -.2 9 .4 7 1 3.6 .8 3.3 1 4.4 2 1.7 1.1 2.2 1.9 .8 1.1 .9 1.9 .1 2 -.2 1 -1 2 -.8 1 -2 1.7 -3 1.7 -4 1.5 -4.2 1.1 -5.8 1 -5 .4 -6 .3 -8 -.1 -7 -.5 -7 -.9 -5 -1.1 -4 -1.2 -4.1 -1.9 -2.8 -2 -1.6 -2 -.7 -2 .2 -1.8 .5 -1.2 1.4 -2 1.1 -.9 3.3 -2.1 4.7 -1.9 5 -1.3 6 -1.1z"/><path fill="#0013ff" d="M1618.4 1389.2l8.3 -.6 8 0 7 .6 6 1.2 2.6 .8 2.4 1 3.3 2 1 1 1.2 2 .3 1 0 1 -.3 1 -.5 1 -.8 1 -1.2 1 -3 1.8 -3.2 1.2 -4 1 -3.8 .6 -4 .4 -5 .3 -6 -.1 -5 -.2 -6 -.7 -4 -.8 -4 -1.1 -3.4 -1.4 -1.7 -1 -1.2 -1 -.9 -1 -.6 -1 -.3 -1 0 -1 .3 -1 .5 -1 .8 -1 1.5 -1.2 3 -1.7 3 -1.1 4 -1z"/><path fill="#0000ff" d="M1623.4 1392.2l5.3 -.3 5 0 4 .4 4.9 .9 3.1 1.1 1.8 .9 1.2 .9 .9 1.1 .3 1 0 1 -.4 1 -.8 1 -1.4 1 -2.1 1 -3.3 1 -2.2 .4 -7 .7 -7 -.1 -7.5 -1 -3.7 -1 -2.3 -1 -1.6 -1 -.9 -1 -.5 -1 0 -1 .4 -1 .9 -1 1.4 -1 2.2 -1 3.3 -1z"/></g>
<path fill="#000" fill-rule="evenodd" d="M1415.70 1183.20h408.20v409.30h-408.20zM1418.20 1185.80h403.10v403.52h-403.10z"/>
<path d="M1417.00 1592.00v11.58M1416.20 1591.00h-11.58M1471.79 1592.00v6.28M1416.20 1535.95h-6.28M1526.58 1592.00v11.58M1416.20 1480.90h-11.58M1581.38 1592.00v6.28M1416.20 1425.85h-6.28M1636.17 1592.00v11.58M1416.20 1370.80h-11.58M1690.96 1592.00v6.28M1416.20 1315.75h-6.28M1745.75 1592.00v11.58M1416.20 1260.70h-11.58M1800.54 1592.00v6.28M1416.20 1205.65h-6.28" stroke="#000" stroke-width="2.70" fill="none"/>
<text x="1417.0" y="1627.2" font-size="20.71" font-weight="bold" text-anchor="middle" fill="#000">0.0</text>
<text x="1394.5" y="1596.4" font-size="20.71" font-weight="bold" text-anchor="end" fill="#000">0.0</text>
<text x="1526.6" y="1627.2" font-size="20.71" font-weight="bold" text-anchor="middle" fill="#000">2.0n</text>
<text x="1394.5" y="1486.3" font-size="20.71" font-weight="bold" text-anchor="end" fill="#000">2.0n</text>
<text x="1636.2" y="1627.2" font-size="20.71" font-weight="bold" text-anchor="middle" fill="#000">4.0n</text>
<text x="1394.5" y="1376.2" font-size="20.71" font-weight="bold" text-anchor="end" fill="#000">4.0n</text>
<text x="1745.8" y="1627.2" font-size="20.71" font-weight="bold" text-anchor="middle" fill="#000">6.0n</text>
<text x="1394.5" y="1266.1" font-size="20.71" font-weight="bold" text-anchor="end" fill="#000">6.0n</text>
<text x="1619.8" y="1664.2" font-size="20.71" font-weight="bold" text-anchor="middle" fill="#000">Electron position (m)</text>
<text x="1336.2" y="1386.3" font-size="20.71" font-weight="bold" text-anchor="middle" fill="#000" transform="rotate(-90 1336.2 1386.3)">Hole position (m)</text>
<text x="1436.2" y="1228.7" font-size="28.80" font-weight="bold" fill="#fff">5.4x10<tspan dy="-12.1" font-size="17.28">5</tspan><tspan dy="12.1"> V/cm</tspan></text>
<text x="1390.3" y="1210.3" font-size="30.14" stroke="#000" stroke-width="1.05" text-anchor="middle" font-family="'Noto Serif CJK SC', 'Noto Sans CJK SC', 'DejaVu Sans', serif" fill="#000">③</text>
<rect x="1832.60" y="1574.05" width="30.00" height="8.40" fill="#0000ff"/><rect x="1832.60" y="1566.25" width="30.00" height="8.40" fill="#0013ff"/><rect x="1832.60" y="1558.46" width="30.00" height="8.40" fill="#0027ff"/><rect x="1832.60" y="1550.66" width="30.00" height="8.40" fill="#003aff"/><rect x="1832.60" y="1542.86" width="30.00" height="8.40" fill="#004dff"/><rect x="1832.60" y="1535.07" width="30.00" height="8.40" fill="#0060ff"/><rect x="1832.60" y="1527.27" width="30.00" height="8.40" fill="#0074ff"/><rect x="1832.60" y="1519.48" width="30.00" height="8.40" fill="#0087ff"/><rect x="1832.60" y="1511.68" width="30.00" height="8.40" fill="#009aff"/><rect x="1832.60" y="1503.89" width="30.00" height="8.40" fill="#00adff"/><rect x="1832.60" y="1496.09" width="30.00" height="8.40" fill="#00c1ff"/><rect x="1832.60" y="1488.29" width="30.00" height="8.40" fill="#00d4ff"/><rect x="1832.60" y="1480.50" width="30.00" height="8.40" fill="#00e7ff"/><rect x="1832.60" y="1472.70" width="30.00" height="8.40" fill="#00fbff"/><rect x="1832.60" y="1464.91" width="30.00" height="8.40" fill="#00ffee"/><rect x="1832.60" y="1457.11" width="30.00" height="8.40" fill="#00ffd7"/><rect x="1832.60" y="1449.32" width="30.00" height="8.40" fill="#00ffc0"/><rect x="1832.60" y="1441.52" width="30.00" height="8.40" fill="#00ffaa"/><rect x="1832.60" y="1433.72" width="30.00" height="8.40" fill="#00ff93"/><rect x="1832.60" y="1425.93" width="30.00" height="8.40" fill="#00ff7c"/><rect x="1832.60" y="1418.13" width="30.00" height="8.40" fill="#00ff66"/><rect x="1832.60" y="1410.34" width="30.00" height="8.40" fill="#00ff4f"/><rect x="1832.60" y="1402.54" width="30.00" height="8.40" fill="#00ff39"/><rect x="1832.60" y="1394.75" width="30.00" height="8.40" fill="#00ff22"/><rect x="1832.60" y="1386.95" width="30.00" height="8.40" fill="#00ff0b"/><rect x="1832.60" y="1379.15" width="30.00" height="8.40" fill="#0aff00"/><rect x="1832.60" y="1371.36" width="30.00" height="8.40" fill="#1fff00"/><rect x="1832.60" y="1363.56" width="30.00" height="8.40" fill="#34ff00"/><rect x="1832.60" y="1355.77" width="30.00" height="8.40" fill="#49ff00"/><rect x="1832.60" y="1347.97" width="30.00" height="8.40" fill="#5eff00"/><rect x="1832.60" y="1340.18" width="30.00" height="8.40" fill="#72ff00"/><rect x="1832.60" y="1332.38" width="30.00" height="8.40" fill="#87ff00"/><rect x="1832.60" y="1324.58" width="30.00" height="8.40" fill="#9cff00"/><rect x="1832.60" y="1316.79" width="30.00" height="8.40" fill="#b1ff00"/><rect x="1832.60" y="1308.99" width="30.00" height="8.40" fill="#c6ff00"/><rect x="1832.60" y="1301.20" width="30.00" height="8.40" fill="#dbff00"/><rect x="1832.60" y="1293.40" width="30.00" height="8.40" fill="#efff00"/><rect x="1832.60" y="1285.61" width="30.00" height="8.40" fill="#fffa00"/><rect x="1832.60" y="1277.81" width="30.00" height="8.40" fill="#ffe500"/><rect x="1832.60" y="1270.01" width="30.00" height="8.40" fill="#ffd000"/><rect x="1832.60" y="1262.22" width="30.00" height="8.40" fill="#ffbb00"/><rect x="1832.60" y="1254.42" width="30.00" height="8.40" fill="#ffa700"/><rect x="1832.60" y="1246.63" width="30.00" height="8.40" fill="#ff9200"/><rect x="1832.60" y="1238.83" width="30.00" height="8.40" fill="#ff7d00"/><rect x="1832.60" y="1231.04" width="30.00" height="8.40" fill="#ff6800"/><rect x="1832.60" y="1223.24" width="30.00" height="8.40" fill="#ff5300"/><rect x="1832.60" y="1215.44" width="30.00" height="8.40" fill="#ff3e00"/><rect x="1832.60" y="1207.65" width="30.00" height="8.40" fill="#ff2a00"/><rect x="1832.60" y="1199.85" width="30.00" height="8.40" fill="#ff1500"/><rect x="1832.60" y="1192.06" width="30.00" height="8.40" fill="#ff0000"/><rect x="1832.60" y="1582.14" width="30.00" height="8.96" fill="#000"/><rect x="1832.60" y="1183.40" width="30.00" height="8.96" fill="#fff"/>
<rect x="1833.20" y="1184.00" width="28.80" height="406.50" fill="none" stroke="#111" stroke-width="1.20"/>
<text x="1875.4" y="1198.0" font-size="17.82" font-weight="normal" text-anchor="start" fill="#111" textLength="42.8" lengthAdjust="spacingAndGlyphs">0.460</text>
<text x="1875.4" y="1246.9" font-size="17.82" font-weight="normal" text-anchor="start" fill="#111" textLength="42.8" lengthAdjust="spacingAndGlyphs">0.349</text>
<text x="1875.4" y="1295.7" font-size="17.82" font-weight="normal" text-anchor="start" fill="#111" textLength="42.8" lengthAdjust="spacingAndGlyphs">0.238</text>
<text x="1875.4" y="1344.5" font-size="17.82" font-weight="normal" text-anchor="start" fill="#111" textLength="42.8" lengthAdjust="spacingAndGlyphs">0.127</text>
<text x="1875.4" y="1393.3" font-size="17.82" font-weight="normal" text-anchor="start" fill="#111" textLength="52.3" lengthAdjust="spacingAndGlyphs">0.0160</text>
<text x="1875.4" y="1442.2" font-size="17.82" font-weight="normal" text-anchor="start" fill="#111" textLength="58.0" lengthAdjust="spacingAndGlyphs">-0.0950</text>
<text x="1875.4" y="1491.0" font-size="17.82" font-weight="normal" text-anchor="start" fill="#111" textLength="48.5" lengthAdjust="spacingAndGlyphs">-0.206</text>
<text x="1875.4" y="1539.8" font-size="17.82" font-weight="normal" text-anchor="start" fill="#111" textLength="48.5" lengthAdjust="spacingAndGlyphs">-0.317</text>
<text x="1875.4" y="1588.6" font-size="17.82" font-weight="normal" text-anchor="start" fill="#111" textLength="48.5" lengthAdjust="spacingAndGlyphs">-0.428</text>
<path d="M1862.10 1191.96h5.78M1862.10 1240.78h5.78M1862.10 1289.60h5.78M1862.10 1338.43h5.78M1862.10 1387.25h5.78M1862.10 1436.07h5.78M1862.10 1484.90h5.78M1862.10 1533.72h5.78M1862.10 1582.54h5.78" stroke="#1a1a1a" stroke-width="1.44" fill="none"/></g>
<!-- panel b4 -->
<g><clipPath id="cb4"><rect x="125.4" y="1732.0" width="427.5" height="427.9"/></clipPath><g clip-path="url(#cb4)" fill-rule="evenodd" shape-rendering="geometricPrecision"><rect x="125.4" y="1732.0" width="427.5" height="427.9" fill="#00ff0b"/><path fill="#0aff00" d="M276.4 1785l8 -.4 9 .3 8 1 7 1.7 6 2.4 5 2.8 3 2.3 2 1.8 2 2.2 2 2.5 3 4.7 3 6.6 2.3 7.1 1.9 8 1.6 10 1.4 12 1.1 14 .8 15 1 34 .5 29 .1 53 -.2 36 -.8 28 -1 19 -1.4 15 -1.8 12 -1.1 5 -1.4 5.1 -1.4 3.9 -1.6 3.7 -2 3.6 -2 2.9 -2 2.3 -3 2.8 -3 2.2 -3 1.8 -4 1.8 -4 1.4 -4 1.1 -5 1 -5 .6 -6 .4 -6 .1 -6 -.1 -5 -.4 -6 -.9 -5 -1 -6 -1.7 -6 -2.1 -5 -2.1 -6 -3 -5 -2.9 -5 -3.3 -5 -3.7 -5 -4.2 -4 -3.7 -4.5 -4.6 -4.4 -5 -4.1 -5 -3.6 -5 -4 -6 -3.6 -6 -3.2 -6 -2.9 -6 -3 -7 -2.4 -6 -2.7 -8 -2 -7 -1.8 -7 -1.5 -7 -1.2 -7 -.9 -7 -.8 -8 -.5 -8 -.2 -9 .2 -10 .5 -11 .7 -10 1.1 -11 1.2 -9 1.4 -9 1.6 -9 2 -9 2.1 -9 2.8 -10 2.5 -8 3.5 -10 3.1 -8 3 -7 3.8 -8 3.7 -7 4 -7 4.5 -7 4.2 -6 4.4 -5.7 4.5 -5.3 4.5 -4.7 5 -4.7 5 -4.2 5 -3.6 5 -3.2 6 -3.2 5 -2.1 6 -2.1 6 -1.4z"/><path fill="#1fff00" d="M278.4 1815l4 -.2 5 0 8 .7 7 1.5 4 1.4 3 1.2 3 1.6 3 1.8 3 2.3 2 1.8 4 4.4 2 2.8 2 3.4 3 6.4 2.7 7.9 2.1 9 1.6 9 1.4 12 1.2 13.5 1.5 23.5 .7 17 .5 26 .2 32 -.2 21 -.6 18 -1.1 15.3 -2 19.7 -1.7 11 -2.3 9.3 -1.2 3.7 -1.8 4.4 -3.1 5.6 -1.9 2.7 -2.8 3.3 -2.2 2 -3 2.4 -3 1.8 -3 1.6 -4 1.6 -4 1.3 -4 1 -5 .8 -9 .7 -5 0 -5 -.2 -5 -.5 -4 -.7 -5 -1.2 -4 -1.2 -4 -1.5 -4 -1.7 -4 -2.1 -4.9 -3.1 -5.1 -3.6 -4 -3.1 -4 -3.4 -4 -3.8 -3.9 -4.1 -3.4 -4 -3.1 -4 -3.5 -5 -3.2 -5 -2.8 -5 -2.6 -5 -2.8 -6 -2.5 -6 -2.6 -7 -3.1 -10 -2.3 -11 -1.7 -12 -.9 -13 .1 -17 1 -18 .8 -9 1 -8 1.3 -8 1.4 -8 1.6 -7 2 -8 4.9 -16 5.1 -14 3.1 -7 2.8 -6 3.2 -6 3.4 -6 3.7 -5.7 3.8 -5.3 4.2 -5.3 4 -4.5 4.1 -4.2 4.9 -4.5 4 -3.3 4 -2.8 5 -2.9 4 -1.9 5 -2 4 -1.1 4 -.9z"/><path fill="#34ff00" d="M273 1833l3.4 -.6 4 -.3 4 -.1 4 .2 4 .6 3 .6 6 1.9 3 1.3 3 1.6 3 1.9 3 2.3 2.8 2.6 2.2 2.4 4 5.2 3.2 5.4 3.2 7 2.6 7.4 2.2 8.6 1.9 10 2.1 14 1.7 16 1 14 .8 21 .4 25 -.1 23 -.5 19 -.9 12 -1.4 11 -2.5 14 -1.4 6 -1.4 5 -1.3 4 -1.6 4 -2 4.1 -2 3.4 -2.5 3.5 -2.5 3 -2 2 -3 2.6 -3 2.1 -3 1.8 -4 1.9 -3 1.2 -4 1.2 -4 .9 -4 .7 -4 .3 -4 .1 -5 -.2 -4 -.3 -4 -.7 -4 -.9 -4 -1.2 -4 -1.6 -3 -1.4 -5 -3 -5.5 -4.5 -9.2 -9 -7.4 -8 -5.5 -7 -5.4 -8.3 -8.8 -15.7 -3.9 -8 -1.5 -4 -1.3 -4 -2.2 -9 -1.4 -9 -.9 -10 -.2 -7 0 -8 .6 -17 1.2 -14 2.1 -14 2.3 -11 2.9 -10 5.5 -15 5.6 -13.4 3 -6.4 2.7 -5.2 2.8 -5 3.5 -5.5 3.8 -5.5 4.5 -6 5.5 -7 4.2 -4.8 3 -2.9 2.7 -2.3 3.3 -2.3 3 -1.8 3 -1.5 4 -1.6 3 -1z"/><path fill="#49ff00" d="M277.9 1845l6.5 -.3 4 .3 3 .5 3 .8 3 1 3 1.3 3 1.6 3 1.9 3 2.4 2.8 2.5 2.2 2.3 4.4 5.7 1.9 3 2.3 4 3.6 8 3.3 10 2.8 11 2.9 14 1.5 10 1 10 .9 14 .6 16 .3 20 -.1 18 -.5 14 -.9 12 -1.1 8 -1.7 8 -3.2 11.2 -3.2 8.8 -1.8 4.1 -2 3.9 -2 3.3 -1.9 2.7 -2.4 3 -2.7 2.8 -5 4.2 -3 2 -3 1.7 -3 1.4 -4 1.5 -3 .9 -4 .8 -3 .4 -4 .3 -7 -.3 -6 -1 -6 -1.7 -5 -2.2 -5 -2.9 -4 -3.2 -4 -4 -4.7 -5.7 -12.9 -17 -10.4 -14.2 -3.9 -5.8 -2.7 -5 -1.7 -4 -1.5 -4 -1.5 -5 -1.1 -5 -.9 -5 -.7 -5 -.7 -11 0 -12 .6 -12 1 -11 1.4 -10 2 -10 2.3 -9 2.8 -8 3.6 -8 7.7 -15 8.9 -16 10.1 -17 2.6 -4 3 -4 2.7 -3 3 -2.7 3 -2.3 4 -2.4 3 -1.5 4 -1.5 4 -1z"/><path fill="#5eff00" d="M283.4 1854.9l3 .2 3 .4 3 .7 3 1 3 1.3 3 1.7 3 2 5 4.2 2.5 2.6 2.5 3 4 6 2 3.5 2.2 4.5 3.7 9 3.1 9.5 3.4 12.5 2 10 1.3 10 1.1 13 .7 15 .3 16 .1 16 -.3 12 -.8 11 -1.1 10 -1.4 7 -1.7 6 -3.6 9.6 -3.3 7.4 -3.9 7 -4.2 6 -4.6 4.9 -5 4.1 -3 1.9 -3 1.6 -6 2.5 -6 1.5 -3 .4 -4 .2 -6 -.4 -5 -.9 -5 -1.5 -4 -1.7 -5 -2.9 -4 -2.9 -3.9 -3.8 -3.3 -4 -11.8 -16.6 -12.1 -15.4 -2.6 -4 -2.1 -4 -1.7 -4 -1.8 -5 -1.2 -4 -1.2 -5 -.9 -5 -.6 -5 -.4 -5 -.2 -6 .2 -11 .6 -10 1 -10 1.5 -9 1.9 -9 2.5 -9 2.4 -7 3.3 -7 12.4 -22.2 10.5 -19.8 3.5 -5.6 3 -3.9 3 -3.2 3 -2.7 3 -2.2 4 -2.4 3 -1.4 4 -1.4 4 -.8z"/><path fill="#72ff00" d="M278.2 1864l3.2 -.3 3 -.1 5 .7 3 .8 3 1.1 5 2.6 5 3.7 2.7 2.5 2.3 2.5 4.3 5.5 4.2 7 3.9 8 3.6 9.1 3.3 9.9 2.4 9 1.5 9 1.3 11 1 13 .6 14 .2 15 -.1 12 -.4 10 -.8 9.7 -1.2 8.3 -1.4 7 -2 6 -2.4 5.6 -4.3 8.4 -4.7 7.6 -2.6 3.4 -2.4 2.8 -5 4.8 -3 2.3 -3 1.9 -3 1.6 -3 1.3 -6 1.8 -4 .6 -3 .3 -5 -.2 -5 -.7 -5 -1.4 -4 -1.6 -5 -2.8 -4 -3 -4 -3.7 -3 -3.6 -10.2 -14.4 -11 -14 -2.6 -4 -2.1 -4 -1.8 -4 -1.5 -4 -2.2 -8 -1.5 -9 -.8 -10 .1 -10 .5 -10 .9 -9 1.3 -9 1.6 -8 2.4 -9 2.3 -7 3 -7 3.1 -6 8.5 -15 9 -17.4 3 -5 3 -4.1 2.2 -2.5 2.8 -2.7 3 -2.5 3 -2.1 3 -1.6 3 -1.3 3 -1z"/><path fill="#87ff00" d="M279.4 1871.6l3 -.3 5 .3 3 .7 3 1 5 2.4 5 3.5 3 2.7 2 2.1 4.8 6 4.2 6.6 4 7.7 4 9.3 2.7 7.4 1.9 7 1.6 8 1.4 11 1.1 12 .7 13 .3 13 0 12 -.3 9 -.7 9 -1.1 8 -1.5 8 -1.8 6 -2.1 5 -4.2 7.5 -5 7.5 -5 6.1 -5 4.7 -5 3.7 -3 1.7 -3 1.4 -3 1.1 -3 .8 -4 .7 -3 .3 -4 -.1 -5 -.7 -5 -1.3 -4 -1.7 -5 -2.8 -4 -3 -4 -3.7 -3 -3.4 -9 -12.5 -8.7 -11.3 -2.6 -4 -2.5 -5 -2.9 -7 -2.3 -8 -1.4 -8 -.8 -9 0 -9 .5 -10 .8 -9 1.3 -9 1.7 -8 2.1 -8 2.6 -8 2.8 -7 3 -6 6.4 -11.6 7.5 -14.4 3.5 -5.8 3 -4.1 2 -2.3 3 -3 5 -3.9 3 -1.8 3 -1.4 3 -1.1z"/><path fill="#9cff00" d="M277.5 1879l2.9 -.4 3 -.2 3 .2 2 .4 5 1.5 5 2.6 5 3.7 5 4.9 5 6.5 4 6.4 4 7.5 3 6.7 2.2 6.2 1.9 7 1.7 9 1.4 10 1 11 .6 13 .3 12 0 10 -.4 9 -.7 8 -1.1 8 -1.5 7 -1.9 6 -2.2 5 -3.5 6 -5.8 7.7 -5 5.5 -5 4.4 -5 3.3 -3 1.6 -3 1.3 -3 1 -3 .7 -5 .5 -5 -.2 -5 -.8 -5 -1.6 -4 -1.9 -5 -3.1 -4 -3.2 -4 -4 -3 -3.6 -9.5 -12.6 -3.5 -5 -2.9 -5 -2.9 -6 -2.5 -7 -1.9 -7 -1.3 -8 -.6 -8 0 -9 .6 -10 .9 -9 1.3 -8 1.7 -8 2.2 -8 3 -9 2.9 -7 4 -8 8.5 -16 3 -4.9 4 -5.3 5 -5.3 5 -3.9 5 -2.7 3 -1.1z"/><path fill="#b1ff00" d="M276.1 1886l2.3 -.5 3 -.4 3 0 2 .2 2 .3 3 .9 5 2.2 5 3.3 5 4.6 5 5.8 4 5.8 4 6.8 3 6 2.3 6 1.7 6 1.9 9 1.3 9 1.1 10 .8 12 .3 11 .1 11 -.4 9 -.7 8 -.9 7 -1.5 7 -1.8 6 -2.2 5.3 -1.5 2.7 -1.9 3 -4.6 5.8 -6 6.2 -5 4.1 -5 3.2 -5 2.3 -3 1.1 -3 .7 -5 .6 -5 -.2 -5 -.9 -5 -1.6 -4 -1.9 -5 -3.2 -4 -3.2 -4 -3.9 -5 -5.9 -4.6 -6.2 -3.2 -5 -2.8 -5 -3.1 -7 -2.1 -6 -1.7 -7 -1.2 -7 -.5 -7 -.1 -8 .4 -10 .9 -9 1.4 -9 1.9 -9 2.2 -8 2.9 -9 2.8 -7 4.4 -9 4.4 -8.1 4 -6.2 4 -5.1 4 -4.1 5 -4 5 -2.8z"/><path fill="#c6ff00" d="M276.8 1892l2.6 -.5 3 -.3 3 .1 2 .3 3 .7 2 .7 5 2.5 5 3.6 4 3.7 5 5.8 4.5 6.4 3.5 6 2.2 5 1.8 5 1.9 7 1.6 8 1.3 9 1 10 .7 10 .3 10 0 10 -.3 8 -.7 8 -1.1 7 -1.5 7 -1.9 6 -2.3 5 -3 4.9 -4 4.7 -5 4.9 -6 4.7 -5 3 -5 2.2 -5 1.3 -5 .6 -5 -.2 -5 -.9 -5 -1.6 -4 -1.9 -5 -3.1 -4 -3.1 -4 -3.8 -4.2 -4.7 -3.6 -5 -2.9 -5 -2.9 -6 -2.7 -7 -1.8 -6 -1.3 -6 -.9 -6 -.5 -6 0 -8 .4 -10 .9 -9 1.2 -8 1.8 -9 2.1 -8 2.8 -9 3 -8 3.3 -7 3.3 -5.7 4 -5.8 4 -4.7 4 -3.9 5 -3.8 5 -2.7z"/><path fill="#dbff00" d="M280.7 1897l4.7 0 3 .4 2 .6 4 1.6 5 2.9 5 4 5 5.2 4.2 5.3 3.8 6.1 2.3 4.9 2.2 6 1.9 7 1.6 8 1.2 8 .9 9 .7 10 .3 10 0 9 -.3 7 -.6 7 -1 7 -1.3 6 -1.8 6 -2.1 5 -2 3.6 -3 4.1 -4 4.2 -5 4.1 -5 3.4 -5 2.6 -5 1.8 -4 .9 -5 .4 -5 -.3 -4 -.8 -5 -1.6 -4 -1.8 -5 -3.1 -5 -3.8 -4 -3.8 -3 -3.6 -2.8 -4.3 -2.6 -5 -2.8 -7 -2 -6 -1.5 -6 -1.1 -6 -.6 -6 -.3 -6 .2 -9 .5 -9 .9 -8 1.4 -9 2 -9 2.4 -9 2.6 -8 2.9 -7 2.8 -5.3 3 -4.5 4 -4.8 5 -4.9 4 -3.1 5 -2.9 5 -1.7z"/><path fill="#efff00" d="M276.2 1903l4.2 -.8 5 0 4 .7 5 1.8 5 2.9 5 3.9 4 3.9 4 4.9 3 4.6 2.1 4.1 1.9 5 2.1 7 1.7 7 1.3 8 1.1 9 .7 9 .4 9 .1 10 -.2 8 -.7 7 -1 7 -1.4 6 -1.9 6 -2.2 5 -2.4 4 -3.2 4 -3.4 3.2 -5 3.8 -5 2.9 -5 2.1 -5 1.5 -5 .7 -4 .1 -5 -.6 -5 -1.3 -4 -1.5 -5 -2.6 -4 -2.6 -4 -3.2 -3 -3.1 -2.5 -3.4 -2.3 -4 -2.3 -5 -2.2 -6 -1.7 -6 -1.3 -6 -.9 -6 -.5 -5 -.1 -8 .3 -10 .7 -9 1.2 -9 1.4 -8 2.1 -9 2.6 -9 2.1 -6 2.4 -5 2.4 -4 3.1 -4 3.5 -3.8 4 -3.5 4 -2.8 4 -2.2z"/><path fill="#fffa00" d="M280.3 1907l4.1 -.1 3 .3 2 .4 5 1.8 4 2.1 4 2.7 4.3 3.8 3.7 4.3 3 4.4 2.2 4.3 2.4 6 1.8 6 1.7 7 1.2 7 1.1 8 .7 9 .4 9 .2 9 -.2 7 -.5 7 -.9 6 -1.2 6 -1.5 5 -1.9 5 -2.5 4.8 -3 4.2 -3 3 -4 3.2 -4 2.5 -4 1.9 -5 1.8 -5 1.1 -4 .3 -4 0 -5 -.7 -4 -1 -4 -1.5 -5 -2.4 -4 -2.6 -3.2 -2.6 -2.8 -3 -2.2 -3 -2.2 -4 -2.2 -5 -2 -6 -1.5 -6 -1.1 -6 -.7 -6 -.3 -6 0 -9 .4 -9 .7 -8 1.2 -9 1.5 -8 1.9 -8 2 -7 2.5 -6.4 2.4 -4.6 2.7 -4 3.9 -4.4 4 -3.5 4 -2.7 4 -2 4 -1.5z"/><path fill="#ffe500" d="M276.2 1912l4.2 -.7 5 0 4 .6 4 1.2 4 1.9 4.6 3 3.4 3 3.6 4 2.4 3.5 2.4 4.5 2.1 5 2 6 1.5 6 1.4 7 1 7 .7 8 .6 9 .2 10 -.2 7 -.5 7 -.8 6 -1.3 6 -1.5 5 -2 5 -2.6 4.8 -2.4 3.2 -2.9 3 -3.7 2.9 -4 2.4 -5 2.2 -5 1.4 -5 .8 -4 .1 -5 -.4 -5 -1 -4 -1.3 -4 -1.7 -4 -2.4 -3 -2.2 -2.9 -2.8 -2.1 -2.7 -2 -3.3 -1.9 -4 -1.5 -4 -1.6 -5 -1.1 -5 -.9 -5 -.6 -6 -.4 -8 .1 -9 .5 -9 .9 -9 1.1 -8 1.6 -8 1.8 -7 2 -6.2 2 -4.8 2.2 -4 2.8 -3.9 3 -3.3 3 -2.6 4 -2.7 4 -2z"/><path fill="#ffd000" d="M275.9 1916l4.5 -.7 5 -.1 4 .6 4 1.2 4 1.9 4 2.7 3 2.6 3 3.4 3 4.4 2 4 2 4.8 1.7 5.2 1.6 6 1.2 6 1 7 .7 7 .6 9 .2 9 -.1 7 -.5 7 -.8 6 -1.3 6 -1.5 5 -1.8 4.2 -2 3.8 -2.8 4 -2.8 3 -3.4 2.7 -4 2.3 -4 1.7 -5 1.4 -5 .8 -4 .1 -5 -.4 -4 -.7 -4 -1.2 -4 -1.6 -3 -1.7 -3 -2.1 -3 -2.8 -2.1 -2.5 -2 -3 -1.9 -3.8 -1.6 -4.2 -1.3 -4 -1.2 -5 -.8 -5 -.7 -6 -.3 -7 .1 -9 .4 -9 .8 -9 1.1 -8 1.4 -7 1.5 -6 1.9 -6 2.1 -5 2.1 -4 2.5 -3.6 3 -3.3 3 -2.6 4 -2.6 4 -1.8z"/><path fill="#ffbb00" d="M281 1919l4.4 0 4 .6 4 1.3 3 1.4 4 2.6 3 2.6 2.9 3.5 2.1 3.1 2.5 4.9 2.1 5 1.9 6 1.4 6 1.1 6 1 7.3 .6 7.7 .4 8 .1 8 -.2 6 -.6 6 -.7 5 -1.2 5 -1.4 4.5 -1.9 4.5 -2.1 3.8 -2.3 3.2 -2.7 2.9 -3 2.5 -3 1.8 -4 1.8 -4 1.3 -4 .7 -4 .3 -4 0 -4 -.5 -4 -.8 -4 -1.3 -3.5 -1.7 -3.1 -2 -2.4 -2 -2.8 -3 -2.2 -3.1 -2 -3.6 -1.8 -4.3 -1.3 -4 -1.1 -5 -.8 -5 -.6 -5 -.3 -6 0 -8 .4 -9 .6 -8 .8 -7 1.3 -7 1.4 -6 1.8 -6 2 -5 2 -4 2.6 -4.1 3 -3.5 3 -2.6 3 -2 4 -1.9 4 -1.2z"/><path fill="#ffa700" d="M278.8 1923l3.6 -.3 4 .2 4 .8 3 1 4 2.2 2.8 2.1 2.9 3 2.3 3 2 3.2 2.4 4.8 1.9 5 1.7 5.6 1.3 5.4 1 6 .9 7 .5 7 .3 8 .1 7 -.3 6 -.5 5 -.9 5 -1.2 5 -1.4 4 -1.9 4 -1.9 3.3 -2.8 3.7 -3.1 3 -2.7 2 -3.4 1.8 -4 1.5 -4 .9 -4 .5 -4 0 -4 -.4 -4 -.7 -3 -.9 -3 -1.3 -3 -1.7 -3 -2.4 -2.3 -2.3 -2.4 -3 -1.8 -3 -1.5 -3 -1.5 -4 -1.2 -4 -1 -5 -.7 -5 -.4 -5 -.2 -7 .2 -9 .5 -8 .8 -7 1.1 -7 1.2 -6 1.5 -5 1.7 -4.8 2 -4.4 2.9 -4.8 2.2 -3 2.9 -2.9 3 -2.3 3 -1.6 4 -1.5z"/><path fill="#ff9200" d="M278.2 1927l3.2 -.4 4 0 4 .7 3 1.1 3 1.6 3 2.1 2.9 2.9 2.1 2.7 2.1 3.3 2.1 4 1.8 4.3 1.8 5.7 1.3 5 1.1 6 .8 6 .6 7 .3 7 .1 7 -.3 6 -.5 5 -.8 5 -1 4 -1.4 4 -1.8 4 -2.2 3.7 -2 2.6 -3 3 -3 2.3 -3 1.7 -4 1.5 -3 .7 -4 .5 -4 0 -3 -.2 -4 -.8 -3 -.9 -3 -1.3 -3 -1.8 -2.5 -2 -2 -2 -1.6 -2 -2.1 -3 -1.8 -3.4 -1.5 -3.6 -1.2 -4 -.9 -4 -.6 -4 -.5 -5 -.2 -6 0 -8 .4 -7 .6 -7 .8 -6 1.1 -5.7 1.3 -5.3 1.7 -5 2 -4.7 2 -3.7 2.4 -3.6 2.6 -3.1 3 -2.6 3 -1.9 3 -1.4z"/><path fill="#ff7d00" d="M279.4 1931l4 -.3 3 .2 3 .7 3 1.2 3 1.9 2 1.6 2.6 2.7 2.4 3.1 2 3.3 2 4.1 1.8 4.5 1.2 4 1.2 5 1.1 6 .7 6 .5 6 .3 12 -.2 5 -.5 5 -.9 5 -1 4 -1.2 3.3 -1.7 3.7 -2.3 3.8 -2 2.5 -2 2 -3 2.4 -3 1.8 -3 1.2 -3 .9 -4 .5 -3 .1 -4 -.3 -3 -.6 -3 -.9 -3 -1.4 -2 -1.2 -2.4 -1.8 -2.6 -2.6 -2 -2.5 -2 -3.1 -1.8 -3.8 -1.2 -3 -1.1 -4 -.8 -4 -.8 -8 -.1 -6 .1 -7 .4 -7 .7 -6 .9 -6 1.1 -5 1.4 -5 1.4 -4 1.8 -4 2 -3.6 2.4 -3.4 2.6 -2.9 3 -2.5 2.8 -1.6 3.2 -1.3z"/><path fill="#ff6800" d="M277.8 1936l2.6 -.5 3 -.2 3 .2 3 .8 3 1.4 2 1.4 3 2.6 2 2.3 2 2.8 2 3.6 1.6 3.6 1.5 4 1.4 5 1.1 5 .7 5 .7 6 .5 12 -.5 9 -.5 4 -.8 4 -1.2 4 -1.5 3.5 -1.9 3.5 -2.1 2.9 -2 2.2 -3 2.5 -3 1.9 -3 1.2 -3 .9 -3 .4 -3 .1 -3 -.3 -3 -.5 -3 -1 -2.9 -1.3 -2.1 -1.3 -2 -1.5 -2 -2 -1.9 -2.2 -1.3 -2 -1.7 -3 -1.3 -3 -1.8 -6 -.8 -4 -.4 -4 -.3 -5 0 -6 .3 -7 .5 -6 .7 -5.1 1 -5.3 1.2 -4.6 1.3 -4 1.5 -3.8 2 -3.9 2 -3.1 2 -2.5 2 -2 3 -2.3 3 -1.6z"/><path fill="#ff5300" d="M278.1 1941l2.3 -.5 3 -.3 3 .4 3 .9 2.9 1.5 2.1 1.6 2 1.9 2 2.5 2 3.1 1.5 2.9 1.5 3.5 1.2 3.5 1.9 8 .8 5 .6 5 .4 10 0 5 -.3 4 -.6 4 -.9 4 -.9 3 -1.2 3 -1.6 3 -2 3 -2.4 2.6 -2 1.7 -2.7 1.7 -2.3 1.1 -3 1 -3 .4 -3 .1 -3 -.2 -3 -.7 -2 -.6 -4 -2.1 -2 -1.4 -2 -1.9 -2 -2.3 -1.6 -2.4 -2.4 -5 -1 -3 -.8 -3 -1 -7 -.2 -5 0 -5.6 .3 -5.4 .5 -6 1.5 -9 1.1 -4 1.3 -4 1.3 -3.3 1.9 -3.7 2 -3 1.6 -2 2.5 -2.4 2 -1.5 2 -1.1z"/><path fill="#ff3e00" d="M280.1 1946l2.3 -.3 3 .2 2 .4 2 .8 2 1.2 2 1.6 2 2 2 2.7 1.4 2.4 1.6 3.2 1.1 2.8 1.2 4 1.7 8 1 10 .1 8 -.5 7 -.6 3.5 -.9 3.5 -2.1 5 -1.1 2 -1.9 2.6 -2 2.1 -2 1.6 -2.8 1.7 -2.2 .9 -2 .5 -3 .5 -2 0 -3 -.3 -2.4 -.6 -2.6 -1 -2 -1 -2 -1.4 -3 -2.9 -1.3 -1.7 -1.7 -2.7 -2 -4.7 -1.4 -5.6 -.8 -7 -.1 -5 .2 -5 .8 -9 1.6 -8 .8 -3 1.5 -4 1.4 -3.1 1.6 -2.9 1.5 -2 1.9 -2.2 2 -1.7 2 -1.3 2 -1z"/><path fill="#ff2a00" d="M281 1952l3.4 -.1 2 .3 2 .8 2 1.2 2 1.7 1.8 2.1 1.2 1.6 1.4 2.4 1.4 3 1.9 6 1.4 7 .8 8 .1 8 -.6 6 -1.4 5.5 -2 4.5 -1.2 2 -1.6 2 -1.2 1.2 -2 1.6 -2 1.2 -2 .8 -2 .5 -2 .3 -4 -.2 -2 -.4 -2 -.7 -2 -.9 -2 -1.4 -3 -2.9 -2.1 -3.1 -1.9 -4.1 -1.3 -4.9 -.8 -6 0 -8 .7 -8 1.4 -7.4 2 -6.3 1 -2.3 1.7 -3 1.4 -2 1.9 -2 2 -1.7 2 -1.1 2 -.8z"/><path fill="#ff1500" d="M279.1 1960l1.3 -.5 2 -.4 3 .3 1.8 .6 1.2 .7 1.7 1.3 1.3 1.4 2.4 3.6 2.2 5 1.4 5.3 1 6.7 .3 6 -.2 6 -.9 5 -1.3 4 -1.9 3.3 -1.3 1.7 -1.7 1.6 -3 1.9 -2 .7 -2 .3 -3 0 -3 -.8 -3 -1.5 -2.6 -2.2 -2.3 -3 -1.5 -3 -1.2 -4 -.6 -4 -.2 -6 .3 -6 .9 -6 1.2 -5 2 -5 2 -3.3 1.5 -1.7 1.5 -1.4z"/><path fill="#ff0000" d="M282.3 1969l2.1 .1 2 .7 2 1.7 2 2.9 1.2 2.6 1.1 4 .8 4 .3 5 -.1 4 -.4 3 -.8 3 -1.1 2.4 -1.1 1.6 -2 2 -1.9 1.1 -1 .3 -2 .3 -2 -.1 -2 -.7 -2 -1.2 -2 -2 -1.1 -1.7 -1.3 -3 -.7 -3 -.3 -4 .2 -5 .5 -4 .7 -3.1 1.4 -3.9 1.6 -2.9 2 -2.2 2 -1.3z"/><path fill="#00ff22" d="M398.4 1804.6l7 -.1 5 .2 5 .5 5 1 5 1.4 5 1.9 5 2.3 5 2.8 5 3.4 5 3.8 4 3.5 4.9 4.7 4.1 4.5 4.5 5.5 3.7 5 4.1 6 4.2 7 3.8 7 3 6 3.1 7 3.3 8 2.9 8 2.9 9 2.2 8 2 8 2 9 1.7 9 2.3 17 .9 9 .7 10 .5 17 -.4 13 -.7 7 -.9 7 -2.3 12 -3.2 12 -2 6 -2.7 7 -2.1 5 -2.9 6 -3.3 6 -3.6 6 -3.4 5 -3.8 5 -4.2 5 -4.3 4.7 -4.5 4.3 -4.5 3.9 -5 3.8 -4 2.7 -5 3 -6 3.1 -5 2.2 -5 1.8 -6 1.8 -5 1.1 -6 .9 -5 .4 -8 .1 -9 -.3 -8 -.9 -6 -1 -5 -1.4 -5 -1.9 -4 -2.2 -4 -3 -3 -3.3 -2.4 -3.8 -1.9 -4 -1.7 -5.3 -1.3 -5.7 -1.1 -7 -.8 -8 -.8 -10 -.8 -23 -.4 -31 0 -53 .3 -44 .6 -26 .7 -19 1.3 -16 1.5 -12 2 -9 1.2 -4 1.6 -4.3 1.4 -2.7 1.6 -2.8 2 -2.7 2.4 -2.5 2.6 -2.3 3 -2 3 -1.6 3 -1.3 4 -1.4 4 -1 5 -.9z"/><path fill="#00ff39" d="M393.7 1835l4.7 -.4 6 -.3 5 .1 5 .4 4 .6 4 .9 4 1.3 4 1.6 4 2 3 1.9 3 2.2 4 3.2 4 3.6 4 4 3.5 3.9 3.2 4 3.3 4.5 2.9 4.5 3 5 2.6 5 5 11 2.3 6 2.4 7 3.5 12 1.7 7 1.3 6 2 13 1.5 15 .7 16 .2 18 -.5 13 -1.1 11 -1.8 10 -2.5 9 -3.7 10 -2.7 6 -2.6 5 -2.8 5 -2.6 4 -3.6 5 -3.2 3.8 -3 3.2 -4 3.9 -4 3.3 -4 3 -5 3.4 -4 2.4 -4 2.1 -4 1.7 -4 1.4 -5 1.2 -5 .9 -5 .5 -8 .2 -8 -.2 -7 -.7 -7 -1.2 -6 -1.7 -5 -2.1 -4 -2.3 -4 -3.3 -3 -3.4 -2.7 -4.1 -2.2 -5 -1.6 -5 -1.5 -6.4 -1 -6.1 -1 -8.5 -1 -11.7 -.9 -17.3 -.4 -23 .1 -35 .5 -30 .8 -20 1.3 -20 1.5 -14 1.7 -10 2 -8 1.4 -3.9 1.3 -3.1 1.7 -3.2 2 -3.1 2 -2.6 2 -2.1 2 -1.7 3 -2.2 3 -1.8 3 -1.4 3 -1.2 4 -1.2 4 -.8z"/><path fill="#00ff4f" d="M401.7 1849l4.7 -.1 4 .1 4 .3 4 .7 3 .7 4 1.4 4 1.8 3 1.7 3 2.1 2 1.7 3 2.9 3.5 3.7 7.6 9 3.7 5 2.7 4 2.5 4.1 2.6 4.9 4.6 10 4.9 13 3.3 11 2.2 10 1.8 12 1.2 12 .8 14 .2 15 -.3 12 -.8 10 -1.6 10 -1.9 8 -2.5 7 -4.3 9 -5.2 9.3 -2.4 3.7 -2.9 4 -2.7 3.2 -3 3.3 -3.6 3.5 -4.5 4 -4.9 4.1 -4 2.9 -3 1.9 -3 1.5 -6 2.1 -4 1 -4 .7 -8 .7 -7 0 -7 -.6 -7 -1.3 -6 -1.8 -6 -2.7 -5 -3.1 -4 -3.5 -3.4 -3.9 -2.6 -4.1 -2.3 -4.9 -1.8 -5 -1.9 -7.5 -1.7 -9.5 -1.2 -9 -.8 -10 -.6 -12 -.3 -18 .1 -26 .5 -21 .8 -18 1.2 -14.2 1.8 -14.8 2.1 -11 2.1 -7.9 2.7 -7.1 1.5 -3 1.8 -3.2 2 -2.9 2 -2.4 2.4 -2.5 2.6 -2.3 3 -2.1 3 -1.8 3 -1.5 3 -1.2 3 -1 4 -1 4 -.7z"/><path fill="#00ff66" d="M397.5 1860l2.9 -.5 4 -.3 7 .2 6 1 3 .9 3 1.1 5 2.7 2.8 1.9 2.2 1.8 4.1 4.2 5.3 7 7.9 12 6.3 11 5.8 12 4 10 1.6 5 1.3 5 2.2 11 1.9 13 1 13 .4 12 0 11 -.3 8 -.9 8 -1.5 8 -2.1 8 -2.3 6 -3 6 -5.7 9 -6.7 9 -9.5 11 -3.8 3.9 -3 2.7 -3 2.3 -3 1.8 -3 1.4 -3 1.2 -3 .9 -4 .9 -7 .9 -6 .1 -6 -.5 -6 -1.1 -6 -1.8 -5 -2.2 -5 -3 -4 -3.1 -4 -4.1 -3.1 -4.3 -2.9 -5.1 -2.5 -5.9 -2.3 -7 -1.8 -7 -1.1 -6 -.9 -8 -.7 -9 -.6 -16 0 -20 .4 -20 .8 -18 .9 -12 1.4 -11 2.1 -11 2.3 -9 2.7 -8 3.3 -7.4 2 -3.4 2 -3 4 -4.7 2.6 -2.5 2.4 -2 3 -2.1 3 -1.7 3 -1.4 3 -1.2z"/><path fill="#00ff7c" d="M399.9 1868l5.5 -.6 6 .3 3 .6 3 .7 5 2 5 2.9 2.8 2.1 2.2 2 4 4.5 3.8 5.5 7.6 13 7 13 4.3 9 3.1 8 2.7 10 2.4 12 1.6 13 .9 13 .2 10 -.1 8 -.6 8 -1.1 7 -1.5 7 -2.2 7 -2.4 6 -2.8 5 -5.6 8 -11.5 15 -4.8 5.5 -4 3.7 -3 2.1 -3 1.7 -3 1.4 -3 1.1 -6 1.6 -3 .4 -4 .3 -6 -.1 -5 -.7 -6 -1.4 -5 -1.9 -5 -2.6 -4.5 -3.1 -4.4 -4 -3.4 -4 -3.3 -5 -2.7 -5 -2.7 -6.3 -2.2 -6.7 -1.4 -6 -1.1 -7 -.8 -8 -.6 -10 -.3 -14 .2 -19 .6 -16 .9 -14 1 -10 1.4 -9 2 -9 2.6 -9 3.1 -8 3.5 -7 3.9 -6 4.2 -5 2.1 -2 2.9 -2.4 5 -3.2 3 -1.5 3 -1.2 3 -.9z"/><path fill="#00ff93" d="M400.6 1875l2.8 -.4 3 -.1 5 .3 5 1.2 5 2 5 3 4 3.3 4 4.4 3.7 5.3 4.5 8 9.5 18 3.2 7 2.6 7 3 11 2.1 11 1.6 12 .8 12 .2 9 -.2 8 -.5 7 -1.1 7 -1.6 7 -2 6 -2.5 6 -2.7 5 -4.1 6 -11.5 15.3 -4 4.6 -3 2.8 -5 3.4 -3 1.6 -3 1.2 -6 1.7 -3 .5 -4 .4 -5 -.1 -6 -.8 -5 -1.3 -5 -2 -5 -2.7 -4 -2.8 -4 -3.7 -4 -4.6 -3.1 -4.5 -3.3 -6 -2.6 -5.8 -1.7 -5.2 -1.4 -6 -1.1 -7 -.8 -8 -.6 -9 -.2 -13 .2 -16 .6 -14 .9 -13 1.3 -11 1.3 -8 1.9 -8 2.3 -7 3.3 -8.3 3.4 -6.7 3.6 -5.6 2 -2.6 2.5 -2.8 4.5 -4.1 3 -2.2 3 -1.8 3 -1.4 3 -1.2z"/><path fill="#00ffaa" d="M402.5 1881l4.9 -.2 5 .5 5 1.4 5 2.4 2.9 1.9 2.1 1.6 4 3.9 3.6 4.5 3.4 5.4 6.6 12.6 4.9 10 2.8 7 2.6 8 2.5 10 1.9 11 1.2 11 .7 12 .1 9 -.4 7 -.8 7 -1.2 6 -1.6 6 -2.6 7 -2.4 5 -2.9 5 -7.9 11 -4.5 6 -3 3.3 -4 3.6 -5 3.2 -3 1.5 -3 1.2 -3 .8 -3 .7 -6 .5 -5 -.2 -6 -1 -5 -1.6 -5 -2.2 -5 -3.2 -4 -3.2 -4 -4.1 -3.4 -4.3 -3.2 -5 -2.4 -4.4 -1.9 -4.6 -1.6 -5 -1.4 -7 -1.1 -7 -.7 -8 -.4 -9 -.1 -12 .3 -14 .6 -12 .9 -11 1.3 -10 1.4 -8 1.8 -7 2.3 -7 3.6 -8.1 3.8 -6.9 4.2 -5.9 4 -4.4 5 -4.2 5 -3 5 -2.1 3 -.8z"/><path fill="#00ffc0" d="M403.4 1886.7l3 -.2 5 .4 5 1.3 4 1.8 3 1.8 2 1.4 4 3.6 4 4.7 3 4.5 4.4 8 5.2 11 2.8 7 2.9 9 2.3 9 1.9 10 1.2 10 .8 11 .2 9 -.2 7 -.6 7 -1 6 -1.5 6 -1.9 6 -3 7 -2.7 5 -4.7 7 -5.1 6.9 -4 4.5 -4 3.5 -5 3.2 -5 2.2 -5 1.4 -6 .8 -5 -.1 -5 -.7 -5 -1.4 -5 -2.1 -5 -2.9 -4 -3.1 -4 -3.8 -4 -4.7 -3 -4.3 -2.5 -4.4 -1.7 -4 -1.6 -5 -1.3 -6 -1 -6 -.8 -7 -.5 -8 -.2 -11 .2 -13 .5 -11 .9 -11 1.2 -10 1.6 -9 1.7 -7 2 -6 3.1 -7 3.4 -6.3 4 -5.9 4 -4.6 4 -3.7 5 -3.4 5 -2.5 3 -1z"/><path fill="#00ffd7" d="M403.7 1892l4.7 -.1 5 .8 5 1.8 4 2.3 4 3 4.2 4.2 3.8 5.1 3.5 5.9 4 8 2.8 7 3 9 2.4 9 1.9 9 1.4 9 .9 10 .5 10 0 7 -.4 7 -.7 6 -1.5 7 -2 7 -2.3 6 -2.9 6 -3 5 -3.6 5.2 -4 4.8 -4 3.7 -4 2.9 -4 2.3 -5 2 -5 1.1 -5 .5 -5 -.2 -5 -.9 -5 -1.6 -5 -2.4 -4 -2.5 -4 -3.1 -4 -3.8 -4 -4.8 -2.7 -4.2 -2 -4 -1.9 -5 -1.3 -5 -1.2 -6 -.9 -6.2 -.6 -6.8 -.3 -8 0 -11 .3 -12 .7 -10 1 -10 1.4 -9 1.5 -7.6 1.8 -6.4 2.2 -6 3 -6.2 4 -6.4 4 -5.1 4 -4.1 4 -3.2 5 -3 5 -1.9 3 -.8z"/><path fill="#00ffee" d="M404.2 1897l4.2 0 5 .8 3 1 2 .9 4 2.3 4 3.2 4 4.1 3.5 4.7 3 5 2.9 6 2.8 7 2.5 8 2.5 10 1.7 9 1.3 9 .8 9 .4 9 0 7 -.4 7 -.8 6 -1.4 7 -2 7 -2.3 6 -2.3 5 -2.8 5 -3.4 4.7 -3 3.3 -4 3.6 -4 2.8 -4 2.1 -5 1.9 -4 .9 -5 .5 -5 -.3 -5 -.9 -4 -1.2 -5 -2.3 -5 -3.1 -4 -3.1 -4 -3.9 -3 -3.7 -2.1 -3.3 -2 -4 -1.9 -5 -1.4 -5 -1.2 -6 -.8 -6 -.6 -7 -.3 -7 0 -10 .4 -11 .7 -10 .9 -9 1.3 -8.1 1.7 -7.9 1.6 -6 2.3 -6 3 -6 3.4 -5.3 4 -5 4 -4 4 -3.1 5 -2.9 5 -1.8z"/><path fill="#00fbff" d="M402.2 1902l4.2 -.4 5 .5 3 .8 2 .7 4 2 4 2.8 4 3.8 3.3 3.8 3.3 5 2.6 5 2.4 6 2.5 8 2.2 9 1.6 8 1.3 9 .9 9 .4 8 .2 8 -.2 6 -.7 7 -1 6 -1.5 6 -2.2 7 -2.5 6 -2.6 4.9 -2.9 4.1 -3.1 3.4 -4 3.4 -4 2.6 -4 2 -4 1.5 -4 .9 -5 .5 -4 -.1 -5 -.8 -5 -1.6 -4 -1.7 -4 -2.3 -4 -2.9 -4 -3.5 -2.9 -3.4 -2.1 -3 -2.2 -4 -1.6 -4 -1.6 -5 -1.1 -5 -1 -6 -.7 -6 -.4 -7 -.1 -9 .3 -11 .6 -9 .9 -9 1.2 -8 1.6 -8 1.9 -7 1.8 -5 2.4 -5.1 3 -5 3 -4 4 -4.3 4 -3.4 5 -3.1 4 -1.8z"/><path fill="#00e7ff" d="M399.9 1907l4.5 -.8 4 0 5 .9 4 1.4 4 2.3 4 3 4 4.1 3 3.9 2.5 4.2 2.3 5 2.1 6 1.9 7 1.8 8 1.5 9 1 8 .7 8 .3 8 .1 8 -.4 7 -.7 6 -1.1 6 -1.6 6 -2 6 -2.7 6 -2.7 4.5 -3 3.5 -3 2.8 -4 2.8 -4 2.2 -4 1.5 -4 1.1 -5 .6 -4 0 -4 -.5 -5 -1.2 -4 -1.5 -4 -2 -4 -2.6 -3.9 -3.2 -2.8 -3 -2.3 -3.1 -2 -3.5 -1.9 -4.4 -1.4 -4 -1.3 -5 -1 -5 -.6 -5 -.5 -6 -.3 -8 .2 -10 .5 -10 .8 -9 1.1 -8 1.3 -7 1.8 -7 2 -6 2.1 -5 2.2 -4 3 -4.3 3.2 -3.7 3.8 -3.4 4 -2.9 4 -2.1z"/><path fill="#00d4ff" d="M400.8 1911l4.6 -.6 4 .1 4 .8 4 1.5 4 2.2 3.9 3 3.1 3.2 3 3.9 2.3 3.9 2.2 5 2.1 6 1.6 6 1.5 7 1.3 8 .8 7 .8 9 .3 8 0 8 -.3 7 -.7 6 -1.1 6 -1.5 6 -2.1 6 -2.2 4.8 -2 3.4 -3 3.6 -3 2.7 -3 2.1 -4 2.2 -4 1.6 -4 1 -5 .6 -4 0 -4 -.5 -4 -.9 -4 -1.4 -4 -1.8 -4 -2.5 -3 -2.4 -3 -3 -2 -2.7 -2.3 -3.8 -1.7 -3.7 -1.5 -4.3 -1.4 -5 -1 -5 -.6 -5 -.5 -6 -.2 -8 .2 -10 .5 -9 .8 -8 1.1 -8 1.4 -7 1.6 -6 2 -6 2.2 -5 2.4 -4.1 3 -4.1 3 -3.2 3 -2.6 4 -2.7 4 -1.9z"/><path fill="#00c1ff" d="M400.7 1915l4.7 -.6 4 .1 4 .8 4 1.4 4 2.3 3 2.3 3 3 2.8 3.7 2.2 3.8 2 4.4 1.7 4.8 1.6 6 1.6 7 1.1 7 .8 7 .7 8 .4 9 0 8 -.3 6 -.6 6 -1 6 -1.4 6 -1.7 5 -1.9 4.3 -2 3.5 -2.5 3.2 -3.1 3 -3.4 2.4 -4 2 -4 1.5 -4 .9 -4 .4 -4 0 -4 -.5 -4 -.9 -4 -1.3 -4 -2 -3 -1.9 -3 -2.4 -2.2 -2.2 -2.3 -3 -1.8 -3 -1.9 -4 -1.5 -4 -1.3 -4.4 -1 -4.6 -.7 -5 -.5 -6 -.2 -8 .1 -9 .6 -9 .7 -7.7 1 -6.9 1.3 -6.4 1.7 -6.6 1.8 -5.4 2.2 -5 2.2 -4 2.8 -3.9 2.8 -3.1 3.2 -2.7 4 -2.5 4 -1.8z"/><path fill="#00adff" d="M400 1919l3.4 -.6 4 -.2 4 .4 4 1.2 4 1.8 3 2.1 3 2.8 2.1 2.5 2.1 3 2.1 4 1.7 4 2 6.1 1.5 5.9 1.3 7 .9 7 .7 7 .4 8 .2 8 -.1 7 -.4 6 -.8 6 -1 5 -1.5 5 -1.9 5 -2.1 4 -2.1 3 -2.9 3 -2.4 2 -3.8 2.2 -4 1.7 -4 1 -4 .5 -4 .1 -4 -.3 -4 -.8 -3 -.9 -4 -1.7 -3 -1.8 -2.7 -2 -2.3 -2.2 -2.3 -2.8 -2 -3 -1.7 -3.3 -1.5 -3.7 -1.3 -4 -1 -4 -.8 -5 -.6 -5 -.3 -7 0 -8 .4 -9 .6 -8 1 -7 1.3 -7 1.2 -5 1.9 -6 2 -5 2.1 -4.1 2 -3.1 3 -3.6 3 -2.8 3 -2.1 4 -2.1z"/><path fill="#009aff" d="M405.1 1922l3.3 0 4 .7 4 1.3 3 1.6 3 2.3 2.1 2.1 2.9 3.7 2 3.4 2 4.3 1.7 4.6 1.4 5 1.4 6 .9 6 .9 7 .5 7 .3 8 0 7 -.2 6 -.4 5 -.7 5 -1.1 5 -1.2 4 -1.6 4 -1.9 3.6 -2 2.9 -2.2 2.5 -2.8 2.5 -3 1.9 -3 1.4 -3.8 1.2 -3.2 .6 -4 .3 -4 -.1 -3 -.4 -4 -.9 -3 -1.1 -3 -1.5 -3 -1.9 -3 -2.7 -2 -2.3 -2.1 -3 -1.9 -3.3 -1.6 -3.7 -1.4 -4.3 -1.1 -4.7 -.8 -5 -.5 -5 -.2 -5 0 -8 .4 -8 .5 -7 .9 -7 1.1 -6 1.5 -6 1.6 -5 2 -5 2.1 -4 2.6 -4 2.9 -3.4 3 -2.6 3.1 -2 3.9 -1.7 3 -.8z"/><path fill="#0087ff" d="M403.4 1926l4 -.2 3 .3 4 1.1 3 1.4 3 2 2 1.9 2.2 2.5 2.6 4 2.1 4 1.6 4 1.5 4.6 1.3 5.4 1 5 .8 6 .7 7 .4 7 0 13 -.3 5 -.6 5 -.9 5 -1.1 4 -1.3 3.6 -1.6 3.4 -1.9 3 -2.5 3.2 -2 2 -3 2.2 -3 1.6 -3 1.1 -4 .8 -4 .4 -4 -.1 -3 -.5 -3 -.7 -3 -1.1 -3 -1.5 -3 -2 -2 -1.8 -2.4 -2.6 -2.1 -3 -1.7 -3 -1.3 -3 -1.4 -4 -1.1 -4 -.7 -4 -.5 -4 -.3 -5 -.1 -7 .2 -8 .5 -7 .7 -6 1 -6 1.1 -5 1.4 -5 1.7 -4.6 2 -4.4 2 -3.5 2.5 -3.5 2.5 -2.7 3 -2.4 3 -1.8 3 -1.2z"/><path fill="#0074ff" d="M403.9 1930l3.5 -.1 3 .3 3 .8 3 1.4 2.3 1.6 2.7 2.4 2 2.4 2.1 3.2 1.9 3.5 1.9 4.5 1.3 4 1.3 5 1 5 .8 6 .6 6 .4 7 0 12 -.3 5 -.5 4 -.8 4 -1 4 -1.5 4 -1.5 3 -1.7 2.8 -2 2.5 -2.7 2.7 -2.3 1.7 -3 1.6 -3 1.1 -3 .7 -4 .4 -4 -.1 -3 -.5 -3 -.8 -2.6 -1.1 -2.4 -1.3 -3 -2.1 -2 -1.9 -2 -2.3 -2 -2.9 -1.4 -2.5 -1.3 -3 -1.3 -3.6 -.9 -3.4 -.7 -4 -.5 -4 -.3 -5 -.1 -7 .3 -7 .4 -6 .8 -6 1 -5.9 1 -4.3 1.4 -4.8 1.6 -4.2 2 -4.2 2 -3.3 2.5 -3.3 2.5 -2.6 2 -1.6 3 -1.8 3 -1.2z"/><path fill="#0060ff" d="M401.2 1935l3.2 -.7 3 -.1 3 .5 3 .9 2.7 1.4 2.3 1.7 2 2 2 2.4 2 3.2 1.9 3.7 1.6 4 1.2 4 1.2 5 .8 4 .7 5 .6 6 .4 12 -.1 5 -.4 5 -.6 4 -.9 4 -1.2 4 -1.2 2.9 -1.7 3.1 -2.1 3 -2.2 2.4 -2 1.7 -3 1.9 -2.2 1 -3.5 1 -3.3 .5 -3 0 -3 -.3 -3 -.7 -2 -.6 -3 -1.5 -2 -1.3 -2 -1.6 -2 -1.9 -2 -2.5 -1.4 -2.1 -1.6 -3 -1.2 -3 -1 -3 -.8 -3.5 -1 -7.5 -.2 -5 0 -6 .3 -6 .5 -6 .6 -5 1 -5 1.2 -5 1.3 -4 1.6 -4 1.7 -3.5 2 -3.2 2 -2.5 2 -2.1 3 -2.4 2 -1.2z"/><path fill="#004dff" d="M401 1940l2.4 -.7 3 -.3 3 .3 2 .5 2.8 1.2 2.2 1.4 2 1.8 2 2.3 2 2.9 1.4 2.6 1.6 3.6 1.2 3.4 1.1 4 1.1 5 .7 5 .6 5 .5 11 -.4 9 -1.1 7 -1.1 4 -1.2 3 -1.5 3 -1.9 2.9 -2 2.3 -2 1.8 -2 1.3 -3 1.5 -3 .9 -3 .5 -3 0 -2 -.1 -3 -.7 -2 -.7 -4 -2.1 -2 -1.4 -2.2 -2.2 -1.7 -2 -1.3 -2 -1.6 -3 -1.2 -2.8 -1 -3.1 -.7 -3.1 -.9 -6 -.2 -5 0 -5 .7 -11 1.3 -9 1 -4 1.2 -4 1.5 -4 1.5 -3 1.6 -2.8 2 -2.8 2 -2.1 2 -1.8 2 -1.3z"/><path fill="#003aff" d="M401.9 1945l2.5 -.6 2 -.2 3 .3 2 .6 2 1 2 1.3 2 1.8 2 2.4 1.6 2.4 1.4 2.8 2.3 6.2 1.7 7 1.2 9 .5 10 -.3 8 -.4 3.2 -.8 3.8 -.8 3 -1.2 3 -1.5 3 -1.7 2.4 -2 2.2 -1.7 1.4 -2.3 1.5 -2 .9 -2 .7 -3 .5 -3 .1 -2 -.3 -4 -1 -2 -1 -2 -1.2 -2 -1.6 -1.6 -1.6 -1.4 -1.8 -1.4 -2.2 -1.6 -3 -.7 -2 -1.4 -5 -.9 -6 -.2 -8 .6 -10 .6 -4.8 .8 -4.2 1.9 -7 1.3 -3.4 1.3 -2.6 1.7 -3 1.5 -2 1.5 -1.7 2 -1.8 2 -1.4z"/><path fill="#0027ff" d="M401.8 1951l2.6 -.8 2 -.2 2 .2 2 .5 2 .9 2 1.4 2.9 3 1.4 2 1.6 3 1.9 5 1.7 7 1 7 .5 9 -.3 7 -1 6 -1.6 5 -2.1 4 -2 2.5 -1.6 1.5 -1.4 1 -2 1.2 -2.2 .8 -2.8 .6 -2 .1 -2 -.1 -2 -.4 -2 -.7 -3 -1.6 -3 -2.5 -2.7 -3.4 -2 -4 -1.5 -5 -.8 -5 -.3 -7 .5 -9 1 -7 1.8 -6.9 2.1 -5.1 1.1 -2 1.8 -2.8 3 -3.1 2 -1.4z"/><path fill="#0013ff" d="M404.5 1957l2.9 -.2 2 .5 1.7 .7 1.3 .8 1.4 1.2 1.6 1.8 1 1.5 2 3.9 1.9 5.8 1.1 6 .7 7 0 7 -.6 5 -1.1 4.5 -1.5 3.5 -2 3 -2.5 2.4 -3 1.7 -2 .6 -2 .3 -2 0 -2 -.3 -3 -1.2 -3 -2.1 -2 -2.2 -2 -3.2 -1.2 -3 -1 -4 -.6 -5 0 -7 .7 -7 1.1 -5.6 1.7 -5.4 2 -4 2.3 -3.2 1 -1 2 -1.5 2 -1z"/><path fill="#0000ff" d="M404.1 1966l2.3 -.5 2 .3 1 .4 2 1.4 2 2.4 1.6 3 1.4 3.9 .9 4.1 .5 4 .2 5 -.2 4 -.7 4 -1.1 3 -1.6 2.7 -2 2.1 -2 1.3 -3 .8 -3 -.2 -2 -.7 -2 -1.3 -1.6 -1.7 -1.4 -2.1 -1.2 -2.9 -.8 -3 -.4 -3 -.1 -5 .4 -5 .7 -4 1.1 -4 1.3 -3 2 -3.2 2 -1.9z"/></g>
<path fill="#000" fill-rule="evenodd" d="M125.40 1732.00h427.50v427.90h-427.50zM128.02 1734.72h422.16v421.86h-422.16z"/>
<path d="M126.70 2159.40v12.08M125.90 2158.40h-12.08M184.08 2159.40v6.54M125.90 2100.85h-6.54M241.47 2159.40v12.08M125.90 2043.30h-12.08M298.85 2159.40v6.54M125.90 1985.74h-6.54M356.23 2159.40v12.08M125.90 1928.19h-12.08M413.61 2159.40v6.54M125.90 1870.64h-6.54M471.00 2159.40v12.08M125.90 1813.09h-12.08M528.38 2159.40v6.54M125.90 1755.54h-6.54" stroke="#000" stroke-width="2.82" fill="none"/>
<text x="126.7" y="2196.1" font-size="21.65" font-weight="bold" text-anchor="middle" fill="#000">0.0</text>
<text x="103.2" y="2164.1" font-size="21.65" font-weight="bold" text-anchor="end" fill="#000">0.0</text>
<text x="241.5" y="2196.1" font-size="21.65" font-weight="bold" text-anchor="middle" fill="#000">2.0n</text>
<text x="103.2" y="2049.0" font-size="21.65" font-weight="bold" text-anchor="end" fill="#000">2.0n</text>
<text x="356.2" y="2196.1" font-size="21.65" font-weight="bold" text-anchor="middle" fill="#000">4.0n</text>
<text x="103.2" y="1933.9" font-size="21.65" font-weight="bold" text-anchor="end" fill="#000">4.0n</text>
<text x="471.0" y="2196.1" font-size="21.65" font-weight="bold" text-anchor="middle" fill="#000">6.0n</text>
<text x="103.2" y="1818.8" font-size="21.65" font-weight="bold" text-anchor="end" fill="#000">6.0n</text>
<text x="339.1" y="2234.9" font-size="21.65" font-weight="bold" text-anchor="middle" fill="#000">Electron position (m)</text>
<text x="42.3" y="1944.5" font-size="21.65" font-weight="bold" text-anchor="middle" fill="#000" transform="rotate(-90 42.3 1944.5)">Hole position (m)</text>
<text x="146.5" y="1777.2" font-size="29.60" font-weight="bold" fill="#fff">5.4x10<tspan dy="-12.4" font-size="17.76">5</tspan><tspan dy="12.4"> V/cm</tspan></text>
<text x="99.9" y="1762.4" font-size="31.51" stroke="#000" stroke-width="1.05" text-anchor="middle" font-family="'Noto Serif CJK SC', 'Noto Sans CJK SC', 'DejaVu Sans', serif" fill="#000">④</text>
<rect x="561.20" y="2140.69" width="31.50" height="8.75" fill="#0000ff"/><rect x="561.20" y="2132.53" width="31.50" height="8.75" fill="#0013ff"/><rect x="561.20" y="2124.38" width="31.50" height="8.75" fill="#0027ff"/><rect x="561.20" y="2116.23" width="31.50" height="8.75" fill="#003aff"/><rect x="561.20" y="2108.08" width="31.50" height="8.75" fill="#004dff"/><rect x="561.20" y="2099.93" width="31.50" height="8.75" fill="#0060ff"/><rect x="561.20" y="2091.78" width="31.50" height="8.75" fill="#0074ff"/><rect x="561.20" y="2083.62" width="31.50" height="8.75" fill="#0087ff"/><rect x="561.20" y="2075.47" width="31.50" height="8.75" fill="#009aff"/><rect x="561.20" y="2067.32" width="31.50" height="8.75" fill="#00adff"/><rect x="561.20" y="2059.17" width="31.50" height="8.75" fill="#00c1ff"/><rect x="561.20" y="2051.02" width="31.50" height="8.75" fill="#00d4ff"/><rect x="561.20" y="2042.87" width="31.50" height="8.75" fill="#00e7ff"/><rect x="561.20" y="2034.72" width="31.50" height="8.75" fill="#00fbff"/><rect x="561.20" y="2026.56" width="31.50" height="8.75" fill="#00ffee"/><rect x="561.20" y="2018.41" width="31.50" height="8.75" fill="#00ffd7"/><rect x="561.20" y="2010.26" width="31.50" height="8.75" fill="#00ffc0"/><rect x="561.20" y="2002.11" width="31.50" height="8.75" fill="#00ffaa"/><rect x="561.20" y="1993.96" width="31.50" height="8.75" fill="#00ff93"/><rect x="561.20" y="1985.81" width="31.50" height="8.75" fill="#00ff7c"/><rect x="561.20" y="1977.66" width="31.50" height="8.75" fill="#00ff66"/><rect x="561.20" y="1969.50" width="31.50" height="8.75" fill="#00ff4f"/><rect x="561.20" y="1961.35" width="31.50" height="8.75" fill="#00ff39"/><rect x="561.20" y="1953.20" width="31.50" height="8.75" fill="#00ff22"/><rect x="561.20" y="1945.05" width="31.50" height="8.75" fill="#00ff0b"/><rect x="561.20" y="1936.90" width="31.50" height="8.75" fill="#0aff00"/><rect x="561.20" y="1928.75" width="31.50" height="8.75" fill="#1fff00"/><rect x="561.20" y="1920.60" width="31.50" height="8.75" fill="#34ff00"/><rect x="561.20" y="1912.44" width="31.50" height="8.75" fill="#49ff00"/><rect x="561.20" y="1904.29" width="31.50" height="8.75" fill="#5eff00"/><rect x="561.20" y="1896.14" width="31.50" height="8.75" fill="#72ff00"/><rect x="561.20" y="1887.99" width="31.50" height="8.75" fill="#87ff00"/><rect x="561.20" y="1879.84" width="31.50" height="8.75" fill="#9cff00"/><rect x="561.20" y="1871.69" width="31.50" height="8.75" fill="#b1ff00"/><rect x="561.20" y="1863.54" width="31.50" height="8.75" fill="#c6ff00"/><rect x="561.20" y="1855.38" width="31.50" height="8.75" fill="#dbff00"/><rect x="561.20" y="1847.23" width="31.50" height="8.75" fill="#efff00"/><rect x="561.20" y="1839.08" width="31.50" height="8.75" fill="#fffa00"/><rect x="561.20" y="1830.93" width="31.50" height="8.75" fill="#ffe500"/><rect x="561.20" y="1822.78" width="31.50" height="8.75" fill="#ffd000"/><rect x="561.20" y="1814.63" width="31.50" height="8.75" fill="#ffbb00"/><rect x="561.20" y="1806.48" width="31.50" height="8.75" fill="#ffa700"/><rect x="561.20" y="1798.32" width="31.50" height="8.75" fill="#ff9200"/><rect x="561.20" y="1790.17" width="31.50" height="8.75" fill="#ff7d00"/><rect x="561.20" y="1782.02" width="31.50" height="8.75" fill="#ff6800"/><rect x="561.20" y="1773.87" width="31.50" height="8.75" fill="#ff5300"/><rect x="561.20" y="1765.72" width="31.50" height="8.75" fill="#ff3e00"/><rect x="561.20" y="1757.57" width="31.50" height="8.75" fill="#ff2a00"/><rect x="561.20" y="1749.41" width="31.50" height="8.75" fill="#ff1500"/><rect x="561.20" y="1741.26" width="31.50" height="8.75" fill="#ff0000"/><rect x="561.20" y="2149.14" width="31.50" height="9.36" fill="#000"/><rect x="561.20" y="1732.20" width="31.50" height="9.36" fill="#fff"/>
<rect x="561.80" y="1732.80" width="30.30" height="425.10" fill="none" stroke="#111" stroke-width="1.20"/>
<text x="606.1" y="1747.5" font-size="18.63" font-weight="normal" text-anchor="start" fill="#111" textLength="44.7" lengthAdjust="spacingAndGlyphs">0.510</text>
<text x="606.1" y="1798.6" font-size="18.63" font-weight="normal" text-anchor="start" fill="#111" textLength="44.7" lengthAdjust="spacingAndGlyphs">0.386</text>
<text x="606.1" y="1849.6" font-size="18.63" font-weight="normal" text-anchor="start" fill="#111" textLength="44.7" lengthAdjust="spacingAndGlyphs">0.261</text>
<text x="606.1" y="1900.7" font-size="18.63" font-weight="normal" text-anchor="start" fill="#111" textLength="44.7" lengthAdjust="spacingAndGlyphs">0.137</text>
<text x="606.1" y="1951.7" font-size="18.63" font-weight="normal" text-anchor="start" fill="#111" textLength="54.7" lengthAdjust="spacingAndGlyphs">0.0125</text>
<text x="606.1" y="2002.8" font-size="18.63" font-weight="normal" text-anchor="start" fill="#111" textLength="50.7" lengthAdjust="spacingAndGlyphs">-0.112</text>
<text x="606.1" y="2053.8" font-size="18.63" font-weight="normal" text-anchor="start" fill="#111" textLength="50.7" lengthAdjust="spacingAndGlyphs">-0.236</text>
<text x="606.1" y="2104.9" font-size="18.63" font-weight="normal" text-anchor="start" fill="#111" textLength="50.7" lengthAdjust="spacingAndGlyphs">-0.361</text>
<text x="606.1" y="2155.9" font-size="18.63" font-weight="normal" text-anchor="start" fill="#111" textLength="50.7" lengthAdjust="spacingAndGlyphs">-0.485</text>
<path d="M592.20 1741.16h6.04M592.20 1792.21h6.04M592.20 1843.26h6.04M592.20 1894.30h6.04M592.20 1945.35h6.04M592.20 1996.40h6.04M592.20 2047.44h6.04M592.20 2098.49h6.04M592.20 2149.54h6.04" stroke="#1a1a1a" stroke-width="1.51" fill="none"/></g>
<!-- panel b5 -->
<g><clipPath id="cb5"><rect x="769.9" y="1732.8" width="423.7" height="424.5"/></clipPath><g clip-path="url(#cb5)" fill-rule="evenodd" shape-rendering="geometricPrecision"><rect x="769.9" y="1732.8" width="423.7" height="424.5" fill="#34ff00"/><path fill="#49ff00" d="M1048.5 1761.8l7.4 -.5 7 -.1 6 .3 6 .6 7 1.2 8 1.9 6 1.8 6 2.2 6 2.8 6 3.3 6 3.9 5 4 2.7 2.6 2.2 3 1.7 3 2 5 1.6 5 1.5 6 1 5 .4 4 .1 5 -.3 6 -.5 6 -1 7 -1.9 10 -3.1 15 -3 13 -3.8 15 -4 14 -3.1 10 -3.1 9 -2.8 7 -3.4 7 -3.8 7 -3.8 6 -4.3 6 -4.3 5 -5 4.8 -4 3.2 -4 2.3 -3 1.3 -4 1.1 -5 .7 -5 .3 -9 -.1 -20 -1.5 -6 0 -3 .4 -2 .8 -2 1 -3 2.5 -5 5.2 -8 9 -4.8 6 -3.6 5 -2.4 4 -2.2 4 -13 26 -7 13.6 -5 9.2 -4 6.8 -5 7.5 -4 5.1 -5 5.3 -5 4.3 -5 3.4 -6 3.3 -5 1.9 -6 1.4 -8 1 -7 0 -3 -.3 -2 -.5 -3 -.9 -3 -1.3 -6 -3.1 -7 -4.2 -6 -4.2 -5 -4.1 -7 -6.5 -11.8 -11.7 -3.9 -5 -3.1 -5 -4 -8 -3.9 -10 -3.5 -11 -1.3 -5 -.7 -4 -.8 -7 0 -4 .2 -3 .4 -3 .9 -4 2.1 -6 2 -4 1.9 -3 2.3 -3 2.8 -3 3.4 -2.9 3 -2 3 -1.5 3 -1 5 -.9 13 -1.3 10 -1.5 51 -6.4 36 -4.9 16.3 -2.6 4.7 -.9 4 -1.4 1.2 -.7 1.2 -1 1.3 -2 .7 -3 .2 -4 -.3 -4 -1 -7 -1.4 -7 -1.8 -7 -2 -6 -1.6 -4 -2 -4 -6.1 -11 -5.4 -8.6 -13.2 -19.4 -6.5 -10 -4.1 -7 -4.6 -9 -4.4 -10 -1.4 -4 -.8 -3 -.3 -3 .1 -3 .3 -3 .7 -3 1.7 -5 2 -4 2.7 -4 3.6 -4 4.2 -3.7 4 -2.8 5 -2.9 5 -2.4 7 -2.8 8 -2.7 8 -2.3 8 -2 10 -2.1 15 -2.8 11 -1.6z"/><path fill="#5eff00" d="M1044 1776.8l7.9 -.6 7 -.1 7 .2 6 .6 6 1.1 7 1.9 7 2.4 6 2.5 4 2 4 2.4 3.3 2.6 2.7 2.7 3 4 2.7 4.3 2.5 5 2 5 1.3 4 1 5 .4 5 .2 5 -.2 6 -.5 6 -2.2 15 -2.4 14 -2.3 11 -2.3 10 -2.7 11 -2.9 10 -2.8 9 -2.6 7 -2.7 6 -3.3 6 -3.1 5 -3.7 5 -3.4 4 -4 4 -3 2.6 -4 2.7 -4 1.9 -4 1.5 -4 1 -5 .9 -6 .6 -6 .2 -6 -.2 -18 -1.8 -3 .2 -2 .7 -1 .7 -2 2.4 -4.2 7.6 -3.2 5 -12 16 -4.1 6 -3 5 -7.5 13.9 -5 8.7 -5 8.1 -5 7.4 -5 6.5 -6 6.6 -6 5.5 -6 4.6 -6 3.7 -6 2.9 -6 2 -5 .9 -3 .2 -4 -.1 -8 -.8 -7 -1.5 -3 -1 -3 -1.3 -4 -2.3 -5 -3.4 -13 -9.7 -4.6 -3.9 -2.8 -3 -3.1 -4 -2.6 -4 -2.7 -5 -3.4 -8 -3.1 -9 -1.8 -7 -1.1 -7 -.2 -6 .5 -6 .6 -3 .9 -3 2 -5 2.4 -4 2.2 -3 2.8 -2.8 3.2 -2.2 3.8 -1.9 4 -1.5 11.5 -3.6 4.5 -1.2 8 -1.6 11 -1.9 33 -4.5 44 -5.4 7 -.4 13 -.4 3 -.6 1.6 -1 .7 -1 .5 -2 0 -2 -.4 -3 -2.3 -10 -3 -12 -2.3 -8 -2 -6 -3.5 -8 -5.9 -11 -5.4 -9.1 -13.3 -20.9 -4.6 -8 -3 -6 -1.6 -4 -1.4 -4 -1.5 -5 -.9 -4 -.7 -4 -.2 -3 0 -3 .4 -3 .9 -3 2 -4 2.8 -4 2.8 -3 3.3 -2.9 4 -2.9 5 -3 5 -2.4 6 -2.6 7 -2.6 7 -2.2 7 -1.8 9 -2.1 10 -1.9 9 -1.5z"/><path fill="#72ff00" d="M1041.2 1785.8l7.7 -.6 8 -.2 7 .3 7 .8 6 1.3 6 1.9 7 2.9 4.8 2.6 2.9 2 2.3 1.9 4 3.9 4 4.9 3.5 5.3 2.1 4 1.9 5 1.1 5 .7 7 .1 9 -.9 11 -2.2 15 -2.8 16 -3.9 17 -3.9 14 -3.3 10 -1.9 5 -1.9 4 -3.9 7 -5 7 -2.7 3.3 -3 3.1 -2 1.8 -3 2.3 -5 2.9 -3 1.2 -3 1 -7 1.6 -8 .9 -6 .1 -6 -.5 -6 -1 -5 -1.3 -4 -1.6 -4 -2.2 -3 -2.6 -2.3 -3 -3.7 -6.2 -3.6 -7.8 -3.4 -9.3 -5.7 -17.7 -1.9 -5 -2.3 -5 -4.6 -9 -4.5 -8.1 -13.8 -22.9 -3.2 -6 -2.4 -5 -1.9 -5 -1.2 -4 -1 -5 -.5 -5 -.1 -5 .4 -4 1 -4 1.8 -4 2.1 -3 2.9 -3 3.9 -3.2 5 -3.4 6 -3.2 6 -2.8 7 -2.7 8 -2.6 9 -2.3 9 -1.9 9 -1.6zM973.4 1959.8l8.5 -.5 7 .3 4 .6 3 .6 3 .8 3 1.2 3.4 2 1.6 1.5 1 1.5 .9 2 .5 2 .1 2 -.2 3 -.7 3 -1 3 -3 6 -3.2 5 -11.4 16 -10 16.6 -4 6.3 -4 5.7 -5 6.5 -4 4.5 -5 5 -6 5.2 -5 3.8 -5 3.2 -5 2.7 -5 2.2 -5 1.6 -5 1 -4 .2 -5 -.4 -7 -1.4 -6 -1.9 -6 -2.5 -6 -2.9 -8 -4.7 -4 -2.9 -4.2 -3.8 -3.3 -4 -2.8 -4 -2.3 -4 -2.4 -5 -2.3 -6 -2 -6 -1.2 -5 -.8 -5 -.3 -5 .1 -4 .4 -4 .9 -4 1.4 -4 1.5 -3 2 -3 2.8 -3 2.4 -2 3 -2 3.4 -2 6 -3 6.7 -2.6 9 -2.4 14 -2.7 21 -3.1 24 -3.1z"/><path fill="#87ff00" d="M1047.1 1791.8l7.8 -.2 7 .3 6 .7 6 1.2 5 1.5 5 2.3 5 2.9 4 2.9 5 4.4 4 4.3 3.5 4.7 2.3 4 1.9 5 1.2 5 .8 6 .2 6 -.3 9 -1.3 12 -2 14 -2.9 15 -3.1 13 -3.8 13 -3.2 9 -1.7 4 -2 4 -3.7 6 -4.9 6.3 -4 4.2 -2 1.6 -3 2.1 -5 2.6 -6 2.1 -4 .9 -4 .6 -7 .4 -6 -.2 -5 -.8 -5 -1.3 -5 -2 -4 -2.4 -3 -2.5 -3 -3.2 -3.4 -4.4 -3.6 -6.1 -3 -6.4 -3 -7.6 -5 -13.9 -3.5 -8 -8.5 -16.3 -11.9 -20.7 -4.5 -9 -2.1 -5 -1.5 -5 -.8 -4 -.4 -5 .2 -5 .9 -5 1.3 -4 1.8 -3.4 2.6 -3.6 2.9 -3 3.8 -3 4.7 -2.9 6 -3.2 6 -2.6 7 -2.6 8 -2.5 9 -2.2 10 -1.9 9 -1.4zM970.1 1961.8l8.8 -.3 7 .4 3 .4 3 .8 3 1 2 .9 2 1.1 2 1.6 1.1 1.1 1.4 2 1 2 .5 2 .2 2 -.2 3 -.9 4 -1.5 4 -2.1 4 -2.5 4 -9.9 14 -9.1 13.9 -5 7 -6 7.5 -3 3.2 -4 4 -5 4.3 -6 4.7 -6 4 -5 2.8 -5 2.3 -5 1.8 -5 1.2 -4 .4 -5 -.2 -5 -1 -7 -2.3 -11 -4.1 -5 -2.1 -4 -2.3 -3 -2.2 -3 -2.9 -2.6 -3 -2.9 -4 -2.3 -4 -2.4 -5 -2 -5 -1.6 -5 -1.3 -5 -.8 -5 -.2 -4 .1 -4 .4 -4 1 -4 1.1 -3 1.7 -3 2.2 -3 2.8 -3 2.3 -2 4 -3 3 -2 3.5 -1.9 3 -1.3 4 -1.4 9 -2.5 14 -2.8 20 -3.1 20 -2.5z"/><path fill="#9cff00" d="M1039.4 1797.8l6.5 -.6 7 -.2 7 .2 6 .7 5 1 5 1.6 4 1.8 4 2.2 5 3.6 5 4.2 4.4 4.5 3 4 2.2 4 1.8 5 1.1 5 .8 6 .2 9 -.7 10 -1.7 14 -2.3 14 -2.6 12 -3.4 13 -3.2 10 -3.3 8 -3.1 6 -4.1 6 -4.1 4.7 -4 3.4 -5 3.1 -5 2.1 -6 1.6 -7 1 -6 .1 -5 -.4 -6 -1.3 -5 -1.7 -4 -2.1 -4 -2.9 -3.7 -3.6 -3.3 -4.1 -3.7 -5.9 -3.3 -6.3 -3 -7 -5.4 -13.7 -3.7 -8 -6.9 -13.4 -9.7 -17.6 -4.1 -8 -2.1 -5 -1.8 -5 -1 -4 -.6 -4 -.1 -4 .7 -5 1.1 -4 1.7 -4 1.9 -3.1 3 -3.7 3 -2.9 4 -3 5 -3 5 -2.6 6 -2.5 7 -2.5 7 -2.1 8 -1.8 8 -1.6zM964.5 1963.8l9.4 -.4 7 .2 6 .8 4.6 1.4 3.8 2 1.6 1.2 1.8 1.8 1.4 2 .9 2 .5 2 .2 2 -.3 4 -.9 4 -1.7 4 -2.8 5 -4.1 6 -16 22.1 -5 6.2 -5 5.5 -5 4.7 -6 5 -6 4.3 -6 3.8 -5 2.6 -5 2.2 -5 1.6 -5 1 -4 .2 -4 -.2 -4 -.8 -6 -1.8 -11 -3.7 -4 -1.6 -4 -2.3 -4 -3.3 -3 -3.3 -2.4 -3.2 -2.4 -4 -2.1 -4 -2 -5 -1.7 -5 -1.2 -5 -.8 -5 -.2 -4 .2 -4 .7 -4 .8 -3 1.3 -3 1.7 -3 2.3 -3 2.7 -3 4.6 -4 3 -2 2.5 -1.4 3.4 -1.6 3.6 -1.3 9 -2.7 12 -2.5 18 -2.9 17 -2.2z"/><path fill="#b1ff00" d="M1046.2 1801.8l6.7 -.2 6 .3 6 .8 6 1.4 4 1.4 4 1.9 4 2.4 5 3.8 4 3.4 3.5 3.8 2.2 3 2.1 4 1.8 5 1.1 5 .7 5 .3 6 -.3 9 -1.1 12 -1.7 12 -2.2 12 -2.8 12 -3.2 11 -3.2 9 -3.1 7 -3.1 5.3 -3.6 4.7 -4.2 4 -4.2 2.9 -5 2.5 -5 1.6 -7 1.3 -6 .4 -5 -.2 -5 -.9 -5 -1.4 -4 -1.8 -4 -2.4 -3.6 -3 -3.4 -3.6 -3.4 -4.4 -2.6 -4.2 -3 -5.5 -2.5 -5.3 -5 -12 -3.2 -7 -8.1 -16 -8.5 -16 -3.4 -7 -2.4 -6 -1.6 -5 -1.1 -5 -.3 -4 .3 -4 1 -4 1.7 -4 2.4 -4 2.7 -3.4 3.7 -3.6 4 -3 4.3 -2.7 5 -2.6 5 -2.2 6 -2.3 7 -2.1 8 -1.9 8 -1.5 7 -1zM957.9 1965.8l10 -.6 8 0 6 .5 5 1.1 4 1.6 2 1.3 1.4 1.1 1.6 1.7 .9 1.3 1 2 .6 2 .4 4 -.5 4 -1.2 4 -2.5 5 -3.8 6 -4.9 6.7 -9 11.5 -6 7.1 -5 5.2 -5 4.6 -6 4.8 -6 4.1 -6 3.8 -5 2.6 -6 2.5 -5 1.4 -5 .8 -4 .2 -4 -.3 -5 -1 -9 -2.6 -6 -2.2 -4 -2.2 -3.8 -3 -2.9 -3 -2.4 -3 -2.5 -4 -2.1 -4 -1.6 -4 -1.7 -5 -1.3 -5 -.6 -4 -.2 -4 .1 -3 .6 -4 .8 -3 1.1 -3 1.6 -3 2 -3 2.5 -3 1.9 -2 2.4 -2 2.9 -2 2.2 -1.3 6.3 -2.7 8.7 -2.7 10.2 -2.3 14.8 -2.5 15 -2.1z"/><path fill="#c6ff00" d="M1037.5 1806.8l6.4 -.7 6 -.2 6 .1 5 .5 6 1.1 5 1.5 4 1.7 4 2.2 5 3.5 3.9 3.3 2.9 3 2.2 3 2.1 4 1.6 4 1.3 5 .9 6 .4 8 -.5 10 -1.3 13 -1.8 12 -2.2 11 -2.8 11 -3.1 10 -3.1 8 -3 6 -2.5 4 -3 3.6 -4 3.5 -4 2.5 -5 2.3 -5 1.5 -6 1 -6 .2 -5 -.3 -5 -1 -5 -1.8 -4 -2 -4 -2.9 -3.9 -3.6 -3.1 -3.7 -4 -5.9 -3.6 -6.4 -9.7 -21 -17.1 -34 -2.6 -6 -1.8 -5 -1.4 -5 -.6 -4 -.2 -4 .4 -3 1.1 -4 1.5 -3.2 2 -3.2 3 -3.6 3.1 -3 3.9 -3.1 4 -2.6 5 -2.7 5 -2.3 6 -2.3 6 -1.8 7 -1.8 7 -1.4zM951.4 1967.8l8.5 -.7 8 -.3 7 .2 5 .5 4 .8 4 1.5 3 1.8 2.3 2.2 1.8 3 .9 3 .2 4 -.6 4 -1.4 4 -2.6 5 -3.3 5 -4.3 5.8 -6 7.3 -6 6.7 -6 6 -5 4.3 -7 5.4 -7 4.6 -7 4 -6 2.7 -5 1.7 -6 1.2 -5 .4 -5 -.2 -6 -1 -7 -2.1 -5 -2.4 -3.5 -2.4 -2.5 -2.1 -3 -3.3 -2.6 -3.6 -1.8 -3 -2 -4 -1.5 -4 -1.6 -5 -.8 -4 -.5 -4 -.1 -3 .3 -4 .6 -3 .9 -3 1.2 -3 1.6 -3 2.1 -3 1.7 -2 2.1 -2 2.4 -1.9 2 -1.3 6 -2.9 8 -2.8 9 -2.3 11 -2.1 14 -2.1z"/><path fill="#dbff00" d="M1047 1809.8l5.9 0 6 .4 5 .8 5 1.3 4 1.4 4 1.9 4 2.5 4 3.1 2.7 2.6 2.4 3 2.3 4 1.6 3.7 1.4 4.3 1 5 .5 5 .2 5 -.3 9 -1 12 -1.3 10 -1.8 10 -2.3 10 -3.1 11 -2.8 8 -3.2 7 -2.3 4 -3.2 4 -3.8 3.4 -4 2.6 -4 1.9 -5 1.5 -6 1.1 -5 .3 -5 -.3 -4 -.7 -5 -1.5 -4 -1.9 -4 -2.6 -4 -3.5 -3 -3.3 -3.7 -5 -3.3 -5.2 -3 -5.6 -6.8 -14.2 -17.6 -36 -2.5 -6 -1.6 -5 -1.1 -5 -.4 -5 .3 -4 .8 -3 1.9 -4 2 -3 3 -3.4 3 -2.8 4 -3 5 -3.2 5 -2.5 5 -2.2 5 -1.8 6 -1.8 7 -1.6 7 -1.3 7 -1zM957.3 1968.8l7.6 -.3 6 .1 5 .3 5 .9 4 1.3 3.1 1.7 2.3 2 .8 1 1.1 2 1 3 .3 2 0 2 -.4 3 -1.2 4 -2.4 5 -3.2 5 -3.7 5 -4.7 5.6 -5 5.3 -6 5.7 -6 5.1 -5 3.8 -7 4.7 -7 4.1 -6 2.9 -5 1.9 -5 1.4 -6 1 -5 .2 -5 -.4 -5 -1.1 -4 -1.4 -4 -2.2 -4 -3.1 -2.5 -2.5 -2.4 -3 -2 -3 -1.7 -3 -1.8 -4 -1.5 -4 -1.1 -4 -.7 -4 -.4 -4 .1 -3 .5 -4 .7 -3 1.1 -3 1.4 -3 1.9 -3 1.6 -2 2.1 -2 1.7 -1.4 5 -3 6 -2.6 8 -2.5 10 -2.3 14 -2.5 13 -1.7z"/><path fill="#efff00" d="M1040.9 1813.8l6 -.4 6 0 5 .3 5 .8 5 1.3 4 1.3 4 1.9 4 2.4 3 2.5 2.8 2.9 2.1 3 1.6 3 1.7 4 1.3 4 1 5 .5 5 .2 8 -.5 10 -1.1 11 -1.5 10 -2 10 -2.5 10 -2.8 9 -2.7 7 -2.6 5 -2.5 3.7 -3 3.4 -3.6 2.9 -4.4 2.5 -4 1.5 -5 1.2 -5 .7 -5 .1 -5 -.6 -5 -1.3 -4 -1.8 -4 -2.4 -4 -3.2 -3.6 -3.7 -3.4 -4.3 -4 -6.1 -4 -7.3 -20.7 -42.3 -2.6 -6 -2 -6 -1.3 -5 -.5 -4 0 -4 .4 -3 1 -3 1.5 -3 2.1 -3 2.8 -3 3.3 -2.9 4 -2.9 4 -2.5 5 -2.6 5 -2.1 5 -1.8 6 -1.7 6 -1.4 7 -1.3zM950.1 1970.8l6.8 -.5 7 -.2 6 .2 5 .5 4 .7 3.7 1.3 2.3 1.2 2.4 1.8 1.6 2 1.4 3 .5 3 -.2 4 -1 4 -1.7 4 -2.3 4 -3.4 5 -4.3 5.2 -5 5.2 -6 5.5 -6 4.9 -6 4.3 -7 4.5 -7 3.9 -6 2.8 -6 2.2 -5 1.3 -6 .8 -5 .1 -4 -.4 -4 -1 -4 -1.9 -3 -2 -2.7 -2.4 -2.3 -2.4 -2.1 -2.6 -1.9 -3 -1.7 -3 -1.7 -4 -1.1 -3 -1.1 -4 -.7 -4 -.3 -3 0 -3 .3 -3 .8 -4 1 -3 1.4 -3 1.3 -2 1.6 -2 2 -2 4.2 -3 6 -3 6 -2.2 8 -2.2 11 -2.3 13 -2z"/><path fill="#fffa00" d="M1044.3 1816.8l5.6 -.2 5 .2 5 .5 4 .8 5 1.4 4 1.5 3 1.6 3.2 2.2 2.8 2.6 2 2.4 2.4 4 1.8 4 1.3 4 .9 4 .7 5 .3 5 0 8 -.6 10 -1.1 10 -1.5 9 -1.8 9 -2.4 9 -2.6 8 -2.5 6 -2.1 4 -2.8 4.1 -3 3.2 -4 3 -4 2.1 -4 1.4 -5 1 -5 .4 -5 -.1 -4 -.8 -4 -1.2 -4 -1.9 -4 -2.6 -4 -3.4 -3.9 -4.2 -3.1 -4 -4 -6.2 -5 -9.1 -7 -13.9 -9.9 -20.8 -2.9 -7 -1.7 -5 -1.2 -5 -.6 -5 .1 -4 .6 -3 1 -3 1.6 -3 2.4 -3 2.6 -2.6 3 -2.5 4 -2.7 4 -2.3 5 -2.5 5 -2 6 -2 6 -1.5 6 -1.3 6 -.9zM958.6 1971.8l6.3 0 5 .3 4 .5 4 1 3 1.2 3 1.9 2 2.1 1.2 2 .8 3 .2 3 -.4 3 -1.2 4 -1.8 4 -2.4 4 -3.4 4.6 -3.9 4.4 -4.1 4 -5 4.4 -5 3.9 -6 4.2 -7 4.3 -7 3.9 -6 2.8 -5 1.9 -5 1.5 -5 .9 -5 .4 -4 -.2 -4 -.9 -3 -1.3 -3 -1.9 -3 -2.5 -2.3 -2.4 -1.7 -2.1 -1.9 -2.9 -1.7 -3 -1.3 -3 -1.5 -4 -1.1 -4 -.6 -3 -.3 -3 -.1 -3 .2 -3 .5 -3 .9 -3 1.3 -3 1.3 -2 1.6 -2 1.7 -1.7 2 -1.6 5 -3.1 6 -2.6 8 -2.5 10 -2.3 13.1 -2.2 10.9 -1.3z"/><path fill="#ffe500" d="M1045 1819.8l4.9 -.2 5 .2 5 .6 4 .8 4 1.1 4 1.6 3 1.6 3 2.2 2 2.1 2.3 3 1.7 3 1.8 4 1.3 4 .8 4 .7 5 .3 5 -.1 8 -.5 9 -.9 9 -1.4 9 -1.9 9 -2.1 8 -2.2 7 -2.6 6 -2.2 4.1 -2.8 3.9 -2.8 3 -3.4 2.6 -4 2.1 -4 1.4 -4.2 .9 -4.8 .4 -5 -.2 -4 -.8 -4 -1.4 -4 -2 -4 -2.8 -4 -3.5 -4 -4.5 -3 -3.9 -5 -7.9 -5 -9.2 -6 -12 -7.1 -15.2 -2.9 -7 -1.7 -5 -1.2 -5 -.6 -5 .1 -4 .5 -3 .9 -3 1.6 -3 2.2 -3 2.2 -2.2 3.4 -2.8 3.6 -2.4 4 -2.3 5 -2.4 5 -2 5 -1.6 6 -1.5 6 -1.3 6 -.9zM950 1973.8l5.9 -.3 6 -.1 5.8 .4 4.2 .6 4 1.1 3 1.2 2 1.3 1.9 1.8 1.3 2 .9 3 .3 3 -.4 3 -.8 3 -1.7 4 -1.7 3 -2.7 4 -3.4 4 -4.7 4.7 -5 4.3 -5 3.8 -7 4.6 -7 4.2 -6 3.2 -6 2.7 -5 1.8 -5 1.4 -5 .8 -4 .2 -4 -.3 -3 -.8 -3 -1.4 -3 -2 -2 -1.8 -2.3 -2.4 -2.2 -3 -1.5 -2.5 -1.7 -3.5 -1.3 -3 -1.2 -4 -.8 -3 -.4 -3 -.2 -3 .1 -3 .4 -3 .8 -3 .7 -2 1.1 -2 1.4 -2 2.9 -3 4.2 -3 6 -3 6 -2.2 8 -2.1 10 -2 10.6 -1.7z"/><path fill="#ffd000" d="M1042.7 1822.8l4.2 -.3 5 0 5 .4 4 .5 4 1 4 1.4 3 1.4 3 2 2 1.8 2.4 2.8 1.9 3 1.7 3.7 1.2 3.3 1 4 .7 4 .4 5 .2 8 -.4 9 -.8 9 -1.1 8 -1.5 8 -1.7 7 -2.2 7 -2.4 6 -2.4 4.8 -2.1 3.2 -2.9 3.4 -3 2.6 -3.1 2 -3.9 1.7 -4 1.1 -5 .6 -5 -.1 -4 -.7 -4 -1.3 -4 -2 -4 -2.8 -4 -3.4 -3.8 -4.1 -3.2 -4.1 -5 -7.6 -5 -8.8 -5 -10 -5.8 -12.5 -3 -7 -2 -6 -1.3 -5 -.6 -5 .1 -4 .4 -3 .9 -3 1.4 -3 1.9 -2.7 2.1 -2.3 2.9 -2.5 3 -2.2 4 -2.3 4 -2 4 -1.7 5 -1.7 5 -1.4 6 -1.4 6 -1.1zM945.1 1975.8l10.8 -.7 5 .1 5 .4 4 .7 3 .8 3 1.2 2.4 1.5 1.9 2 1.2 2 .8 3 .1 3 -.5 3 -.9 3 -2 4 -1.8 3 -3 4 -3.8 4 -4.4 4 -5 3.9 -6 4.1 -6 3.7 -7 3.8 -6 2.9 -5 2 -4 1.3 -5 1.1 -4 .5 -4 -.1 -3 -.6 -3 -1 -3 -1.6 -2 -1.6 -2 -1.9 -2 -2.3 -1.5 -2.2 -1.7 -3 -1.4 -3 -1.4 -3.7 -.9 -3.3 -.6 -3 -.4 -3 .2 -5 .6 -3 .6 -2 .9 -2 1.3 -2 2.5 -3 3.7 -3 5.1 -2.9 5 -2.1 6.4 -2 8.6 -2 10 -1.8z"/><path fill="#ffbb00" d="M1039.5 1825.8l4.4 -.5 5 -.2 4 .1 4 .4 4 .6 4 1.1 3 1.2 3 1.6 2.4 1.7 2.6 2.5 2 2.7 1.6 2.8 1.4 3.1 1.3 3.9 .9 4 .5 4 .4 7 -.1 8 -.5 9 -.9 8 -1.1 7 -1.5 7.3 -1.9 6.7 -2.1 5.9 -2 4.5 -2.7 4.6 -2.3 3.1 -3 3.1 -3 2.2 -3 1.6 -4 1.3 -4 .8 -5 .2 -4 -.5 -4 -1 -4 -1.8 -4 -2.5 -4 -3.2 -4 -4 -3 -3.5 -4 -5.5 -4 -6.5 -4 -7.2 -4 -8.2 -5 -11 -3 -7.4 -1.8 -6 -.9 -5 -.3 -4 .2 -3 .6 -3 1 -3 1.2 -2.5 1.7 -2.5 2.3 -2.6 2.8 -2.4 3.2 -2.2 4 -2.3 4 -1.9 4 -1.6 5 -1.6 5 -1.3 6 -1.2zM941.6 1977.8l6.3 -.6 5 -.3 5 0 4 .3 4.3 .6 3.7 .9 2.7 1.1 2.3 1.4 1.8 1.6 1.3 2 .8 2 .4 3 -.2 3 -.8 3 -1.3 3 -1.6 3 -2.9 4 -3.5 3.9 -3.3 3.1 -4.7 3.8 -5 3.5 -6 3.8 -7 3.8 -6 3 -5 2.1 -4 1.3 -4 .9 -4 .6 -4 0 -3 -.5 -3 -.9 -3 -1.5 -2 -1.4 -1.7 -1.5 -1.8 -2 -1.5 -2.1 -2.7 -4.9 -2.2 -6 -1.1 -5 -.2 -5 .4 -3 .6 -2 .7 -2 1.1 -2 2.2 -3 3.3 -3 3.9 -2.6 5 -2.4 5.7 -2 7.3 -1.9 9 -1.8z"/><path fill="#ffa700" d="M1045 1827.8l4.9 -.1 4 .2 4 .5 3 .6 3 1 3 1.3 2.6 1.5 2.6 2 1.9 2 2.2 3 1.7 3 1.2 3 .9 3 .9 4 .5 4 .3 5 .1 7 -.4 8 -.6 7 -1 7 -1.3 7 -1.6 6 -2 5.9 -1.7 4.1 -2.3 4.3 -2.5 3.7 -2.5 2.9 -3 2.6 -3 1.8 -3 1.2 -4 1 -4 .4 -4 -.1 -4 -.8 -3 -1 -4 -2 -4 -2.8 -4 -3.5 -3.5 -3.7 -3.5 -4.3 -4 -5.9 -4 -6.7 -4 -7.8 -4 -8.6 -3.2 -7.7 -2.1 -6 -1.2 -5 -.6 -5 0 -3 .4 -3 .8 -3 1.3 -3 1.6 -2.7 2 -2.5 3 -2.8 2.7 -2 3.3 -2 4 -2 4 -1.6 5 -1.6 5 -1.3 6 -1.3 5 -.7zM951.5 1978.8l4.4 0 4 .3 4 .6 3 .8 3 1.2 2 1.3 1.9 1.8 1.1 1.8 .7 2.2 .3 3 -.2 2 -.7 3 -1.3 3 -1.7 3 -2.3 3 -2.6 3 -3.2 3 -3.6 3 -4.4 3.2 -5 3.2 -6 3.4 -6 3.1 -5 2.2 -4 1.4 -4 1.1 -3 .5 -4 .2 -3 -.2 -3 -.7 -3 -1.2 -2.1 -1.2 -2.5 -2 -1.9 -2 -1.4 -2 -2.3 -4 -1.2 -3 -1 -3 -.9 -5 0 -4 .7 -4 .8 -2 1.1 -2 1.4 -2 1.3 -1.5 3 -2.7 4.5 -2.8 4.5 -2.1 5.8 -1.9 8.2 -2 8 -1.5 8 -1z"/><path fill="#ff9200" d="M1039.9 1830.8l8 -.6 4 .1 4 .5 4 .9 3 1 2.2 1.1 2.8 1.7 2.8 2.3 1.8 2 1.5 2 1.7 3 1.2 3 .9 3 .7 3 .6 4 .4 6 0 7 -.3 7 -.7 7 -1 7 -1.3 6 -1.4 5 -1.9 5.2 -2 4.4 -2 3.6 -2 2.8 -3 3.4 -3 2.3 -3 1.6 -3 1.1 -4 .8 -4 .2 -4 -.5 -3.4 -.9 -3.6 -1.6 -4 -2.4 -3 -2.3 -3.9 -3.7 -3.1 -3.4 -3.5 -4.6 -3.5 -5.3 -3.8 -6.7 -3.2 -6.4 -3 -6.6 -3.2 -8 -1.8 -6 -1 -5 -.2 -3 .1 -3 .5 -3 .8 -3 1.4 -3 2 -3 1.7 -2 2.7 -2.5 3 -2.2 3 -1.8 3.1 -1.5 3.9 -1.6 4.4 -1.4 4.6 -1.2 5 -1zM938.3 1981.8l9.6 -.9 4 -.1 4 .2 4 .5 3 .6 3 1.1 2 1.1 1.8 1.5 1.5 2 .8 2 .4 2 0 2 -.5 3 -1.2 3 -1.7 3 -2.2 3 -2.7 3 -3.2 3 -4 3.1 -4.1 2.9 -4.9 3 -6 3.2 -6 2.8 -4 1.6 -4 1.2 -4 .7 -3 .2 -3 -.2 -3 -.6 -2.6 -.9 -2.4 -1.3 -3 -2.4 -2.7 -3.3 -2.2 -4 -1.7 -5 -.7 -4 0 -4 .3 -2 .6 -2 1.5 -3 2.2 -3 2.7 -2.6 3.6 -2.4 3.9 -2 4.5 -1.7 5 -1.4 8 -1.8z"/><path fill="#ff7d00" d="M1037 1833.8l7.9 -.9 4 0 3 .2 3 .4 3 .7 3 1 3 1.5 3 2 2 1.8 2 2.3 1.4 2 1.6 3 1 2.7 .9 3.3 .6 3 .6 5 .2 6 -.1 7 -.5 7 -.7 5.5 -1 5.6 -1.5 5.9 -1.6 5 -1.9 4.5 -2 3.7 -2.6 3.8 -2.4 2.6 -2 1.7 -3 1.9 -3 1.3 -4 .9 -4 .2 -3 -.2 -4 -1 -3 -1.2 -3.9 -2.2 -3.1 -2.3 -4 -3.7 -3 -3.3 -3.6 -4.7 -3.3 -5 -3.1 -5.4 -2.8 -5.6 -3.1 -7 -2.3 -6 -1.6 -5 -1 -5 -.3 -3 0 -3 .4 -3 .7 -2.7 1 -2.5 1.6 -2.8 1.4 -2 2 -2.1 2.1 -1.9 2.8 -2 3.1 -1.8 3 -1.4 4 -1.6 4 -1.2 4 -1zM938.6 1983.8l5.3 -.6 4 -.2 7 .3 3.1 .5 2.9 .8 2 .9 2 1.2 1.3 1.1 1.4 2 .7 2 .3 2 -.1 2 -.4 2 -1.2 3 -1.1 2 -2.2 3 -2.8 3 -3.4 3 -3.5 2.7 -4 2.6 -4.5 2.7 -5.5 2.8 -4.9 2.2 -3.1 1.1 -4 1.1 -3 .5 -3 .2 -3 -.2 -2 -.4 -3 -1.1 -2 -1.1 -2.6 -2.1 -2.5 -3 -2.2 -4 -1.3 -4 -.5 -4 .1 -3 .4 -2 .7 -2 1.6 -3 2.3 -2.7 2.6 -2.3 3.2 -2 3.2 -1.6 4 -1.5 5 -1.4 6.7 -1.5z"/><path fill="#ff6800" d="M1043.4 1835.8l6.5 0 3 .4 3 .7 2.8 .9 2.3 1 2.9 1.8 2 1.6 1.6 1.6 1.6 2 1.8 2.9 1 2.2 1 2.9 .8 3 .5 3 .3 4 .2 6 -.1 6 -.4 6 -.7 5 -.9 5 -1.3 5 -1.4 4.3 -1.5 3.7 -1.6 3 -1.9 3.1 -2.4 2.9 -2.6 2.4 -2.4 1.6 -2.6 1.2 -3 .9 -3 .4 -4 0 -3 -.5 -3 -.9 -3 -1.3 -4 -2.6 -3 -2.4 -3 -2.9 -3 -3.5 -3 -4 -3 -4.7 -3 -5.5 -2.9 -6.2 -2.1 -5 -2.1 -6 -1.3 -5 -.5 -4 0 -3 .3 -3 .6 -2.7 .8 -2.3 1.2 -2.3 1.8 -2.7 1.8 -2 2.4 -2.2 2.6 -1.8 3.4 -2 3 -1.3 4 -1.5 4 -1.2 4 -.9 4 -.6zM941.3 1985.8l6.6 -.3 3 .2 3 .3 3 .8 2 .8 2 1.2 1 .8 1 1.2 1 2 .4 2 0 2 -.4 2 -.8 2 -1 2 -1.4 2 -1.8 2.1 -3 2.9 -3 2.4 -3.7 2.6 -3.3 2 -5 2.7 -4 1.9 -4 1.5 -3 .9 -3 .6 -3 .3 -2 -.1 -3 -.5 -2 -.6 -2 -.9 -2 -1.4 -2.4 -2.4 -1.6 -2.4 -1.6 -3.6 -.7 -3 -.2 -3 .3 -3 1.1 -3 1.9 -3 1.8 -2 2.5 -2 3.5 -2 3.4 -1.5 4.6 -1.5 4.4 -1.1 6 -1.2z"/><path fill="#ff5300" d="M1043.9 1838.8l6 .2 5 1 2.3 .8 2.7 1.3 2 1.3 2 1.6 1.7 1.8 1.5 2 1.2 2 1.3 3 1.5 5 .4 3 .4 4 .2 5 -.2 6 -.4 5 -.6 4.6 -.9 4.4 -1.1 4.4 -1.2 3.6 -1.8 4 -2 3.6 -1.8 2.4 -2.2 2.3 -2 1.6 -2 1.3 -3 1.2 -2 .5 -3 .4 -3 0 -3 -.5 -3 -.9 -3 -1.3 -3 -1.9 -3 -2.3 -3 -2.9 -3 -3.5 -2.9 -4 -2.1 -3.4 -2.6 -4.6 -2.4 -5.1 -2.4 -5.9 -1.6 -5 -1 -4 -.5 -4 0 -3 .3 -3 .8 -3 .8 -2 1.1 -2 1.5 -2.2 1.6 -1.8 2.4 -2.2 2.6 -1.8 2.4 -1.4 3 -1.4 3.2 -1.2 3.8 -1.1 4 -.9 4 -.7zM938.8 1988.8l6.1 -.4 5 .4 4 1.1 1.8 .9 1.3 1 .9 1 1.1 2 .2 1 .1 2 -.7 3 -1 2 -1.3 2 -1.8 2 -2.1 2 -5.3 4 -3.2 2 -3.8 2 -4.2 1.9 -3 1.1 -5 1.2 -3 .2 -2 -.1 -2 -.3 -2 -.7 -3 -1.8 -2 -1.9 -1.7 -2.6 -.8 -2 -.8 -3 0 -3 .3 -2 1 -2.5 1.6 -2.5 1.4 -1.4 2 -1.7 3 -1.8 2.4 -1.1 3.6 -1.3 4 -1.1 4 -.8z"/><path fill="#ff3e00" d="M1037.5 1842.8l6.4 -.7 3 .1 3 .3 3 .6 2 .7 4 2 2 1.5 1.6 1.5 2.4 3.2 1 1.8 1.2 3 1.3 5 .5 4 .2 4 0 5 -.3 5 -1.1 8 -1 4 -1.3 4 -1.5 3.5 -1.4 2.5 -1.6 2.4 -2 2.2 -2 1.7 -2 1.3 -2 .9 -3 .9 -3 .4 -3 -.1 -3 -.6 -2 -.7 -3 -1.3 -3 -2 -2.6 -2.1 -2.4 -2.4 -3 -3.6 -2 -2.8 -2.6 -4.2 -2.1 -4 -2.2 -5 -1.5 -4 -1.2 -4 -.9 -4 -.4 -5 .2 -3 .4 -2 .7 -2 .8 -2 1.2 -2 1.6 -2 3.2 -3 2.8 -1.9 2 -1.1 3 -1.3 3 -1.1zM934.9 1992.8l5 -.5 4 0 3.1 .5 2.9 1.2 1.1 .8 .9 1 .9 2 .1 1 -.3 2 -.7 1.9 -.7 1.1 -2.5 3 -3.8 3.1 -5 3.1 -6 2.6 -4 1.1 -4 .3 -3 -.5 -1.6 -.7 -1.4 -.8 -1.4 -1.2 -1.4 -2 -.9 -2 -.5 -2 0 -2 .4 -2 .8 -1.7 .8 -1.3 1.2 -1.3 2 -1.7 3.5 -2 5.5 -1.9z"/><path fill="#ff2a00" d="M1036.2 1846.8l5.7 -.9 5 0 4 .7 4 1.5 2 1.2 1.9 1.5 2.6 3 1.2 2 1 2 1.3 4.4 .6 3.6 .3 4 -.1 8 -.9 7 -.8 4 -1.1 3.4 -1.1 2.6 -1.6 3 -1.3 2 -1.8 2 -2.2 1.9 -1.9 1.1 -2.1 .9 -2 .5 -2 .2 -3 0 -3 -.5 -2 -.7 -2.9 -1.4 -2.1 -1.4 -4 -3.5 -2 -2.2 -2.2 -2.9 -1.9 -3 -1.9 -3.4 -1.7 -3.6 -1.6 -4 -1.3 -4 -.7 -3 -.6 -5 .3 -4 .4 -2 .8 -2 1 -2 1.4 -2 3 -3 4 -2.7 4 -1.8zM933.7 1998.8l2.2 -.2 2 .1 2 .5 1.1 .6 .8 1 .2 1 -.1 1 -1.1 2 -1.9 1.8 -1.7 1.2 -1.9 1 -2.4 .9 -2 .5 -2 0 -1.9 -.4 -1.1 -.6 -1.2 -1.4 -.4 -1 -.1 -1 .5 -2 .7 -1 1.5 -1.4 2 -1.2 2 -.7z"/><path fill="#ff1500" d="M1038 1850.8l4.9 -.6 4 .2 2 .4 2 .6 2.8 1.4 2.6 2 2.3 3 1.5 3 1.2 4 .6 6 -.1 7 -.8 6 -1.4 5 -1.9 4 -1.3 2 -1.5 1.7 -3 2.3 -2 .9 -2 .6 -2 .2 -2 0 -2 -.3 -2 -.5 -2 -.9 -2 -1.1 -2 -1.5 -2 -1.8 -2 -2.3 -1.7 -2.3 -2.9 -5 -2.6 -6 -1.6 -6 -.4 -4 .3 -4 1 -3 1.7 -3 1.2 -1.4 1.8 -1.6 2.9 -2 4.3 -1.9z"/><path fill="#ff0000" d="M1037 1856.8l2.9 -.7 3 -.3 3 .2 3 .9 1.6 .9 1.4 1 1.8 2 1.2 2 1.2 3 .7 4 .2 5 -.6 5 -1 4 -1.5 3.2 -2 2.6 -2 1.7 -1 .5 -2 .7 -3 .3 -3 -.5 -3 -1.3 -2 -1.5 -2.7 -2.7 -2.3 -3.3 -1.9 -3.7 -1.4 -4 -.8 -4 -.1 -3 .5 -3 .8 -2 1.3 -2 2 -2 2.6 -1.7z"/><path fill="#1fff00" d="M900.3 1793.8l2.6 -.6 3 -.1 2 .3 3 1.2 3 1.5 3 2 3 2.6 3 3.3 4 5.6 6.5 11.2 3.3 5 16.8 24 22.4 30.6 5 7.4 5 8.1 4.3 7.9 1.7 4 1.5 4 1.2 4 1.1 5 1.5 9 .2 4 0 3 -.3 3 -.4 2 -.6 2 -1.2 2 -1.9 2 -1.5 1 -2.6 1.2 -3 1.1 -10 2.5 -12.2 2.2 -16.8 2.5 -25 3.2 -18 1.9 -13 1 -15 .5 -7 -.6 -8.6 -1.5 -9.4 -2.5 -7 -2.5 -3.9 -2 -4 -3 -2.8 -3 -2.8 -4 -2.1 -4 -1.2 -3 -1.5 -5 -.9 -4 -.5 -4 -.3 -4 -.1 -5 .2 -5 .5 -6 .9 -7 3.2 -17 1.6 -7 1.5 -5 2 -6 2 -5 2.5 -5 4.5 -8 6.6 -11 2.8 -4 3.8 -5 4 -4.7 4 -4.2 4.3 -4.1 4.7 -4 5 -3.8 4 -2.7 5 -2.9 4 -2 5 -2.2zM1028 1981.8l2.9 -.1 3 .1 9 1.1 41 7.1 6 1.3 6 1.9 5 2.2 10 4.8 10 5.3 11 6.6 6 4 5 3.6 5 3.9 3.6 3.2 3.1 3 2.7 3 2.3 3 1.9 3 2 4 1.1 3 .6 3 .2 3 -.2 3 -.7 3 -1.5 4 -2.8 5 -2.6 4 -7.2 10 -8.3 11 -7.9 10 -6.6 8 -7.9 9 -10.6 11 -5.2 5 -5.6 5 -9.4 7.5 -13.5 9.5 -3.6 3 -99.9 0 -4.2 -11 -2.6 -9 -1 -5 -1 -6 -.6 -6 -.3 -5 -.1 -5 .2 -6 1 -10 2.1 -11 3.3 -12 2.6 -8 3 -8 7.3 -18 10.8 -24 2.6 -5 2.4 -4 3.5 -5 4 -4.7 4 -4.1 5 -4.5 4 -3 3 -1.8 3 -1.1z"/><path fill="#0aff00" d="M899.5 1819.8l3.4 -.8 3 -.1 5 .5 4 1.1 3 1.2 4 2.2 4 2.7 4 3.2 5 4.5 5 5.1 13 14.6 13 15.7 6 7.8 5 6.8 7 10.5 2.9 5 2.1 4 1.7 4 1.4 4 1.2 4 .8 4 .8 5 .3 4 0 4 -.4 4 -.8 2.8 -1 2.2 -2 2.7 -2 1.7 -2 1.2 -2.9 1.4 -7.1 2.4 -9 2.1 -11 2 -18 2.7 -20 2.3 -14 1.2 -12 .5 -7 -.3 -8 -.7 -4 -.7 -5 -1.6 -5 -2.3 -2.7 -1.6 -2.3 -1.6 -3.8 -3.4 -3.3 -4 -2 -3 -1.5 -3 -1.7 -4 -.9 -3 -.7 -3 -.7 -4 -.3 -4 -.1 -5 .1 -5 .6 -6 2.1 -13 2.7 -12 1.4 -5 1.8 -5 3 -7 3.6 -6 8.5 -12 3.2 -4.1 3.4 -3.9 6.1 -6 6.5 -5.1 4 -2.7 3 -1.7 3 -1.5zM1026.7 1985.8l5.2 -.3 7 .8 9 1.8 12 3 11 3.2 9 3.2 7 2.9 7 3.6 12 7.1 8.7 5.7 6.5 5 5.5 5 2.7 3 2.3 3 3.1 5 .8 2 1 3 .4 3 -.1 3 -.4 3 -.9 3 -1.3 3 -1.6 3 -8.1 13 -8.9 13 -8.9 12 -9.1 11 -8.3 9 -8.3 8 -7.2 6 -7.9 5.7 -8 5 -7 3.7 -9 3.8 -16 5.6 -3 .9 -3 .5 -5 .2 -5 -.7 -5 -1.2 -6 -2 -5 -2.2 -4 -2.5 -3 -2.5 -3 -3.3 -2 -3 -2.6 -5 -2 -5 -1.8 -6 -1.4 -6 -1 -7 -.6 -7 -.2 -7 .2 -8 .8 -8 1.3 -8 2 -9 2.7 -10 3.3 -10 3.7 -10 6.3 -15 3.7 -8 2.9 -5 3.7 -5 3 -3.5 4 -3.7 5 -3.9 4 -2.4 4 -1.6z"/><path fill="#00ff0b" d="M909.9 1830.6l3 .1 3 .5 4 1.2 4 1.7 4 2.3 4 2.6 4 3.1 5 4.3 6 5.6 6 6 5 5.3 11 12.9 5 6.3 5 6.9 6 9.2 1.8 3.2 1.9 4 1.5 4 1.2 4 .9 4 .7 4 .3 4 0 4 -.3 3 -.6 3 -1.2 3 -1.2 2 -1.8 2 -2.4 2 -1.8 1.1 -3 1.5 -7 2.6 -8 2 -11 2.2 -15 2.2 -17 2 -13 1.1 -11 .4 -6 -.2 -6 -.7 -7 -1.5 -4 -1.2 -4.8 -2.5 -4.2 -3 -3.1 -3 -3.2 -4 -1.9 -3 -1.6 -3 -1.6 -4 -.9 -3 -.9 -4 -.4 -3 -.4 -8 .2 -5 .4 -5 2 -12 1 -5 1.6 -6 1.2 -4 1.9 -5 3.3 -7 1.8 -3 2.1 -3 8.5 -10.4 7 -7.4 6 -5.1 3 -2.1 3 -1.8 3 -1.4 2 -.7 3 -.7zM1027.5 1988.8l5.4 0 6 .7 8 1.8 10 2.7 10 3.2 8 3.1 7 3.1 6.4 3.4 6.6 4.3 10.7 7.7 6 5 4 4 4 5 1.8 3 1 2 1.2 4 .4 3 -.1 2 -.4 3 -.5 2 -1.1 3 -1.4 3 -7.1 12 -7.9 12 -7.2 10 -8 10 -8 9 -7.4 7.3 -7.8 6.7 -7.2 5.3 -7 4.3 -10 5.1 -10 4.7 -6 2.1 -3 .7 -3 .4 -3 .1 -3 -.1 -5 -.8 -5 -1.3 -4 -1.4 -4 -2 -3 -2 -3 -2.6 -2.9 -3.5 -1.9 -3 -2.4 -5 -1.7 -5 -1.6 -6 -1.2 -6 -.8 -6 -.5 -7 0 -7 .4 -8 .8 -8 1.3 -8 2 -9 2.1 -8 2.9 -9 4 -11 4.4 -11 2.9 -6 2.4 -4 2.9 -4 2.9 -3.2 4 -3.5 4 -2.8 4 -2.2 4 -1.5z"/><path fill="#00ff22" d="M907 1838.8l3.9 -.6 3 -.1 3 .4 3 .7 4 1.3 4 1.9 4 2.2 4 2.6 5 3.8 5 4.1 6 5.4 5 4.9 5 5.2 5 5.7 5 6 5 6.5 6.2 9 2.3 4 1.5 3 1.2 3 1.4 4 .9 4 .7 4 .4 4 0 4 -.3 3 -.7 3 -1.2 3 -1.2 2 -1.7 2 -2.5 2.2 -2 1.3 -2.6 1.5 -6.4 2.6 -7 2 -10 2.1 -13 2.1 -15 1.9 -13 1.1 -11 .4 -7 -.3 -6 -.7 -5 -1.2 -5.6 -2 -3.4 -1.7 -3.3 -2.3 -3.2 -3 -3.3 -4 -2 -3 -1.6 -3 -1.3 -3 -1 -3 -.8 -3 -.7 -4 -.4 -4 -.2 -4 .1 -4 .4 -5 1.5 -10 2.3 -10 2.6 -8 3.1 -7 1.7 -3 1.9 -3 4.2 -5.1 8 -8.4 6 -5.4 5 -3.7 2 -1.2 3 -1.3 3 -1.1zM1024.7 1991.8l5.2 -.5 5 .4 6 1 8 1.9 11 3.4 9 3.3 9 3.9 6 3.2 6 4 9.2 7.4 5.6 5 4.6 5 2.8 4 1.9 4 1 4 .2 4 -.4 3 -.6 2 -2.1 5 -5.6 10 -6.9 11 -6.3 9 -6.9 9 -7.7 9 -6.8 7 -7 6.3 -8 6.2 -8 5.1 -12 6.9 -5 2.3 -5 1.7 -5 .7 -5 .1 -4 -.4 -5 -1.2 -4 -1.4 -4 -1.9 -3 -2 -2.6 -2.4 -2.4 -2.8 -2 -3 -2 -4 -1.6 -4.2 -1.7 -6 -1.2 -6 -.8 -6 -.5 -6 -.1 -6 .2 -7 .5 -7 1 -8 1.6 -9 1.9 -8 2.3 -8 2.9 -9 4.1 -11 2.6 -6 2.1 -4 2.7 -4.2 3 -3.6 3 -2.9 3 -2.3 4 -2.3 4 -1.7z"/><path fill="#00ff39" d="M907.7 1844.8l3.2 -.7 3 -.2 3 .1 4 .7 4 1.3 4 1.6 4 2.1 4 2.4 5 3.5 5 3.8 5 4.2 5 4.6 5 5 5 5.5 9 10.9 5.9 8.2 3.4 6 1.3 3 1.4 4 1 4 .7 4 .3 4 -.1 4 -.4 3 -.8 3 -1.3 3 -1.4 2 -1.7 2 -2.3 1.9 -4 2.6 -6 2.6 -7 2.1 -9 2 -12 2.1 -12 1.6 -13 1.1 -10 .4 -6 -.1 -6 -.5 -5 -.9 -4 -1.3 -5 -2.2 -4 -2.4 -3 -2.5 -3.1 -3.5 -3.4 -5 -1.5 -3 -1.2 -3 -1 -3 -.8 -4 -.8 -7 0 -8 1.1 -9 2.1 -10 2.4 -8 2.5 -6 3.2 -6 3.5 -4.9 3.8 -4.1 7.2 -6.6 6 -4.7 3 -1.9 3 -1.5 3 -1.3zM1027.3 1993.8l4.6 0 6 .7 7 1.5 8 2.2 9 3.1 7 2.7 7 3.3 6.3 3.5 4.7 3.3 5.5 4.7 6.3 6 4.5 5 2.1 3 2 4 1 4 .1 4 -.2 2 -.7 3 -2.2 5 -5.5 10 -6.2 10 -6.2 9 -6.1 8 -6.4 7.5 -6.2 6.5 -6.4 6 -7.5 6 -8.9 6.4 -8 5 -5 2.5 -5 1.6 -5 .8 -5 .1 -5 -.7 -4 -1 -4 -1.5 -3 -1.6 -3 -2.1 -2.6 -2.5 -2.4 -3 -1.9 -3 -1.8 -4 -1.4 -4 -1.3 -5 -1.1 -6 -.7 -6 -.3 -6 -.1 -6 .3 -7 .7 -8 1 -7 1.3 -7 1.8 -8 2.2 -8 2.9 -9 3.3 -9 2.6 -6 2.3 -4 2.2 -3.1 3 -3.4 3 -2.6 4 -2.5 4 -1.8 4 -1.1z"/><path fill="#00ff4f" d="M912.1 1848.8l2.8 -.2 4 .2 3 .6 4 1.1 4 1.6 4 1.9 4 2.3 5 3.3 5 3.7 4 3.2 4 3.5 5 4.7 9 9.6 5 6 3.5 4.5 2.5 3.6 2 3.3 1.5 3.1 1.3 3 .9 3 1 4 .6 4 .1 3 0 3 -.3 3 -.7 3 -.8 2 -1 2 -1.6 2.3 -1.6 1.7 -2.4 2 -4 2.5 -6 2.6 -7 2.1 -9 2 -11 1.9 -11 1.4 -12 1 -9 .3 -6 -.2 -6 -.6 -4 -.7 -4.1 -1.3 -4.3 -2 -4.6 -3 -3.4 -3 -2.6 -3 -3.1 -5 -1.4 -3 -1.1 -3 -.8 -3 -.8 -4 -.6 -7 .2 -8 1.2 -8 2 -9 2.6 -8 2.7 -6 3.6 -6 3.2 -4 4.3 -4.2 7 -5.6 6 -3.8 6 -3 3 -1zM1022 1996.8l4.9 -.9 5 0 6 .7 6 1.3 9 2.5 9 3.2 8 3.3 7 3.6 5 3.1 4.1 3.2 5.2 5 5.4 6 2.9 4 2 4 .9 3 .4 4 -.4 4 -.6 2 -1.2 3 -4.1 8 -5.2 9 -5.2 8 -5.7 8 -6.4 8 -6.3 7 -5.9 6 -6.7 6 -8.7 7 -6.5 4.6 -5 2.7 -4 1.5 -5 1.2 -5 .3 -4 -.2 -4 -.7 -4 -1.2 -3 -1.3 -3 -1.7 -2.8 -2.2 -2.2 -2.3 -2.1 -2.7 -1.9 -3.3 -1.6 -3.7 -1.3 -4 -1 -4 -.8 -5 -.6 -5 -.3 -6 -.1 -6 .3 -7 .7 -8 1.1 -8 1.2 -7 1.9 -8 1.9 -7 2.9 -9 2.8 -8 1.8 -4 2.2 -4 2.1 -3 2.7 -3 3.1 -2.7 3 -1.9 3 -1.4z"/><path fill="#00ff66" d="M913.5 1852.8l3.4 -.2 3 .3 3 .5 4 1.1 4 1.5 4 1.9 4 2.2 5 3.2 4 2.8 5 3.8 8 7.1 9 9.4 4 4.6 4 5 3.8 5.8 1.5 3 1.2 3 1 3 .9 4 .5 4 .1 3 -.4 5 -.8 3 -.8 2.1 -1 1.9 -1.4 2 -1.8 2 -2.4 2 -4.4 2.7 -5.5 2.3 -7.5 2.3 -8 1.8 -10 1.7 -10 1.2 -11 1 -9 .2 -6 -.2 -5 -.5 -5 -.9 -4 -1.3 -4 -2 -3.5 -2.3 -3.4 -3 -3.1 -3.5 -2.8 -4.5 -1.3 -3 -1.1 -3 -1.4 -6 -.7 -7 0 -4 .3 -4 1.1 -8 2.1 -9 2.4 -7 2.8 -6 3.1 -5 3.2 -4 3.3 -3.3 3 -2.4 3 -2.2 8 -4.8 5 -2.2 2 -.6zM1028.8 1997.8l5.1 .2 5 .7 7 1.6 7 2.2 8 2.8 7 3 6 3 5 3 3.4 2.5 3.4 3 3.6 4 3.9 5 2.4 4 1.2 3 .9 4 .1 3 -.7 4 -1.9 5 -4.7 9 -6 10 -5.3 8 -5.2 7 -5.8 7 -6.3 7 -5.9 6 -7.1 6.5 -5 4.1 -5 3.4 -4 2 -5 1.7 -5 .9 -5 .1 -3 -.4 -4 -.8 -4 -1.4 -3 -1.5 -3 -2.1 -2.6 -2.5 -2.3 -3 -1.8 -3 -1.4 -3 -1.3 -4 -1.2 -5 -.7 -5 -.5 -5 -.3 -6 .1 -6 .3 -6 .6 -7 .9 -7 1.2 -7 1.6 -7 2.1 -8 2.8 -9 2.1 -6 2.2 -5 2.2 -3.8 2.4 -3.2 2.6 -2.7 3 -2.2 3 -1.7 3 -1.1 4 -1z"/><path fill="#00ff7c" d="M911.8 1856.8l3.1 -.5 3 -.1 3 .3 4 .7 4 1.2 4 1.6 4 1.9 4 2.3 5 3.1 4 2.8 8 6.4 4 3.7 5 4.9 8 8.9 4.3 5.8 1.8 3 1.4 3 1.1 3 .9 3 .6 3 .3 3 .1 4 -.2 3 -.6 3 -.7 2 -.9 2 -1.2 2 -1.6 2 -2.3 2.2 -4 2.7 -5 2.3 -6 2.1 -8 2 -9 1.7 -10 1.4 -11 1 -9 .3 -6 -.1 -5 -.5 -5 -.9 -4.3 -1.2 -3.7 -1.7 -3.5 -2.3 -3.5 -3 -2.7 -3 -1.4 -2 -1.7 -3 -2.1 -5 -1.5 -6 -.6 -6 0 -7 .8 -7 1.7 -8 2.1 -7 2.4 -6 2.8 -5 2.7 -4 3.5 -4 4 -3.3 7 -4.4 5 -2.7 3 -1.1zM1026.5 1999.8l5.4 -.1 5 .5 6 1.2 6 1.7 8 2.6 7 2.8 6 2.9 6 3.4 4.2 3 3.4 3 2.6 3 2.9 4 2.2 4 1.2 3 .9 4 0 3 -.7 4 -1.9 5 -5.2 10 -5.3 9 -4.6 7 -5 7 -6.4 8 -6.1 7 -4.8 5 -5.4 5.2 -5 4.1 -4 2.7 -4 2 -4 1.4 -5 .9 -4 .2 -3 -.3 -4 -.8 -4 -1.3 -3 -1.4 -2.6 -1.7 -2.4 -2.1 -2 -2.3 -1.8 -2.6 -1.5 -3 -1.2 -3 -1.2 -4 -.8 -4 -.7 -5 -.3 -5 -.2 -5 .1 -6 .4 -7 .8 -7 1 -7 1.3 -7 1.9 -8 2.3 -8 2.6 -8 2 -5 1.5 -3 2 -3 2.5 -3 2.3 -2.1 3 -2 3 -1.4 3 -.9z"/><path fill="#00ff93" d="M913.6 1859.8l3.3 -.3 3 0 4 .6 3 .6 3 1 4 1.6 4 1.9 4 2.2 5 3.1 4 2.7 8 6.4 4 3.6 5 4.9 4 4.2 3 3.5 2.3 3 1.7 2.7 2.6 5.3 1.6 5 .5 3 .3 3 .1 3 -.2 3 -.6 3 -.7 2 -.9 2 -1.1 2 -1.6 2 -2.1 2 -3.9 2.7 -4 2 -6 2.2 -7 1.9 -8 1.6 -9 1.4 -10 .9 -9 .5 -6 0 -6 -.4 -5 -.8 -4 -1 -4 -1.6 -3 -1.7 -3.4 -2.7 -2.8 -3 -2.9 -4 -1.1 -2 -1.3 -3 -1.7 -6 -.8 -6 -.1 -7 .8 -7 1.5 -8 2.1 -7 2.6 -6 2.7 -5 2.8 -4 3.6 -3.8 2 -1.7 3 -2.1 6 -3.5 4 -1.7zM1024.8 2001.8l4.1 -.4 5 .1 5 .8 6 1.4 8 2.4 7 2.6 6 2.7 6 3.2 4 2.5 3.5 2.7 3 3 2.3 3 1.8 3 1.7 4 1 4 .2 3 -.5 4 -.5 2 -1.2 3 -3.9 8 -5 9 -5 8 -4.8 7 -6 8 -5.8 7 -4.5 5 -4.3 4.2 -4 3.5 -4 2.8 -4 2.1 -4 1.5 -4 .9 -5 .4 -3 -.3 -4 -.8 -3 -.9 -3 -1.4 -2 -1.2 -2.3 -1.8 -2 -2 -1.7 -2.3 -1.6 -2.7 -1.3 -3 -1.1 -3.1 -1 -3.9 -.6 -4 -.5 -5 -.3 -10 .3 -7 .7 -7 .9 -7 1 -6 1.5 -7 1.8 -7 2.7 -9 1.7 -5 1.8 -4 1.8 -3 2.2 -2.8 2 -2 2 -1.6 3 -1.8 3 -1.1z"/><path fill="#00ffaa" d="M913.5 1862.8l3.4 -.4 3 .1 3 .2 3 .6 3 .8 4 1.4 4 1.8 4 2 8 4.8 8 5.9 4 3.3 5 4.6 4 4 3 3.3 2.1 2.6 2.1 3 2.7 5 1.7 5 .7 3 .3 3 .1 3 -.2 3 -.6 3 -.6 2 -.9 2 -1.4 2.4 -1.3 1.6 -2.1 2 -3.6 2.6 -4 2 -5 1.9 -7 2 -8 1.6 -8 1.3 -8 .8 -9 .5 -6 .1 -6 -.3 -5 -.7 -4 -.9 -4 -1.3 -3.2 -1.6 -2.8 -2 -3.1 -3 -3 -4 -1.1 -2 -1.4 -3 -1.6 -5 -1 -6 -.2 -6 .5 -7 1.3 -7 1.8 -7 2.3 -6 2.5 -5 3 -4.5 3 -3.6 4 -3.4 5 -3.1 5 -2.3zM1023.7 2003.8l4.2 -.7 4 0 5 .5 5 .9 7 2 7 2.4 6 2.5 6 2.9 4.2 2.5 4.2 3 2.6 2.3 2.4 2.7 1.9 3 1.3 3 1.1 4 .4 3 -.3 4 -1.1 4 -3.1 7 -4.2 8 -4.6 8 -5.1 8 -4.9 7 -6.2 8 -4.6 5.3 -4 4.1 -4 3.5 -3 2.1 -4 2.3 -4 1.6 -4 1 -4 .4 -3 -.1 -3 -.4 -3 -.7 -3 -1.2 -2 -1 -2 -1.3 -2 -1.7 -2 -2.2 -1.8 -2.7 -1.2 -2.3 -1.1 -2.7 -1.3 -4 -1.2 -7 -.4 -4 -.2 -5 .1 -6 .4 -7 .8 -7 1 -7 1.4 -7 1.6 -7 2.3 -8 1.9 -6 1.1 -3 1.6 -3.1 1.9 -2.9 2.1 -2.5 2 -1.8 2.6 -1.7 2.4 -1.1z"/><path fill="#00ffc0" d="M911.8 1865.8l3.1 -.5 3 -.2 3 .1 4 .5 3 .7 4 1.2 7 3 5 2.6 4 2.4 8 5.5 8 6.7 4 3.7 3 3.2 4.1 5.1 3 5 1.9 5 .7 3 .4 3 .2 3 -.2 3 -.5 3 -.6 1.9 -.9 2.1 -1.1 2 -1.6 2 -1.4 1.5 -3.3 2.5 -3.7 2 -5 2.1 -6 1.8 -7 1.6 -8 1.4 -8 .9 -8 .5 -6 .1 -6 -.2 -5 -.5 -5 -1.1 -4 -1.3 -3 -1.4 -3 -2 -3 -2.8 -1.7 -2.1 -1.3 -2 -1.9 -4 -1.7 -5 -1 -6 -.2 -6 .4 -6 1.2 -7 1.5 -6 1.7 -5 2.3 -5 3 -5 3.2 -4 3.5 -3.3 4 -2.7 4 -1.8zM1028.2 2004.8l3.7 -.1 5 .5 5 1 5 1.3 6 2 6 2.3 5 2.3 4.9 2.7 3.1 2 3 2.3 2.8 2.7 1.6 2 1.8 3 1.1 3 .6 3 .2 3 -.5 4 -1.3 4 -3.1 7 -4.7 9 -4 7 -5 8 -4.9 7 -5.6 7.1 -4 4.5 -4 3.8 -3 2.4 -4 2.6 -4 1.9 -4 1.3 -3 .5 -4 .2 -3 -.3 -3 -.7 -3 -1 -2.6 -1.3 -2.4 -1.7 -2 -1.9 -1.9 -2.4 -1.1 -1.7 -1.2 -2.3 -1.2 -3 -.8 -3 -.9 -4 -.8 -8 0 -10 .4 -6 .6 -6 2 -12 1.6 -7 2.2 -8 1.8 -6 1.6 -4 1.6 -3 2.1 -2.9 2 -2.1 2 -1.6 2.5 -1.4 2.5 -1 3 -.7z"/><path fill="#00ffd7" d="M914.2 1867.8l3.7 -.3 3 .1 6 .9 3 .8 4 1.4 7 3.1 8 4.4 8 5.5 7 5.8 3.6 3.3 2.8 3 4 5 2.8 5 1.7 5 .8 5 0 5 -.5 3 -.6 2 -.8 2 -1.1 2 -1.5 2 -2 2 -3.2 2.3 -4 2.1 -5 2 -6 1.7 -6 1.4 -7 1.1 -7 .8 -8 .5 -6 .1 -6 -.2 -5 -.6 -4 -.8 -4.4 -1.4 -3.6 -1.7 -3 -2.1 -2.2 -2.2 -1.6 -2 -1.2 -2 -1.9 -4 -1.5 -5 -.8 -5 -.2 -6 .4 -6 1.3 -7 1.5 -6 2.3 -6 2.5 -5 2.6 -4 3.5 -4 3.3 -2.8 3 -1.7 4 -1.6zM1026.1 2006.8l3.8 -.4 4 0 4 .5 5 1.1 6 1.7 6 2.2 5 2.1 5 2.5 3.9 2.3 2.8 2 3.3 2.9 1.8 2.1 1.3 2 1.4 3 .7 3 .2 3 -.4 4 -1.2 4 -2.6 6 -4 8 -4.4 8 -4.3 7 -4 6 -4.5 5.9 -4 4.7 -3 3.1 -3 2.7 -4 2.9 -4 2.2 -4 1.6 -4 .9 -3 .2 -3 -.2 -3 -.5 -3 -.9 -2 -.9 -2 -1.2 -2 -1.6 -1.9 -1.9 -1.1 -1.5 -1 -1.6 -1.4 -2.9 -1.1 -3 -.8 -3 -1.2 -7 -.3 -8 .1 -6 .5 -6 .7 -6 .9 -6 1.2 -6 1.7 -7 1.9 -7 1.7 -5 1.1 -2.6 1.3 -2.4 1.7 -2.4 2 -2.1 2 -1.6 2 -1.2 2 -.8z"/><path fill="#00ffee" d="M916.5 1869.8l3.4 0 3 .2 6 1.2 6 1.9 7 3.2 8 4.4 7 4.7 7 5.7 3 2.8 2.7 2.9 3.3 4.2 2.7 4.8 1.8 5 .8 5 -.2 5 -.6 3 -.6 2 -.9 2 -1.3 2 -2.8 3 -2.9 2.2 -4 2.2 -4 1.6 -6 1.9 -6 1.3 -7 1.2 -7 .8 -7 .4 -6 .1 -6 -.3 -5 -.6 -3.8 -.8 -4.2 -1.4 -3 -1.4 -3 -1.9 -2.4 -2.3 -1.6 -2 -1 -1.7 -2 -4.3 -1.3 -5 -.7 -5 -.1 -6 .5 -6 1.4 -7 1.7 -6 2 -5 2.7 -5 2.8 -4 3 -3.2 3 -2.4 3 -1.5 4 -1.3zM1025.3 2008.8l3.6 -.7 3 -.1 4 .2 5 .9 5 1.3 6 2 5 2 5 2.3 3.7 2.1 2.9 2 3.4 2.8 2.1 2.2 1.4 2 1.5 3 .5 2 .4 3 -.1 3 -1 4 -2 5 -3.8 8 -3.7 7 -4 7 -4.3 6.5 -4 5.4 -4 4.7 -3 3.1 -3.7 3.3 -3.3 2.3 -3 1.8 -4 1.7 -4 1 -3 .2 -2 0 -3 -.4 -3 -.8 -2 -.9 -2 -1.1 -2 -1.5 -1.3 -1.3 -1.6 -2 -2.3 -4 -.8 -2.1 -1 -3.4 -1.1 -6.5 -.5 -7 0 -5 .4 -6 1.4 -11 2.5 -12 1.8 -7 1.5 -5 2.2 -5 1.3 -2 1.6 -2 1.9 -1.8 2 -1.3 2 -1.1z"/><path fill="#00fbff" d="M917.4 1871.8l5.5 .2 6 1.1 7 2.4 7 3.1 7 3.8 7 4.7 6 4.7 5.1 5 3.2 4 1.7 2.7 1.2 2.3 .9 2 .9 3 .7 4 -.1 5 -.5 3 -.6 2 -.9 2 -1.2 2 -2.8 3 -2.6 2.1 -4 2.2 -4.1 1.7 -4.9 1.6 -6 1.4 -6 1 -6 .8 -7 .4 -6 .2 -6 -.2 -5 -.6 -4 -.8 -4 -1.3 -3.4 -1.5 -3.1 -2 -2.1 -2 -2.3 -3 -1.9 -4 -1.5 -5 -.7 -5 -.1 -5 .5 -6 1.3 -7 1.7 -6 2 -5 2.6 -5 2.8 -4 2.9 -3 3.3 -2.4 3 -1.3 4 -1zM1029.9 2009.8l3 -.1 4 .3 4 .7 4 1 5 1.6 5 1.9 4 1.9 4 2.1 3 2 3 2.4 2.2 2.2 1.6 2 1.1 2 .9 2 .4 2 .2 3 -.3 3 -1.2 4 -2.6 6 -3.9 8 -3.4 6.2 -4 6.5 -3 4.4 -4 5.1 -3 3.4 -3 2.9 -4 3.4 -3 2 -4 2 -3 1.1 -3 .6 -3 .1 -3 -.2 -2 -.5 -2 -.6 -2 -.9 -2 -1.2 -2 -1.7 -1.4 -1.6 -1.3 -2 -1.3 -2.5 -.9 -2.5 -1.5 -6 -.8 -7 0 -8 .8 -10 1.6 -10 2.9 -12 1.5 -5 1.2 -3 1 -2 1.3 -2 1.9 -2.2 2 -1.6 2 -1.2 2 -.9 2 -.6z"/><path fill="#00e7ff" d="M916.5 1873.8l5.4 0 6 .9 6 1.8 7 2.9 7 3.5 7 4.3 6.1 4.6 5.3 5 3.6 4.4 2.7 4.6 1.5 4 .7 3 .2 2 .1 3 -.2 2 -1 4 -.8 2 -1.2 2 -2.7 3 -2.5 2 -3.8 2.2 -4.2 1.8 -4.8 1.5 -5 1.3 -6 1 -6 .7 -6 .4 -6 .2 -5 -.2 -5 -.5 -4 -.8 -4 -1.1 -3.4 -1.5 -3.2 -2 -2.4 -2.1 -2.2 -2.9 -1.9 -4 -1.2 -4 -.7 -5 -.1 -5 .4 -5 1 -6 1.5 -6 1.8 -5 1.9 -4 2.5 -4 3 -3.5 3 -2.5 3 -1.5 3 -.9zM1029 2011.8l2.9 -.3 4 .1 3 .4 4 .8 4 1.2 5.1 1.8 4.6 2 3.8 2 3.1 2 2.6 2 2.1 2 1.6 2 1.3 2 .9 2 .5 2 .3 3 -.4 3 -1.3 4 -2.2 5.2 -3 6.2 -3 5.6 -3 5 -3.3 5 -3.7 4.8 -3 3.4 -3 3 -3.3 2.8 -3.7 2.6 -3 1.6 -3 1.1 -3 .7 -3 .2 -4 -.5 -2 -.5 -2 -.9 -3 -1.9 -1.4 -1.4 -1.6 -2 -2 -4 -1 -2.8 -.8 -3.2 -.8 -6 -.3 -7 .5 -9 1.4 -9.4 2.6 -11.6 1.4 -5 1.1 -3 2 -4 1.6 -2 1.3 -1.2 2 -1.5 2 -1.1 2 -.7z"/><path fill="#00d4ff" d="M915.8 1875.8l5.1 -.3 6 .8 6 1.6 7 2.7 7 3.3 7 4.2 6 4.4 4.6 4.3 3.4 4 2.5 4 1.8 4 .7 2.6 .4 2.4 .1 3 -.1 2 -.9 4 -.8 2 -1.2 2 -2.5 3 -2.5 2 -3.3 2 -4.2 1.8 -4 1.4 -5 1.3 -5 .9 -6 .8 -6 .4 -6 .1 -5 -.1 -5 -.5 -4 -.8 -4 -1.2 -3 -1.4 -2.8 -1.7 -2.3 -2 -2.4 -3 -1.5 -3 -1.3 -4 -.7 -4 -.3 -5 .3 -5 .8 -5 1.4 -6 1.6 -5 1.8 -4 2.4 -4 2 -2.6 2.5 -2.4 2.5 -1.8 3 -1.3zM1029.3 2013.8l2.6 -.4 3 -.1 3 .3 4 .8 4 1.1 4 1.3 4.6 2 3.9 2 4.5 3.1 2.1 1.9 1.9 2.1 1.2 1.9 1 2 .6 2 .3 3 -.4 3 -.9 3 -1.8 4.3 -3 6.2 -3 5.6 -3 5 -3 4.4 -3 3.8 -3 3.4 -3 2.9 -3 2.5 -3 2 -3 1.5 -3 1 -2 .5 -3 .2 -4 -.5 -2 -.6 -2 -1 -2.9 -2.2 -2.1 -2.7 -2 -4.2 -1.2 -4.1 -.9 -6 -.2 -6 .4 -8 1.2 -9 2.5 -11 2.1 -7 1 -2 1.2 -2 1.7 -2 1.1 -1 3.1 -1.9z"/><path fill="#00c1ff" d="M915.5 1877.8l2.4 -.3 3 -.2 5 .5 6 1.4 6 2.1 7 3.1 6.1 3.4 5.9 4 5 4.3 4 4.4 2.8 4.3 1.8 4 1 4 .2 3 -.1 2 -.8 4 -.7 2 -1.2 2 -2 2.5 -2 1.8 -3 2 -3.3 1.7 -4.7 1.8 -4.2 1.2 -4.8 1 -5 .7 -6 .5 -6 .2 -5 -.1 -5 -.4 -4 -.8 -4 -1.1 -3 -1.3 -2.9 -1.7 -2.4 -2 -1.8 -2 -1.9 -3.2 -1.4 -3.8 -.8 -4 -.3 -4 .2 -5 .7 -5 1.1 -5 1.1 -4 1.6 -4 2.1 -4 2.1 -3 2.6 -2.7 2 -1.6 3 -1.6zM1030.4 2015.8l2.5 -.4 3 0 3 .3 3 .6 4 1.1 3.9 1.4 6.3 3 4.4 3 2.2 2 1.6 2 1.3 2 .8 2 .4 2 .1 2 -.4 3 -1 3 -1.7 4 -2.9 6 -2.2 4 -2.8 4.6 -5 6.8 -3 3.4 -2.3 2.2 -2.7 2.2 -3 2 -3 1.4 -2 .7 -3 .6 -2 .1 -2 -.2 -2 -.4 -3 -1.3 -1.7 -1.1 -1.3 -1.3 -2 -2.7 -1.7 -4 -1 -4 -.7 -5 -.1 -5 .3 -7 1.2 -8 2 -9.3 2 -6.5 1.6 -3.2 2.4 -2.8 1.6 -1.2 1.4 -.8z"/><path fill="#00adff" d="M915.7 1879.8l4.2 -.6 5 .2 6 1.1 6 2 7 3 6.2 3.3 5.8 3.9 4.8 4.1 3.6 4 2.6 4 1.8 4 1 4 .1 4 -.7 4 -.7 2 -1 2 -2.5 3 -2.4 2 -3.2 2 -3.4 1.6 -4 1.4 -4 1.1 -4.8 .9 -9.2 .9 -6 .2 -5 -.2 -4 -.4 -4 -.7 -3 -.9 -3 -1.2 -3 -1.7 -2.5 -2 -1.8 -2 -1.9 -3 -1.2 -3 -.9 -4 -.4 -4 .1 -4 .4 -4 1 -5 1.1 -4 1.4 -4 2 -4 2 -3 2.7 -2.9 2 -1.5 3 -1.7zM1032.8 2017.8l2.1 -.2 3 .1 5.5 1.1 5.7 2 2.8 1.3 3.1 1.7 4 3 2.5 3 1.5 3 .5 2 0 2 -.2 2 -.9 3 -1.7 4 -2.4 5 -4.4 7.5 -2.5 3.5 -2.5 3.2 -2 2.1 -2.9 2.7 -4.1 2.8 -2.5 1.2 -2.5 .8 -2 .3 -2 .1 -3 -.5 -3 -1.3 -2 -1.5 -1 -1.1 -1.3 -1.8 -1.3 -3 -1.1 -4 -.6 -5 -.1 -5 .4 -6 1.1 -7 1.8 -8 1.6 -5 1.7 -3 1.8 -2 1 -.7 3 -1.6z"/><path fill="#009aff" d="M916.2 1881.8l3.7 -.7 5 0 5 .9 6 1.7 7 2.9 6 3.1 5 3.3 4.7 3.8 3.3 3.5 2.5 3.5 2.1 4 1.1 4 .3 4 -.6 4 -.6 2 -1 2 -2.4 3 -2.3 2 -3.1 1.9 -3 1.5 -4 1.4 -4 1.1 -4 .8 -4 .5 -5 .4 -9 0 -4 -.4 -4 -.6 -4 -1.2 -3 -1.2 -2 -1.2 -2.6 -2 -1.9 -2 -1.9 -3 -1.3 -3 -.7 -3 -.4 -3 -.1 -4 .4 -4 .9 -5 1.1 -4 1.4 -4 1.5 -3 2 -3 2.6 -2.9 2 -1.6 2.6 -1.5zM1032.3 2020.8l3.6 -.5 2 0 3 .4 5 1.5 5 2.2 3.7 2.4 1.3 1.2 1.6 1.8 1.6 3 .6 3 -.2 2 -.6 2.3 -1 2.7 -1.8 4 -3.3 6 -1.9 2.9 -2.4 3.1 -3.6 3.9 -4 3.1 -2 1.1 -2 .7 -2 .5 -2 .2 -3 -.4 -2 -.8 -2 -1.4 -1.6 -1.9 -1.4 -2.5 -1 -3.2 -.6 -3.3 -.2 -4 .2 -5 .7 -6 1.5 -7 1.4 -4.8 1 -2.2 2 -2.5 2 -1.5z"/><path fill="#0087ff" d="M917 1883.8l3.9 -.8 2 -.1 3 .1 5 .9 5 1.5 6 2.4 6 3 5 3.2 4.5 3.8 2.8 3 2.8 4 1.9 4 .7 3 .3 4 -.3 2 -.4 2 -1.3 3 -2.3 3 -2.3 2 -2.4 1.5 -2.9 1.5 -3.1 1.2 -4 1.2 -4 .8 -4 .6 -5 .4 -5 .1 -4 -.2 -4 -.4 -3.4 -.7 -3.4 -1 -2.3 -1 -2.9 -1.7 -2 -1.6 -2 -2.3 -1.6 -2.4 -1.2 -3 -.8 -3 -.3 -3 -.1 -3 .4 -4 .7 -4 .9 -3.7 1.2 -3.3 1.4 -3 1.9 -3 2.5 -2.9 2 -1.6 2.6 -1.5zM1035.2 2023.8l2.7 -.2 3 .3 4 1.2 3.6 1.7 2.8 2 1.9 2 1.1 2 .3 1 .2 2 -.5 3 -1.6 4 -2.8 5.2 -3 4.3 -3 3.3 -3 2.3 -3 1.4 -3 .6 -2 -.2 -2 -.8 -1.5 -1.1 -1.5 -1.8 -1 -2.1 -.6 -2.1 -.5 -3 -.1 -3 .2 -4 .7 -5 1.2 -5 1.1 -3 1 -1.7 1.2 -1.3 1.8 -1.2z"/><path fill="#0074ff" d="M918 1885.8l3.9 -.8 4 -.1 4 .6 5 1.3 5.4 2 5.6 2.7 5 3 4.1 3.3 3 3 2.9 4 1.8 4 .8 3 .2 4 -.6 3 -1.2 3 -2.2 3 -1.8 1.6 -2 1.4 -3 1.7 -3.3 1.3 -3.4 1 -3.3 .7 -4 .6 -4 .4 -5 .1 -4 -.2 -4 -.5 -3 -.5 -3 -.9 -3 -1.3 -2.3 -1.4 -1.7 -1.4 -2 -2.1 -1.6 -2.5 -1 -2 -.9 -3 -.4 -3 -.1 -3 .3 -4 .7 -3.7 .9 -3.3 1.1 -3.1 1.4 -2.9 1.6 -2.4 2 -2.3 2 -1.7 2.6 -1.6zM1037.3 2029.8l1.6 -.4 2 .1 1.1 .3 1.9 .9 1.3 1.1 .8 1 .7 2 0 1 -.5 2 -1 2 -1.3 2.1 -1.8 1.9 -1.2 1 -2 1 -1 .1 -1 -.1 -1 -.4 -1 -.9 -1 -2.1 -.4 -2.6 .3 -4 .8 -3 1.2 -2z"/><path fill="#0060ff" d="M919.3 1887.8l3.6 -.7 4 -.1 4 .6 5 1.4 5 1.9 5 2.5 4 2.5 4 3.3 3 3.2 2 3 1.6 3.4 .7 3 .2 2 -.1 2 -.7 3 -1.4 3 -1.6 2 -1.7 1.6 -2 1.4 -3 1.6 -3 1.2 -4 1.1 -3 .5 -7 .7 -4 0 -4 -.2 -6 -1 -2.9 -.9 -2.3 -1 -1.8 -1.1 -2.5 -1.9 -1.8 -2 -1.3 -2 -.9 -2 -.9 -3 -.4 -3 0 -3 .3 -3 .5 -3 .8 -3 1.2 -3.2 1.5 -2.8 1.5 -2.2 2 -2.1 2 -1.6 2 -1.2z"/><path fill="#004dff" d="M921.1 1889.8l2.8 -.5 4 0 4 .6 5 1.4 5 2.1 4 2.1 3.4 2.3 3.5 3 2.1 2.4 1.8 2.6 1.3 3 .7 3 .1 3 -.5 3 -1.4 3 -1.5 2 -1.5 1.4 -2.3 1.6 -1.9 1 -2.8 1.2 -3 .9 -3 .6 -3 .4 -4 .3 -7 -.2 -3 -.4 -3.4 -.8 -2.6 -.9 -2.3 -1.1 -1.7 -1.1 -2 -1.7 -1.7 -2.2 -1.2 -2 -.8 -2 -.5 -2 -.3 -3 0 -3 .4 -3 .7 -3 1 -3 .9 -2 1.2 -2 1.5 -2 1.8 -1.8 2 -1.4 2 -1z"/><path fill="#003aff" d="M924.1 1891.8l2.8 -.2 4 .4 4 .9 4 1.4 3.3 1.5 3.7 2.1 3 2.2 2.8 2.7 2.2 3 1 2 1 3 .2 2 -.2 3 -1 3 -1.2 2 -1.8 1.9 -2 1.5 -2 1.1 -2 .8 -3 1 -3 .6 -3 .4 -6 .2 -5.2 -.5 -4.8 -1.2 -2.1 -.8 -1.9 -1 -2 -1.5 -1.5 -1.5 -1.4 -2 -1 -2 -.6 -2 -.4 -2 -.1 -2 .2 -3 .5 -3 .9 -3 1.3 -3 1.1 -1.7 1 -1.3 2 -1.9 1.6 -1.1 1.9 -1z"/><path fill="#0027ff" d="M923.6 1894.8l2.3 -.4 3 -.1 3 .4 4 1 3 1.1 4 2 3 2 2.3 2 1.8 2 1.3 2 .9 2 .7 3 0 3 -.5 2 -1 2 -1.6 2 -2.9 2.1 -4 1.8 -5 1.1 -5 .3 -5.1 -.3 -4.9 -1.1 -2 -.8 -2 -1 -2.6 -2.1 -1.4 -1.8 -.7 -1.2 -.8 -2 -.5 -2 -.1 -4 .7 -4 1.6 -4 2.1 -3 2.7 -2.4 2 -1z"/><path fill="#0013ff" d="M925.5 1897.8l2.4 -.4 2 0 3 .4 3 .9 2.9 1.1 2.1 1.1 2 1.2 2.1 1.7 1.8 2 1.3 2 .8 2 .3 2 0 2 -.5 2 -.8 1.7 -1 1.3 -2.5 2 -3.5 1.6 -4 .9 -4 .2 -4 -.3 -4 -.8 -3.4 -1.6 -2.5 -2 -1.1 -1.5 -.8 -1.5 -.8 -3 -.1 -3 .7 -3.6 1 -2.4 1 -1.6 1.2 -1.4 1.1 -1 1.6 -1z"/><path fill="#0000ff" d="M927.4 1901.8l1.5 -.3 2 0 3 .5 2 .6 2 .9 2 1.2 1.3 1.1 1.7 2 .6 1 .4 1 .4 2 -.2 2 -.3 1 -1.3 2 -1.6 1.3 -2 .9 -3 .8 -3 .2 -3 -.2 -3 -.7 -2 -.9 -1.8 -1.4 -1.5 -2 -.8 -2 -.2 -2 .5 -3 .9 -2 1.6 -2 1.3 -1z"/></g>
<path fill="#000" fill-rule="evenodd" d="M769.90 1732.80h423.70v424.50h-423.70zM772.50 1735.50h418.41v418.51h-418.41z"/>
<path d="M771.20 2156.80v11.99M770.40 2155.80h-11.99M828.07 2156.80v6.49M770.40 2098.71h-6.49M884.94 2156.80v11.99M770.40 2041.61h-11.99M941.82 2156.80v6.49M770.40 1984.52h-6.49M998.69 2156.80v11.99M770.40 1927.42h-11.99M1055.56 2156.80v6.49M770.40 1870.33h-6.49M1112.43 2156.80v11.99M770.40 1813.23h-11.99M1169.31 2156.80v6.49M770.40 1756.14h-6.49" stroke="#000" stroke-width="2.80" fill="none"/>
<text x="771.2" y="2193.3" font-size="21.47" font-weight="bold" text-anchor="middle" fill="#000">0.0</text>
<text x="747.9" y="2161.5" font-size="21.47" font-weight="bold" text-anchor="end" fill="#000">0.0</text>
<text x="884.9" y="2193.3" font-size="21.47" font-weight="bold" text-anchor="middle" fill="#000">2.0n</text>
<text x="747.9" y="2047.3" font-size="21.47" font-weight="bold" text-anchor="end" fill="#000">2.0n</text>
<text x="998.7" y="2193.3" font-size="21.47" font-weight="bold" text-anchor="middle" fill="#000">4.0n</text>
<text x="747.9" y="1933.1" font-size="21.47" font-weight="bold" text-anchor="end" fill="#000">4.0n</text>
<text x="1112.4" y="2193.3" font-size="21.47" font-weight="bold" text-anchor="middle" fill="#000">6.0n</text>
<text x="747.9" y="1818.9" font-size="21.47" font-weight="bold" text-anchor="end" fill="#000">6.0n</text>
<text x="981.8" y="2231.7" font-size="21.47" font-weight="bold" text-anchor="middle" fill="#000">Electron position (m)</text>
<text x="687.5" y="1943.6" font-size="21.47" font-weight="bold" text-anchor="middle" fill="#000" transform="rotate(-90 687.5 1943.6)">Hole position (m)</text>
<text x="788.8" y="1771.8" font-size="29.60" font-weight="bold" fill="#fff">5.4x10<tspan dy="-12.4" font-size="17.76">5</tspan><tspan dy="12.4"> V/cm</tspan></text>
<text x="740.6" y="1766.1" font-size="31.26" stroke="#000" stroke-width="1.05" text-anchor="middle" font-family="'Noto Serif CJK SC', 'Noto Sans CJK SC', 'DejaVu Sans', serif" fill="#000">⑤</text>
<rect x="1201.80" y="2138.22" width="30.40" height="8.69" fill="#0000ff"/><rect x="1201.80" y="2130.14" width="30.40" height="8.69" fill="#0013ff"/><rect x="1201.80" y="2122.05" width="30.40" height="8.69" fill="#0027ff"/><rect x="1201.80" y="2113.97" width="30.40" height="8.69" fill="#003aff"/><rect x="1201.80" y="2105.88" width="30.40" height="8.69" fill="#004dff"/><rect x="1201.80" y="2097.79" width="30.40" height="8.69" fill="#0060ff"/><rect x="1201.80" y="2089.71" width="30.40" height="8.69" fill="#0074ff"/><rect x="1201.80" y="2081.62" width="30.40" height="8.69" fill="#0087ff"/><rect x="1201.80" y="2073.53" width="30.40" height="8.69" fill="#009aff"/><rect x="1201.80" y="2065.45" width="30.40" height="8.69" fill="#00adff"/><rect x="1201.80" y="2057.36" width="30.40" height="8.69" fill="#00c1ff"/><rect x="1201.80" y="2049.27" width="30.40" height="8.69" fill="#00d4ff"/><rect x="1201.80" y="2041.19" width="30.40" height="8.69" fill="#00e7ff"/><rect x="1201.80" y="2033.10" width="30.40" height="8.69" fill="#00fbff"/><rect x="1201.80" y="2025.01" width="30.40" height="8.69" fill="#00ffee"/><rect x="1201.80" y="2016.93" width="30.40" height="8.69" fill="#00ffd7"/><rect x="1201.80" y="2008.84" width="30.40" height="8.69" fill="#00ffc0"/><rect x="1201.80" y="2000.76" width="30.40" height="8.69" fill="#00ffaa"/><rect x="1201.80" y="1992.67" width="30.40" height="8.69" fill="#00ff93"/><rect x="1201.80" y="1984.58" width="30.40" height="8.69" fill="#00ff7c"/><rect x="1201.80" y="1976.50" width="30.40" height="8.69" fill="#00ff66"/><rect x="1201.80" y="1968.41" width="30.40" height="8.69" fill="#00ff4f"/><rect x="1201.80" y="1960.32" width="30.40" height="8.69" fill="#00ff39"/><rect x="1201.80" y="1952.24" width="30.40" height="8.69" fill="#00ff22"/><rect x="1201.80" y="1944.15" width="30.40" height="8.69" fill="#00ff0b"/><rect x="1201.80" y="1936.06" width="30.40" height="8.69" fill="#0aff00"/><rect x="1201.80" y="1927.98" width="30.40" height="8.69" fill="#1fff00"/><rect x="1201.80" y="1919.89" width="30.40" height="8.69" fill="#34ff00"/><rect x="1201.80" y="1911.80" width="30.40" height="8.69" fill="#49ff00"/><rect x="1201.80" y="1903.72" width="30.40" height="8.69" fill="#5eff00"/><rect x="1201.80" y="1895.63" width="30.40" height="8.69" fill="#72ff00"/><rect x="1201.80" y="1887.54" width="30.40" height="8.69" fill="#87ff00"/><rect x="1201.80" y="1879.46" width="30.40" height="8.69" fill="#9cff00"/><rect x="1201.80" y="1871.37" width="30.40" height="8.69" fill="#b1ff00"/><rect x="1201.80" y="1863.29" width="30.40" height="8.69" fill="#c6ff00"/><rect x="1201.80" y="1855.20" width="30.40" height="8.69" fill="#dbff00"/><rect x="1201.80" y="1847.11" width="30.40" height="8.69" fill="#efff00"/><rect x="1201.80" y="1839.03" width="30.40" height="8.69" fill="#fffa00"/><rect x="1201.80" y="1830.94" width="30.40" height="8.69" fill="#ffe500"/><rect x="1201.80" y="1822.85" width="30.40" height="8.69" fill="#ffd000"/><rect x="1201.80" y="1814.77" width="30.40" height="8.69" fill="#ffbb00"/><rect x="1201.80" y="1806.68" width="30.40" height="8.69" fill="#ffa700"/><rect x="1201.80" y="1798.59" width="30.40" height="8.69" fill="#ff9200"/><rect x="1201.80" y="1790.51" width="30.40" height="8.69" fill="#ff7d00"/><rect x="1201.80" y="1782.42" width="30.40" height="8.69" fill="#ff6800"/><rect x="1201.80" y="1774.33" width="30.40" height="8.69" fill="#ff5300"/><rect x="1201.80" y="1766.25" width="30.40" height="8.69" fill="#ff3e00"/><rect x="1201.80" y="1758.16" width="30.40" height="8.69" fill="#ff2a00"/><rect x="1201.80" y="1750.08" width="30.40" height="8.69" fill="#ff1500"/><rect x="1201.80" y="1741.99" width="30.40" height="8.69" fill="#ff0000"/><rect x="1201.80" y="2146.61" width="30.40" height="9.29" fill="#000"/><rect x="1201.80" y="1733.00" width="30.40" height="9.29" fill="#fff"/>
<rect x="1202.40" y="1733.60" width="29.20" height="421.70" fill="none" stroke="#111" stroke-width="1.20"/>
<text x="1245.5" y="1748.2" font-size="18.48" font-weight="normal" text-anchor="start" fill="#111" textLength="44.4" lengthAdjust="spacingAndGlyphs">0.425</text>
<text x="1245.5" y="1798.8" font-size="18.48" font-weight="normal" text-anchor="start" fill="#111" textLength="44.4" lengthAdjust="spacingAndGlyphs">0.308</text>
<text x="1245.5" y="1849.5" font-size="18.48" font-weight="normal" text-anchor="start" fill="#111" textLength="44.4" lengthAdjust="spacingAndGlyphs">0.191</text>
<text x="1245.5" y="1900.1" font-size="18.48" font-weight="normal" text-anchor="start" fill="#111" textLength="54.2" lengthAdjust="spacingAndGlyphs">0.0744</text>
<text x="1245.5" y="1950.8" font-size="18.48" font-weight="normal" text-anchor="start" fill="#111" textLength="60.2" lengthAdjust="spacingAndGlyphs">-0.0425</text>
<text x="1245.5" y="2001.4" font-size="18.48" font-weight="normal" text-anchor="start" fill="#111" textLength="50.3" lengthAdjust="spacingAndGlyphs">-0.159</text>
<text x="1245.5" y="2052.0" font-size="18.48" font-weight="normal" text-anchor="start" fill="#111" textLength="50.3" lengthAdjust="spacingAndGlyphs">-0.276</text>
<text x="1245.5" y="2102.7" font-size="18.48" font-weight="normal" text-anchor="start" fill="#111" textLength="50.3" lengthAdjust="spacingAndGlyphs">-0.393</text>
<text x="1245.5" y="2153.3" font-size="18.48" font-weight="normal" text-anchor="start" fill="#111" textLength="50.3" lengthAdjust="spacingAndGlyphs">-0.510</text>
<path d="M1231.70 1741.89h5.99M1231.70 1792.53h5.99M1231.70 1843.17h5.99M1231.70 1893.81h5.99M1231.70 1944.45h5.99M1231.70 1995.09h5.99M1231.70 2045.73h5.99M1231.70 2096.37h5.99M1231.70 2147.01h5.99" stroke="#1a1a1a" stroke-width="1.50" fill="none"/></g>
</svg>
</body>
</html>
